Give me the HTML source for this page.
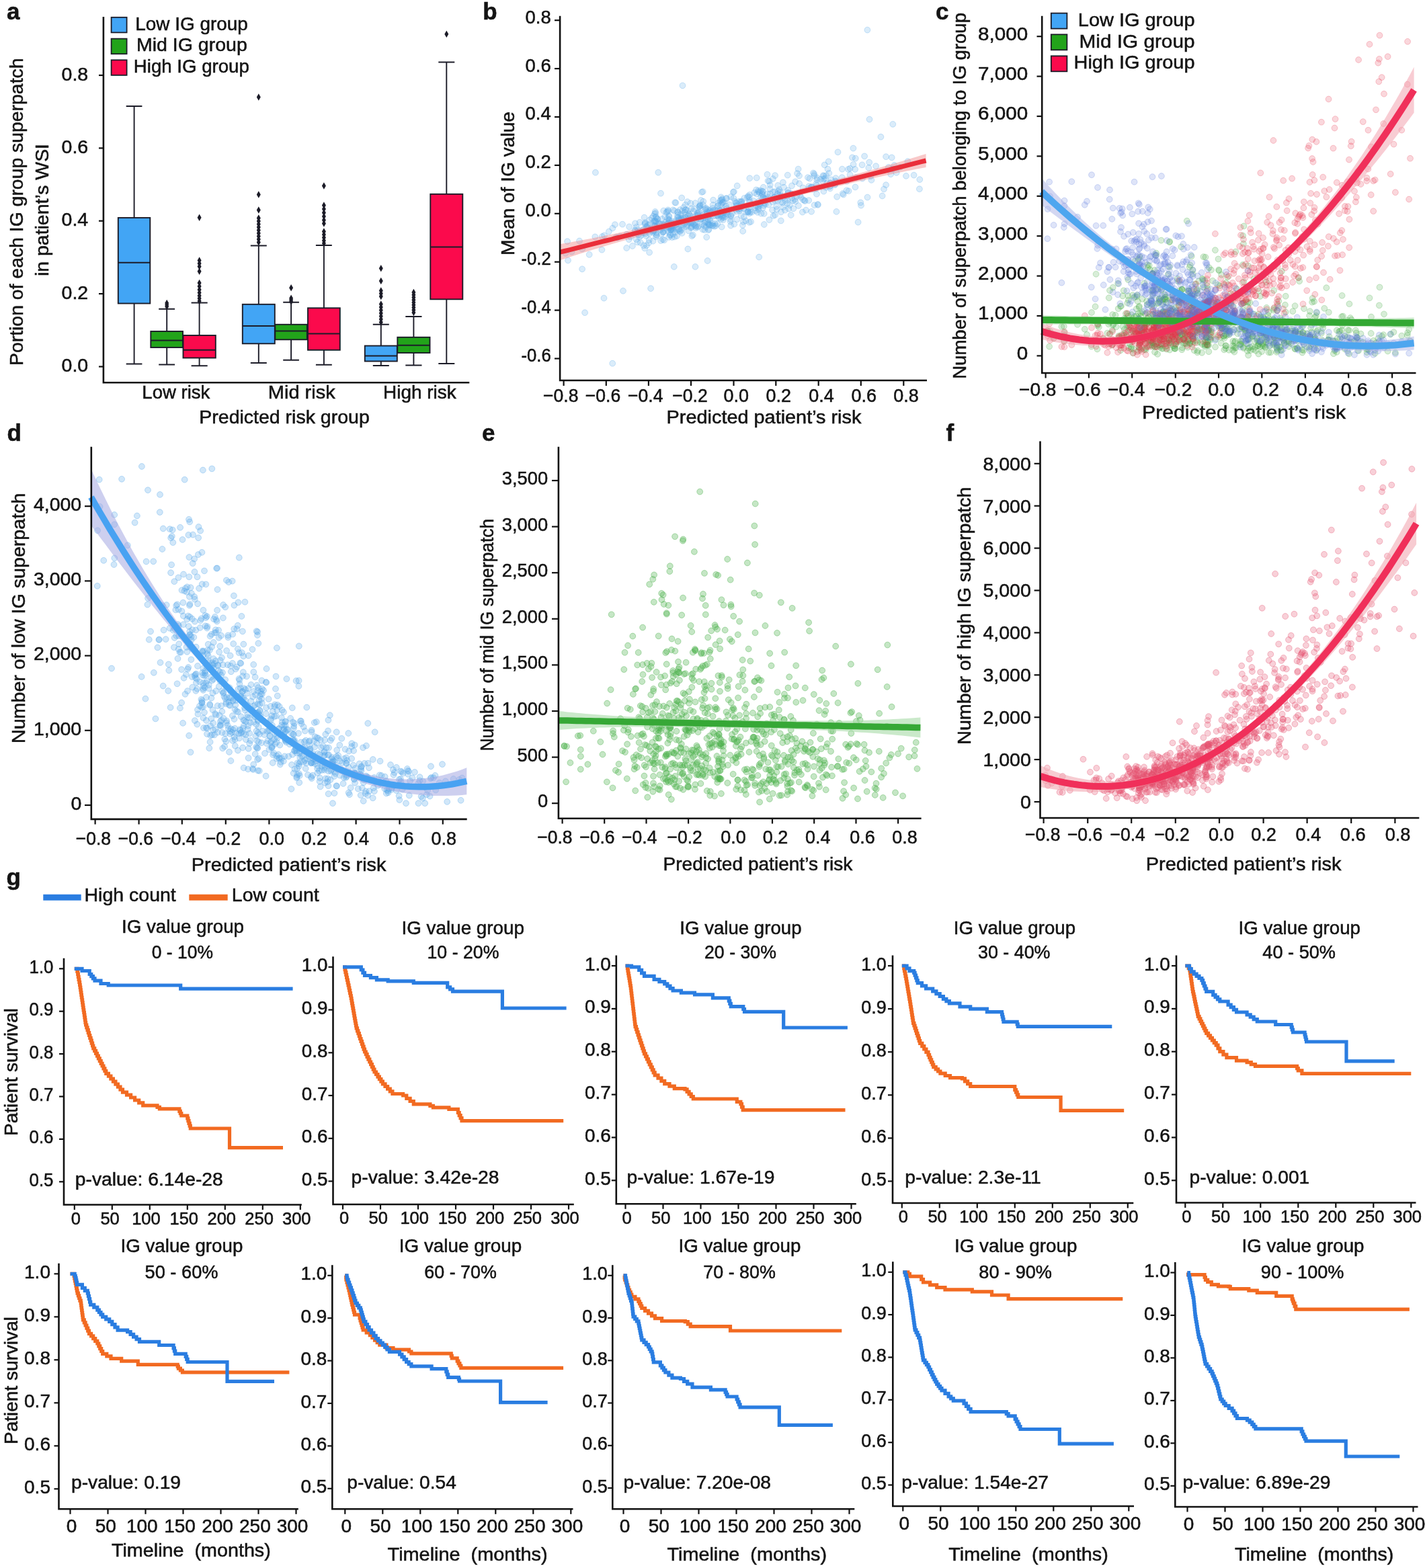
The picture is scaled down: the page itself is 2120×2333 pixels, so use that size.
<!DOCTYPE html>
<html><head><meta charset="utf-8"><title>Figure</title><style>html,body{margin:0;padding:0;background:#fff;width:2120px;height:2333px;overflow:hidden}svg{display:block}text{fill:#141414;stroke:#141414;stroke-width:0.55px;white-space:pre}</style></head><body>
<svg width="2120" height="2333" viewBox="0 0 2120 2333" font-family="Liberation Sans, Arial, sans-serif" font-size="28.5">
<rect width="2120" height="2333" fill="#fff"/>
<text x="10.0" y="28.5" font-size="35" font-weight="bold">a</text>
<path d="M153.9,25 V569.3 H698.3" stroke="#111" stroke-width="2.6" fill="none"/>
<line x1="147.0" y1="545.5" x2="153.9" y2="545.5" stroke="#111" stroke-width="2.2"/>
<text x="91.6" y="553.1">0.0</text>
<line x1="147.0" y1="437.1" x2="153.9" y2="437.1" stroke="#111" stroke-width="2.2"/>
<text x="91.6" y="444.7">0.2</text>
<line x1="147.0" y1="328.7" x2="153.9" y2="328.7" stroke="#111" stroke-width="2.2"/>
<text x="91.6" y="336.3">0.4</text>
<line x1="147.0" y1="220.4" x2="153.9" y2="220.4" stroke="#111" stroke-width="2.2"/>
<text x="91.6" y="228.0">0.6</text>
<line x1="147.0" y1="112.0" x2="153.9" y2="112.0" stroke="#111" stroke-width="2.2"/>
<text x="91.6" y="119.6">0.8</text>
<rect x="165.6" y="25.8" width="23" height="22.6" fill="#42a5f5" stroke="#1c1c28" stroke-width="1.8"/>
<rect x="165.6" y="57.6" width="23" height="22.6" fill="#22a31a" stroke="#1c1c28" stroke-width="1.8"/>
<rect x="165.6" y="89.3" width="23" height="22.6" fill="#fb0a4c" stroke="#1c1c28" stroke-width="1.8"/>
<text x="201.3" y="44.6" textLength="167.5" lengthAdjust="spacingAndGlyphs">Low IG group</text>
<text x="203.0" y="76.4">Mid IG group</text>
<text x="198.8" y="107.6" textLength="172.0" lengthAdjust="spacingAndGlyphs">High IG group</text>
<text x="211.3" y="592.6" textLength="101.1" lengthAdjust="spacingAndGlyphs">Low risk</text>
<text x="398.8" y="593.0" textLength="99.9" lengthAdjust="spacingAndGlyphs">Mid risk</text>
<text x="570.0" y="593.0" textLength="108.7" lengthAdjust="spacingAndGlyphs">High risk</text>
<text x="296.3" y="629.6">Predicted risk group</text>
<text transform="translate(33.6,544.0) rotate(-90)" x="-0.0" y="0" textLength="457.5" lengthAdjust="spacingAndGlyphs">Portion of each IG group superpatch</text>
<text transform="translate(72.0,411.0) rotate(-90)" x="-0.0" y="0" textLength="197.0" lengthAdjust="spacingAndGlyphs">in patient’s WSI</text>
<path d="M199.6,324.0 V158.0 M187.7,158.0 H211.4 M199.6,451.5 V541.5 M187.7,541.5 H211.4" stroke="#1c1c28" stroke-width="1.9" fill="none"/>
<rect x="175.8" y="324.0" width="47.5" height="127.5" fill="#42a5f5" stroke="#1c1c28" stroke-width="1.9"/>
<line x1="175.8" y1="390.8" x2="223.3" y2="390.8" stroke="#1c1c28" stroke-width="1.9"/>
<path d="M248.2,493.0 V459.8 M236.2,459.8 H260.1 M248.2,517.0 V542.5 M236.2,542.5 H260.1" stroke="#1c1c28" stroke-width="1.9" fill="none"/>
<rect x="224.3" y="493.0" width="47.7" height="24.0" fill="#22a31a" stroke="#1c1c28" stroke-width="1.9"/>
<line x1="224.3" y1="506.5" x2="272.0" y2="506.5" stroke="#1c1c28" stroke-width="1.9"/>
<path d="M248.2,445.8l3,5.2 -3,5.2 -3,-5.2zM248.2,448.3l3,5.2 -3,5.2 -3,-5.2zM248.2,450.8l3,5.2 -3,5.2 -3,-5.2z" fill="#1c1c28"/>
<path d="M296.6,499.0 V450.5 M284.6,450.5 H308.7 M296.6,532.5 V544.3 M284.6,544.3 H308.7" stroke="#1c1c28" stroke-width="1.9" fill="none"/>
<rect x="272.5" y="499.0" width="48.3" height="33.5" fill="#fb0a4c" stroke="#1c1c28" stroke-width="1.9"/>
<line x1="272.5" y1="520.8" x2="320.8" y2="520.8" stroke="#1c1c28" stroke-width="1.9"/>
<path d="M296.6,318.6l3,5.2 -3,5.2 -3,-5.2zM296.6,382.3l3,5.2 -3,5.2 -3,-5.2zM296.6,386.8l3,5.2 -3,5.2 -3,-5.2zM296.6,391.3l3,5.2 -3,5.2 -3,-5.2zM296.6,398.6l3,5.2 -3,5.2 -3,-5.2zM296.6,415.8l3,5.2 -3,5.2 -3,-5.2zM296.6,420.8l3,5.2 -3,5.2 -3,-5.2zM296.6,425.8l3,5.2 -3,5.2 -3,-5.2zM296.6,430.3l3,5.2 -3,5.2 -3,-5.2zM296.6,434.8l3,5.2 -3,5.2 -3,-5.2zM296.6,438.8l3,5.2 -3,5.2 -3,-5.2zM296.6,442.8l3,5.2 -3,5.2 -3,-5.2z" fill="#1c1c28"/>
<path d="M384.8,452.8 V365.5 M372.8,365.5 H396.8 M384.8,511.3 V540.0 M372.8,540.0 H396.8" stroke="#1c1c28" stroke-width="1.9" fill="none"/>
<rect x="360.8" y="452.8" width="48.0" height="58.5" fill="#42a5f5" stroke="#1c1c28" stroke-width="1.9"/>
<line x1="360.8" y1="485.0" x2="408.8" y2="485.0" stroke="#1c1c28" stroke-width="1.9"/>
<path d="M384.8,139.3l3,5.2 -3,5.2 -3,-5.2zM384.8,284.3l3,5.2 -3,5.2 -3,-5.2zM384.8,307.3l3,5.2 -3,5.2 -3,-5.2zM384.8,319.3l3,5.2 -3,5.2 -3,-5.2zM384.8,323.8l3,5.2 -3,5.2 -3,-5.2zM384.8,328.3l3,5.2 -3,5.2 -3,-5.2zM384.8,332.8l3,5.2 -3,5.2 -3,-5.2zM384.8,337.3l3,5.2 -3,5.2 -3,-5.2zM384.8,341.8l3,5.2 -3,5.2 -3,-5.2zM384.8,346.3l3,5.2 -3,5.2 -3,-5.2zM384.8,350.8l3,5.2 -3,5.2 -3,-5.2zM384.8,355.3l3,5.2 -3,5.2 -3,-5.2z" fill="#1c1c28"/>
<path d="M433.1,482.8 V449.8 M421.2,449.8 H444.9 M433.1,505.3 V535.8 M421.2,535.8 H444.9" stroke="#1c1c28" stroke-width="1.9" fill="none"/>
<rect x="409.3" y="482.8" width="47.5" height="22.5" fill="#22a31a" stroke="#1c1c28" stroke-width="1.9"/>
<line x1="409.3" y1="492.5" x2="456.8" y2="492.5" stroke="#1c1c28" stroke-width="1.9"/>
<path d="M433.1,423.1l3,5.2 -3,5.2 -3,-5.2zM433.1,438.6l3,5.2 -3,5.2 -3,-5.2zM433.1,441.1l3,5.2 -3,5.2 -3,-5.2zM433.1,443.6l3,5.2 -3,5.2 -3,-5.2z" fill="#1c1c28"/>
<path d="M481.9,458.3 V365.0 M469.9,365.0 H493.8 M481.9,520.8 V542.8 M469.9,542.8 H493.8" stroke="#1c1c28" stroke-width="1.9" fill="none"/>
<rect x="458.0" y="458.3" width="47.8" height="62.5" fill="#fb0a4c" stroke="#1c1c28" stroke-width="1.9"/>
<line x1="458.0" y1="496.5" x2="505.8" y2="496.5" stroke="#1c1c28" stroke-width="1.9"/>
<path d="M481.9,271.3l3,5.2 -3,5.2 -3,-5.2zM481.9,300.3l3,5.2 -3,5.2 -3,-5.2zM481.9,305.8l3,5.2 -3,5.2 -3,-5.2zM481.9,311.3l3,5.2 -3,5.2 -3,-5.2zM481.9,316.8l3,5.2 -3,5.2 -3,-5.2zM481.9,322.3l3,5.2 -3,5.2 -3,-5.2zM481.9,327.3l3,5.2 -3,5.2 -3,-5.2zM481.9,339.3l3,5.2 -3,5.2 -3,-5.2zM481.9,343.8l3,5.2 -3,5.2 -3,-5.2zM481.9,348.3l3,5.2 -3,5.2 -3,-5.2zM481.9,352.8l3,5.2 -3,5.2 -3,-5.2zM481.9,356.8l3,5.2 -3,5.2 -3,-5.2z" fill="#1c1c28"/>
<path d="M566.8,514.5 V482.8 M554.8,482.8 H578.8 M566.8,537.5 V544.0 M554.8,544.0 H578.8" stroke="#1c1c28" stroke-width="1.9" fill="none"/>
<rect x="542.8" y="514.5" width="48.0" height="23.0" fill="#42a5f5" stroke="#1c1c28" stroke-width="1.9"/>
<line x1="542.8" y1="529.5" x2="590.8" y2="529.5" stroke="#1c1c28" stroke-width="1.9"/>
<path d="M566.8,394.1l3,5.2 -3,5.2 -3,-5.2zM566.8,412.8l3,5.2 -3,5.2 -3,-5.2zM566.8,427.3l3,5.2 -3,5.2 -3,-5.2zM566.8,431.6l3,5.2 -3,5.2 -3,-5.2zM566.8,435.8l3,5.2 -3,5.2 -3,-5.2zM566.8,447.3l3,5.2 -3,5.2 -3,-5.2zM566.8,451.8l3,5.2 -3,5.2 -3,-5.2zM566.8,456.3l3,5.2 -3,5.2 -3,-5.2zM566.8,460.8l3,5.2 -3,5.2 -3,-5.2zM566.8,465.3l3,5.2 -3,5.2 -3,-5.2zM566.8,469.8l3,5.2 -3,5.2 -3,-5.2zM566.8,474.3l3,5.2 -3,5.2 -3,-5.2z" fill="#1c1c28"/>
<path d="M615.4,501.8 V471.0 M603.3,471.0 H627.5 M615.4,525.0 V543.5 M603.3,543.5 H627.5" stroke="#1c1c28" stroke-width="1.9" fill="none"/>
<rect x="591.3" y="501.8" width="48.2" height="23.2" fill="#22a31a" stroke="#1c1c28" stroke-width="1.9"/>
<line x1="591.3" y1="513.8" x2="639.5" y2="513.8" stroke="#1c1c28" stroke-width="1.9"/>
<path d="M615.4,429.8l3,5.2 -3,5.2 -3,-5.2zM615.4,433.6l3,5.2 -3,5.2 -3,-5.2zM615.4,437.3l3,5.2 -3,5.2 -3,-5.2zM615.4,441.1l3,5.2 -3,5.2 -3,-5.2zM615.4,444.8l3,5.2 -3,5.2 -3,-5.2zM615.4,448.6l3,5.2 -3,5.2 -3,-5.2zM615.4,452.3l3,5.2 -3,5.2 -3,-5.2zM615.4,456.1l3,5.2 -3,5.2 -3,-5.2zM615.4,459.8l3,5.2 -3,5.2 -3,-5.2z" fill="#1c1c28"/>
<path d="M664.3,288.8 V92.5 M652.3,92.5 H676.3 M664.3,445.3 V541.0 M652.3,541.0 H676.3" stroke="#1c1c28" stroke-width="1.9" fill="none"/>
<rect x="640.3" y="288.8" width="48.0" height="156.5" fill="#fb0a4c" stroke="#1c1c28" stroke-width="1.9"/>
<line x1="640.3" y1="367.5" x2="688.3" y2="367.5" stroke="#1c1c28" stroke-width="1.9"/>
<path d="M664.3,45.6l3,5.2 -3,5.2 -3,-5.2z" fill="#1c1c28"/>
<text x="718.2" y="28.6" font-size="35" font-weight="bold">b</text>
<clipPath id="c1"><rect x="833.1" y="0" width="551.9" height="566.0"/></clipPath>
<g clip-path="url(#c1)" fill="#58a8e8" fill-opacity="0.22" stroke="#58a8e8" stroke-opacity="0.30" stroke-width="1"><circle cx="1076.9" cy="323.8" r="4.4"/><circle cx="1310.4" cy="203.7" r="4.4"/><circle cx="995.4" cy="322.4" r="4.4"/><circle cx="1153.1" cy="261.1" r="4.4"/><circle cx="1005.4" cy="301.6" r="4.4"/><circle cx="1216.8" cy="304.9" r="4.4"/><circle cx="1242.2" cy="275.1" r="4.4"/><circle cx="1081.0" cy="318.7" r="4.4"/><circle cx="1057.2" cy="334.9" r="4.4"/><circle cx="966.4" cy="347.3" r="4.4"/><circle cx="1059.8" cy="332.6" r="4.4"/><circle cx="1103.5" cy="303.6" r="4.4"/><circle cx="1327.4" cy="251.4" r="4.4"/><circle cx="1105.9" cy="330.0" r="4.4"/><circle cx="1215.0" cy="288.7" r="4.4"/><circle cx="1225.4" cy="266.1" r="4.4"/><circle cx="1013.4" cy="324.4" r="4.4"/><circle cx="997.9" cy="340.7" r="4.4"/><circle cx="1033.2" cy="335.0" r="4.4"/><circle cx="1095.8" cy="314.3" r="4.4"/><circle cx="1024.3" cy="343.3" r="4.4"/><circle cx="1123.6" cy="309.1" r="4.4"/><circle cx="1125.7" cy="264.6" r="4.4"/><circle cx="1060.2" cy="310.0" r="4.4"/><circle cx="972.8" cy="343.2" r="4.4"/><circle cx="1007.2" cy="332.8" r="4.4"/><circle cx="1208.3" cy="278.8" r="4.4"/><circle cx="1027.3" cy="332.2" r="4.4"/><circle cx="968.4" cy="342.1" r="4.4"/><circle cx="1189.1" cy="273.1" r="4.4"/><circle cx="1008.2" cy="315.1" r="4.4"/><circle cx="1321.9" cy="248.9" r="4.4"/><circle cx="1073.7" cy="337.6" r="4.4"/><circle cx="1068.6" cy="311.8" r="4.4"/><circle cx="1262.5" cy="284.2" r="4.4"/><circle cx="1053.5" cy="326.6" r="4.4"/><circle cx="1041.8" cy="306.2" r="4.4"/><circle cx="993.9" cy="331.4" r="4.4"/><circle cx="1019.9" cy="312.2" r="4.4"/><circle cx="1038.0" cy="316.3" r="4.4"/><circle cx="1089.2" cy="317.5" r="4.4"/><circle cx="1173.3" cy="310.5" r="4.4"/><circle cx="985.1" cy="338.9" r="4.4"/><circle cx="1075.0" cy="301.4" r="4.4"/><circle cx="952.9" cy="361.1" r="4.4"/><circle cx="1339.2" cy="248.7" r="4.4"/><circle cx="966.4" cy="327.4" r="4.4"/><circle cx="1127.0" cy="315.9" r="4.4"/><circle cx="1014.0" cy="326.1" r="4.4"/><circle cx="945.0" cy="332.3" r="4.4"/><circle cx="1162.8" cy="291.6" r="4.4"/><circle cx="1062.8" cy="336.8" r="4.4"/><circle cx="1303.1" cy="247.2" r="4.4"/><circle cx="1064.9" cy="335.9" r="4.4"/><circle cx="988.1" cy="334.0" r="4.4"/><circle cx="1035.4" cy="337.1" r="4.4"/><circle cx="1106.9" cy="322.8" r="4.4"/><circle cx="1087.5" cy="321.9" r="4.4"/><circle cx="1080.4" cy="295.0" r="4.4"/><circle cx="1197.6" cy="299.2" r="4.4"/><circle cx="998.4" cy="334.4" r="4.4"/><circle cx="1071.4" cy="313.0" r="4.4"/><circle cx="1028.8" cy="338.7" r="4.4"/><circle cx="1060.6" cy="305.0" r="4.4"/><circle cx="1199.1" cy="312.7" r="4.4"/><circle cx="1105.2" cy="343.9" r="4.4"/><circle cx="1003.5" cy="335.5" r="4.4"/><circle cx="1106.6" cy="310.3" r="4.4"/><circle cx="1099.2" cy="299.8" r="4.4"/><circle cx="926.0" cy="333.7" r="4.4"/><circle cx="1149.3" cy="300.5" r="4.4"/><circle cx="1235.0" cy="280.3" r="4.4"/><circle cx="1056.1" cy="314.2" r="4.4"/><circle cx="1272.8" cy="235.6" r="4.4"/><circle cx="994.7" cy="345.6" r="4.4"/><circle cx="1040.2" cy="316.0" r="4.4"/><circle cx="1178.0" cy="294.9" r="4.4"/><circle cx="1067.3" cy="306.8" r="4.4"/><circle cx="1155.3" cy="307.1" r="4.4"/><circle cx="1245.2" cy="292.8" r="4.4"/><circle cx="850.5" cy="374.7" r="4.4"/><circle cx="1172.2" cy="283.1" r="4.4"/><circle cx="1171.6" cy="296.9" r="4.4"/><circle cx="975.4" cy="330.4" r="4.4"/><circle cx="944.3" cy="342.6" r="4.4"/><circle cx="1286.1" cy="232.4" r="4.4"/><circle cx="1229.2" cy="261.2" r="4.4"/><circle cx="1135.8" cy="293.8" r="4.4"/><circle cx="1014.2" cy="294.4" r="4.4"/><circle cx="1045.8" cy="325.2" r="4.4"/><circle cx="984.0" cy="348.3" r="4.4"/><circle cx="1225.4" cy="284.7" r="4.4"/><circle cx="975.9" cy="352.4" r="4.4"/><circle cx="1067.3" cy="333.0" r="4.4"/><circle cx="1040.5" cy="307.5" r="4.4"/><circle cx="1312.6" cy="291.5" r="4.4"/><circle cx="1153.0" cy="285.2" r="4.4"/><circle cx="1134.5" cy="294.2" r="4.4"/><circle cx="1051.7" cy="318.3" r="4.4"/><circle cx="987.2" cy="339.5" r="4.4"/><circle cx="1039.3" cy="336.5" r="4.4"/><circle cx="1021.5" cy="337.0" r="4.4"/><circle cx="1174.7" cy="305.2" r="4.4"/><circle cx="1115.0" cy="300.7" r="4.4"/><circle cx="1136.2" cy="305.7" r="4.4"/><circle cx="1149.8" cy="266.0" r="4.4"/><circle cx="1117.1" cy="329.9" r="4.4"/><circle cx="950.7" cy="345.3" r="4.4"/><circle cx="935.7" cy="356.3" r="4.4"/><circle cx="968.1" cy="344.6" r="4.4"/><circle cx="1086.6" cy="329.6" r="4.4"/><circle cx="1094.0" cy="311.7" r="4.4"/><circle cx="1150.5" cy="321.0" r="4.4"/><circle cx="1049.5" cy="310.9" r="4.4"/><circle cx="1145.5" cy="281.0" r="4.4"/><circle cx="1003.5" cy="352.5" r="4.4"/><circle cx="1081.1" cy="310.1" r="4.4"/><circle cx="1045.6" cy="319.8" r="4.4"/><circle cx="1150.4" cy="294.6" r="4.4"/><circle cx="1024.5" cy="318.3" r="4.4"/><circle cx="972.5" cy="329.8" r="4.4"/><circle cx="1046.3" cy="299.7" r="4.4"/><circle cx="1177.7" cy="289.0" r="4.4"/><circle cx="1153.1" cy="320.0" r="4.4"/><circle cx="1101.1" cy="310.2" r="4.4"/><circle cx="1269.4" cy="220.6" r="4.4"/><circle cx="1292.3" cy="249.7" r="4.4"/><circle cx="1006.0" cy="333.7" r="4.4"/><circle cx="1024.3" cy="325.2" r="4.4"/><circle cx="1134.3" cy="284.6" r="4.4"/><circle cx="1072.9" cy="303.5" r="4.4"/><circle cx="966.1" cy="375.6" r="4.4"/><circle cx="1164.9" cy="271.4" r="4.4"/><circle cx="999.4" cy="340.2" r="4.4"/><circle cx="1128.0" cy="309.6" r="4.4"/><circle cx="1125.2" cy="306.2" r="4.4"/><circle cx="1060.6" cy="335.9" r="4.4"/><circle cx="1059.6" cy="335.5" r="4.4"/><circle cx="1008.1" cy="320.3" r="4.4"/><circle cx="1145.7" cy="275.2" r="4.4"/><circle cx="1191.8" cy="293.6" r="4.4"/><circle cx="1054.2" cy="333.1" r="4.4"/><circle cx="1143.4" cy="304.6" r="4.4"/><circle cx="1041.4" cy="305.0" r="4.4"/><circle cx="1207.3" cy="277.9" r="4.4"/><circle cx="1330.5" cy="246.0" r="4.4"/><circle cx="995.9" cy="337.7" r="4.4"/><circle cx="1059.8" cy="315.0" r="4.4"/><circle cx="1073.5" cy="321.2" r="4.4"/><circle cx="973.4" cy="342.1" r="4.4"/><circle cx="1142.8" cy="293.6" r="4.4"/><circle cx="866.2" cy="370.5" r="4.4"/><circle cx="1071.7" cy="318.3" r="4.4"/><circle cx="1031.5" cy="333.3" r="4.4"/><circle cx="1065.0" cy="321.2" r="4.4"/><circle cx="1116.7" cy="307.3" r="4.4"/><circle cx="1156.9" cy="298.4" r="4.4"/><circle cx="1062.7" cy="313.1" r="4.4"/><circle cx="1224.0" cy="269.9" r="4.4"/><circle cx="988.2" cy="357.3" r="4.4"/><circle cx="1149.1" cy="312.4" r="4.4"/><circle cx="866.1" cy="400.3" r="4.4"/><circle cx="885.3" cy="352.4" r="4.4"/><circle cx="1115.3" cy="289.9" r="4.4"/><circle cx="1128.1" cy="283.5" r="4.4"/><circle cx="1091.9" cy="285.2" r="4.4"/><circle cx="1032.9" cy="311.1" r="4.4"/><circle cx="1283.0" cy="265.6" r="4.4"/><circle cx="1008.8" cy="341.4" r="4.4"/><circle cx="993.0" cy="343.0" r="4.4"/><circle cx="1293.2" cy="241.6" r="4.4"/><circle cx="992.5" cy="314.8" r="4.4"/><circle cx="999.7" cy="329.1" r="4.4"/><circle cx="976.2" cy="349.2" r="4.4"/><circle cx="1161.9" cy="315.4" r="4.4"/><circle cx="1068.0" cy="320.7" r="4.4"/><circle cx="1036.0" cy="326.6" r="4.4"/><circle cx="1042.5" cy="325.4" r="4.4"/><circle cx="1180.4" cy="310.3" r="4.4"/><circle cx="1054.6" cy="341.1" r="4.4"/><circle cx="967.2" cy="341.2" r="4.4"/><circle cx="1214.2" cy="273.5" r="4.4"/><circle cx="983.1" cy="358.1" r="4.4"/><circle cx="995.4" cy="326.9" r="4.4"/><circle cx="986.5" cy="345.6" r="4.4"/><circle cx="862.0" cy="358.5" r="4.4"/><circle cx="1072.8" cy="293.3" r="4.4"/><circle cx="1208.9" cy="281.7" r="4.4"/><circle cx="1125.9" cy="288.6" r="4.4"/><circle cx="1234.8" cy="272.1" r="4.4"/><circle cx="1172.4" cy="287.6" r="4.4"/><circle cx="955.2" cy="342.6" r="4.4"/><circle cx="1075.2" cy="316.8" r="4.4"/><circle cx="1228.6" cy="278.9" r="4.4"/><circle cx="1068.7" cy="302.5" r="4.4"/><circle cx="1134.9" cy="309.2" r="4.4"/><circle cx="1140.1" cy="295.6" r="4.4"/><circle cx="1047.9" cy="332.2" r="4.4"/><circle cx="1254.8" cy="289.6" r="4.4"/><circle cx="1318.1" cy="275.2" r="4.4"/><circle cx="973.7" cy="328.6" r="4.4"/><circle cx="1104.9" cy="335.1" r="4.4"/><circle cx="974.7" cy="337.0" r="4.4"/><circle cx="1215.8" cy="264.6" r="4.4"/><circle cx="1315.0" cy="281.4" r="4.4"/><circle cx="1165.0" cy="308.0" r="4.4"/><circle cx="995.4" cy="339.4" r="4.4"/><circle cx="1162.2" cy="300.4" r="4.4"/><circle cx="940.9" cy="366.0" r="4.4"/><circle cx="1096.7" cy="276.5" r="4.4"/><circle cx="1112.5" cy="315.7" r="4.4"/><circle cx="1001.0" cy="334.5" r="4.4"/><circle cx="1020.1" cy="312.1" r="4.4"/><circle cx="1042.5" cy="326.5" r="4.4"/><circle cx="1194.6" cy="279.4" r="4.4"/><circle cx="932.4" cy="348.7" r="4.4"/><circle cx="1153.0" cy="298.7" r="4.4"/><circle cx="1295.2" cy="262.3" r="4.4"/><circle cx="914.9" cy="334.2" r="4.4"/><circle cx="1075.5" cy="321.7" r="4.4"/><circle cx="1000.9" cy="337.9" r="4.4"/><circle cx="980.3" cy="331.6" r="4.4"/><circle cx="1264.6" cy="260.0" r="4.4"/><circle cx="1224.6" cy="261.1" r="4.4"/><circle cx="1014.7" cy="346.9" r="4.4"/><circle cx="1098.5" cy="311.4" r="4.4"/><circle cx="1333.7" cy="256.9" r="4.4"/><circle cx="992.7" cy="333.6" r="4.4"/><circle cx="1029.4" cy="351.1" r="4.4"/><circle cx="1350.4" cy="240.2" r="4.4"/><circle cx="995.1" cy="352.9" r="4.4"/><circle cx="1077.8" cy="315.5" r="4.4"/><circle cx="1074.3" cy="295.9" r="4.4"/><circle cx="1296.4" cy="267.9" r="4.4"/><circle cx="1010.4" cy="341.4" r="4.4"/><circle cx="953.8" cy="350.3" r="4.4"/><circle cx="1028.5" cy="310.5" r="4.4"/><circle cx="993.5" cy="325.3" r="4.4"/><circle cx="1001.1" cy="342.3" r="4.4"/><circle cx="936.1" cy="337.4" r="4.4"/><circle cx="1234.3" cy="277.7" r="4.4"/><circle cx="1017.6" cy="338.0" r="4.4"/><circle cx="1060.7" cy="313.3" r="4.4"/><circle cx="1115.0" cy="317.3" r="4.4"/><circle cx="1076.6" cy="315.0" r="4.4"/><circle cx="1091.3" cy="294.8" r="4.4"/><circle cx="1037.7" cy="317.6" r="4.4"/><circle cx="1006.9" cy="351.1" r="4.4"/><circle cx="1047.3" cy="322.3" r="4.4"/><circle cx="1101.6" cy="310.9" r="4.4"/><circle cx="977.8" cy="340.7" r="4.4"/><circle cx="1259.8" cy="269.7" r="4.4"/><circle cx="961.9" cy="365.2" r="4.4"/><circle cx="1233.3" cy="257.7" r="4.4"/><circle cx="946.6" cy="356.1" r="4.4"/><circle cx="1156.7" cy="288.9" r="4.4"/><circle cx="1085.0" cy="304.6" r="4.4"/><circle cx="1246.5" cy="226.3" r="4.4"/><circle cx="1032.1" cy="314.5" r="4.4"/><circle cx="1243.3" cy="265.1" r="4.4"/><circle cx="1076.1" cy="327.1" r="4.4"/><circle cx="1074.8" cy="301.7" r="4.4"/><circle cx="1083.2" cy="319.7" r="4.4"/><circle cx="1069.6" cy="324.0" r="4.4"/><circle cx="844.1" cy="359.2" r="4.4"/><circle cx="1172.3" cy="286.5" r="4.4"/><circle cx="1001.5" cy="339.9" r="4.4"/><circle cx="1087.1" cy="335.6" r="4.4"/><circle cx="1050.2" cy="309.6" r="4.4"/><circle cx="1242.6" cy="269.3" r="4.4"/><circle cx="1034.8" cy="335.8" r="4.4"/><circle cx="1210.0" cy="257.4" r="4.4"/><circle cx="1235.4" cy="276.7" r="4.4"/><circle cx="1115.2" cy="298.3" r="4.4"/><circle cx="1160.2" cy="293.5" r="4.4"/><circle cx="1203.4" cy="277.3" r="4.4"/><circle cx="1114.7" cy="293.3" r="4.4"/><circle cx="997.2" cy="349.1" r="4.4"/><circle cx="1273.7" cy="264.0" r="4.4"/><circle cx="1029.9" cy="330.6" r="4.4"/><circle cx="1242.4" cy="273.8" r="4.4"/><circle cx="1056.1" cy="327.5" r="4.4"/><circle cx="1138.8" cy="303.9" r="4.4"/><circle cx="974.9" cy="328.2" r="4.4"/><circle cx="1055.2" cy="335.2" r="4.4"/><circle cx="1189.9" cy="290.5" r="4.4"/><circle cx="1152.5" cy="293.5" r="4.4"/><circle cx="1196.8" cy="298.1" r="4.4"/><circle cx="1269.6" cy="244.7" r="4.4"/><circle cx="1178.0" cy="276.4" r="4.4"/><circle cx="1061.0" cy="321.7" r="4.4"/><circle cx="1290.5" cy="293.6" r="4.4"/><circle cx="990.2" cy="330.3" r="4.4"/><circle cx="1134.7" cy="285.0" r="4.4"/><circle cx="1042.8" cy="298.0" r="4.4"/><circle cx="1081.0" cy="295.4" r="4.4"/><circle cx="1012.8" cy="318.5" r="4.4"/><circle cx="1071.6" cy="298.8" r="4.4"/><circle cx="962.7" cy="337.2" r="4.4"/><circle cx="1135.7" cy="278.7" r="4.4"/><circle cx="1094.8" cy="301.7" r="4.4"/><circle cx="1077.0" cy="300.8" r="4.4"/><circle cx="1113.2" cy="315.4" r="4.4"/><circle cx="1013.8" cy="328.4" r="4.4"/><circle cx="1009.1" cy="323.6" r="4.4"/><circle cx="1201.9" cy="264.1" r="4.4"/><circle cx="937.9" cy="352.4" r="4.4"/><circle cx="1368.3" cy="267.1" r="4.4"/><circle cx="975.6" cy="329.4" r="4.4"/><circle cx="1027.5" cy="302.5" r="4.4"/><circle cx="1096.5" cy="326.3" r="4.4"/><circle cx="1159.2" cy="282.1" r="4.4"/><circle cx="1107.3" cy="294.8" r="4.4"/><circle cx="1071.1" cy="320.1" r="4.4"/><circle cx="1102.6" cy="320.9" r="4.4"/><circle cx="1128.6" cy="311.8" r="4.4"/><circle cx="1220.8" cy="266.7" r="4.4"/><circle cx="1068.6" cy="305.6" r="4.4"/><circle cx="1047.7" cy="335.7" r="4.4"/><circle cx="951.7" cy="330.8" r="4.4"/><circle cx="1079.0" cy="322.2" r="4.4"/><circle cx="1226.7" cy="245.4" r="4.4"/><circle cx="1070.9" cy="313.9" r="4.4"/><circle cx="1136.8" cy="334.0" r="4.4"/><circle cx="1052.6" cy="311.3" r="4.4"/><circle cx="1044.3" cy="333.7" r="4.4"/><circle cx="971.9" cy="321.7" r="4.4"/><circle cx="1166.1" cy="278.7" r="4.4"/><circle cx="1186.1" cy="258.0" r="4.4"/><circle cx="1207.1" cy="314.8" r="4.4"/><circle cx="982.5" cy="342.2" r="4.4"/><circle cx="957.5" cy="365.2" r="4.4"/><circle cx="1021.5" cy="329.8" r="4.4"/><circle cx="1016.1" cy="335.7" r="4.4"/><circle cx="958.6" cy="323.6" r="4.4"/><circle cx="995.4" cy="328.0" r="4.4"/><circle cx="1227.8" cy="265.4" r="4.4"/><circle cx="959.7" cy="331.2" r="4.4"/><circle cx="1038.0" cy="337.9" r="4.4"/><circle cx="1113.8" cy="309.3" r="4.4"/><circle cx="1282.6" cy="245.3" r="4.4"/><circle cx="986.4" cy="345.4" r="4.4"/><circle cx="1099.9" cy="313.6" r="4.4"/><circle cx="1008.3" cy="316.2" r="4.4"/><circle cx="963.8" cy="334.9" r="4.4"/><circle cx="1179.7" cy="298.5" r="4.4"/><circle cx="1235.3" cy="272.5" r="4.4"/><circle cx="1044.0" cy="285.9" r="4.4"/><circle cx="1046.0" cy="304.8" r="4.4"/><circle cx="1261.9" cy="251.8" r="4.4"/><circle cx="1045.7" cy="285.2" r="4.4"/><circle cx="1211.4" cy="261.3" r="4.4"/><circle cx="1272.4" cy="278.4" r="4.4"/><circle cx="1038.3" cy="319.4" r="4.4"/><circle cx="1244.1" cy="270.3" r="4.4"/><circle cx="1005.2" cy="328.5" r="4.4"/><circle cx="1054.3" cy="316.3" r="4.4"/><circle cx="1138.2" cy="299.1" r="4.4"/><circle cx="965.2" cy="361.3" r="4.4"/><circle cx="1264.6" cy="250.7" r="4.4"/><circle cx="1065.2" cy="313.2" r="4.4"/><circle cx="1244.4" cy="314.9" r="4.4"/><circle cx="1115.3" cy="265.2" r="4.4"/><circle cx="1048.3" cy="342.1" r="4.4"/><circle cx="899.0" cy="350.3" r="4.4"/><circle cx="1134.5" cy="289.7" r="4.4"/><circle cx="1092.3" cy="333.5" r="4.4"/><circle cx="1017.6" cy="325.8" r="4.4"/><circle cx="961.6" cy="337.1" r="4.4"/><circle cx="1164.2" cy="301.9" r="4.4"/><circle cx="1142.6" cy="269.1" r="4.4"/><circle cx="1124.0" cy="313.4" r="4.4"/><circle cx="1211.3" cy="258.9" r="4.4"/><circle cx="1203.5" cy="280.6" r="4.4"/><circle cx="1080.1" cy="306.5" r="4.4"/><circle cx="981.7" cy="333.7" r="4.4"/><circle cx="1213.9" cy="280.5" r="4.4"/><circle cx="959.8" cy="347.9" r="4.4"/><circle cx="956.0" cy="345.0" r="4.4"/><circle cx="1185.6" cy="292.2" r="4.4"/><circle cx="983.0" cy="287.7" r="4.4"/><circle cx="1029.3" cy="336.7" r="4.4"/><circle cx="976.1" cy="322.5" r="4.4"/><circle cx="960.0" cy="332.5" r="4.4"/><circle cx="1087.6" cy="320.4" r="4.4"/><circle cx="1130.6" cy="305.7" r="4.4"/><circle cx="1041.5" cy="310.1" r="4.4"/><circle cx="1167.8" cy="312.7" r="4.4"/><circle cx="1052.0" cy="315.3" r="4.4"/><circle cx="1056.6" cy="324.9" r="4.4"/><circle cx="1032.4" cy="323.7" r="4.4"/><circle cx="1010.7" cy="343.5" r="4.4"/><circle cx="1047.4" cy="318.3" r="4.4"/><circle cx="876.7" cy="378.8" r="4.4"/><circle cx="845.0" cy="387.4" r="4.4"/><circle cx="1125.0" cy="282.5" r="4.4"/><circle cx="997.7" cy="342.1" r="4.4"/><circle cx="1144.4" cy="327.1" r="4.4"/><circle cx="1112.8" cy="291.8" r="4.4"/><circle cx="1110.2" cy="315.4" r="4.4"/><circle cx="1023.4" cy="370.5" r="4.4"/><circle cx="1318.1" cy="233.2" r="4.4"/><circle cx="980.1" cy="333.5" r="4.4"/><circle cx="973.9" cy="318.2" r="4.4"/><circle cx="1054.0" cy="320.9" r="4.4"/><circle cx="1141.6" cy="288.8" r="4.4"/><circle cx="1253.7" cy="288.0" r="4.4"/><circle cx="1103.4" cy="300.5" r="4.4"/><circle cx="1095.3" cy="307.0" r="4.4"/><circle cx="1280.3" cy="301.4" r="4.4"/><circle cx="1325.2" cy="259.2" r="4.4"/><circle cx="1132.4" cy="317.7" r="4.4"/><circle cx="1093.4" cy="299.8" r="4.4"/><circle cx="1026.6" cy="321.7" r="4.4"/><circle cx="948.3" cy="360.3" r="4.4"/><circle cx="1141.5" cy="259.6" r="4.4"/><circle cx="1130.0" cy="286.5" r="4.4"/><circle cx="984.7" cy="325.9" r="4.4"/><circle cx="1030.9" cy="349.5" r="4.4"/><circle cx="959.2" cy="369.4" r="4.4"/><circle cx="1232.7" cy="240.3" r="4.4"/><circle cx="971.6" cy="345.7" r="4.4"/><circle cx="1015.7" cy="320.6" r="4.4"/><circle cx="994.2" cy="314.2" r="4.4"/><circle cx="995.5" cy="337.0" r="4.4"/><circle cx="1109.4" cy="328.5" r="4.4"/><circle cx="991.3" cy="316.0" r="4.4"/><circle cx="975.6" cy="323.4" r="4.4"/><circle cx="1101.6" cy="300.4" r="4.4"/><circle cx="1013.9" cy="342.0" r="4.4"/><circle cx="1204.6" cy="265.6" r="4.4"/><circle cx="1144.5" cy="269.6" r="4.4"/><circle cx="1017.0" cy="308.7" r="4.4"/><circle cx="1049.2" cy="330.2" r="4.4"/><circle cx="978.0" cy="325.7" r="4.4"/><circle cx="1252.9" cy="251.6" r="4.4"/><circle cx="1211.6" cy="305.2" r="4.4"/><circle cx="999.9" cy="353.1" r="4.4"/><circle cx="998.4" cy="342.2" r="4.4"/><circle cx="1136.7" cy="317.9" r="4.4"/><circle cx="1160.6" cy="285.6" r="4.4"/><circle cx="1009.3" cy="333.3" r="4.4"/><circle cx="1193.9" cy="315.6" r="4.4"/><circle cx="1096.6" cy="310.1" r="4.4"/><circle cx="1230.0" cy="273.4" r="4.4"/><circle cx="1103.4" cy="299.3" r="4.4"/><circle cx="1132.3" cy="292.6" r="4.4"/><circle cx="1121.1" cy="298.9" r="4.4"/><circle cx="1052.6" cy="388.0" r="4.4"/><circle cx="1133.9" cy="287.9" r="4.4"/><circle cx="1074.4" cy="297.5" r="4.4"/><circle cx="1252.7" cy="264.1" r="4.4"/><circle cx="1074.3" cy="323.7" r="4.4"/><circle cx="1079.3" cy="317.3" r="4.4"/><circle cx="976.5" cy="346.4" r="4.4"/><circle cx="1011.8" cy="344.3" r="4.4"/><circle cx="988.7" cy="335.1" r="4.4"/><circle cx="1011.7" cy="327.9" r="4.4"/><circle cx="1025.7" cy="319.5" r="4.4"/><circle cx="1040.6" cy="307.1" r="4.4"/><circle cx="949.8" cy="349.2" r="4.4"/><circle cx="1114.7" cy="330.8" r="4.4"/><circle cx="1053.9" cy="342.4" r="4.4"/><circle cx="1001.2" cy="348.5" r="4.4"/><circle cx="1157.9" cy="284.5" r="4.4"/><circle cx="1067.0" cy="320.4" r="4.4"/><circle cx="961.1" cy="351.0" r="4.4"/><circle cx="1183.1" cy="270.3" r="4.4"/><circle cx="1203.2" cy="298.2" r="4.4"/><circle cx="1326.7" cy="234.4" r="4.4"/><circle cx="998.3" cy="338.7" r="4.4"/><circle cx="1259.5" cy="283.3" r="4.4"/><circle cx="997.0" cy="335.4" r="4.4"/><circle cx="1095.5" cy="302.8" r="4.4"/><circle cx="1061.1" cy="297.7" r="4.4"/><circle cx="1112.0" cy="293.7" r="4.4"/><circle cx="1051.2" cy="352.9" r="4.4"/><circle cx="1013.5" cy="334.4" r="4.4"/><circle cx="1176.7" cy="320.0" r="4.4"/><circle cx="1018.3" cy="333.0" r="4.4"/><circle cx="966.6" cy="333.3" r="4.4"/><circle cx="997.0" cy="350.3" r="4.4"/><circle cx="964.2" cy="339.9" r="4.4"/><circle cx="1267.9" cy="234.4" r="4.4"/><circle cx="1236.6" cy="267.3" r="4.4"/><circle cx="1145.6" cy="288.4" r="4.4"/><circle cx="1034.4" cy="302.2" r="4.4"/><circle cx="1168.1" cy="298.3" r="4.4"/><circle cx="1177.4" cy="288.2" r="4.4"/><circle cx="1095.2" cy="305.6" r="4.4"/><circle cx="995.0" cy="321.0" r="4.4"/><circle cx="1000.8" cy="333.0" r="4.4"/><circle cx="1112.8" cy="314.7" r="4.4"/><circle cx="1206.7" cy="278.7" r="4.4"/><circle cx="1161.8" cy="328.4" r="4.4"/><circle cx="1281.0" cy="305.6" r="4.4"/><circle cx="1011.9" cy="312.1" r="4.4"/><circle cx="986.0" cy="356.4" r="4.4"/><circle cx="1019.8" cy="323.6" r="4.4"/><circle cx="1187.9" cy="306.1" r="4.4"/><circle cx="1225.4" cy="262.0" r="4.4"/><circle cx="995.3" cy="331.8" r="4.4"/><circle cx="1128.2" cy="299.8" r="4.4"/><circle cx="1050.3" cy="313.0" r="4.4"/><circle cx="1019.6" cy="304.9" r="4.4"/><circle cx="1122.3" cy="286.8" r="4.4"/><circle cx="1359.6" cy="260.6" r="4.4"/><circle cx="1054.3" cy="322.1" r="4.4"/><circle cx="1038.5" cy="325.9" r="4.4"/><circle cx="976.9" cy="337.5" r="4.4"/><circle cx="1022.2" cy="334.7" r="4.4"/><circle cx="946.7" cy="337.8" r="4.4"/><circle cx="922.8" cy="351.5" r="4.4"/><circle cx="1010.2" cy="325.5" r="4.4"/><circle cx="1004.8" cy="331.3" r="4.4"/><circle cx="1150.1" cy="285.7" r="4.4"/><circle cx="1155.8" cy="311.6" r="4.4"/><circle cx="1001.3" cy="312.4" r="4.4"/><circle cx="1016.7" cy="324.1" r="4.4"/><circle cx="1023.6" cy="321.0" r="4.4"/><circle cx="1272.1" cy="251.9" r="4.4"/><circle cx="959.4" cy="333.5" r="4.4"/><circle cx="1082.2" cy="314.3" r="4.4"/><circle cx="1231.5" cy="251.6" r="4.4"/><circle cx="971.8" cy="343.5" r="4.4"/><circle cx="999.9" cy="336.5" r="4.4"/><circle cx="1004.2" cy="301.3" r="4.4"/><circle cx="1152.5" cy="293.4" r="4.4"/><circle cx="911.3" cy="339.5" r="4.4"/><circle cx="978.3" cy="325.9" r="4.4"/><circle cx="969.6" cy="324.5" r="4.4"/><circle cx="965.8" cy="357.0" r="4.4"/><circle cx="977.0" cy="350.4" r="4.4"/><circle cx="975.4" cy="317.1" r="4.4"/><circle cx="1035.5" cy="320.7" r="4.4"/><circle cx="1038.1" cy="320.5" r="4.4"/><circle cx="1025.0" cy="329.6" r="4.4"/><circle cx="1074.7" cy="312.3" r="4.4"/><circle cx="987.7" cy="336.0" r="4.4"/><circle cx="1128.1" cy="307.1" r="4.4"/><circle cx="974.2" cy="335.7" r="4.4"/><circle cx="1050.0" cy="337.7" r="4.4"/><circle cx="1216.7" cy="304.0" r="4.4"/><circle cx="1009.7" cy="327.1" r="4.4"/><circle cx="1072.5" cy="326.4" r="4.4"/><circle cx="1027.7" cy="338.7" r="4.4"/><circle cx="1187.6" cy="251.6" r="4.4"/><circle cx="932.2" cy="369.0" r="4.4"/><circle cx="993.8" cy="312.4" r="4.4"/><circle cx="1194.4" cy="297.1" r="4.4"/><circle cx="993.5" cy="337.3" r="4.4"/><circle cx="841.3" cy="376.9" r="4.4"/><circle cx="1018.9" cy="315.9" r="4.4"/><circle cx="1137.5" cy="302.0" r="4.4"/><circle cx="1116.2" cy="315.5" r="4.4"/><circle cx="1087.2" cy="292.9" r="4.4"/><circle cx="1137.7" cy="295.7" r="4.4"/><circle cx="1047.3" cy="324.2" r="4.4"/><circle cx="972.5" cy="335.5" r="4.4"/><circle cx="1160.0" cy="290.8" r="4.4"/><circle cx="1015.4" cy="313.5" r="4.4"/><circle cx="1118.5" cy="315.8" r="4.4"/><circle cx="916.6" cy="353.0" r="4.4"/><circle cx="1072.3" cy="297.8" r="4.4"/><circle cx="1171.8" cy="260.6" r="4.4"/><circle cx="918.7" cy="353.8" r="4.4"/><circle cx="1007.8" cy="323.6" r="4.4"/><circle cx="1189.0" cy="261.5" r="4.4"/><circle cx="958.4" cy="346.5" r="4.4"/><circle cx="1052.9" cy="330.8" r="4.4"/><circle cx="1128.4" cy="285.4" r="4.4"/><circle cx="895.8" cy="352.0" r="4.4"/><circle cx="1000.8" cy="334.7" r="4.4"/><circle cx="945.5" cy="343.0" r="4.4"/><circle cx="1367.9" cy="281.2" r="4.4"/><circle cx="1023.0" cy="327.3" r="4.4"/><circle cx="1090.8" cy="285.9" r="4.4"/><circle cx="1131.1" cy="302.3" r="4.4"/><circle cx="1055.7" cy="312.9" r="4.4"/><circle cx="949.1" cy="342.0" r="4.4"/><circle cx="957.5" cy="341.4" r="4.4"/><circle cx="999.2" cy="336.6" r="4.4"/><circle cx="1003.2" cy="313.8" r="4.4"/><circle cx="1276.6" cy="330.6" r="4.4"/><circle cx="1183.4" cy="299.8" r="4.4"/><circle cx="951.3" cy="352.7" r="4.4"/><circle cx="987.3" cy="344.2" r="4.4"/><circle cx="999.1" cy="331.9" r="4.4"/><circle cx="1063.7" cy="332.7" r="4.4"/><circle cx="1131.4" cy="283.6" r="4.4"/><circle cx="1045.4" cy="341.4" r="4.4"/><circle cx="971.5" cy="358.7" r="4.4"/><circle cx="1215.1" cy="275.7" r="4.4"/><circle cx="1077.3" cy="310.5" r="4.4"/><circle cx="1034.7" cy="330.6" r="4.4"/><circle cx="1053.4" cy="332.9" r="4.4"/><circle cx="1025.0" cy="331.9" r="4.4"/><circle cx="1157.2" cy="276.0" r="4.4"/><circle cx="1086.8" cy="326.5" r="4.4"/><circle cx="1022.7" cy="300.2" r="4.4"/><circle cx="1004.9" cy="345.6" r="4.4"/><circle cx="1171.4" cy="302.5" r="4.4"/><circle cx="1054.3" cy="334.8" r="4.4"/><circle cx="1035.1" cy="339.2" r="4.4"/><circle cx="1130.1" cy="303.2" r="4.4"/><circle cx="1165.2" cy="293.4" r="4.4"/><circle cx="1215.2" cy="267.3" r="4.4"/><circle cx="1022.9" cy="313.2" r="4.4"/><circle cx="905.9" cy="344.6" r="4.4"/><circle cx="1182.6" cy="296.8" r="4.4"/><circle cx="987.2" cy="313.6" r="4.4"/><circle cx="1007.4" cy="341.7" r="4.4"/><circle cx="1028.7" cy="330.8" r="4.4"/><circle cx="974.7" cy="315.0" r="4.4"/><circle cx="989.3" cy="322.3" r="4.4"/><circle cx="1170.9" cy="291.6" r="4.4"/><circle cx="979.3" cy="256.6" r="4.4"/><circle cx="985.2" cy="333.5" r="4.4"/><circle cx="1348.0" cy="261.8" r="4.4"/><circle cx="1290.4" cy="44.6" r="4.4"/><circle cx="1015.5" cy="127.3" r="4.4"/><circle cx="870.1" cy="465.2" r="4.4"/><circle cx="911.2" cy="540.7" r="4.4"/><circle cx="898.5" cy="443.6" r="4.4"/><circle cx="927.0" cy="432.8" r="4.4"/><circle cx="968.1" cy="429.2" r="4.4"/><circle cx="885.9" cy="256.7" r="4.4"/><circle cx="1129.2" cy="382.5" r="4.4"/><circle cx="1002.8" cy="396.9" r="4.4"/><circle cx="1034.4" cy="396.9" r="4.4"/><circle cx="895.4" cy="371.7" r="4.4"/><circle cx="1293.5" cy="177.6" r="4.4"/><circle cx="1328.3" cy="184.8" r="4.4"/></g>
<polygon points="833.1,363.2 840.0,362.1 846.9,360.9 853.8,359.6 860.7,358.4 867.6,357.1 874.5,355.8 881.4,354.5 888.3,353.1 895.2,351.7 902.0,350.3 908.9,348.9 915.8,347.5 922.7,346.0 929.6,344.5 936.5,343.0 943.4,341.5 950.3,340.0 957.2,338.4 964.1,336.9 971.0,335.3 977.9,333.7 984.8,332.1 991.6,330.5 998.5,328.9 1005.4,327.2 1012.3,325.6 1019.2,323.9 1026.1,322.2 1033.0,320.6 1039.9,318.9 1046.8,317.2 1053.7,315.5 1060.6,313.8 1067.5,312.1 1074.3,310.3 1081.2,308.6 1088.1,306.9 1095.0,305.2 1101.9,303.5 1108.8,301.7 1115.7,300.0 1122.6,298.3 1129.5,296.6 1136.4,294.8 1143.3,293.1 1150.2,291.4 1157.1,289.6 1163.9,287.9 1170.8,286.1 1177.7,284.4 1184.6,282.6 1191.5,280.9 1198.4,279.1 1205.3,277.3 1212.2,275.5 1219.1,273.7 1226.0,271.9 1232.9,270.1 1239.8,268.3 1246.6,266.5 1253.5,264.6 1260.4,262.8 1267.3,260.9 1274.2,259.0 1281.1,257.1 1288.0,255.2 1294.9,253.3 1301.8,251.4 1308.7,249.4 1315.6,247.5 1322.5,245.5 1329.4,243.5 1336.2,241.5 1343.1,239.4 1350.0,237.4 1356.9,235.3 1363.8,233.2 1370.7,231.1 1377.6,229.0 1377.6,249.0 1370.7,250.3 1363.8,251.6 1356.9,253.0 1350.0,254.3 1343.1,255.7 1336.2,257.1 1329.4,258.6 1322.5,260.0 1315.6,261.5 1308.7,263.0 1301.8,264.5 1294.9,266.0 1288.0,267.5 1281.1,269.1 1274.2,270.6 1267.3,272.2 1260.4,273.8 1253.5,275.4 1246.6,277.0 1239.8,278.6 1232.9,280.2 1226.0,281.9 1219.1,283.5 1212.2,285.2 1205.3,286.8 1198.4,288.5 1191.5,290.2 1184.6,291.9 1177.7,293.6 1170.8,295.3 1163.9,297.0 1157.1,298.7 1150.2,300.4 1143.3,302.1 1136.4,303.8 1129.5,305.6 1122.6,307.3 1115.7,309.0 1108.8,310.7 1101.9,312.5 1095.0,314.2 1088.1,315.9 1081.2,317.6 1074.3,319.4 1067.5,321.1 1060.6,322.8 1053.7,324.6 1046.8,326.3 1039.9,328.1 1033.0,329.9 1026.1,331.6 1019.2,333.4 1012.3,335.2 1005.4,337.0 998.5,338.8 991.6,340.6 984.8,342.4 977.9,344.3 971.0,346.1 964.1,348.0 957.2,349.9 950.3,351.8 943.4,353.7 936.5,355.7 929.6,357.6 922.7,359.6 915.8,361.6 908.9,363.6 902.0,365.6 895.2,367.7 888.3,369.7 881.4,371.8 874.5,374.0 867.6,376.1 860.7,378.3 853.8,380.5 846.9,382.7 840.0,384.9 833.1,387.2" fill="#f08888" fill-opacity="0.45"/>
<polyline points="833.1,375.2 840.0,373.5 846.9,371.8 853.8,370.1 860.7,368.3 867.6,366.6 874.5,364.9 881.4,363.2 888.3,361.4 895.2,359.7 902.0,358.0 908.9,356.3 915.8,354.5 922.7,352.8 929.6,351.1 936.5,349.4 943.4,347.6 950.3,345.9 957.2,344.2 964.1,342.5 971.0,340.7 977.9,339.0 984.8,337.3 991.6,335.6 998.5,333.8 1005.4,332.1 1012.3,330.4 1019.2,328.7 1026.1,326.9 1033.0,325.2 1039.9,323.5 1046.8,321.8 1053.7,320.0 1060.6,318.3 1067.5,316.6 1074.3,314.9 1081.2,313.1 1088.1,311.4 1095.0,309.7 1101.9,308.0 1108.8,306.2 1115.7,304.5 1122.6,302.8 1129.5,301.1 1136.4,299.3 1143.3,297.6 1150.2,295.9 1157.1,294.2 1163.9,292.4 1170.8,290.7 1177.7,289.0 1184.6,287.3 1191.5,285.5 1198.4,283.8 1205.3,282.1 1212.2,280.4 1219.1,278.6 1226.0,276.9 1232.9,275.2 1239.8,273.5 1246.6,271.7 1253.5,270.0 1260.4,268.3 1267.3,266.6 1274.2,264.8 1281.1,263.1 1288.0,261.4 1294.9,259.7 1301.8,257.9 1308.7,256.2 1315.6,254.5 1322.5,252.8 1329.4,251.0 1336.2,249.3 1343.1,247.6 1350.0,245.9 1356.9,244.1 1363.8,242.4 1370.7,240.7 1377.6,239.0" fill="none" stroke="#ea2f3a" stroke-width="7" stroke-linecap="butt"/>
<path d="M833.1,23.8 V566.0 H1379" stroke="#111" stroke-width="2.6" fill="none"/>
<line x1="825.0" y1="30.2" x2="833.1" y2="30.2" stroke="#111" stroke-width="2.2"/>
<text x="781.6" y="34.6" textLength="38.2" lengthAdjust="spacingAndGlyphs">0.8</text>
<line x1="825.0" y1="102.1" x2="833.1" y2="102.1" stroke="#111" stroke-width="2.2"/>
<text x="781.6" y="106.5" textLength="38.2" lengthAdjust="spacingAndGlyphs">0.6</text>
<line x1="825.0" y1="174.0" x2="833.1" y2="174.0" stroke="#111" stroke-width="2.2"/>
<text x="781.6" y="178.4" textLength="38.2" lengthAdjust="spacingAndGlyphs">0.4</text>
<line x1="825.0" y1="245.9" x2="833.1" y2="245.9" stroke="#111" stroke-width="2.2"/>
<text x="781.6" y="250.3" textLength="38.2" lengthAdjust="spacingAndGlyphs">0.2</text>
<line x1="825.0" y1="317.8" x2="833.1" y2="317.8" stroke="#111" stroke-width="2.2"/>
<text x="781.6" y="322.2" textLength="38.2" lengthAdjust="spacingAndGlyphs">0.0</text>
<line x1="825.0" y1="389.7" x2="833.1" y2="389.7" stroke="#111" stroke-width="2.2"/>
<text x="775.5" y="394.1" textLength="44.3" lengthAdjust="spacingAndGlyphs">-0.2</text>
<line x1="825.0" y1="461.6" x2="833.1" y2="461.6" stroke="#111" stroke-width="2.2"/>
<text x="775.5" y="466.0" textLength="44.3" lengthAdjust="spacingAndGlyphs">-0.4</text>
<line x1="825.0" y1="533.5" x2="833.1" y2="533.5" stroke="#111" stroke-width="2.2"/>
<text x="775.5" y="537.9" textLength="44.3" lengthAdjust="spacingAndGlyphs">-0.6</text>
<line x1="838.6" y1="566.0" x2="838.6" y2="574.0" stroke="#111" stroke-width="2.2"/>
<text x="808.0" y="597.6" textLength="52.5" lengthAdjust="spacingAndGlyphs">−0.8</text>
<line x1="901.8" y1="566.0" x2="901.8" y2="574.0" stroke="#111" stroke-width="2.2"/>
<text x="870.8" y="597.6" textLength="52.5" lengthAdjust="spacingAndGlyphs">−0.6</text>
<line x1="964.9" y1="566.0" x2="964.9" y2="574.0" stroke="#111" stroke-width="2.2"/>
<text x="934.0" y="597.6" textLength="52.5" lengthAdjust="spacingAndGlyphs">−0.4</text>
<line x1="1028.0" y1="566.0" x2="1028.0" y2="574.0" stroke="#111" stroke-width="2.2"/>
<text x="1000.2" y="597.6" textLength="52.5" lengthAdjust="spacingAndGlyphs">−0.2</text>
<line x1="1091.5" y1="566.0" x2="1091.5" y2="574.0" stroke="#111" stroke-width="2.2"/>
<text x="1076.5" y="597.6" textLength="37.5" lengthAdjust="spacingAndGlyphs">0.0</text>
<line x1="1154.3" y1="566.0" x2="1154.3" y2="574.0" stroke="#111" stroke-width="2.2"/>
<text x="1139.5" y="597.6" textLength="37.5" lengthAdjust="spacingAndGlyphs">0.2</text>
<line x1="1217.7" y1="566.0" x2="1217.7" y2="574.0" stroke="#111" stroke-width="2.2"/>
<text x="1203.2" y="597.6" textLength="37.5" lengthAdjust="spacingAndGlyphs">0.4</text>
<line x1="1280.8" y1="566.0" x2="1280.8" y2="574.0" stroke="#111" stroke-width="2.2"/>
<text x="1266.5" y="597.6" textLength="37.5" lengthAdjust="spacingAndGlyphs">0.6</text>
<line x1="1344.3" y1="566.0" x2="1344.3" y2="574.0" stroke="#111" stroke-width="2.2"/>
<text x="1329.2" y="597.6" textLength="37.5" lengthAdjust="spacingAndGlyphs">0.8</text>
<text x="991.6" y="629.6" textLength="289.8" lengthAdjust="spacingAndGlyphs">Predicted patient’s risk</text>
<text transform="translate(764.5,380.0) rotate(-90)" x="-0.0" y="0" textLength="214.0" lengthAdjust="spacingAndGlyphs">Mean of IG value</text>
<text x="1392.0" y="28.6" font-size="35" font-weight="bold">c</text>
<clipPath id="c2"><rect x="1550.2" y="0" width="564.8" height="555.0"/></clipPath>
<g clip-path="url(#c2)" fill="#3aa53a" fill-opacity="0.2" stroke="#3aa53a" stroke-opacity="0.26" stroke-width="1"><circle cx="1797.9" cy="492.4" r="4.4"/><circle cx="2035.3" cy="516.6" r="4.4"/><circle cx="2009.8" cy="508.9" r="4.4"/><circle cx="1796.9" cy="508.3" r="4.4"/><circle cx="1715.0" cy="497.8" r="4.4"/><circle cx="1875.3" cy="509.1" r="4.4"/><circle cx="1725.1" cy="447.7" r="4.4"/><circle cx="1940.1" cy="505.7" r="4.4"/><circle cx="1965.9" cy="495.9" r="4.4"/><circle cx="1802.1" cy="498.8" r="4.4"/><circle cx="1753.9" cy="448.9" r="4.4"/><circle cx="1777.8" cy="471.7" r="4.4"/><circle cx="1685.5" cy="500.7" r="4.4"/><circle cx="1780.4" cy="432.1" r="4.4"/><circle cx="1824.9" cy="488.7" r="4.4"/><circle cx="2052.5" cy="427.4" r="4.4"/><circle cx="1913.9" cy="490.7" r="4.4"/><circle cx="1827.4" cy="477.8" r="4.4"/><circle cx="1938.3" cy="494.8" r="4.4"/><circle cx="1948.8" cy="463.1" r="4.4"/><circle cx="1733.2" cy="474.2" r="4.4"/><circle cx="1760.8" cy="492.2" r="4.4"/><circle cx="1905.4" cy="516.0" r="4.4"/><circle cx="1717.5" cy="401.9" r="4.4"/><circle cx="1753.4" cy="418.9" r="4.4"/><circle cx="1817.1" cy="408.9" r="4.4"/><circle cx="1744.4" cy="482.0" r="4.4"/><circle cx="1845.4" cy="511.3" r="4.4"/><circle cx="1791.7" cy="468.6" r="4.4"/><circle cx="1847.5" cy="507.9" r="4.4"/><circle cx="1780.9" cy="493.8" r="4.4"/><circle cx="1692.0" cy="439.1" r="4.4"/><circle cx="1727.0" cy="497.2" r="4.4"/><circle cx="1770.6" cy="510.6" r="4.4"/><circle cx="1931.5" cy="496.1" r="4.4"/><circle cx="1747.4" cy="518.3" r="4.4"/><circle cx="1687.5" cy="471.0" r="4.4"/><circle cx="1793.3" cy="505.6" r="4.4"/><circle cx="1911.9" cy="453.7" r="4.4"/><circle cx="1836.1" cy="515.3" r="4.4"/><circle cx="1728.0" cy="511.9" r="4.4"/><circle cx="2047.0" cy="510.2" r="4.4"/><circle cx="1948.5" cy="518.8" r="4.4"/><circle cx="1794.6" cy="484.8" r="4.4"/><circle cx="1710.2" cy="466.8" r="4.4"/><circle cx="1955.8" cy="504.9" r="4.4"/><circle cx="1789.5" cy="461.9" r="4.4"/><circle cx="1853.2" cy="482.2" r="4.4"/><circle cx="1769.0" cy="480.6" r="4.4"/><circle cx="1986.5" cy="516.0" r="4.4"/><circle cx="1706.2" cy="493.9" r="4.4"/><circle cx="1848.9" cy="451.0" r="4.4"/><circle cx="1774.1" cy="440.5" r="4.4"/><circle cx="1740.3" cy="458.4" r="4.4"/><circle cx="1762.1" cy="502.9" r="4.4"/><circle cx="1713.5" cy="432.4" r="4.4"/><circle cx="1794.5" cy="500.9" r="4.4"/><circle cx="1782.0" cy="478.4" r="4.4"/><circle cx="1739.9" cy="397.1" r="4.4"/><circle cx="1758.3" cy="520.3" r="4.4"/><circle cx="2019.0" cy="502.0" r="4.4"/><circle cx="1810.4" cy="449.8" r="4.4"/><circle cx="1895.8" cy="501.8" r="4.4"/><circle cx="1704.5" cy="520.7" r="4.4"/><circle cx="1729.5" cy="446.5" r="4.4"/><circle cx="1795.9" cy="424.8" r="4.4"/><circle cx="1671.7" cy="432.3" r="4.4"/><circle cx="1796.0" cy="508.5" r="4.4"/><circle cx="2064.6" cy="522.5" r="4.4"/><circle cx="1685.6" cy="480.2" r="4.4"/><circle cx="1848.8" cy="394.0" r="4.4"/><circle cx="1733.9" cy="488.9" r="4.4"/><circle cx="1663.7" cy="459.2" r="4.4"/><circle cx="1885.2" cy="505.9" r="4.4"/><circle cx="1783.5" cy="456.0" r="4.4"/><circle cx="1904.6" cy="473.4" r="4.4"/><circle cx="2027.8" cy="509.2" r="4.4"/><circle cx="1865.6" cy="415.0" r="4.4"/><circle cx="1785.6" cy="483.7" r="4.4"/><circle cx="1707.5" cy="398.2" r="4.4"/><circle cx="1755.7" cy="499.3" r="4.4"/><circle cx="1899.2" cy="516.7" r="4.4"/><circle cx="1828.3" cy="520.8" r="4.4"/><circle cx="1714.9" cy="439.8" r="4.4"/><circle cx="1808.6" cy="472.6" r="4.4"/><circle cx="1801.4" cy="492.7" r="4.4"/><circle cx="1920.6" cy="510.8" r="4.4"/><circle cx="1718.1" cy="497.7" r="4.4"/><circle cx="1792.3" cy="417.3" r="4.4"/><circle cx="1748.9" cy="457.5" r="4.4"/><circle cx="1781.3" cy="524.3" r="4.4"/><circle cx="1927.2" cy="519.4" r="4.4"/><circle cx="1767.0" cy="516.7" r="4.4"/><circle cx="1922.1" cy="489.5" r="4.4"/><circle cx="1698.8" cy="483.0" r="4.4"/><circle cx="1826.6" cy="446.7" r="4.4"/><circle cx="1723.3" cy="496.4" r="4.4"/><circle cx="1828.0" cy="494.5" r="4.4"/><circle cx="1820.6" cy="500.4" r="4.4"/><circle cx="1644.4" cy="474.8" r="4.4"/><circle cx="1871.4" cy="514.5" r="4.4"/><circle cx="1958.7" cy="510.9" r="4.4"/><circle cx="1776.7" cy="521.4" r="4.4"/><circle cx="1997.1" cy="484.3" r="4.4"/><circle cx="1714.3" cy="515.6" r="4.4"/><circle cx="1760.5" cy="496.0" r="4.4"/><circle cx="1955.5" cy="501.7" r="4.4"/><circle cx="1900.6" cy="504.2" r="4.4"/><circle cx="1788.1" cy="524.8" r="4.4"/><circle cx="1877.6" cy="476.0" r="4.4"/><circle cx="1969.0" cy="482.9" r="4.4"/><circle cx="2000.7" cy="500.0" r="4.4"/><circle cx="1784.8" cy="493.3" r="4.4"/><circle cx="1567.6" cy="503.3" r="4.4"/><circle cx="1695.8" cy="382.3" r="4.4"/><circle cx="1894.7" cy="510.8" r="4.4"/><circle cx="1894.2" cy="513.1" r="4.4"/><circle cx="1694.6" cy="457.1" r="4.4"/><circle cx="1663.1" cy="421.7" r="4.4"/><circle cx="2010.6" cy="475.7" r="4.4"/><circle cx="1762.5" cy="479.0" r="4.4"/><circle cx="1952.7" cy="443.8" r="4.4"/><circle cx="1869.8" cy="503.1" r="4.4"/><circle cx="1857.7" cy="468.2" r="4.4"/><circle cx="2033.5" cy="524.1" r="4.4"/><circle cx="1734.1" cy="445.3" r="4.4"/><circle cx="1766.2" cy="480.3" r="4.4"/><circle cx="1789.6" cy="415.8" r="4.4"/><circle cx="1722.1" cy="526.9" r="4.4"/><circle cx="1726.9" cy="467.9" r="4.4"/><circle cx="1703.3" cy="487.6" r="4.4"/><circle cx="1948.8" cy="503.9" r="4.4"/><circle cx="1695.2" cy="479.1" r="4.4"/><circle cx="1788.1" cy="489.5" r="4.4"/><circle cx="1799.0" cy="447.1" r="4.4"/><circle cx="1760.9" cy="511.1" r="4.4"/><circle cx="1905.0" cy="482.1" r="4.4"/><circle cx="1923.3" cy="463.1" r="4.4"/><circle cx="1900.1" cy="513.8" r="4.4"/><circle cx="2037.5" cy="443.3" r="4.4"/><circle cx="1875.3" cy="492.2" r="4.4"/><circle cx="1856.4" cy="504.6" r="4.4"/><circle cx="1824.2" cy="461.5" r="4.4"/><circle cx="1772.2" cy="457.9" r="4.4"/><circle cx="1706.7" cy="473.9" r="4.4"/><circle cx="1900.3" cy="521.8" r="4.4"/><circle cx="1759.6" cy="443.0" r="4.4"/><circle cx="1741.5" cy="446.2" r="4.4"/><circle cx="1897.3" cy="510.4" r="4.4"/><circle cx="1678.3" cy="416.1" r="4.4"/><circle cx="1651.4" cy="496.5" r="4.4"/><circle cx="1836.6" cy="471.6" r="4.4"/><circle cx="1939.4" cy="521.1" r="4.4"/><circle cx="1858.2" cy="471.5" r="4.4"/><circle cx="1871.9" cy="514.0" r="4.4"/><circle cx="1838.7" cy="517.5" r="4.4"/><circle cx="1728.0" cy="477.2" r="4.4"/><circle cx="1751.7" cy="414.9" r="4.4"/><circle cx="1669.6" cy="506.3" r="4.4"/><circle cx="1654.3" cy="513.6" r="4.4"/><circle cx="1687.2" cy="442.9" r="4.4"/><circle cx="1894.9" cy="461.6" r="4.4"/><circle cx="1807.8" cy="481.1" r="4.4"/><circle cx="1815.3" cy="469.1" r="4.4"/><circle cx="1872.7" cy="511.5" r="4.4"/><circle cx="1770.0" cy="511.4" r="4.4"/><circle cx="1867.6" cy="516.6" r="4.4"/><circle cx="1829.7" cy="492.9" r="4.4"/><circle cx="1723.2" cy="450.9" r="4.4"/><circle cx="1802.2" cy="490.0" r="4.4"/><circle cx="1766.0" cy="477.7" r="4.4"/><circle cx="1872.6" cy="467.3" r="4.4"/><circle cx="2045.7" cy="525.8" r="4.4"/><circle cx="1744.6" cy="438.6" r="4.4"/><circle cx="1691.7" cy="476.5" r="4.4"/><circle cx="1766.7" cy="507.1" r="4.4"/><circle cx="1900.4" cy="499.7" r="4.4"/><circle cx="1985.5" cy="521.6" r="4.4"/><circle cx="1875.3" cy="472.5" r="4.4"/><circle cx="1822.5" cy="481.6" r="4.4"/><circle cx="1729.6" cy="488.5" r="4.4"/><circle cx="1930.3" cy="518.2" r="4.4"/><circle cx="1993.5" cy="492.7" r="4.4"/><circle cx="2016.9" cy="491.5" r="4.4"/><circle cx="1582.8" cy="485.7" r="4.4"/><circle cx="1725.8" cy="516.9" r="4.4"/><circle cx="1672.1" cy="499.1" r="4.4"/><circle cx="1744.3" cy="494.4" r="4.4"/><circle cx="1856.2" cy="456.2" r="4.4"/><circle cx="1793.8" cy="447.2" r="4.4"/><circle cx="1685.2" cy="473.9" r="4.4"/><circle cx="1887.3" cy="464.4" r="4.4"/><circle cx="1719.1" cy="481.1" r="4.4"/><circle cx="1849.9" cy="362.7" r="4.4"/><circle cx="1699.0" cy="493.2" r="4.4"/><circle cx="1847.0" cy="487.0" r="4.4"/><circle cx="1781.2" cy="509.7" r="4.4"/><circle cx="1780.3" cy="467.5" r="4.4"/><circle cx="1583.5" cy="494.9" r="4.4"/><circle cx="1727.9" cy="431.3" r="4.4"/><circle cx="1867.8" cy="478.0" r="4.4"/><circle cx="1844.5" cy="513.0" r="4.4"/><circle cx="1914.7" cy="495.4" r="4.4"/><circle cx="1774.7" cy="476.1" r="4.4"/><circle cx="1865.5" cy="467.5" r="4.4"/><circle cx="1761.8" cy="475.3" r="4.4"/><circle cx="1930.5" cy="507.3" r="4.4"/><circle cx="2055.7" cy="500.0" r="4.4"/><circle cx="1715.5" cy="478.2" r="4.4"/><circle cx="1780.5" cy="506.6" r="4.4"/><circle cx="1794.4" cy="502.1" r="4.4"/><circle cx="1702.6" cy="482.3" r="4.4"/><circle cx="1692.7" cy="448.4" r="4.4"/><circle cx="1899.0" cy="489.6" r="4.4"/><circle cx="1864.9" cy="489.6" r="4.4"/><circle cx="1809.5" cy="462.7" r="4.4"/><circle cx="1583.6" cy="499.1" r="4.4"/><circle cx="1792.5" cy="515.9" r="4.4"/><circle cx="1725.6" cy="497.0" r="4.4"/><circle cx="1996.1" cy="471.2" r="4.4"/><circle cx="1927.3" cy="494.7" r="4.4"/><circle cx="1751.7" cy="508.3" r="4.4"/><circle cx="1785.7" cy="473.3" r="4.4"/><circle cx="1827.6" cy="486.7" r="4.4"/><circle cx="1838.3" cy="374.5" r="4.4"/><circle cx="1738.6" cy="504.9" r="4.4"/><circle cx="1879.2" cy="472.0" r="4.4"/><circle cx="1778.0" cy="422.5" r="4.4"/><circle cx="1783.4" cy="452.1" r="4.4"/><circle cx="1947.4" cy="516.5" r="4.4"/><circle cx="1707.7" cy="479.6" r="4.4"/><circle cx="1871.2" cy="507.8" r="4.4"/><circle cx="1583.5" cy="507.5" r="4.4"/><circle cx="1603.0" cy="482.9" r="4.4"/><circle cx="1836.9" cy="517.8" r="4.4"/><circle cx="1849.9" cy="450.8" r="4.4"/><circle cx="1813.1" cy="401.4" r="4.4"/><circle cx="1753.1" cy="446.4" r="4.4"/><circle cx="1926.9" cy="503.8" r="4.4"/><circle cx="2007.4" cy="452.2" r="4.4"/><circle cx="1749.3" cy="464.9" r="4.4"/><circle cx="1728.6" cy="518.7" r="4.4"/><circle cx="1712.5" cy="507.0" r="4.4"/><circle cx="2017.8" cy="495.3" r="4.4"/><circle cx="1712.1" cy="479.0" r="4.4"/><circle cx="1774.5" cy="456.2" r="4.4"/><circle cx="1719.4" cy="465.2" r="4.4"/><circle cx="1777.9" cy="500.8" r="4.4"/><circle cx="1896.0" cy="502.7" r="4.4"/><circle cx="1736.2" cy="467.9" r="4.4"/><circle cx="1695.5" cy="399.8" r="4.4"/><circle cx="1884.3" cy="457.8" r="4.4"/><circle cx="1788.8" cy="414.6" r="4.4"/><circle cx="1756.2" cy="450.2" r="4.4"/><circle cx="1762.9" cy="483.5" r="4.4"/><circle cx="1755.8" cy="495.3" r="4.4"/><circle cx="1741.5" cy="512.1" r="4.4"/><circle cx="1848.6" cy="486.9" r="4.4"/><circle cx="1903.1" cy="485.8" r="4.4"/><circle cx="1775.2" cy="497.3" r="4.4"/><circle cx="1686.3" cy="519.7" r="4.4"/><circle cx="1937.5" cy="524.6" r="4.4"/><circle cx="1740.2" cy="520.6" r="4.4"/><circle cx="1702.5" cy="421.7" r="4.4"/><circle cx="1715.0" cy="407.5" r="4.4"/><circle cx="1706.0" cy="448.1" r="4.4"/><circle cx="1579.4" cy="486.0" r="4.4"/><circle cx="1704.0" cy="466.9" r="4.4"/><circle cx="1793.6" cy="512.9" r="4.4"/><circle cx="1932.1" cy="413.0" r="4.4"/><circle cx="1847.7" cy="486.7" r="4.4"/><circle cx="1703.4" cy="480.9" r="4.4"/><circle cx="1641.8" cy="504.1" r="4.4"/><circle cx="1958.4" cy="520.7" r="4.4"/><circle cx="1789.6" cy="467.5" r="4.4"/><circle cx="1894.9" cy="459.1" r="4.4"/><circle cx="1674.1" cy="474.8" r="4.4"/><circle cx="1796.1" cy="513.1" r="4.4"/><circle cx="1952.1" cy="449.6" r="4.4"/><circle cx="2008.9" cy="473.0" r="4.4"/><circle cx="1899.6" cy="518.5" r="4.4"/><circle cx="1789.5" cy="491.5" r="4.4"/><circle cx="1856.8" cy="395.4" r="4.4"/><circle cx="1862.2" cy="497.6" r="4.4"/><circle cx="1876.8" cy="499.2" r="4.4"/><circle cx="1755.7" cy="475.1" r="4.4"/><circle cx="1768.3" cy="462.6" r="4.4"/><circle cx="1949.3" cy="501.4" r="4.4"/><circle cx="1978.7" cy="477.7" r="4.4"/><circle cx="2043.2" cy="506.9" r="4.4"/><circle cx="1693.0" cy="501.9" r="4.4"/><circle cx="1735.6" cy="519.6" r="4.4"/><circle cx="1826.3" cy="472.7" r="4.4"/><circle cx="1693.9" cy="385.1" r="4.4"/><circle cx="1939.1" cy="484.2" r="4.4"/><circle cx="2040.0" cy="471.5" r="4.4"/><circle cx="1655.8" cy="483.6" r="4.4"/><circle cx="2039.7" cy="496.0" r="4.4"/><circle cx="1887.5" cy="524.4" r="4.4"/><circle cx="1715.0" cy="498.8" r="4.4"/><circle cx="1884.6" cy="498.8" r="4.4"/><circle cx="1659.5" cy="468.9" r="4.4"/><circle cx="1818.0" cy="488.0" r="4.4"/><circle cx="1906.6" cy="521.6" r="4.4"/><circle cx="1834.0" cy="521.0" r="4.4"/><circle cx="1689.7" cy="495.7" r="4.4"/><circle cx="1720.6" cy="480.0" r="4.4"/><circle cx="1740.1" cy="359.3" r="4.4"/><circle cx="1762.9" cy="510.8" r="4.4"/><circle cx="1917.5" cy="509.2" r="4.4"/><circle cx="1914.1" cy="508.0" r="4.4"/><circle cx="1651.0" cy="432.2" r="4.4"/><circle cx="1875.3" cy="498.5" r="4.4"/><circle cx="2019.8" cy="505.6" r="4.4"/><circle cx="1633.1" cy="482.7" r="4.4"/><circle cx="1857.1" cy="528.6" r="4.4"/><circle cx="1796.5" cy="429.9" r="4.4"/><circle cx="1720.6" cy="480.8" r="4.4"/><circle cx="1699.7" cy="464.0" r="4.4"/><circle cx="1988.7" cy="523.9" r="4.4"/><circle cx="1948.1" cy="469.7" r="4.4"/><circle cx="1734.6" cy="450.2" r="4.4"/><circle cx="1849.1" cy="350.7" r="4.4"/><circle cx="1819.8" cy="483.3" r="4.4"/><circle cx="2059.0" cy="467.3" r="4.4"/><circle cx="1712.2" cy="447.3" r="4.4"/><circle cx="1749.5" cy="480.8" r="4.4"/><circle cx="2075.9" cy="524.7" r="4.4"/><circle cx="1781.8" cy="436.3" r="4.4"/><circle cx="1714.7" cy="482.9" r="4.4"/><circle cx="1798.8" cy="398.2" r="4.4"/><circle cx="1795.2" cy="476.5" r="4.4"/><circle cx="2021.1" cy="521.8" r="4.4"/><circle cx="1805.6" cy="476.3" r="4.4"/><circle cx="1761.8" cy="474.7" r="4.4"/><circle cx="1730.2" cy="463.5" r="4.4"/><circle cx="1848.7" cy="460.9" r="4.4"/><circle cx="1672.7" cy="490.2" r="4.4"/><circle cx="1748.7" cy="518.7" r="4.4"/><circle cx="1713.0" cy="513.5" r="4.4"/><circle cx="1720.8" cy="480.9" r="4.4"/><circle cx="1654.7" cy="491.3" r="4.4"/><circle cx="1957.9" cy="469.9" r="4.4"/><circle cx="1737.6" cy="474.8" r="4.4"/><circle cx="1781.4" cy="430.9" r="4.4"/><circle cx="1836.6" cy="474.7" r="4.4"/><circle cx="1797.6" cy="491.2" r="4.4"/><circle cx="1812.5" cy="385.4" r="4.4"/><circle cx="1698.6" cy="487.6" r="4.4"/><circle cx="1758.0" cy="481.3" r="4.4"/><circle cx="1726.7" cy="474.7" r="4.4"/><circle cx="1767.8" cy="433.0" r="4.4"/><circle cx="1823.0" cy="489.6" r="4.4"/><circle cx="2024.5" cy="496.7" r="4.4"/><circle cx="1666.4" cy="505.3" r="4.4"/><circle cx="1697.1" cy="470.4" r="4.4"/><circle cx="1983.9" cy="526.2" r="4.4"/><circle cx="1680.9" cy="504.8" r="4.4"/><circle cx="1801.5" cy="495.5" r="4.4"/><circle cx="1956.9" cy="503.4" r="4.4"/><circle cx="1665.3" cy="501.6" r="4.4"/><circle cx="1853.9" cy="448.5" r="4.4"/><circle cx="1799.3" cy="448.1" r="4.4"/><circle cx="1879.0" cy="511.6" r="4.4"/><circle cx="1806.1" cy="470.6" r="4.4"/><circle cx="1970.3" cy="458.8" r="4.4"/><circle cx="1752.3" cy="497.0" r="4.4"/><circle cx="1967.1" cy="506.1" r="4.4"/><circle cx="2096.2" cy="490.2" r="4.4"/><circle cx="1797.0" cy="513.8" r="4.4"/><circle cx="1795.7" cy="481.5" r="4.4"/><circle cx="1804.2" cy="417.8" r="4.4"/><circle cx="1790.4" cy="382.1" r="4.4"/><circle cx="1561.1" cy="515.6" r="4.4"/><circle cx="1732.3" cy="425.1" r="4.4"/><circle cx="1880.3" cy="514.6" r="4.4"/><circle cx="1720.1" cy="376.6" r="4.4"/><circle cx="1894.8" cy="475.5" r="4.4"/><circle cx="1721.2" cy="484.6" r="4.4"/><circle cx="2098.0" cy="507.1" r="4.4"/><circle cx="1808.2" cy="453.7" r="4.4"/><circle cx="1770.7" cy="394.6" r="4.4"/><circle cx="1966.3" cy="482.9" r="4.4"/><circle cx="1783.3" cy="418.3" r="4.4"/><circle cx="1789.8" cy="427.2" r="4.4"/><circle cx="1755.0" cy="432.2" r="4.4"/><circle cx="1933.1" cy="418.4" r="4.4"/><circle cx="1959.0" cy="465.2" r="4.4"/><circle cx="2068.7" cy="497.5" r="4.4"/><circle cx="1836.8" cy="465.5" r="4.4"/><circle cx="1882.5" cy="517.0" r="4.4"/><circle cx="1857.4" cy="518.1" r="4.4"/><circle cx="1903.8" cy="499.6" r="4.4"/><circle cx="1926.5" cy="494.1" r="4.4"/><circle cx="1836.3" cy="490.6" r="4.4"/><circle cx="1716.8" cy="485.2" r="4.4"/><circle cx="1998.0" cy="470.5" r="4.4"/><circle cx="1750.1" cy="462.4" r="4.4"/><circle cx="1823.5" cy="518.3" r="4.4"/><circle cx="1966.1" cy="477.4" r="4.4"/><circle cx="1776.7" cy="439.9" r="4.4"/><circle cx="1860.8" cy="483.1" r="4.4"/><circle cx="1694.1" cy="474.4" r="4.4"/><circle cx="1841.1" cy="496.4" r="4.4"/><circle cx="1775.7" cy="453.7" r="4.4"/><circle cx="1952.3" cy="506.8" r="4.4"/><circle cx="1777.1" cy="477.5" r="4.4"/><circle cx="1912.7" cy="464.3" r="4.4"/><circle cx="1874.7" cy="483.5" r="4.4"/><circle cx="1919.8" cy="492.4" r="4.4"/><circle cx="1912.7" cy="440.7" r="4.4"/><circle cx="1993.8" cy="503.6" r="4.4"/><circle cx="1900.7" cy="455.0" r="4.4"/><circle cx="1773.4" cy="462.0" r="4.4"/><circle cx="1781.7" cy="491.1" r="4.4"/><circle cx="2015.0" cy="507.3" r="4.4"/><circle cx="1730.3" cy="452.4" r="4.4"/><circle cx="1709.7" cy="395.1" r="4.4"/><circle cx="1856.6" cy="505.8" r="4.4"/><circle cx="1763.2" cy="507.4" r="4.4"/><circle cx="1802.0" cy="401.7" r="4.4"/><circle cx="1732.7" cy="438.3" r="4.4"/><circle cx="1758.8" cy="464.1" r="4.4"/><circle cx="1823.8" cy="514.4" r="4.4"/><circle cx="1811.7" cy="423.7" r="4.4"/><circle cx="1792.5" cy="513.9" r="4.4"/><circle cx="1667.0" cy="455.8" r="4.4"/><circle cx="1681.8" cy="491.7" r="4.4"/><circle cx="1857.6" cy="481.7" r="4.4"/><circle cx="1822.1" cy="490.0" r="4.4"/><circle cx="1816.1" cy="501.7" r="4.4"/><circle cx="1798.0" cy="488.4" r="4.4"/><circle cx="1834.8" cy="456.5" r="4.4"/><circle cx="1877.2" cy="523.1" r="4.4"/><circle cx="2035.5" cy="520.2" r="4.4"/><circle cx="1733.7" cy="445.3" r="4.4"/><circle cx="1729.0" cy="465.7" r="4.4"/><circle cx="1807.9" cy="372.2" r="4.4"/><circle cx="1889.1" cy="514.7" r="4.4"/><circle cx="1713.0" cy="506.0" r="4.4"/><circle cx="1925.0" cy="495.9" r="4.4"/><circle cx="1816.2" cy="473.0" r="4.4"/><circle cx="1656.6" cy="482.1" r="4.4"/><circle cx="2094.1" cy="495.1" r="4.4"/><circle cx="1694.9" cy="455.7" r="4.4"/><circle cx="1747.6" cy="518.9" r="4.4"/><circle cx="1817.8" cy="468.9" r="4.4"/><circle cx="1881.6" cy="501.7" r="4.4"/><circle cx="1828.8" cy="497.8" r="4.4"/><circle cx="1883.8" cy="419.7" r="4.4"/><circle cx="1792.0" cy="486.0" r="4.4"/><circle cx="1823.9" cy="420.8" r="4.4"/><circle cx="1850.5" cy="336.4" r="4.4"/><circle cx="1814.6" cy="488.0" r="4.4"/><circle cx="1944.2" cy="496.2" r="4.4"/><circle cx="1702.2" cy="484.2" r="4.4"/><circle cx="1789.4" cy="468.9" r="4.4"/><circle cx="1813.5" cy="402.6" r="4.4"/><circle cx="1768.1" cy="432.4" r="4.4"/><circle cx="1751.0" cy="469.5" r="4.4"/><circle cx="1670.5" cy="485.8" r="4.4"/><circle cx="1800.0" cy="501.5" r="4.4"/><circle cx="1950.1" cy="487.9" r="4.4"/><circle cx="1740.0" cy="510.0" r="4.4"/><circle cx="1791.8" cy="499.0" r="4.4"/><circle cx="1660.6" cy="486.4" r="4.4"/><circle cx="1858.8" cy="503.5" r="4.4"/><circle cx="1823.5" cy="514.3" r="4.4"/><circle cx="1773.2" cy="479.3" r="4.4"/><circle cx="1729.8" cy="506.4" r="4.4"/><circle cx="1764.7" cy="451.0" r="4.4"/><circle cx="1691.1" cy="477.6" r="4.4"/><circle cx="2033.3" cy="519.6" r="4.4"/><circle cx="1888.3" cy="478.3" r="4.4"/><circle cx="1944.4" cy="478.5" r="4.4"/><circle cx="1888.5" cy="484.4" r="4.4"/><circle cx="1908.9" cy="497.9" r="4.4"/><circle cx="1930.2" cy="504.8" r="4.4"/><circle cx="1757.2" cy="367.3" r="4.4"/><circle cx="1701.9" cy="476.8" r="4.4"/><circle cx="1676.5" cy="485.2" r="4.4"/><circle cx="1741.6" cy="486.4" r="4.4"/><circle cx="1704.4" cy="511.0" r="4.4"/><circle cx="1736.0" cy="493.5" r="4.4"/><circle cx="1677.6" cy="467.0" r="4.4"/><circle cx="1715.0" cy="467.7" r="4.4"/><circle cx="1649.3" cy="482.3" r="4.4"/><circle cx="1951.3" cy="494.3" r="4.4"/><circle cx="2017.9" cy="514.6" r="4.4"/><circle cx="1678.7" cy="484.6" r="4.4"/><circle cx="1758.3" cy="430.1" r="4.4"/><circle cx="1835.3" cy="481.5" r="4.4"/><circle cx="2007.0" cy="526.5" r="4.4"/><circle cx="1705.8" cy="503.2" r="4.4"/><circle cx="1821.2" cy="520.4" r="4.4"/><circle cx="1728.2" cy="504.5" r="4.4"/><circle cx="1630.6" cy="407.8" r="4.4"/><circle cx="1821.0" cy="492.4" r="4.4"/><circle cx="1722.3" cy="504.0" r="4.4"/><circle cx="1682.9" cy="519.2" r="4.4"/><circle cx="1675.1" cy="494.5" r="4.4"/><circle cx="1902.4" cy="448.0" r="4.4"/><circle cx="1821.4" cy="503.2" r="4.4"/><circle cx="1672.5" cy="473.9" r="4.4"/><circle cx="1958.9" cy="493.1" r="4.4"/><circle cx="1764.4" cy="494.9" r="4.4"/><circle cx="1766.4" cy="443.1" r="4.4"/><circle cx="1986.0" cy="507.4" r="4.4"/><circle cx="1768.6" cy="499.5" r="4.4"/><circle cx="1766.2" cy="497.3" r="4.4"/><circle cx="1934.6" cy="490.2" r="4.4"/><circle cx="1996.6" cy="439.8" r="4.4"/><circle cx="1758.6" cy="430.8" r="4.4"/><circle cx="1967.8" cy="511.7" r="4.4"/><circle cx="1847.8" cy="481.7" r="4.4"/><circle cx="1725.0" cy="503.5" r="4.4"/><circle cx="1774.8" cy="503.5" r="4.4"/><circle cx="1860.2" cy="521.4" r="4.4"/><circle cx="1633.0" cy="484.5" r="4.4"/><circle cx="1753.6" cy="495.0" r="4.4"/><circle cx="1684.3" cy="492.2" r="4.4"/><circle cx="1988.8" cy="491.5" r="4.4"/><circle cx="1798.1" cy="513.7" r="4.4"/><circle cx="1786.0" cy="509.4" r="4.4"/><circle cx="1968.2" cy="488.1" r="4.4"/><circle cx="1836.9" cy="509.1" r="4.4"/><circle cx="1768.8" cy="505.2" r="4.4"/><circle cx="2004.8" cy="476.6" r="4.4"/><circle cx="1617.0" cy="497.9" r="4.4"/><circle cx="1874.9" cy="440.8" r="4.4"/><circle cx="1772.7" cy="381.2" r="4.4"/><circle cx="1826.2" cy="412.2" r="4.4"/><circle cx="1694.7" cy="516.5" r="4.4"/><circle cx="1906.6" cy="488.1" r="4.4"/><circle cx="1856.5" cy="449.9" r="4.4"/><circle cx="1813.5" cy="464.6" r="4.4"/><circle cx="1737.6" cy="491.2" r="4.4"/><circle cx="1680.6" cy="511.8" r="4.4"/><circle cx="1886.6" cy="469.3" r="4.4"/><circle cx="1632.4" cy="519.5" r="4.4"/><circle cx="1864.7" cy="519.8" r="4.4"/><circle cx="1845.8" cy="507.4" r="4.4"/><circle cx="1934.5" cy="496.9" r="4.4"/><circle cx="1926.6" cy="455.1" r="4.4"/><circle cx="1975.9" cy="505.7" r="4.4"/><circle cx="1831.7" cy="443.3" r="4.4"/><circle cx="1801.1" cy="505.8" r="4.4"/><circle cx="1736.4" cy="494.1" r="4.4"/><circle cx="1796.9" cy="490.9" r="4.4"/><circle cx="1701.0" cy="503.3" r="4.4"/><circle cx="1722.4" cy="430.6" r="4.4"/><circle cx="1937.1" cy="520.5" r="4.4"/><circle cx="1678.8" cy="446.5" r="4.4"/><circle cx="1725.2" cy="470.8" r="4.4"/><circle cx="1674.9" cy="466.6" r="4.4"/><circle cx="1744.3" cy="502.0" r="4.4"/><circle cx="1908.3" cy="476.1" r="4.4"/><circle cx="1702.4" cy="520.3" r="4.4"/><circle cx="1749.5" cy="483.3" r="4.4"/><circle cx="1695.4" cy="475.2" r="4.4"/><circle cx="1683.2" cy="506.0" r="4.4"/><circle cx="1679.0" cy="517.4" r="4.4"/><circle cx="1808.7" cy="504.8" r="4.4"/><circle cx="1852.5" cy="495.9" r="4.4"/><circle cx="1761.9" cy="493.3" r="4.4"/><circle cx="1890.3" cy="524.3" r="4.4"/><circle cx="1772.6" cy="451.1" r="4.4"/><circle cx="1833.8" cy="514.4" r="4.4"/><circle cx="1777.2" cy="468.0" r="4.4"/><circle cx="1752.6" cy="501.2" r="4.4"/><circle cx="1730.5" cy="518.7" r="4.4"/><circle cx="1767.9" cy="442.1" r="4.4"/><circle cx="1594.3" cy="504.3" r="4.4"/><circle cx="1562.1" cy="492.8" r="4.4"/><circle cx="1846.7" cy="471.2" r="4.4"/><circle cx="1717.3" cy="472.9" r="4.4"/><circle cx="1866.5" cy="507.4" r="4.4"/><circle cx="1834.4" cy="467.7" r="4.4"/><circle cx="1831.7" cy="447.1" r="4.4"/><circle cx="1743.5" cy="500.8" r="4.4"/><circle cx="1694.6" cy="511.9" r="4.4"/><circle cx="2043.1" cy="512.6" r="4.4"/><circle cx="1699.4" cy="444.9" r="4.4"/><circle cx="1693.1" cy="490.2" r="4.4"/><circle cx="1774.6" cy="407.8" r="4.4"/><circle cx="1863.6" cy="499.8" r="4.4"/><circle cx="1977.6" cy="500.8" r="4.4"/><circle cx="1872.7" cy="432.8" r="4.4"/><circle cx="1895.2" cy="432.1" r="4.4"/><circle cx="1824.8" cy="454.1" r="4.4"/><circle cx="1816.6" cy="510.6" r="4.4"/><circle cx="2004.7" cy="501.4" r="4.4"/><circle cx="2050.3" cy="503.5" r="4.4"/><circle cx="1854.3" cy="511.5" r="4.4"/><circle cx="1814.7" cy="425.1" r="4.4"/><circle cx="1960.6" cy="491.0" r="4.4"/><circle cx="1746.7" cy="504.8" r="4.4"/><circle cx="1846.0" cy="512.8" r="4.4"/><circle cx="2058.2" cy="498.1" r="4.4"/><circle cx="1667.1" cy="521.3" r="4.4"/><circle cx="2051.3" cy="479.8" r="4.4"/><circle cx="1863.6" cy="500.7" r="4.4"/><circle cx="1749.3" cy="512.4" r="4.4"/><circle cx="1796.4" cy="457.3" r="4.4"/><circle cx="1742.4" cy="504.8" r="4.4"/><circle cx="1851.8" cy="490.8" r="4.4"/><circle cx="1704.1" cy="480.0" r="4.4"/><circle cx="1751.1" cy="506.5" r="4.4"/><circle cx="1558.6" cy="492.6" r="4.4"/><circle cx="1678.2" cy="440.1" r="4.4"/><circle cx="1956.3" cy="472.2" r="4.4"/><circle cx="1946.1" cy="500.7" r="4.4"/><circle cx="1690.8" cy="459.5" r="4.4"/><circle cx="1735.6" cy="509.6" r="4.4"/><circle cx="1688.3" cy="493.0" r="4.4"/><circle cx="1831.0" cy="437.1" r="4.4"/><circle cx="1713.8" cy="510.0" r="4.4"/><circle cx="1715.1" cy="477.2" r="4.4"/><circle cx="1830.9" cy="450.9" r="4.4"/><circle cx="1863.1" cy="484.8" r="4.4"/><circle cx="1710.8" cy="401.1" r="4.4"/><circle cx="1694.9" cy="497.6" r="4.4"/><circle cx="1823.0" cy="497.9" r="4.4"/><circle cx="1733.8" cy="515.2" r="4.4"/><circle cx="1927.7" cy="492.0" r="4.4"/><circle cx="1866.6" cy="485.3" r="4.4"/><circle cx="1794.6" cy="503.1" r="4.4"/><circle cx="1736.9" cy="465.8" r="4.4"/><circle cx="1769.7" cy="397.5" r="4.4"/><circle cx="1697.3" cy="500.4" r="4.4"/><circle cx="1976.8" cy="464.7" r="4.4"/><circle cx="1934.8" cy="479.2" r="4.4"/><circle cx="1719.5" cy="488.4" r="4.4"/><circle cx="1718.0" cy="523.9" r="4.4"/><circle cx="1858.7" cy="491.6" r="4.4"/><circle cx="1883.0" cy="509.3" r="4.4"/><circle cx="1729.1" cy="470.0" r="4.4"/><circle cx="1916.9" cy="507.5" r="4.4"/><circle cx="1817.9" cy="488.5" r="4.4"/><circle cx="1953.5" cy="512.7" r="4.4"/><circle cx="1824.8" cy="499.1" r="4.4"/><circle cx="1854.2" cy="473.6" r="4.4"/><circle cx="1868.1" cy="521.8" r="4.4"/><circle cx="1842.8" cy="437.8" r="4.4"/><circle cx="1773.2" cy="454.1" r="4.4"/><circle cx="1855.8" cy="522.2" r="4.4"/><circle cx="1899.5" cy="486.5" r="4.4"/><circle cx="1795.3" cy="492.2" r="4.4"/><circle cx="1820.4" cy="499.8" r="4.4"/><circle cx="1976.6" cy="505.4" r="4.4"/><circle cx="1795.2" cy="485.2" r="4.4"/><circle cx="1800.3" cy="504.3" r="4.4"/><circle cx="1909.2" cy="506.4" r="4.4"/><circle cx="1758.7" cy="431.0" r="4.4"/><circle cx="1695.8" cy="518.7" r="4.4"/><circle cx="1731.7" cy="444.8" r="4.4"/><circle cx="1708.2" cy="506.1" r="4.4"/><circle cx="1731.6" cy="463.4" r="4.4"/><circle cx="1745.8" cy="514.3" r="4.4"/><circle cx="1760.9" cy="503.5" r="4.4"/><circle cx="1668.7" cy="498.2" r="4.4"/><circle cx="1836.3" cy="523.7" r="4.4"/><circle cx="1795.6" cy="513.7" r="4.4"/><circle cx="1774.4" cy="402.0" r="4.4"/><circle cx="1720.9" cy="451.9" r="4.4"/><circle cx="1734.2" cy="441.7" r="4.4"/><circle cx="1880.2" cy="473.3" r="4.4"/><circle cx="1883.0" cy="505.8" r="4.4"/><circle cx="1655.7" cy="427.8" r="4.4"/><circle cx="1889.7" cy="400.0" r="4.4"/><circle cx="1903.4" cy="516.4" r="4.4"/><circle cx="1647.4" cy="495.6" r="4.4"/><circle cx="1787.7" cy="484.5" r="4.4"/><circle cx="1989.8" cy="503.2" r="4.4"/><circle cx="1733.1" cy="442.9" r="4.4"/><circle cx="1853.4" cy="487.5" r="4.4"/><circle cx="1680.1" cy="486.2" r="4.4"/><circle cx="1905.9" cy="495.5" r="4.4"/><circle cx="1926.3" cy="519.0" r="4.4"/><circle cx="2051.9" cy="454.4" r="4.4"/><circle cx="1717.9" cy="515.9" r="4.4"/><circle cx="1983.5" cy="507.6" r="4.4"/><circle cx="1716.6" cy="490.7" r="4.4"/><circle cx="1816.8" cy="468.0" r="4.4"/><circle cx="1693.7" cy="466.4" r="4.4"/><circle cx="1781.8" cy="521.8" r="4.4"/><circle cx="1833.6" cy="478.3" r="4.4"/><circle cx="1771.7" cy="507.6" r="4.4"/><circle cx="1733.4" cy="464.1" r="4.4"/><circle cx="1899.3" cy="523.9" r="4.4"/><circle cx="1738.3" cy="472.1" r="4.4"/><circle cx="1685.7" cy="525.5" r="4.4"/><circle cx="1716.6" cy="514.7" r="4.4"/><circle cx="1814.8" cy="485.1" r="4.4"/><circle cx="1683.2" cy="468.2" r="4.4"/><circle cx="1955.3" cy="479.6" r="4.4"/><circle cx="1992.1" cy="493.4" r="4.4"/><circle cx="1960.2" cy="511.5" r="4.4"/><circle cx="1867.7" cy="481.7" r="4.4"/><circle cx="1754.6" cy="482.5" r="4.4"/><circle cx="1890.6" cy="505.7" r="4.4"/><circle cx="1900.1" cy="461.6" r="4.4"/><circle cx="1892.2" cy="490.3" r="4.4"/><circle cx="1816.4" cy="478.3" r="4.4"/><circle cx="1714.5" cy="453.0" r="4.4"/><circle cx="1741.0" cy="496.8" r="4.4"/><circle cx="1720.5" cy="486.3" r="4.4"/><circle cx="1709.9" cy="513.6" r="4.4"/><circle cx="1834.3" cy="507.7" r="4.4"/><circle cx="1747.6" cy="515.1" r="4.4"/><circle cx="1929.8" cy="517.6" r="4.4"/><circle cx="1715.0" cy="510.0" r="4.4"/><circle cx="1884.2" cy="496.3" r="4.4"/><circle cx="2005.4" cy="491.1" r="4.4"/><circle cx="1731.8" cy="499.1" r="4.4"/><circle cx="1705.5" cy="482.9" r="4.4"/><circle cx="1739.8" cy="360.3" r="4.4"/><circle cx="1910.8" cy="509.7" r="4.4"/><circle cx="1909.0" cy="502.8" r="4.4"/><circle cx="1948.8" cy="508.1" r="4.4"/><circle cx="1714.9" cy="406.9" r="4.4"/><circle cx="1831.1" cy="476.8" r="4.4"/><circle cx="1850.0" cy="518.0" r="4.4"/><circle cx="1770.8" cy="466.3" r="4.4"/><circle cx="1739.6" cy="506.2" r="4.4"/><circle cx="1844.1" cy="489.6" r="4.4"/><circle cx="1796.1" cy="451.6" r="4.4"/><circle cx="2085.3" cy="499.6" r="4.4"/><circle cx="1774.9" cy="508.2" r="4.4"/><circle cx="1758.8" cy="517.4" r="4.4"/><circle cx="1696.2" cy="504.0" r="4.4"/><circle cx="1742.2" cy="470.8" r="4.4"/><circle cx="1665.5" cy="507.3" r="4.4"/><circle cx="1641.2" cy="509.4" r="4.4"/><circle cx="1730.1" cy="482.9" r="4.4"/><circle cx="1724.6" cy="444.0" r="4.4"/><circle cx="1872.3" cy="526.6" r="4.4"/><circle cx="1878.1" cy="514.0" r="4.4"/><circle cx="1721.0" cy="515.3" r="4.4"/><circle cx="1736.6" cy="496.6" r="4.4"/><circle cx="1743.7" cy="445.8" r="4.4"/><circle cx="1996.3" cy="491.2" r="4.4"/><circle cx="1912.2" cy="493.9" r="4.4"/><circle cx="1678.4" cy="470.5" r="4.4"/><circle cx="1880.0" cy="495.5" r="4.4"/><circle cx="1803.3" cy="477.9" r="4.4"/><circle cx="1955.1" cy="448.6" r="4.4"/><circle cx="1713.3" cy="456.3" r="4.4"/><circle cx="1691.0" cy="441.4" r="4.4"/><circle cx="1719.6" cy="380.0" r="4.4"/><circle cx="1723.9" cy="513.1" r="4.4"/><circle cx="1973.3" cy="428.2" r="4.4"/><circle cx="1874.7" cy="515.9" r="4.4"/><circle cx="1629.5" cy="456.2" r="4.4"/><circle cx="1697.6" cy="492.6" r="4.4"/><circle cx="1688.7" cy="388.3" r="4.4"/><circle cx="1684.9" cy="439.2" r="4.4"/><circle cx="1696.3" cy="507.3" r="4.4"/><circle cx="1697.1" cy="466.0" r="4.4"/><circle cx="1753.5" cy="454.7" r="4.4"/><circle cx="1694.6" cy="503.6" r="4.4"/><circle cx="1755.8" cy="470.4" r="4.4"/><circle cx="1758.4" cy="498.1" r="4.4"/><circle cx="1702.5" cy="494.4" r="4.4"/><circle cx="1745.1" cy="482.7" r="4.4"/><circle cx="1795.6" cy="478.0" r="4.4"/><circle cx="1754.5" cy="508.5" r="4.4"/><circle cx="1707.1" cy="394.2" r="4.4"/><circle cx="1849.9" cy="516.5" r="4.4"/><circle cx="1693.4" cy="481.4" r="4.4"/><circle cx="1770.5" cy="498.2" r="4.4"/><circle cx="1940.0" cy="459.2" r="4.4"/><circle cx="1698.2" cy="498.7" r="4.4"/><circle cx="1729.5" cy="495.4" r="4.4"/><circle cx="1793.4" cy="382.6" r="4.4"/><circle cx="1714.1" cy="498.1" r="4.4"/><circle cx="1747.9" cy="481.1" r="4.4"/><circle cx="1910.4" cy="511.2" r="4.4"/><circle cx="1650.7" cy="479.4" r="4.4"/><circle cx="1713.4" cy="476.7" r="4.4"/><circle cx="1917.3" cy="515.7" r="4.4"/><circle cx="1718.9" cy="473.3" r="4.4"/><circle cx="1713.1" cy="499.2" r="4.4"/><circle cx="1558.3" cy="492.3" r="4.4"/><circle cx="1738.8" cy="510.4" r="4.4"/><circle cx="1770.2" cy="440.9" r="4.4"/><circle cx="1859.5" cy="450.4" r="4.4"/><circle cx="1837.8" cy="507.4" r="4.4"/><circle cx="1748.9" cy="482.4" r="4.4"/><circle cx="1808.4" cy="455.5" r="4.4"/><circle cx="1859.7" cy="516.7" r="4.4"/><circle cx="1767.8" cy="476.0" r="4.4"/><circle cx="1691.7" cy="478.0" r="4.4"/><circle cx="1882.3" cy="516.1" r="4.4"/><circle cx="1735.3" cy="504.7" r="4.4"/><circle cx="1840.2" cy="429.9" r="4.4"/><circle cx="1634.8" cy="486.7" r="4.4"/><circle cx="1923.1" cy="504.1" r="4.4"/><circle cx="1793.2" cy="508.8" r="4.4"/><circle cx="1894.4" cy="475.5" r="4.4"/><circle cx="1637.0" cy="508.2" r="4.4"/><circle cx="1727.6" cy="357.6" r="4.4"/><circle cx="1911.9" cy="487.7" r="4.4"/><circle cx="1677.3" cy="450.9" r="4.4"/><circle cx="1773.5" cy="471.0" r="4.4"/><circle cx="1850.3" cy="419.5" r="4.4"/><circle cx="1613.8" cy="489.8" r="4.4"/><circle cx="1720.4" cy="507.5" r="4.4"/><circle cx="1710.9" cy="476.3" r="4.4"/><circle cx="1664.2" cy="499.9" r="4.4"/><circle cx="2093.8" cy="498.8" r="4.4"/><circle cx="1795.5" cy="487.2" r="4.4"/><circle cx="1743.0" cy="481.9" r="4.4"/><circle cx="1812.0" cy="498.4" r="4.4"/><circle cx="1779.3" cy="491.6" r="4.4"/><circle cx="1852.9" cy="480.0" r="4.4"/><circle cx="1776.3" cy="487.6" r="4.4"/><circle cx="1668.0" cy="455.5" r="4.4"/><circle cx="1655.1" cy="468.1" r="4.4"/><circle cx="1676.4" cy="500.0" r="4.4"/><circle cx="1718.9" cy="512.3" r="4.4"/><circle cx="1722.9" cy="423.4" r="4.4"/><circle cx="1856.8" cy="498.6" r="4.4"/><circle cx="2000.9" cy="519.5" r="4.4"/><circle cx="1873.4" cy="507.9" r="4.4"/><circle cx="1906.1" cy="501.7" r="4.4"/><circle cx="1670.2" cy="440.3" r="4.4"/><circle cx="1706.8" cy="453.2" r="4.4"/><circle cx="1718.7" cy="479.5" r="4.4"/><circle cx="1682.9" cy="516.3" r="4.4"/><circle cx="1784.4" cy="490.6" r="4.4"/><circle cx="1690.1" cy="503.3" r="4.4"/><circle cx="1738.0" cy="408.2" r="4.4"/><circle cx="1853.3" cy="491.9" r="4.4"/><circle cx="1765.8" cy="328.7" r="4.4"/><circle cx="1690.7" cy="470.4" r="4.4"/><circle cx="1939.9" cy="512.1" r="4.4"/><circle cx="1938.4" cy="494.7" r="4.4"/><circle cx="1760.3" cy="504.4" r="4.4"/><circle cx="2007.2" cy="491.6" r="4.4"/><circle cx="1798.3" cy="523.2" r="4.4"/><circle cx="1715.2" cy="431.6" r="4.4"/><circle cx="1819.4" cy="474.6" r="4.4"/><circle cx="1755.0" cy="445.8" r="4.4"/><circle cx="1788.4" cy="512.1" r="4.4"/><circle cx="1906.9" cy="403.7" r="4.4"/><circle cx="1773.9" cy="512.2" r="4.4"/><circle cx="1745.1" cy="473.0" r="4.4"/><circle cx="1862.7" cy="515.6" r="4.4"/><circle cx="1798.6" cy="490.9" r="4.4"/><circle cx="1879.5" cy="482.0" r="4.4"/><circle cx="1808.0" cy="516.3" r="4.4"/><circle cx="1746.5" cy="485.4" r="4.4"/><circle cx="1742.8" cy="463.4" r="4.4"/><circle cx="1623.7" cy="515.6" r="4.4"/><circle cx="1724.7" cy="445.3" r="4.4"/><circle cx="1893.9" cy="498.5" r="4.4"/><circle cx="1764.8" cy="511.3" r="4.4"/><circle cx="1774.9" cy="499.9" r="4.4"/><circle cx="1755.4" cy="504.8" r="4.4"/><circle cx="1852.0" cy="489.3" r="4.4"/><circle cx="1887.6" cy="473.9" r="4.4"/><circle cx="1938.5" cy="499.4" r="4.4"/><circle cx="1769.8" cy="468.1" r="4.4"/><circle cx="1701.8" cy="487.3" r="4.4"/><circle cx="1743.0" cy="459.2" r="4.4"/><circle cx="1624.0" cy="465.0" r="4.4"/><circle cx="1905.3" cy="521.1" r="4.4"/><circle cx="1706.7" cy="481.1" r="4.4"/><circle cx="1780.6" cy="486.0" r="4.4"/><circle cx="1649.8" cy="443.2" r="4.4"/><circle cx="1772.0" cy="432.7" r="4.4"/><circle cx="1727.2" cy="514.3" r="4.4"/><circle cx="1748.9" cy="497.5" r="4.4"/><circle cx="1694.0" cy="521.9" r="4.4"/><circle cx="1708.8" cy="471.6" r="4.4"/><circle cx="1893.4" cy="487.0" r="4.4"/><circle cx="1698.6" cy="496.1" r="4.4"/><circle cx="1704.6" cy="518.2" r="4.4"/><circle cx="2073.5" cy="494.1" r="4.4"/></g>
<g clip-path="url(#c2)" fill="#e8364e" fill-opacity="0.2" stroke="#e8364e" stroke-opacity="0.26" stroke-width="1"><circle cx="1797.9" cy="479.0" r="4.4"/><circle cx="2035.3" cy="251.5" r="4.4"/><circle cx="2009.8" cy="217.2" r="4.4"/><circle cx="1796.9" cy="409.5" r="4.4"/><circle cx="1715.0" cy="491.5" r="4.4"/><circle cx="1875.3" cy="387.4" r="4.4"/><circle cx="1725.1" cy="467.0" r="4.4"/><circle cx="1940.1" cy="355.9" r="4.4"/><circle cx="1965.9" cy="181.7" r="4.4"/><circle cx="1802.1" cy="501.8" r="4.4"/><circle cx="1753.9" cy="454.4" r="4.4"/><circle cx="1777.8" cy="466.5" r="4.4"/><circle cx="1685.5" cy="507.8" r="4.4"/><circle cx="1780.4" cy="465.3" r="4.4"/><circle cx="1824.9" cy="408.8" r="4.4"/><circle cx="2052.5" cy="52.6" r="4.4"/><circle cx="1913.9" cy="301.7" r="4.4"/><circle cx="1827.4" cy="441.0" r="4.4"/><circle cx="1938.3" cy="398.0" r="4.4"/><circle cx="1948.8" cy="371.1" r="4.4"/><circle cx="1733.2" cy="497.8" r="4.4"/><circle cx="1760.8" cy="470.7" r="4.4"/><circle cx="1905.4" cy="413.3" r="4.4"/><circle cx="1717.5" cy="494.4" r="4.4"/><circle cx="1753.4" cy="480.0" r="4.4"/><circle cx="1817.1" cy="446.8" r="4.4"/><circle cx="1744.4" cy="446.6" r="4.4"/><circle cx="1845.4" cy="338.3" r="4.4"/><circle cx="1791.7" cy="487.0" r="4.4"/><circle cx="1847.5" cy="452.2" r="4.4"/><circle cx="1780.9" cy="495.5" r="4.4"/><circle cx="1692.0" cy="527.8" r="4.4"/><circle cx="1727.0" cy="479.9" r="4.4"/><circle cx="1770.6" cy="498.0" r="4.4"/><circle cx="1931.5" cy="413.3" r="4.4"/><circle cx="1747.4" cy="498.4" r="4.4"/><circle cx="1687.5" cy="488.8" r="4.4"/><circle cx="1793.3" cy="481.8" r="4.4"/><circle cx="1911.9" cy="393.9" r="4.4"/><circle cx="1836.1" cy="402.0" r="4.4"/><circle cx="1728.0" cy="476.4" r="4.4"/><circle cx="2047.0" cy="163.3" r="4.4"/><circle cx="1948.5" cy="271.0" r="4.4"/><circle cx="1794.6" cy="494.3" r="4.4"/><circle cx="1710.2" cy="487.6" r="4.4"/><circle cx="1955.8" cy="364.2" r="4.4"/><circle cx="1789.5" cy="439.2" r="4.4"/><circle cx="1853.2" cy="393.0" r="4.4"/><circle cx="1769.0" cy="493.8" r="4.4"/><circle cx="1986.5" cy="177.1" r="4.4"/><circle cx="1706.2" cy="501.6" r="4.4"/><circle cx="1848.9" cy="377.5" r="4.4"/><circle cx="1774.1" cy="481.7" r="4.4"/><circle cx="1740.3" cy="493.6" r="4.4"/><circle cx="1762.1" cy="495.3" r="4.4"/><circle cx="1713.5" cy="495.0" r="4.4"/><circle cx="1794.5" cy="465.7" r="4.4"/><circle cx="1782.0" cy="476.9" r="4.4"/><circle cx="1739.9" cy="475.2" r="4.4"/><circle cx="1758.3" cy="494.2" r="4.4"/><circle cx="2019.0" cy="272.1" r="4.4"/><circle cx="1810.4" cy="452.0" r="4.4"/><circle cx="1895.8" cy="457.5" r="4.4"/><circle cx="1704.5" cy="506.5" r="4.4"/><circle cx="1729.5" cy="501.0" r="4.4"/><circle cx="1795.9" cy="512.6" r="4.4"/><circle cx="1671.7" cy="503.6" r="4.4"/><circle cx="1796.0" cy="458.0" r="4.4"/><circle cx="2064.6" cy="84.2" r="4.4"/><circle cx="1685.6" cy="501.1" r="4.4"/><circle cx="1848.8" cy="368.7" r="4.4"/><circle cx="1733.9" cy="465.6" r="4.4"/><circle cx="1663.7" cy="507.4" r="4.4"/><circle cx="1885.2" cy="330.8" r="4.4"/><circle cx="1783.5" cy="464.8" r="4.4"/><circle cx="1904.6" cy="406.2" r="4.4"/><circle cx="2027.8" cy="181.1" r="4.4"/><circle cx="1865.6" cy="370.8" r="4.4"/><circle cx="1785.6" cy="464.9" r="4.4"/><circle cx="1707.5" cy="497.3" r="4.4"/><circle cx="1755.7" cy="492.7" r="4.4"/><circle cx="1899.2" cy="356.5" r="4.4"/><circle cx="1828.3" cy="429.4" r="4.4"/><circle cx="1714.9" cy="507.5" r="4.4"/><circle cx="1808.6" cy="453.0" r="4.4"/><circle cx="1801.4" cy="449.5" r="4.4"/><circle cx="1920.6" cy="372.4" r="4.4"/><circle cx="1718.1" cy="478.7" r="4.4"/><circle cx="1792.3" cy="451.4" r="4.4"/><circle cx="1748.9" cy="497.8" r="4.4"/><circle cx="1781.3" cy="475.9" r="4.4"/><circle cx="1927.2" cy="345.9" r="4.4"/><circle cx="1767.0" cy="460.2" r="4.4"/><circle cx="1922.1" cy="265.6" r="4.4"/><circle cx="1698.8" cy="518.6" r="4.4"/><circle cx="1826.6" cy="463.7" r="4.4"/><circle cx="1723.3" cy="485.6" r="4.4"/><circle cx="1828.0" cy="410.8" r="4.4"/><circle cx="1820.6" cy="379.0" r="4.4"/><circle cx="1644.4" cy="513.8" r="4.4"/><circle cx="1871.4" cy="429.4" r="4.4"/><circle cx="1958.7" cy="396.5" r="4.4"/><circle cx="1776.7" cy="457.3" r="4.4"/><circle cx="1997.1" cy="379.1" r="4.4"/><circle cx="1714.3" cy="490.4" r="4.4"/><circle cx="1760.5" cy="466.6" r="4.4"/><circle cx="1955.5" cy="308.8" r="4.4"/><circle cx="1900.6" cy="452.6" r="4.4"/><circle cx="1788.1" cy="491.2" r="4.4"/><circle cx="1877.6" cy="377.9" r="4.4"/><circle cx="1969.0" cy="405.5" r="4.4"/><circle cx="2000.7" cy="313.5" r="4.4"/><circle cx="1784.8" cy="461.4" r="4.4"/><circle cx="1567.6" cy="503.4" r="4.4"/><circle cx="1695.8" cy="488.9" r="4.4"/><circle cx="1894.7" cy="394.5" r="4.4"/><circle cx="1894.2" cy="414.5" r="4.4"/><circle cx="1694.6" cy="485.6" r="4.4"/><circle cx="1663.1" cy="524.0" r="4.4"/><circle cx="2010.6" cy="210.7" r="4.4"/><circle cx="1762.5" cy="475.1" r="4.4"/><circle cx="1952.7" cy="259.9" r="4.4"/><circle cx="1869.8" cy="470.1" r="4.4"/><circle cx="1857.7" cy="376.0" r="4.4"/><circle cx="2033.5" cy="264.7" r="4.4"/><circle cx="1734.1" cy="475.1" r="4.4"/><circle cx="1766.2" cy="468.0" r="4.4"/><circle cx="1789.6" cy="452.8" r="4.4"/><circle cx="1722.1" cy="474.0" r="4.4"/><circle cx="1726.9" cy="491.7" r="4.4"/><circle cx="1703.3" cy="485.2" r="4.4"/><circle cx="1948.8" cy="358.8" r="4.4"/><circle cx="1695.2" cy="498.5" r="4.4"/><circle cx="1788.1" cy="499.3" r="4.4"/><circle cx="1799.0" cy="473.2" r="4.4"/><circle cx="1760.9" cy="489.7" r="4.4"/><circle cx="1905.0" cy="425.1" r="4.4"/><circle cx="1923.3" cy="393.3" r="4.4"/><circle cx="1900.1" cy="462.4" r="4.4"/><circle cx="2037.5" cy="65.9" r="4.4"/><circle cx="1875.3" cy="393.2" r="4.4"/><circle cx="1856.4" cy="328.9" r="4.4"/><circle cx="1824.2" cy="474.0" r="4.4"/><circle cx="1772.2" cy="495.9" r="4.4"/><circle cx="1706.7" cy="492.5" r="4.4"/><circle cx="1900.3" cy="445.1" r="4.4"/><circle cx="1759.6" cy="480.8" r="4.4"/><circle cx="1741.5" cy="498.9" r="4.4"/><circle cx="1897.3" cy="394.6" r="4.4"/><circle cx="1678.3" cy="505.7" r="4.4"/><circle cx="1651.4" cy="510.9" r="4.4"/><circle cx="1836.6" cy="378.2" r="4.4"/><circle cx="1939.4" cy="309.4" r="4.4"/><circle cx="1858.2" cy="464.6" r="4.4"/><circle cx="1871.9" cy="357.2" r="4.4"/><circle cx="1838.7" cy="475.1" r="4.4"/><circle cx="1728.0" cy="487.6" r="4.4"/><circle cx="1751.7" cy="494.1" r="4.4"/><circle cx="1669.6" cy="499.4" r="4.4"/><circle cx="1654.3" cy="505.2" r="4.4"/><circle cx="1687.2" cy="496.5" r="4.4"/><circle cx="1894.9" cy="422.3" r="4.4"/><circle cx="1807.8" cy="472.6" r="4.4"/><circle cx="1815.3" cy="465.2" r="4.4"/><circle cx="1872.7" cy="347.3" r="4.4"/><circle cx="1770.0" cy="498.1" r="4.4"/><circle cx="1867.6" cy="474.3" r="4.4"/><circle cx="1829.7" cy="424.9" r="4.4"/><circle cx="1723.2" cy="509.4" r="4.4"/><circle cx="1802.2" cy="477.9" r="4.4"/><circle cx="1766.0" cy="459.1" r="4.4"/><circle cx="1872.6" cy="398.0" r="4.4"/><circle cx="2045.7" cy="267.7" r="4.4"/><circle cx="1744.6" cy="500.7" r="4.4"/><circle cx="1691.7" cy="497.3" r="4.4"/><circle cx="1766.7" cy="495.4" r="4.4"/><circle cx="1900.4" cy="386.8" r="4.4"/><circle cx="1985.5" cy="190.5" r="4.4"/><circle cx="1875.3" cy="370.8" r="4.4"/><circle cx="1822.5" cy="459.2" r="4.4"/><circle cx="1729.6" cy="497.6" r="4.4"/><circle cx="1930.3" cy="325.9" r="4.4"/><circle cx="1993.5" cy="402.3" r="4.4"/><circle cx="2016.9" cy="300.3" r="4.4"/><circle cx="1582.8" cy="507.7" r="4.4"/><circle cx="1725.8" cy="506.3" r="4.4"/><circle cx="1672.1" cy="518.1" r="4.4"/><circle cx="1744.3" cy="490.2" r="4.4"/><circle cx="1856.2" cy="471.0" r="4.4"/><circle cx="1793.8" cy="491.9" r="4.4"/><circle cx="1685.2" cy="506.2" r="4.4"/><circle cx="1887.3" cy="401.8" r="4.4"/><circle cx="1719.1" cy="516.1" r="4.4"/><circle cx="1849.9" cy="395.6" r="4.4"/><circle cx="1699.0" cy="508.4" r="4.4"/><circle cx="1847.0" cy="444.3" r="4.4"/><circle cx="1781.2" cy="479.7" r="4.4"/><circle cx="1780.3" cy="487.4" r="4.4"/><circle cx="1583.5" cy="516.2" r="4.4"/><circle cx="1727.9" cy="468.3" r="4.4"/><circle cx="1867.8" cy="405.5" r="4.4"/><circle cx="1844.5" cy="439.7" r="4.4"/><circle cx="1914.7" cy="313.5" r="4.4"/><circle cx="1774.7" cy="486.0" r="4.4"/><circle cx="1865.5" cy="398.7" r="4.4"/><circle cx="1761.8" cy="482.1" r="4.4"/><circle cx="1930.5" cy="387.2" r="4.4"/><circle cx="2055.7" cy="115.1" r="4.4"/><circle cx="1715.5" cy="502.8" r="4.4"/><circle cx="1780.5" cy="464.6" r="4.4"/><circle cx="1794.4" cy="479.2" r="4.4"/><circle cx="1702.6" cy="480.6" r="4.4"/><circle cx="1692.7" cy="485.2" r="4.4"/><circle cx="1899.0" cy="358.3" r="4.4"/><circle cx="1864.9" cy="432.7" r="4.4"/><circle cx="1809.5" cy="455.6" r="4.4"/><circle cx="1583.6" cy="493.6" r="4.4"/><circle cx="1792.5" cy="486.8" r="4.4"/><circle cx="1725.6" cy="502.5" r="4.4"/><circle cx="1996.1" cy="294.5" r="4.4"/><circle cx="1927.3" cy="317.2" r="4.4"/><circle cx="1751.7" cy="503.7" r="4.4"/><circle cx="1785.7" cy="473.1" r="4.4"/><circle cx="1827.6" cy="423.7" r="4.4"/><circle cx="1838.3" cy="442.4" r="4.4"/><circle cx="1738.6" cy="502.6" r="4.4"/><circle cx="1879.2" cy="369.1" r="4.4"/><circle cx="1778.0" cy="493.8" r="4.4"/><circle cx="1783.4" cy="463.3" r="4.4"/><circle cx="1947.4" cy="216.8" r="4.4"/><circle cx="1707.7" cy="515.7" r="4.4"/><circle cx="1871.2" cy="412.8" r="4.4"/><circle cx="1583.5" cy="501.6" r="4.4"/><circle cx="1603.0" cy="504.6" r="4.4"/><circle cx="1836.9" cy="466.5" r="4.4"/><circle cx="1849.9" cy="436.7" r="4.4"/><circle cx="1813.1" cy="479.6" r="4.4"/><circle cx="1753.1" cy="483.9" r="4.4"/><circle cx="1926.9" cy="347.3" r="4.4"/><circle cx="2007.4" cy="326.3" r="4.4"/><circle cx="1749.3" cy="508.8" r="4.4"/><circle cx="1728.6" cy="498.8" r="4.4"/><circle cx="1712.5" cy="499.3" r="4.4"/><circle cx="2017.8" cy="266.7" r="4.4"/><circle cx="1712.1" cy="506.9" r="4.4"/><circle cx="1774.5" cy="482.2" r="4.4"/><circle cx="1719.4" cy="493.6" r="4.4"/><circle cx="1777.9" cy="510.0" r="4.4"/><circle cx="1896.0" cy="369.9" r="4.4"/><circle cx="1736.2" cy="463.8" r="4.4"/><circle cx="1695.5" cy="509.9" r="4.4"/><circle cx="1884.3" cy="424.4" r="4.4"/><circle cx="1788.8" cy="474.5" r="4.4"/><circle cx="1756.2" cy="477.8" r="4.4"/><circle cx="1762.9" cy="447.2" r="4.4"/><circle cx="1755.8" cy="463.4" r="4.4"/><circle cx="1741.5" cy="494.1" r="4.4"/><circle cx="1848.6" cy="420.5" r="4.4"/><circle cx="1903.1" cy="364.7" r="4.4"/><circle cx="1775.2" cy="493.7" r="4.4"/><circle cx="1686.3" cy="490.6" r="4.4"/><circle cx="1937.5" cy="320.8" r="4.4"/><circle cx="1740.2" cy="472.2" r="4.4"/><circle cx="1702.5" cy="503.9" r="4.4"/><circle cx="1715.0" cy="490.6" r="4.4"/><circle cx="1706.0" cy="515.9" r="4.4"/><circle cx="1579.4" cy="515.9" r="4.4"/><circle cx="1704.0" cy="510.4" r="4.4"/><circle cx="1793.6" cy="497.1" r="4.4"/><circle cx="1932.1" cy="322.6" r="4.4"/><circle cx="1847.7" cy="436.8" r="4.4"/><circle cx="1703.4" cy="503.2" r="4.4"/><circle cx="1641.8" cy="512.4" r="4.4"/><circle cx="1958.4" cy="210.9" r="4.4"/><circle cx="1789.6" cy="453.1" r="4.4"/><circle cx="1894.9" cy="400.4" r="4.4"/><circle cx="1674.1" cy="506.8" r="4.4"/><circle cx="1796.1" cy="450.6" r="4.4"/><circle cx="1952.1" cy="236.0" r="4.4"/><circle cx="2008.9" cy="271.3" r="4.4"/><circle cx="1899.6" cy="449.7" r="4.4"/><circle cx="1789.5" cy="471.9" r="4.4"/><circle cx="1856.8" cy="385.1" r="4.4"/><circle cx="1862.2" cy="398.4" r="4.4"/><circle cx="1876.8" cy="423.8" r="4.4"/><circle cx="1755.7" cy="460.7" r="4.4"/><circle cx="1768.3" cy="483.9" r="4.4"/><circle cx="1949.3" cy="302.2" r="4.4"/><circle cx="1978.7" cy="415.7" r="4.4"/><circle cx="2043.2" cy="314.2" r="4.4"/><circle cx="1693.0" cy="496.7" r="4.4"/><circle cx="1735.6" cy="492.8" r="4.4"/><circle cx="1826.3" cy="441.1" r="4.4"/><circle cx="1693.9" cy="480.7" r="4.4"/><circle cx="1939.1" cy="379.7" r="4.4"/><circle cx="2040.0" cy="218.5" r="4.4"/><circle cx="1655.8" cy="509.2" r="4.4"/><circle cx="2039.7" cy="289.9" r="4.4"/><circle cx="1887.5" cy="404.1" r="4.4"/><circle cx="1715.0" cy="503.2" r="4.4"/><circle cx="1884.6" cy="460.3" r="4.4"/><circle cx="1659.5" cy="508.7" r="4.4"/><circle cx="1818.0" cy="461.9" r="4.4"/><circle cx="1906.6" cy="327.2" r="4.4"/><circle cx="1834.0" cy="446.8" r="4.4"/><circle cx="1689.7" cy="495.3" r="4.4"/><circle cx="1720.6" cy="484.2" r="4.4"/><circle cx="1740.1" cy="482.5" r="4.4"/><circle cx="1762.9" cy="497.5" r="4.4"/><circle cx="1917.5" cy="295.8" r="4.4"/><circle cx="1914.1" cy="425.5" r="4.4"/><circle cx="1651.0" cy="508.9" r="4.4"/><circle cx="1875.3" cy="257.3" r="4.4"/><circle cx="2019.8" cy="255.3" r="4.4"/><circle cx="1633.1" cy="482.0" r="4.4"/><circle cx="1857.1" cy="437.7" r="4.4"/><circle cx="1796.5" cy="448.1" r="4.4"/><circle cx="1720.6" cy="501.1" r="4.4"/><circle cx="1699.7" cy="505.5" r="4.4"/><circle cx="1988.7" cy="359.9" r="4.4"/><circle cx="1948.1" cy="416.1" r="4.4"/><circle cx="1734.6" cy="486.3" r="4.4"/><circle cx="1849.1" cy="466.1" r="4.4"/><circle cx="1819.8" cy="472.1" r="4.4"/><circle cx="2059.0" cy="139.7" r="4.4"/><circle cx="1712.2" cy="497.2" r="4.4"/><circle cx="1749.5" cy="499.2" r="4.4"/><circle cx="2075.9" cy="286.2" r="4.4"/><circle cx="1781.8" cy="455.9" r="4.4"/><circle cx="1714.7" cy="497.2" r="4.4"/><circle cx="1798.8" cy="456.2" r="4.4"/><circle cx="1795.2" cy="468.3" r="4.4"/><circle cx="2021.1" cy="89.0" r="4.4"/><circle cx="1805.6" cy="469.6" r="4.4"/><circle cx="1761.8" cy="504.9" r="4.4"/><circle cx="1730.2" cy="485.5" r="4.4"/><circle cx="1848.7" cy="447.4" r="4.4"/><circle cx="1672.7" cy="507.3" r="4.4"/><circle cx="1748.7" cy="500.6" r="4.4"/><circle cx="1713.0" cy="492.3" r="4.4"/><circle cx="1720.8" cy="498.7" r="4.4"/><circle cx="1654.7" cy="513.3" r="4.4"/><circle cx="1957.9" cy="413.3" r="4.4"/><circle cx="1737.6" cy="480.0" r="4.4"/><circle cx="1781.4" cy="465.5" r="4.4"/><circle cx="1836.6" cy="391.8" r="4.4"/><circle cx="1797.6" cy="480.3" r="4.4"/><circle cx="1812.5" cy="480.5" r="4.4"/><circle cx="1698.6" cy="497.3" r="4.4"/><circle cx="1758.0" cy="486.3" r="4.4"/><circle cx="1726.7" cy="506.9" r="4.4"/><circle cx="1767.8" cy="492.9" r="4.4"/><circle cx="1823.0" cy="469.1" r="4.4"/><circle cx="2024.5" cy="274.0" r="4.4"/><circle cx="1666.4" cy="504.1" r="4.4"/><circle cx="1697.1" cy="503.4" r="4.4"/><circle cx="1983.9" cy="354.8" r="4.4"/><circle cx="1680.9" cy="503.2" r="4.4"/><circle cx="1801.5" cy="480.9" r="4.4"/><circle cx="1956.9" cy="327.3" r="4.4"/><circle cx="1665.3" cy="500.3" r="4.4"/><circle cx="1853.9" cy="483.7" r="4.4"/><circle cx="1799.3" cy="467.1" r="4.4"/><circle cx="1879.0" cy="353.8" r="4.4"/><circle cx="1806.1" cy="446.7" r="4.4"/><circle cx="1970.3" cy="284.1" r="4.4"/><circle cx="1752.3" cy="486.1" r="4.4"/><circle cx="1967.1" cy="360.8" r="4.4"/><circle cx="2096.2" cy="296.5" r="4.4"/><circle cx="1797.0" cy="450.1" r="4.4"/><circle cx="1795.7" cy="433.0" r="4.4"/><circle cx="1804.2" cy="444.0" r="4.4"/><circle cx="1790.4" cy="451.3" r="4.4"/><circle cx="1561.1" cy="481.8" r="4.4"/><circle cx="1732.3" cy="501.2" r="4.4"/><circle cx="1880.3" cy="397.0" r="4.4"/><circle cx="1720.1" cy="486.6" r="4.4"/><circle cx="1894.8" cy="367.9" r="4.4"/><circle cx="1721.2" cy="516.4" r="4.4"/><circle cx="2098.0" cy="235.7" r="4.4"/><circle cx="1808.2" cy="443.7" r="4.4"/><circle cx="1770.7" cy="487.6" r="4.4"/><circle cx="1966.3" cy="446.3" r="4.4"/><circle cx="1783.3" cy="469.1" r="4.4"/><circle cx="1789.8" cy="507.5" r="4.4"/><circle cx="1755.0" cy="465.7" r="4.4"/><circle cx="1933.1" cy="320.3" r="4.4"/><circle cx="1959.0" cy="289.1" r="4.4"/><circle cx="2068.7" cy="258.9" r="4.4"/><circle cx="1836.8" cy="463.1" r="4.4"/><circle cx="1882.5" cy="416.4" r="4.4"/><circle cx="1857.4" cy="430.3" r="4.4"/><circle cx="1903.8" cy="427.2" r="4.4"/><circle cx="1926.5" cy="374.2" r="4.4"/><circle cx="1836.3" cy="425.5" r="4.4"/><circle cx="1716.8" cy="484.6" r="4.4"/><circle cx="1998.0" cy="356.1" r="4.4"/><circle cx="1750.1" cy="493.9" r="4.4"/><circle cx="1823.5" cy="453.1" r="4.4"/><circle cx="1966.1" cy="381.3" r="4.4"/><circle cx="1776.7" cy="462.9" r="4.4"/><circle cx="1860.8" cy="346.2" r="4.4"/><circle cx="1694.1" cy="493.9" r="4.4"/><circle cx="1841.1" cy="443.8" r="4.4"/><circle cx="1775.7" cy="454.0" r="4.4"/><circle cx="1952.3" cy="207.6" r="4.4"/><circle cx="1777.1" cy="484.4" r="4.4"/><circle cx="1912.7" cy="372.2" r="4.4"/><circle cx="1874.7" cy="385.2" r="4.4"/><circle cx="1919.8" cy="387.1" r="4.4"/><circle cx="1912.7" cy="414.8" r="4.4"/><circle cx="1993.8" cy="346.5" r="4.4"/><circle cx="1900.7" cy="396.5" r="4.4"/><circle cx="1773.4" cy="492.8" r="4.4"/><circle cx="1781.7" cy="477.8" r="4.4"/><circle cx="2015.0" cy="284.5" r="4.4"/><circle cx="1730.3" cy="480.7" r="4.4"/><circle cx="1709.7" cy="487.3" r="4.4"/><circle cx="1856.6" cy="470.9" r="4.4"/><circle cx="1763.2" cy="460.7" r="4.4"/><circle cx="1802.0" cy="483.4" r="4.4"/><circle cx="1732.7" cy="473.5" r="4.4"/><circle cx="1758.8" cy="478.1" r="4.4"/><circle cx="1823.8" cy="446.0" r="4.4"/><circle cx="1811.7" cy="449.7" r="4.4"/><circle cx="1792.5" cy="484.0" r="4.4"/><circle cx="1667.0" cy="506.3" r="4.4"/><circle cx="1681.8" cy="486.8" r="4.4"/><circle cx="1857.6" cy="444.0" r="4.4"/><circle cx="1822.1" cy="440.1" r="4.4"/><circle cx="1816.1" cy="481.2" r="4.4"/><circle cx="1798.0" cy="451.6" r="4.4"/><circle cx="1834.8" cy="467.1" r="4.4"/><circle cx="1877.2" cy="386.3" r="4.4"/><circle cx="2035.5" cy="193.7" r="4.4"/><circle cx="1733.7" cy="482.4" r="4.4"/><circle cx="1729.0" cy="505.1" r="4.4"/><circle cx="1807.9" cy="347.8" r="4.4"/><circle cx="1889.1" cy="424.4" r="4.4"/><circle cx="1713.0" cy="500.5" r="4.4"/><circle cx="1925.0" cy="410.7" r="4.4"/><circle cx="1816.2" cy="414.5" r="4.4"/><circle cx="1656.6" cy="505.3" r="4.4"/><circle cx="2094.1" cy="61.8" r="4.4"/><circle cx="1694.9" cy="506.6" r="4.4"/><circle cx="1747.6" cy="476.4" r="4.4"/><circle cx="1817.8" cy="480.8" r="4.4"/><circle cx="1881.6" cy="363.9" r="4.4"/><circle cx="1828.8" cy="455.4" r="4.4"/><circle cx="1883.8" cy="437.8" r="4.4"/><circle cx="1792.0" cy="469.4" r="4.4"/><circle cx="1823.9" cy="472.0" r="4.4"/><circle cx="1850.5" cy="450.2" r="4.4"/><circle cx="1814.6" cy="428.6" r="4.4"/><circle cx="1944.2" cy="432.3" r="4.4"/><circle cx="1702.2" cy="489.4" r="4.4"/><circle cx="1789.4" cy="470.8" r="4.4"/><circle cx="1813.5" cy="462.2" r="4.4"/><circle cx="1768.1" cy="467.4" r="4.4"/><circle cx="1751.0" cy="476.9" r="4.4"/><circle cx="1670.5" cy="509.8" r="4.4"/><circle cx="1800.0" cy="467.1" r="4.4"/><circle cx="1950.1" cy="287.8" r="4.4"/><circle cx="1740.0" cy="484.5" r="4.4"/><circle cx="1791.8" cy="464.4" r="4.4"/><circle cx="1660.6" cy="517.3" r="4.4"/><circle cx="1858.8" cy="459.5" r="4.4"/><circle cx="1823.5" cy="462.0" r="4.4"/><circle cx="1773.2" cy="469.8" r="4.4"/><circle cx="1729.8" cy="489.2" r="4.4"/><circle cx="1764.7" cy="492.2" r="4.4"/><circle cx="1691.1" cy="483.4" r="4.4"/><circle cx="2033.3" cy="269.2" r="4.4"/><circle cx="1888.3" cy="418.3" r="4.4"/><circle cx="1944.4" cy="367.0" r="4.4"/><circle cx="1888.5" cy="293.3" r="4.4"/><circle cx="1908.9" cy="459.6" r="4.4"/><circle cx="1930.2" cy="332.9" r="4.4"/><circle cx="1757.2" cy="481.2" r="4.4"/><circle cx="1701.9" cy="493.9" r="4.4"/><circle cx="1676.5" cy="466.0" r="4.4"/><circle cx="1741.6" cy="477.5" r="4.4"/><circle cx="1704.4" cy="492.4" r="4.4"/><circle cx="1736.0" cy="507.7" r="4.4"/><circle cx="1677.6" cy="493.8" r="4.4"/><circle cx="1715.0" cy="504.5" r="4.4"/><circle cx="1649.3" cy="515.6" r="4.4"/><circle cx="1951.3" cy="319.2" r="4.4"/><circle cx="2017.9" cy="293.6" r="4.4"/><circle cx="1678.7" cy="506.6" r="4.4"/><circle cx="1758.3" cy="444.5" r="4.4"/><circle cx="1835.3" cy="407.0" r="4.4"/><circle cx="2007.0" cy="237.6" r="4.4"/><circle cx="1705.8" cy="501.3" r="4.4"/><circle cx="1821.2" cy="423.5" r="4.4"/><circle cx="1728.2" cy="482.5" r="4.4"/><circle cx="1630.6" cy="515.4" r="4.4"/><circle cx="1821.0" cy="461.8" r="4.4"/><circle cx="1722.3" cy="488.4" r="4.4"/><circle cx="1682.9" cy="505.0" r="4.4"/><circle cx="1675.1" cy="498.4" r="4.4"/><circle cx="1902.4" cy="441.1" r="4.4"/><circle cx="1821.4" cy="477.3" r="4.4"/><circle cx="1672.5" cy="495.6" r="4.4"/><circle cx="1958.9" cy="397.2" r="4.4"/><circle cx="1764.4" cy="482.7" r="4.4"/><circle cx="1766.4" cy="472.6" r="4.4"/><circle cx="1986.0" cy="380.7" r="4.4"/><circle cx="1768.6" cy="462.3" r="4.4"/><circle cx="1766.2" cy="501.1" r="4.4"/><circle cx="1934.6" cy="318.6" r="4.4"/><circle cx="1996.6" cy="275.7" r="4.4"/><circle cx="1758.6" cy="489.0" r="4.4"/><circle cx="1967.8" cy="372.6" r="4.4"/><circle cx="1847.8" cy="472.1" r="4.4"/><circle cx="1725.0" cy="492.5" r="4.4"/><circle cx="1774.8" cy="504.7" r="4.4"/><circle cx="1860.2" cy="340.6" r="4.4"/><circle cx="1633.0" cy="495.8" r="4.4"/><circle cx="1753.6" cy="506.7" r="4.4"/><circle cx="1684.3" cy="509.0" r="4.4"/><circle cx="1988.8" cy="271.6" r="4.4"/><circle cx="1798.1" cy="470.4" r="4.4"/><circle cx="1786.0" cy="457.7" r="4.4"/><circle cx="1968.2" cy="263.6" r="4.4"/><circle cx="1836.9" cy="461.6" r="4.4"/><circle cx="1768.8" cy="477.2" r="4.4"/><circle cx="2004.8" cy="270.4" r="4.4"/><circle cx="1617.0" cy="506.2" r="4.4"/><circle cx="1874.9" cy="417.8" r="4.4"/><circle cx="1772.7" cy="485.8" r="4.4"/><circle cx="1826.2" cy="474.7" r="4.4"/><circle cx="1694.7" cy="499.4" r="4.4"/><circle cx="1906.6" cy="383.1" r="4.4"/><circle cx="1856.5" cy="402.4" r="4.4"/><circle cx="1813.5" cy="443.0" r="4.4"/><circle cx="1737.6" cy="498.9" r="4.4"/><circle cx="1680.6" cy="482.3" r="4.4"/><circle cx="1886.6" cy="382.1" r="4.4"/><circle cx="1632.4" cy="498.5" r="4.4"/><circle cx="1864.7" cy="366.8" r="4.4"/><circle cx="1845.8" cy="471.9" r="4.4"/><circle cx="1934.5" cy="371.5" r="4.4"/><circle cx="1926.6" cy="396.4" r="4.4"/><circle cx="1975.9" cy="366.2" r="4.4"/><circle cx="1831.7" cy="378.9" r="4.4"/><circle cx="1801.1" cy="447.0" r="4.4"/><circle cx="1736.4" cy="514.3" r="4.4"/><circle cx="1796.9" cy="448.4" r="4.4"/><circle cx="1701.0" cy="502.9" r="4.4"/><circle cx="1722.4" cy="484.1" r="4.4"/><circle cx="1937.1" cy="352.1" r="4.4"/><circle cx="1678.8" cy="504.4" r="4.4"/><circle cx="1725.2" cy="499.1" r="4.4"/><circle cx="1674.9" cy="504.6" r="4.4"/><circle cx="1744.3" cy="501.6" r="4.4"/><circle cx="1908.3" cy="388.0" r="4.4"/><circle cx="1702.4" cy="495.4" r="4.4"/><circle cx="1749.5" cy="477.2" r="4.4"/><circle cx="1695.4" cy="507.2" r="4.4"/><circle cx="1683.2" cy="502.0" r="4.4"/><circle cx="1679.0" cy="491.1" r="4.4"/><circle cx="1808.7" cy="467.4" r="4.4"/><circle cx="1852.5" cy="413.4" r="4.4"/><circle cx="1761.9" cy="505.9" r="4.4"/><circle cx="1890.3" cy="408.4" r="4.4"/><circle cx="1772.6" cy="482.1" r="4.4"/><circle cx="1833.8" cy="420.9" r="4.4"/><circle cx="1777.2" cy="476.7" r="4.4"/><circle cx="1752.6" cy="484.1" r="4.4"/><circle cx="1730.5" cy="500.2" r="4.4"/><circle cx="1767.9" cy="504.8" r="4.4"/><circle cx="1594.3" cy="513.2" r="4.4"/><circle cx="1562.1" cy="506.4" r="4.4"/><circle cx="1846.7" cy="451.5" r="4.4"/><circle cx="1717.3" cy="498.1" r="4.4"/><circle cx="1866.5" cy="388.1" r="4.4"/><circle cx="1834.4" cy="434.1" r="4.4"/><circle cx="1831.7" cy="375.0" r="4.4"/><circle cx="1743.5" cy="481.6" r="4.4"/><circle cx="1694.6" cy="516.8" r="4.4"/><circle cx="2043.1" cy="269.2" r="4.4"/><circle cx="1699.4" cy="490.2" r="4.4"/><circle cx="1693.1" cy="487.7" r="4.4"/><circle cx="1774.6" cy="464.4" r="4.4"/><circle cx="1863.6" cy="438.1" r="4.4"/><circle cx="1977.6" cy="282.0" r="4.4"/><circle cx="1872.7" cy="403.1" r="4.4"/><circle cx="1895.2" cy="394.9" r="4.4"/><circle cx="1824.8" cy="462.1" r="4.4"/><circle cx="1816.6" cy="490.0" r="4.4"/><circle cx="2004.7" cy="314.5" r="4.4"/><circle cx="2050.3" cy="93.6" r="4.4"/><circle cx="1854.3" cy="427.3" r="4.4"/><circle cx="1814.7" cy="495.4" r="4.4"/><circle cx="1960.6" cy="333.4" r="4.4"/><circle cx="1746.7" cy="505.1" r="4.4"/><circle cx="1846.0" cy="349.8" r="4.4"/><circle cx="2058.2" cy="184.0" r="4.4"/><circle cx="1667.1" cy="513.9" r="4.4"/><circle cx="2051.3" cy="121.4" r="4.4"/><circle cx="1863.6" cy="433.6" r="4.4"/><circle cx="1749.3" cy="470.3" r="4.4"/><circle cx="1796.4" cy="469.6" r="4.4"/><circle cx="1742.4" cy="499.2" r="4.4"/><circle cx="1851.8" cy="409.5" r="4.4"/><circle cx="1704.1" cy="511.6" r="4.4"/><circle cx="1751.1" cy="465.9" r="4.4"/><circle cx="1558.6" cy="499.7" r="4.4"/><circle cx="1678.2" cy="522.3" r="4.4"/><circle cx="1956.3" cy="438.0" r="4.4"/><circle cx="1946.1" cy="220.4" r="4.4"/><circle cx="1690.8" cy="479.6" r="4.4"/><circle cx="1735.6" cy="511.3" r="4.4"/><circle cx="1688.3" cy="482.7" r="4.4"/><circle cx="1831.0" cy="443.2" r="4.4"/><circle cx="1713.8" cy="498.7" r="4.4"/><circle cx="1715.1" cy="505.2" r="4.4"/><circle cx="1830.9" cy="453.7" r="4.4"/><circle cx="1863.1" cy="360.7" r="4.4"/><circle cx="1710.8" cy="515.7" r="4.4"/><circle cx="1694.9" cy="513.1" r="4.4"/><circle cx="1823.0" cy="376.4" r="4.4"/><circle cx="1733.8" cy="499.6" r="4.4"/><circle cx="1927.7" cy="407.8" r="4.4"/><circle cx="1866.6" cy="431.2" r="4.4"/><circle cx="1794.6" cy="480.9" r="4.4"/><circle cx="1736.9" cy="488.7" r="4.4"/><circle cx="1769.7" cy="475.5" r="4.4"/><circle cx="1697.3" cy="508.3" r="4.4"/><circle cx="1976.8" cy="352.2" r="4.4"/><circle cx="1934.8" cy="399.1" r="4.4"/><circle cx="1719.5" cy="470.7" r="4.4"/><circle cx="1718.0" cy="484.9" r="4.4"/><circle cx="1858.7" cy="320.2" r="4.4"/><circle cx="1883.0" cy="436.8" r="4.4"/><circle cx="1729.1" cy="482.1" r="4.4"/><circle cx="1916.9" cy="368.5" r="4.4"/><circle cx="1817.9" cy="474.9" r="4.4"/><circle cx="1953.5" cy="240.9" r="4.4"/><circle cx="1824.8" cy="431.4" r="4.4"/><circle cx="1854.2" cy="445.8" r="4.4"/><circle cx="1868.1" cy="440.3" r="4.4"/><circle cx="1842.8" cy="414.8" r="4.4"/><circle cx="1773.2" cy="500.5" r="4.4"/><circle cx="1855.8" cy="369.7" r="4.4"/><circle cx="1899.5" cy="353.7" r="4.4"/><circle cx="1795.3" cy="474.4" r="4.4"/><circle cx="1820.4" cy="422.1" r="4.4"/><circle cx="1976.6" cy="147.5" r="4.4"/><circle cx="1795.2" cy="448.9" r="4.4"/><circle cx="1800.3" cy="460.1" r="4.4"/><circle cx="1909.2" cy="268.7" r="4.4"/><circle cx="1758.7" cy="451.7" r="4.4"/><circle cx="1695.8" cy="510.0" r="4.4"/><circle cx="1731.7" cy="504.4" r="4.4"/><circle cx="1708.2" cy="501.4" r="4.4"/><circle cx="1731.6" cy="507.8" r="4.4"/><circle cx="1745.8" cy="497.1" r="4.4"/><circle cx="1760.9" cy="463.9" r="4.4"/><circle cx="1668.7" cy="513.5" r="4.4"/><circle cx="1836.3" cy="437.1" r="4.4"/><circle cx="1795.6" cy="421.1" r="4.4"/><circle cx="1774.4" cy="501.8" r="4.4"/><circle cx="1720.9" cy="498.5" r="4.4"/><circle cx="1734.2" cy="477.2" r="4.4"/><circle cx="1880.2" cy="435.4" r="4.4"/><circle cx="1883.0" cy="411.4" r="4.4"/><circle cx="1655.7" cy="512.2" r="4.4"/><circle cx="1889.7" cy="401.0" r="4.4"/><circle cx="1903.4" cy="331.0" r="4.4"/><circle cx="1647.4" cy="524.7" r="4.4"/><circle cx="1787.7" cy="470.6" r="4.4"/><circle cx="1989.8" cy="380.1" r="4.4"/><circle cx="1733.1" cy="491.8" r="4.4"/><circle cx="1853.4" cy="446.2" r="4.4"/><circle cx="1680.1" cy="483.4" r="4.4"/><circle cx="1905.9" cy="341.7" r="4.4"/><circle cx="1926.3" cy="331.4" r="4.4"/><circle cx="2051.9" cy="87.9" r="4.4"/><circle cx="1717.9" cy="480.2" r="4.4"/><circle cx="1983.5" cy="220.6" r="4.4"/><circle cx="1716.6" cy="487.2" r="4.4"/><circle cx="1816.8" cy="475.8" r="4.4"/><circle cx="1693.7" cy="497.8" r="4.4"/><circle cx="1781.8" cy="472.0" r="4.4"/><circle cx="1833.6" cy="462.5" r="4.4"/><circle cx="1771.7" cy="468.0" r="4.4"/><circle cx="1733.4" cy="511.0" r="4.4"/><circle cx="1899.3" cy="307.7" r="4.4"/><circle cx="1738.3" cy="486.7" r="4.4"/><circle cx="1685.7" cy="525.1" r="4.4"/><circle cx="1716.6" cy="489.0" r="4.4"/><circle cx="1814.8" cy="498.6" r="4.4"/><circle cx="1683.2" cy="501.3" r="4.4"/><circle cx="1955.3" cy="268.1" r="4.4"/><circle cx="1992.1" cy="318.0" r="4.4"/><circle cx="1960.2" cy="387.0" r="4.4"/><circle cx="1867.7" cy="439.9" r="4.4"/><circle cx="1754.6" cy="506.1" r="4.4"/><circle cx="1890.6" cy="335.2" r="4.4"/><circle cx="1900.1" cy="391.4" r="4.4"/><circle cx="1892.2" cy="436.1" r="4.4"/><circle cx="1816.4" cy="468.4" r="4.4"/><circle cx="1714.5" cy="502.2" r="4.4"/><circle cx="1741.0" cy="461.1" r="4.4"/><circle cx="1720.5" cy="511.1" r="4.4"/><circle cx="1709.9" cy="507.1" r="4.4"/><circle cx="1834.3" cy="471.3" r="4.4"/><circle cx="1747.6" cy="477.4" r="4.4"/><circle cx="1929.8" cy="368.2" r="4.4"/><circle cx="1715.0" cy="461.5" r="4.4"/><circle cx="1884.2" cy="431.8" r="4.4"/><circle cx="2005.4" cy="307.2" r="4.4"/><circle cx="1731.8" cy="504.0" r="4.4"/><circle cx="1705.5" cy="502.3" r="4.4"/><circle cx="1739.8" cy="506.2" r="4.4"/><circle cx="1910.8" cy="342.8" r="4.4"/><circle cx="1909.0" cy="355.2" r="4.4"/><circle cx="1948.8" cy="374.0" r="4.4"/><circle cx="1714.9" cy="491.5" r="4.4"/><circle cx="1831.1" cy="400.3" r="4.4"/><circle cx="1850.0" cy="356.2" r="4.4"/><circle cx="1770.8" cy="491.7" r="4.4"/><circle cx="1739.6" cy="473.8" r="4.4"/><circle cx="1844.1" cy="366.7" r="4.4"/><circle cx="1796.1" cy="476.4" r="4.4"/><circle cx="2085.3" cy="193.6" r="4.4"/><circle cx="1774.9" cy="503.2" r="4.4"/><circle cx="1758.8" cy="488.8" r="4.4"/><circle cx="1696.2" cy="510.7" r="4.4"/><circle cx="1742.2" cy="506.9" r="4.4"/><circle cx="1665.5" cy="514.0" r="4.4"/><circle cx="1641.2" cy="502.9" r="4.4"/><circle cx="1730.1" cy="494.3" r="4.4"/><circle cx="1724.6" cy="505.5" r="4.4"/><circle cx="1872.3" cy="387.2" r="4.4"/><circle cx="1878.1" cy="424.2" r="4.4"/><circle cx="1721.0" cy="494.3" r="4.4"/><circle cx="1736.6" cy="480.8" r="4.4"/><circle cx="1743.7" cy="485.4" r="4.4"/><circle cx="1996.3" cy="342.9" r="4.4"/><circle cx="1912.2" cy="398.4" r="4.4"/><circle cx="1678.4" cy="479.9" r="4.4"/><circle cx="1880.0" cy="398.0" r="4.4"/><circle cx="1803.3" cy="493.8" r="4.4"/><circle cx="1955.1" cy="313.9" r="4.4"/><circle cx="1713.3" cy="499.8" r="4.4"/><circle cx="1691.0" cy="491.3" r="4.4"/><circle cx="1719.6" cy="495.7" r="4.4"/><circle cx="1723.9" cy="484.4" r="4.4"/><circle cx="1973.3" cy="293.1" r="4.4"/><circle cx="1874.7" cy="460.4" r="4.4"/><circle cx="1629.5" cy="499.1" r="4.4"/><circle cx="1697.6" cy="502.0" r="4.4"/><circle cx="1688.7" cy="510.7" r="4.4"/><circle cx="1684.9" cy="491.9" r="4.4"/><circle cx="1696.3" cy="513.7" r="4.4"/><circle cx="1697.1" cy="520.8" r="4.4"/><circle cx="1753.5" cy="493.1" r="4.4"/><circle cx="1694.6" cy="498.9" r="4.4"/><circle cx="1755.8" cy="471.2" r="4.4"/><circle cx="1758.4" cy="475.0" r="4.4"/><circle cx="1702.5" cy="487.1" r="4.4"/><circle cx="1745.1" cy="490.1" r="4.4"/><circle cx="1795.6" cy="415.0" r="4.4"/><circle cx="1754.5" cy="416.8" r="4.4"/><circle cx="1707.1" cy="493.8" r="4.4"/><circle cx="1849.9" cy="482.6" r="4.4"/><circle cx="1693.4" cy="495.6" r="4.4"/><circle cx="1770.5" cy="486.0" r="4.4"/><circle cx="1940.0" cy="341.3" r="4.4"/><circle cx="1698.2" cy="495.5" r="4.4"/><circle cx="1729.5" cy="512.6" r="4.4"/><circle cx="1793.4" cy="491.7" r="4.4"/><circle cx="1714.1" cy="502.1" r="4.4"/><circle cx="1747.9" cy="490.0" r="4.4"/><circle cx="1910.4" cy="466.1" r="4.4"/><circle cx="1650.7" cy="497.2" r="4.4"/><circle cx="1713.4" cy="498.3" r="4.4"/><circle cx="1917.3" cy="378.5" r="4.4"/><circle cx="1718.9" cy="506.6" r="4.4"/><circle cx="1713.1" cy="501.2" r="4.4"/><circle cx="1558.3" cy="491.8" r="4.4"/><circle cx="1738.8" cy="482.6" r="4.4"/><circle cx="1770.2" cy="453.6" r="4.4"/><circle cx="1859.5" cy="404.5" r="4.4"/><circle cx="1837.8" cy="447.7" r="4.4"/><circle cx="1748.9" cy="511.8" r="4.4"/><circle cx="1808.4" cy="430.2" r="4.4"/><circle cx="1859.7" cy="409.4" r="4.4"/><circle cx="1767.8" cy="474.0" r="4.4"/><circle cx="1691.7" cy="523.4" r="4.4"/><circle cx="1882.3" cy="439.8" r="4.4"/><circle cx="1735.3" cy="518.5" r="4.4"/><circle cx="1840.2" cy="396.4" r="4.4"/><circle cx="1634.8" cy="503.8" r="4.4"/><circle cx="1923.1" cy="420.0" r="4.4"/><circle cx="1793.2" cy="494.9" r="4.4"/><circle cx="1894.4" cy="209.0" r="4.4"/><circle cx="1637.0" cy="496.8" r="4.4"/><circle cx="1727.6" cy="512.0" r="4.4"/><circle cx="1911.9" cy="378.8" r="4.4"/><circle cx="1677.3" cy="506.2" r="4.4"/><circle cx="1773.5" cy="516.3" r="4.4"/><circle cx="1850.3" cy="427.1" r="4.4"/><circle cx="1613.8" cy="469.7" r="4.4"/><circle cx="1720.4" cy="480.0" r="4.4"/><circle cx="1710.9" cy="501.4" r="4.4"/><circle cx="1664.2" cy="502.3" r="4.4"/><circle cx="2093.8" cy="125.5" r="4.4"/><circle cx="1795.5" cy="449.6" r="4.4"/><circle cx="1743.0" cy="510.5" r="4.4"/><circle cx="1812.0" cy="500.9" r="4.4"/><circle cx="1779.3" cy="422.5" r="4.4"/><circle cx="1852.9" cy="433.2" r="4.4"/><circle cx="1776.3" cy="430.4" r="4.4"/><circle cx="1668.0" cy="517.5" r="4.4"/><circle cx="1655.1" cy="493.2" r="4.4"/><circle cx="1676.4" cy="521.5" r="4.4"/><circle cx="1718.9" cy="494.1" r="4.4"/><circle cx="1722.9" cy="465.8" r="4.4"/><circle cx="1856.8" cy="376.2" r="4.4"/><circle cx="2000.9" cy="307.0" r="4.4"/><circle cx="1873.4" cy="373.9" r="4.4"/><circle cx="1906.1" cy="413.3" r="4.4"/><circle cx="1670.2" cy="513.5" r="4.4"/><circle cx="1706.8" cy="490.1" r="4.4"/><circle cx="1718.7" cy="481.3" r="4.4"/><circle cx="1682.9" cy="488.3" r="4.4"/><circle cx="1784.4" cy="489.4" r="4.4"/><circle cx="1690.1" cy="486.2" r="4.4"/><circle cx="1738.0" cy="478.2" r="4.4"/><circle cx="1853.3" cy="438.5" r="4.4"/><circle cx="1765.8" cy="514.1" r="4.4"/><circle cx="1690.7" cy="496.3" r="4.4"/><circle cx="1939.9" cy="300.3" r="4.4"/><circle cx="1938.4" cy="323.8" r="4.4"/><circle cx="1760.3" cy="505.1" r="4.4"/><circle cx="2007.2" cy="368.3" r="4.4"/><circle cx="1798.3" cy="448.3" r="4.4"/><circle cx="1715.2" cy="463.7" r="4.4"/><circle cx="1819.4" cy="439.5" r="4.4"/><circle cx="1755.0" cy="479.2" r="4.4"/><circle cx="1788.4" cy="453.7" r="4.4"/><circle cx="1906.9" cy="428.3" r="4.4"/><circle cx="1773.9" cy="484.5" r="4.4"/><circle cx="1745.1" cy="488.0" r="4.4"/><circle cx="1862.7" cy="431.2" r="4.4"/><circle cx="1798.6" cy="467.3" r="4.4"/><circle cx="1879.5" cy="369.9" r="4.4"/><circle cx="1808.0" cy="443.7" r="4.4"/><circle cx="1746.5" cy="496.7" r="4.4"/><circle cx="1742.8" cy="470.2" r="4.4"/><circle cx="1623.7" cy="512.9" r="4.4"/><circle cx="1724.7" cy="495.2" r="4.4"/><circle cx="1893.9" cy="343.1" r="4.4"/><circle cx="1764.8" cy="449.7" r="4.4"/><circle cx="1774.9" cy="477.5" r="4.4"/><circle cx="1755.4" cy="464.6" r="4.4"/><circle cx="1852.0" cy="375.3" r="4.4"/><circle cx="1887.6" cy="322.0" r="4.4"/><circle cx="1938.5" cy="452.3" r="4.4"/><circle cx="1769.8" cy="487.4" r="4.4"/><circle cx="1701.8" cy="490.7" r="4.4"/><circle cx="1743.0" cy="494.0" r="4.4"/><circle cx="1624.0" cy="487.7" r="4.4"/><circle cx="1905.3" cy="417.4" r="4.4"/><circle cx="1706.7" cy="466.0" r="4.4"/><circle cx="1780.6" cy="475.1" r="4.4"/><circle cx="1649.8" cy="511.8" r="4.4"/><circle cx="1772.0" cy="488.7" r="4.4"/><circle cx="1727.2" cy="498.1" r="4.4"/><circle cx="1748.9" cy="495.0" r="4.4"/><circle cx="1694.0" cy="501.3" r="4.4"/><circle cx="1708.8" cy="503.6" r="4.4"/><circle cx="1893.4" cy="348.0" r="4.4"/><circle cx="1698.6" cy="523.0" r="4.4"/><circle cx="1704.6" cy="527.7" r="4.4"/><circle cx="2073.5" cy="214.6" r="4.4"/></g>
<g clip-path="url(#c2)" fill="#5a78dc" fill-opacity="0.2" stroke="#5a78dc" stroke-opacity="0.26" stroke-width="1"><circle cx="1797.9" cy="457.4" r="4.4"/><circle cx="2035.3" cy="509.9" r="4.4"/><circle cx="2009.8" cy="516.9" r="4.4"/><circle cx="1796.9" cy="479.1" r="4.4"/><circle cx="1715.0" cy="460.0" r="4.4"/><circle cx="1875.3" cy="508.1" r="4.4"/><circle cx="1725.1" cy="479.2" r="4.4"/><circle cx="1940.1" cy="500.1" r="4.4"/><circle cx="1965.9" cy="523.7" r="4.4"/><circle cx="1802.1" cy="441.0" r="4.4"/><circle cx="1753.9" cy="436.0" r="4.4"/><circle cx="1777.8" cy="473.4" r="4.4"/><circle cx="1685.5" cy="379.0" r="4.4"/><circle cx="1780.4" cy="459.6" r="4.4"/><circle cx="1824.9" cy="449.7" r="4.4"/><circle cx="2052.5" cy="507.4" r="4.4"/><circle cx="1913.9" cy="500.9" r="4.4"/><circle cx="1827.4" cy="468.5" r="4.4"/><circle cx="1938.3" cy="508.7" r="4.4"/><circle cx="1948.8" cy="502.1" r="4.4"/><circle cx="1733.2" cy="390.1" r="4.4"/><circle cx="1760.8" cy="370.6" r="4.4"/><circle cx="1905.4" cy="491.5" r="4.4"/><circle cx="1717.5" cy="424.4" r="4.4"/><circle cx="1753.4" cy="487.1" r="4.4"/><circle cx="1817.1" cy="465.9" r="4.4"/><circle cx="1744.4" cy="440.4" r="4.4"/><circle cx="1845.4" cy="516.5" r="4.4"/><circle cx="1791.7" cy="449.8" r="4.4"/><circle cx="1847.5" cy="477.2" r="4.4"/><circle cx="1780.9" cy="469.1" r="4.4"/><circle cx="1692.0" cy="421.2" r="4.4"/><circle cx="1727.0" cy="444.2" r="4.4"/><circle cx="1770.6" cy="416.7" r="4.4"/><circle cx="1931.5" cy="520.9" r="4.4"/><circle cx="1747.4" cy="444.5" r="4.4"/><circle cx="1687.5" cy="270.7" r="4.4"/><circle cx="1793.3" cy="456.2" r="4.4"/><circle cx="1911.9" cy="490.8" r="4.4"/><circle cx="1836.1" cy="477.1" r="4.4"/><circle cx="1728.0" cy="473.5" r="4.4"/><circle cx="2047.0" cy="517.7" r="4.4"/><circle cx="1948.5" cy="500.6" r="4.4"/><circle cx="1794.6" cy="478.3" r="4.4"/><circle cx="1710.2" cy="388.4" r="4.4"/><circle cx="1955.8" cy="506.2" r="4.4"/><circle cx="1789.5" cy="417.6" r="4.4"/><circle cx="1853.2" cy="507.7" r="4.4"/><circle cx="1769.0" cy="469.3" r="4.4"/><circle cx="1986.5" cy="517.4" r="4.4"/><circle cx="1706.2" cy="347.9" r="4.4"/><circle cx="1848.9" cy="473.2" r="4.4"/><circle cx="1774.1" cy="423.7" r="4.4"/><circle cx="1740.3" cy="465.5" r="4.4"/><circle cx="1762.1" cy="482.3" r="4.4"/><circle cx="1713.5" cy="406.9" r="4.4"/><circle cx="1794.5" cy="456.2" r="4.4"/><circle cx="1782.0" cy="484.4" r="4.4"/><circle cx="1739.9" cy="430.8" r="4.4"/><circle cx="1758.3" cy="416.6" r="4.4"/><circle cx="2019.0" cy="502.6" r="4.4"/><circle cx="1810.4" cy="478.2" r="4.4"/><circle cx="1895.8" cy="508.3" r="4.4"/><circle cx="1704.5" cy="431.9" r="4.4"/><circle cx="1729.5" cy="418.1" r="4.4"/><circle cx="1795.9" cy="462.0" r="4.4"/><circle cx="1671.7" cy="404.0" r="4.4"/><circle cx="1796.0" cy="471.8" r="4.4"/><circle cx="2064.6" cy="511.6" r="4.4"/><circle cx="1685.6" cy="385.8" r="4.4"/><circle cx="1848.8" cy="468.3" r="4.4"/><circle cx="1733.9" cy="457.6" r="4.4"/><circle cx="1663.7" cy="417.4" r="4.4"/><circle cx="1885.2" cy="476.1" r="4.4"/><circle cx="1783.5" cy="480.4" r="4.4"/><circle cx="1904.6" cy="501.3" r="4.4"/><circle cx="2027.8" cy="503.2" r="4.4"/><circle cx="1865.6" cy="470.4" r="4.4"/><circle cx="1785.6" cy="446.7" r="4.4"/><circle cx="1707.5" cy="330.2" r="4.4"/><circle cx="1755.7" cy="439.3" r="4.4"/><circle cx="1899.2" cy="498.1" r="4.4"/><circle cx="1828.3" cy="481.6" r="4.4"/><circle cx="1714.9" cy="432.3" r="4.4"/><circle cx="1808.6" cy="421.0" r="4.4"/><circle cx="1801.4" cy="445.0" r="4.4"/><circle cx="1920.6" cy="495.7" r="4.4"/><circle cx="1718.1" cy="386.9" r="4.4"/><circle cx="1792.3" cy="441.7" r="4.4"/><circle cx="1748.9" cy="447.6" r="4.4"/><circle cx="1781.3" cy="452.1" r="4.4"/><circle cx="1927.2" cy="496.1" r="4.4"/><circle cx="1767.0" cy="437.1" r="4.4"/><circle cx="1922.1" cy="512.3" r="4.4"/><circle cx="1698.8" cy="390.0" r="4.4"/><circle cx="1826.6" cy="492.0" r="4.4"/><circle cx="1723.3" cy="433.8" r="4.4"/><circle cx="1828.0" cy="492.0" r="4.4"/><circle cx="1820.6" cy="450.9" r="4.4"/><circle cx="1644.4" cy="460.7" r="4.4"/><circle cx="1871.4" cy="490.7" r="4.4"/><circle cx="1958.7" cy="464.3" r="4.4"/><circle cx="1776.7" cy="453.8" r="4.4"/><circle cx="1997.1" cy="513.8" r="4.4"/><circle cx="1714.3" cy="426.1" r="4.4"/><circle cx="1760.5" cy="389.3" r="4.4"/><circle cx="1955.5" cy="518.4" r="4.4"/><circle cx="1900.6" cy="483.8" r="4.4"/><circle cx="1788.1" cy="454.3" r="4.4"/><circle cx="1877.6" cy="495.4" r="4.4"/><circle cx="1969.0" cy="471.3" r="4.4"/><circle cx="2000.7" cy="517.7" r="4.4"/><circle cx="1784.8" cy="478.0" r="4.4"/><circle cx="1567.6" cy="334.9" r="4.4"/><circle cx="1695.8" cy="393.9" r="4.4"/><circle cx="1894.7" cy="498.7" r="4.4"/><circle cx="1894.2" cy="486.7" r="4.4"/><circle cx="1694.6" cy="400.3" r="4.4"/><circle cx="1663.1" cy="438.5" r="4.4"/><circle cx="2010.6" cy="504.2" r="4.4"/><circle cx="1762.5" cy="449.9" r="4.4"/><circle cx="1952.7" cy="509.1" r="4.4"/><circle cx="1869.8" cy="505.3" r="4.4"/><circle cx="1857.7" cy="486.6" r="4.4"/><circle cx="2033.5" cy="527.9" r="4.4"/><circle cx="1734.1" cy="425.3" r="4.4"/><circle cx="1766.2" cy="485.9" r="4.4"/><circle cx="1789.6" cy="463.5" r="4.4"/><circle cx="1722.1" cy="414.3" r="4.4"/><circle cx="1726.9" cy="460.7" r="4.4"/><circle cx="1703.3" cy="428.1" r="4.4"/><circle cx="1948.8" cy="505.8" r="4.4"/><circle cx="1695.2" cy="369.6" r="4.4"/><circle cx="1788.1" cy="500.4" r="4.4"/><circle cx="1799.0" cy="454.6" r="4.4"/><circle cx="1760.9" cy="475.1" r="4.4"/><circle cx="1905.0" cy="492.6" r="4.4"/><circle cx="1923.3" cy="492.4" r="4.4"/><circle cx="1900.1" cy="514.0" r="4.4"/><circle cx="2037.5" cy="522.5" r="4.4"/><circle cx="1875.3" cy="495.4" r="4.4"/><circle cx="1856.4" cy="430.4" r="4.4"/><circle cx="1824.2" cy="454.0" r="4.4"/><circle cx="1772.2" cy="408.2" r="4.4"/><circle cx="1706.7" cy="453.5" r="4.4"/><circle cx="1900.3" cy="520.3" r="4.4"/><circle cx="1759.6" cy="401.1" r="4.4"/><circle cx="1741.5" cy="426.0" r="4.4"/><circle cx="1897.3" cy="483.8" r="4.4"/><circle cx="1678.3" cy="373.9" r="4.4"/><circle cx="1651.4" cy="416.0" r="4.4"/><circle cx="1836.6" cy="463.1" r="4.4"/><circle cx="1939.4" cy="511.7" r="4.4"/><circle cx="1858.2" cy="491.8" r="4.4"/><circle cx="1871.9" cy="490.9" r="4.4"/><circle cx="1838.7" cy="469.3" r="4.4"/><circle cx="1728.0" cy="430.3" r="4.4"/><circle cx="1751.7" cy="396.0" r="4.4"/><circle cx="1669.6" cy="310.6" r="4.4"/><circle cx="1654.3" cy="325.9" r="4.4"/><circle cx="1687.2" cy="359.1" r="4.4"/><circle cx="1894.9" cy="489.6" r="4.4"/><circle cx="1807.8" cy="506.3" r="4.4"/><circle cx="1815.3" cy="461.7" r="4.4"/><circle cx="1872.7" cy="486.4" r="4.4"/><circle cx="1770.0" cy="436.4" r="4.4"/><circle cx="1867.6" cy="496.0" r="4.4"/><circle cx="1829.7" cy="495.2" r="4.4"/><circle cx="1723.2" cy="436.6" r="4.4"/><circle cx="1802.2" cy="436.9" r="4.4"/><circle cx="1766.0" cy="386.6" r="4.4"/><circle cx="1872.6" cy="485.0" r="4.4"/><circle cx="2045.7" cy="520.9" r="4.4"/><circle cx="1744.6" cy="370.2" r="4.4"/><circle cx="1691.7" cy="438.6" r="4.4"/><circle cx="1766.7" cy="368.2" r="4.4"/><circle cx="1900.4" cy="502.4" r="4.4"/><circle cx="1985.5" cy="510.2" r="4.4"/><circle cx="1875.3" cy="471.2" r="4.4"/><circle cx="1822.5" cy="427.1" r="4.4"/><circle cx="1729.6" cy="464.1" r="4.4"/><circle cx="1930.3" cy="499.4" r="4.4"/><circle cx="1993.5" cy="517.0" r="4.4"/><circle cx="2016.9" cy="500.5" r="4.4"/><circle cx="1582.8" cy="338.2" r="4.4"/><circle cx="1725.8" cy="474.0" r="4.4"/><circle cx="1672.1" cy="351.6" r="4.4"/><circle cx="1744.3" cy="380.6" r="4.4"/><circle cx="1856.2" cy="434.7" r="4.4"/><circle cx="1793.8" cy="391.1" r="4.4"/><circle cx="1685.2" cy="368.5" r="4.4"/><circle cx="1887.3" cy="510.5" r="4.4"/><circle cx="1719.1" cy="432.4" r="4.4"/><circle cx="1849.9" cy="486.0" r="4.4"/><circle cx="1699.0" cy="435.7" r="4.4"/><circle cx="1847.0" cy="489.2" r="4.4"/><circle cx="1781.2" cy="500.8" r="4.4"/><circle cx="1780.3" cy="440.5" r="4.4"/><circle cx="1583.5" cy="306.3" r="4.4"/><circle cx="1727.9" cy="262.0" r="4.4"/><circle cx="1867.8" cy="486.1" r="4.4"/><circle cx="1844.5" cy="478.3" r="4.4"/><circle cx="1914.7" cy="489.9" r="4.4"/><circle cx="1774.7" cy="472.8" r="4.4"/><circle cx="1865.5" cy="493.9" r="4.4"/><circle cx="1761.8" cy="468.4" r="4.4"/><circle cx="1930.5" cy="486.4" r="4.4"/><circle cx="2055.7" cy="507.6" r="4.4"/><circle cx="1715.5" cy="468.0" r="4.4"/><circle cx="1780.5" cy="457.4" r="4.4"/><circle cx="1794.4" cy="434.1" r="4.4"/><circle cx="1702.6" cy="383.4" r="4.4"/><circle cx="1692.7" cy="379.0" r="4.4"/><circle cx="1899.0" cy="510.9" r="4.4"/><circle cx="1864.9" cy="483.1" r="4.4"/><circle cx="1809.5" cy="470.5" r="4.4"/><circle cx="1583.6" cy="333.0" r="4.4"/><circle cx="1792.5" cy="474.4" r="4.4"/><circle cx="1725.6" cy="466.4" r="4.4"/><circle cx="1996.1" cy="501.3" r="4.4"/><circle cx="1927.3" cy="506.5" r="4.4"/><circle cx="1751.7" cy="394.4" r="4.4"/><circle cx="1785.7" cy="433.7" r="4.4"/><circle cx="1827.6" cy="451.0" r="4.4"/><circle cx="1838.3" cy="429.0" r="4.4"/><circle cx="1738.6" cy="407.7" r="4.4"/><circle cx="1879.2" cy="490.6" r="4.4"/><circle cx="1778.0" cy="477.2" r="4.4"/><circle cx="1783.4" cy="472.3" r="4.4"/><circle cx="1947.4" cy="504.9" r="4.4"/><circle cx="1707.7" cy="316.9" r="4.4"/><circle cx="1871.2" cy="478.9" r="4.4"/><circle cx="1583.5" cy="298.6" r="4.4"/><circle cx="1603.0" cy="322.9" r="4.4"/><circle cx="1836.9" cy="462.9" r="4.4"/><circle cx="1849.9" cy="464.3" r="4.4"/><circle cx="1813.1" cy="470.0" r="4.4"/><circle cx="1753.1" cy="447.2" r="4.4"/><circle cx="1926.9" cy="505.3" r="4.4"/><circle cx="2007.4" cy="510.7" r="4.4"/><circle cx="1749.3" cy="463.9" r="4.4"/><circle cx="1728.6" cy="416.2" r="4.4"/><circle cx="1712.5" cy="451.6" r="4.4"/><circle cx="2017.8" cy="504.8" r="4.4"/><circle cx="1712.1" cy="445.3" r="4.4"/><circle cx="1774.5" cy="411.0" r="4.4"/><circle cx="1719.4" cy="467.9" r="4.4"/><circle cx="1777.9" cy="463.2" r="4.4"/><circle cx="1896.0" cy="473.0" r="4.4"/><circle cx="1736.2" cy="450.4" r="4.4"/><circle cx="1695.5" cy="401.1" r="4.4"/><circle cx="1884.3" cy="498.2" r="4.4"/><circle cx="1788.8" cy="501.1" r="4.4"/><circle cx="1756.2" cy="423.3" r="4.4"/><circle cx="1762.9" cy="421.3" r="4.4"/><circle cx="1755.8" cy="468.6" r="4.4"/><circle cx="1741.5" cy="394.6" r="4.4"/><circle cx="1848.6" cy="504.0" r="4.4"/><circle cx="1903.1" cy="509.2" r="4.4"/><circle cx="1775.2" cy="436.5" r="4.4"/><circle cx="1686.3" cy="428.4" r="4.4"/><circle cx="1937.5" cy="486.1" r="4.4"/><circle cx="1740.2" cy="462.8" r="4.4"/><circle cx="1702.5" cy="365.8" r="4.4"/><circle cx="1715.0" cy="374.4" r="4.4"/><circle cx="1706.0" cy="465.1" r="4.4"/><circle cx="1579.4" cy="420.7" r="4.4"/><circle cx="1704.0" cy="390.2" r="4.4"/><circle cx="1793.6" cy="470.5" r="4.4"/><circle cx="1932.1" cy="504.3" r="4.4"/><circle cx="1847.7" cy="463.5" r="4.4"/><circle cx="1703.4" cy="425.5" r="4.4"/><circle cx="1641.8" cy="424.0" r="4.4"/><circle cx="1958.4" cy="521.6" r="4.4"/><circle cx="1789.6" cy="450.6" r="4.4"/><circle cx="1894.9" cy="500.0" r="4.4"/><circle cx="1674.1" cy="374.2" r="4.4"/><circle cx="1796.1" cy="462.5" r="4.4"/><circle cx="1952.1" cy="526.1" r="4.4"/><circle cx="2008.9" cy="503.0" r="4.4"/><circle cx="1899.6" cy="470.3" r="4.4"/><circle cx="1789.5" cy="423.6" r="4.4"/><circle cx="1856.8" cy="504.3" r="4.4"/><circle cx="1862.2" cy="484.9" r="4.4"/><circle cx="1876.8" cy="505.7" r="4.4"/><circle cx="1755.7" cy="444.1" r="4.4"/><circle cx="1768.3" cy="476.2" r="4.4"/><circle cx="1949.3" cy="498.5" r="4.4"/><circle cx="1978.7" cy="505.9" r="4.4"/><circle cx="2043.2" cy="515.0" r="4.4"/><circle cx="1693.0" cy="419.9" r="4.4"/><circle cx="1735.6" cy="374.5" r="4.4"/><circle cx="1826.3" cy="468.8" r="4.4"/><circle cx="1693.9" cy="474.1" r="4.4"/><circle cx="1939.1" cy="481.5" r="4.4"/><circle cx="2040.0" cy="510.4" r="4.4"/><circle cx="1655.8" cy="309.6" r="4.4"/><circle cx="2039.7" cy="523.9" r="4.4"/><circle cx="1887.5" cy="489.1" r="4.4"/><circle cx="1715.0" cy="451.1" r="4.4"/><circle cx="1884.6" cy="488.4" r="4.4"/><circle cx="1659.5" cy="397.5" r="4.4"/><circle cx="1818.0" cy="489.3" r="4.4"/><circle cx="1906.6" cy="495.0" r="4.4"/><circle cx="1834.0" cy="455.5" r="4.4"/><circle cx="1689.7" cy="425.5" r="4.4"/><circle cx="1720.6" cy="472.8" r="4.4"/><circle cx="1740.1" cy="414.3" r="4.4"/><circle cx="1762.9" cy="472.0" r="4.4"/><circle cx="1917.5" cy="494.3" r="4.4"/><circle cx="1914.1" cy="491.9" r="4.4"/><circle cx="1651.0" cy="282.5" r="4.4"/><circle cx="1875.3" cy="469.8" r="4.4"/><circle cx="2019.8" cy="521.7" r="4.4"/><circle cx="1633.1" cy="364.9" r="4.4"/><circle cx="1857.1" cy="511.5" r="4.4"/><circle cx="1796.5" cy="400.8" r="4.4"/><circle cx="1720.6" cy="388.6" r="4.4"/><circle cx="1699.7" cy="314.5" r="4.4"/><circle cx="1988.7" cy="518.0" r="4.4"/><circle cx="1948.1" cy="521.5" r="4.4"/><circle cx="1734.6" cy="341.2" r="4.4"/><circle cx="1849.1" cy="466.6" r="4.4"/><circle cx="1819.8" cy="477.3" r="4.4"/><circle cx="2059.0" cy="517.4" r="4.4"/><circle cx="1712.2" cy="381.1" r="4.4"/><circle cx="1749.5" cy="406.6" r="4.4"/><circle cx="2075.9" cy="526.7" r="4.4"/><circle cx="1781.8" cy="410.5" r="4.4"/><circle cx="1714.7" cy="436.8" r="4.4"/><circle cx="1798.8" cy="454.1" r="4.4"/><circle cx="1795.2" cy="394.3" r="4.4"/><circle cx="2021.1" cy="510.0" r="4.4"/><circle cx="1805.6" cy="473.4" r="4.4"/><circle cx="1761.8" cy="477.2" r="4.4"/><circle cx="1730.2" cy="413.0" r="4.4"/><circle cx="1848.7" cy="478.2" r="4.4"/><circle cx="1672.7" cy="389.4" r="4.4"/><circle cx="1748.7" cy="478.7" r="4.4"/><circle cx="1713.0" cy="447.9" r="4.4"/><circle cx="1720.8" cy="468.2" r="4.4"/><circle cx="1654.7" cy="370.8" r="4.4"/><circle cx="1957.9" cy="507.0" r="4.4"/><circle cx="1737.6" cy="390.4" r="4.4"/><circle cx="1781.4" cy="466.3" r="4.4"/><circle cx="1836.6" cy="465.9" r="4.4"/><circle cx="1797.6" cy="446.0" r="4.4"/><circle cx="1812.5" cy="485.1" r="4.4"/><circle cx="1698.6" cy="405.2" r="4.4"/><circle cx="1758.0" cy="351.3" r="4.4"/><circle cx="1726.7" cy="427.6" r="4.4"/><circle cx="1767.8" cy="408.3" r="4.4"/><circle cx="1823.0" cy="474.7" r="4.4"/><circle cx="2024.5" cy="507.8" r="4.4"/><circle cx="1666.4" cy="451.8" r="4.4"/><circle cx="1697.1" cy="413.6" r="4.4"/><circle cx="1983.9" cy="506.8" r="4.4"/><circle cx="1680.9" cy="308.7" r="4.4"/><circle cx="1801.5" cy="430.4" r="4.4"/><circle cx="1956.9" cy="508.2" r="4.4"/><circle cx="1665.3" cy="388.7" r="4.4"/><circle cx="1853.9" cy="500.2" r="4.4"/><circle cx="1799.3" cy="458.4" r="4.4"/><circle cx="1879.0" cy="478.2" r="4.4"/><circle cx="1806.1" cy="488.2" r="4.4"/><circle cx="1970.3" cy="511.1" r="4.4"/><circle cx="1752.3" cy="468.6" r="4.4"/><circle cx="1967.1" cy="515.6" r="4.4"/><circle cx="2096.2" cy="525.6" r="4.4"/><circle cx="1797.0" cy="492.4" r="4.4"/><circle cx="1795.7" cy="501.9" r="4.4"/><circle cx="1804.2" cy="438.1" r="4.4"/><circle cx="1790.4" cy="458.5" r="4.4"/><circle cx="1561.1" cy="270.7" r="4.4"/><circle cx="1732.3" cy="379.7" r="4.4"/><circle cx="1880.3" cy="475.0" r="4.4"/><circle cx="1720.1" cy="430.9" r="4.4"/><circle cx="1894.8" cy="477.5" r="4.4"/><circle cx="1721.2" cy="406.2" r="4.4"/><circle cx="2098.0" cy="507.8" r="4.4"/><circle cx="1808.2" cy="451.9" r="4.4"/><circle cx="1770.7" cy="472.0" r="4.4"/><circle cx="1966.3" cy="509.4" r="4.4"/><circle cx="1783.3" cy="460.0" r="4.4"/><circle cx="1789.8" cy="438.9" r="4.4"/><circle cx="1755.0" cy="450.2" r="4.4"/><circle cx="1933.1" cy="515.6" r="4.4"/><circle cx="1959.0" cy="507.7" r="4.4"/><circle cx="2068.7" cy="496.9" r="4.4"/><circle cx="1836.8" cy="470.8" r="4.4"/><circle cx="1882.5" cy="463.2" r="4.4"/><circle cx="1857.4" cy="488.1" r="4.4"/><circle cx="1903.8" cy="502.3" r="4.4"/><circle cx="1926.5" cy="496.3" r="4.4"/><circle cx="1836.3" cy="478.3" r="4.4"/><circle cx="1716.8" cy="426.4" r="4.4"/><circle cx="1998.0" cy="503.5" r="4.4"/><circle cx="1750.1" cy="443.8" r="4.4"/><circle cx="1823.5" cy="490.1" r="4.4"/><circle cx="1966.1" cy="493.1" r="4.4"/><circle cx="1776.7" cy="367.9" r="4.4"/><circle cx="1860.8" cy="490.4" r="4.4"/><circle cx="1694.1" cy="332.4" r="4.4"/><circle cx="1841.1" cy="490.6" r="4.4"/><circle cx="1775.7" cy="462.1" r="4.4"/><circle cx="1952.3" cy="511.4" r="4.4"/><circle cx="1777.1" cy="437.5" r="4.4"/><circle cx="1912.7" cy="485.7" r="4.4"/><circle cx="1874.7" cy="495.9" r="4.4"/><circle cx="1919.8" cy="476.4" r="4.4"/><circle cx="1912.7" cy="514.2" r="4.4"/><circle cx="1993.8" cy="515.7" r="4.4"/><circle cx="1900.7" cy="489.3" r="4.4"/><circle cx="1773.4" cy="426.8" r="4.4"/><circle cx="1781.7" cy="436.6" r="4.4"/><circle cx="2015.0" cy="527.9" r="4.4"/><circle cx="1730.3" cy="400.1" r="4.4"/><circle cx="1709.7" cy="450.6" r="4.4"/><circle cx="1856.6" cy="403.0" r="4.4"/><circle cx="1763.2" cy="446.1" r="4.4"/><circle cx="1802.0" cy="448.2" r="4.4"/><circle cx="1732.7" cy="456.7" r="4.4"/><circle cx="1758.8" cy="446.7" r="4.4"/><circle cx="1823.8" cy="492.5" r="4.4"/><circle cx="1811.7" cy="445.0" r="4.4"/><circle cx="1792.5" cy="459.0" r="4.4"/><circle cx="1667.0" cy="344.7" r="4.4"/><circle cx="1681.8" cy="407.9" r="4.4"/><circle cx="1857.6" cy="505.9" r="4.4"/><circle cx="1822.1" cy="436.9" r="4.4"/><circle cx="1816.1" cy="478.6" r="4.4"/><circle cx="1798.0" cy="502.1" r="4.4"/><circle cx="1834.8" cy="468.7" r="4.4"/><circle cx="1877.2" cy="488.5" r="4.4"/><circle cx="2035.5" cy="507.1" r="4.4"/><circle cx="1733.7" cy="392.2" r="4.4"/><circle cx="1729.0" cy="440.3" r="4.4"/><circle cx="1807.9" cy="431.6" r="4.4"/><circle cx="1889.1" cy="496.2" r="4.4"/><circle cx="1713.0" cy="328.5" r="4.4"/><circle cx="1925.0" cy="484.9" r="4.4"/><circle cx="1816.2" cy="483.8" r="4.4"/><circle cx="1656.6" cy="390.2" r="4.4"/><circle cx="2094.1" cy="511.2" r="4.4"/><circle cx="1694.9" cy="391.4" r="4.4"/><circle cx="1747.6" cy="372.0" r="4.4"/><circle cx="1817.8" cy="495.8" r="4.4"/><circle cx="1881.6" cy="494.0" r="4.4"/><circle cx="1828.8" cy="497.0" r="4.4"/><circle cx="1883.8" cy="500.3" r="4.4"/><circle cx="1792.0" cy="488.7" r="4.4"/><circle cx="1823.9" cy="404.5" r="4.4"/><circle cx="1850.5" cy="486.3" r="4.4"/><circle cx="1814.6" cy="450.8" r="4.4"/><circle cx="1944.2" cy="516.4" r="4.4"/><circle cx="1702.2" cy="344.0" r="4.4"/><circle cx="1789.4" cy="497.0" r="4.4"/><circle cx="1813.5" cy="474.7" r="4.4"/><circle cx="1768.1" cy="332.7" r="4.4"/><circle cx="1751.0" cy="465.9" r="4.4"/><circle cx="1670.5" cy="390.4" r="4.4"/><circle cx="1800.0" cy="438.8" r="4.4"/><circle cx="1950.1" cy="515.8" r="4.4"/><circle cx="1740.0" cy="423.6" r="4.4"/><circle cx="1791.8" cy="427.6" r="4.4"/><circle cx="1660.6" cy="370.3" r="4.4"/><circle cx="1858.8" cy="462.5" r="4.4"/><circle cx="1823.5" cy="479.5" r="4.4"/><circle cx="1773.2" cy="439.0" r="4.4"/><circle cx="1729.8" cy="429.4" r="4.4"/><circle cx="1764.7" cy="389.3" r="4.4"/><circle cx="1691.1" cy="355.9" r="4.4"/><circle cx="2033.3" cy="512.2" r="4.4"/><circle cx="1888.3" cy="514.7" r="4.4"/><circle cx="1944.4" cy="505.0" r="4.4"/><circle cx="1888.5" cy="477.6" r="4.4"/><circle cx="1908.9" cy="519.8" r="4.4"/><circle cx="1930.2" cy="519.5" r="4.4"/><circle cx="1757.2" cy="471.5" r="4.4"/><circle cx="1701.9" cy="363.7" r="4.4"/><circle cx="1676.5" cy="432.9" r="4.4"/><circle cx="1741.6" cy="450.5" r="4.4"/><circle cx="1704.4" cy="403.7" r="4.4"/><circle cx="1736.0" cy="358.0" r="4.4"/><circle cx="1677.6" cy="385.7" r="4.4"/><circle cx="1715.0" cy="410.2" r="4.4"/><circle cx="1649.3" cy="397.9" r="4.4"/><circle cx="1951.3" cy="483.7" r="4.4"/><circle cx="2017.9" cy="502.0" r="4.4"/><circle cx="1678.7" cy="386.9" r="4.4"/><circle cx="1758.3" cy="458.4" r="4.4"/><circle cx="1835.3" cy="490.6" r="4.4"/><circle cx="2007.0" cy="508.6" r="4.4"/><circle cx="1705.8" cy="436.9" r="4.4"/><circle cx="1821.2" cy="472.4" r="4.4"/><circle cx="1728.2" cy="417.8" r="4.4"/><circle cx="1630.6" cy="335.8" r="4.4"/><circle cx="1821.0" cy="449.5" r="4.4"/><circle cx="1722.3" cy="401.6" r="4.4"/><circle cx="1682.9" cy="421.6" r="4.4"/><circle cx="1675.1" cy="394.8" r="4.4"/><circle cx="1902.4" cy="457.9" r="4.4"/><circle cx="1821.4" cy="480.8" r="4.4"/><circle cx="1672.5" cy="396.4" r="4.4"/><circle cx="1958.9" cy="496.1" r="4.4"/><circle cx="1764.4" cy="454.9" r="4.4"/><circle cx="1766.4" cy="455.3" r="4.4"/><circle cx="1986.0" cy="520.0" r="4.4"/><circle cx="1768.6" cy="430.0" r="4.4"/><circle cx="1766.2" cy="405.2" r="4.4"/><circle cx="1934.6" cy="492.4" r="4.4"/><circle cx="1996.6" cy="505.3" r="4.4"/><circle cx="1758.6" cy="393.5" r="4.4"/><circle cx="1967.8" cy="507.5" r="4.4"/><circle cx="1847.8" cy="473.1" r="4.4"/><circle cx="1725.0" cy="449.9" r="4.4"/><circle cx="1774.8" cy="444.3" r="4.4"/><circle cx="1860.2" cy="464.5" r="4.4"/><circle cx="1633.0" cy="279.0" r="4.4"/><circle cx="1753.6" cy="444.0" r="4.4"/><circle cx="1684.3" cy="318.3" r="4.4"/><circle cx="1988.8" cy="519.4" r="4.4"/><circle cx="1798.1" cy="473.0" r="4.4"/><circle cx="1786.0" cy="453.1" r="4.4"/><circle cx="1968.2" cy="518.3" r="4.4"/><circle cx="1836.9" cy="477.7" r="4.4"/><circle cx="1768.8" cy="433.0" r="4.4"/><circle cx="2004.8" cy="509.0" r="4.4"/><circle cx="1617.0" cy="299.5" r="4.4"/><circle cx="1874.9" cy="495.9" r="4.4"/><circle cx="1772.7" cy="444.1" r="4.4"/><circle cx="1826.2" cy="489.2" r="4.4"/><circle cx="1694.7" cy="394.1" r="4.4"/><circle cx="1906.6" cy="527.9" r="4.4"/><circle cx="1856.5" cy="496.6" r="4.4"/><circle cx="1813.5" cy="474.2" r="4.4"/><circle cx="1737.6" cy="422.6" r="4.4"/><circle cx="1680.6" cy="452.2" r="4.4"/><circle cx="1886.6" cy="502.1" r="4.4"/><circle cx="1632.4" cy="370.0" r="4.4"/><circle cx="1864.7" cy="479.0" r="4.4"/><circle cx="1845.8" cy="472.4" r="4.4"/><circle cx="1934.5" cy="482.8" r="4.4"/><circle cx="1926.6" cy="491.7" r="4.4"/><circle cx="1975.9" cy="505.5" r="4.4"/><circle cx="1831.7" cy="463.3" r="4.4"/><circle cx="1801.1" cy="479.8" r="4.4"/><circle cx="1736.4" cy="471.5" r="4.4"/><circle cx="1796.9" cy="467.3" r="4.4"/><circle cx="1701.0" cy="396.0" r="4.4"/><circle cx="1722.4" cy="410.8" r="4.4"/><circle cx="1937.1" cy="497.7" r="4.4"/><circle cx="1678.8" cy="394.8" r="4.4"/><circle cx="1725.2" cy="395.1" r="4.4"/><circle cx="1674.9" cy="370.8" r="4.4"/><circle cx="1744.3" cy="417.9" r="4.4"/><circle cx="1908.3" cy="494.5" r="4.4"/><circle cx="1702.4" cy="426.4" r="4.4"/><circle cx="1749.5" cy="462.4" r="4.4"/><circle cx="1695.4" cy="379.8" r="4.4"/><circle cx="1683.2" cy="375.2" r="4.4"/><circle cx="1679.0" cy="401.3" r="4.4"/><circle cx="1808.7" cy="480.3" r="4.4"/><circle cx="1852.5" cy="430.6" r="4.4"/><circle cx="1761.9" cy="453.4" r="4.4"/><circle cx="1890.3" cy="498.4" r="4.4"/><circle cx="1772.6" cy="439.2" r="4.4"/><circle cx="1833.8" cy="494.4" r="4.4"/><circle cx="1777.2" cy="446.0" r="4.4"/><circle cx="1752.6" cy="352.1" r="4.4"/><circle cx="1730.5" cy="381.5" r="4.4"/><circle cx="1767.9" cy="429.0" r="4.4"/><circle cx="1594.3" cy="270.2" r="4.4"/><circle cx="1562.1" cy="292.1" r="4.4"/><circle cx="1846.7" cy="452.1" r="4.4"/><circle cx="1717.3" cy="435.9" r="4.4"/><circle cx="1866.5" cy="500.3" r="4.4"/><circle cx="1834.4" cy="466.1" r="4.4"/><circle cx="1831.7" cy="453.9" r="4.4"/><circle cx="1743.5" cy="424.0" r="4.4"/><circle cx="1694.6" cy="363.7" r="4.4"/><circle cx="2043.1" cy="527.9" r="4.4"/><circle cx="1699.4" cy="337.2" r="4.4"/><circle cx="1693.1" cy="314.7" r="4.4"/><circle cx="1774.6" cy="401.5" r="4.4"/><circle cx="1863.6" cy="495.1" r="4.4"/><circle cx="1977.6" cy="512.3" r="4.4"/><circle cx="1872.7" cy="478.2" r="4.4"/><circle cx="1895.2" cy="511.7" r="4.4"/><circle cx="1824.8" cy="442.5" r="4.4"/><circle cx="1816.6" cy="482.7" r="4.4"/><circle cx="2004.7" cy="522.0" r="4.4"/><circle cx="2050.3" cy="522.3" r="4.4"/><circle cx="1854.3" cy="495.9" r="4.4"/><circle cx="1814.7" cy="460.8" r="4.4"/><circle cx="1960.6" cy="518.3" r="4.4"/><circle cx="1746.7" cy="476.9" r="4.4"/><circle cx="1846.0" cy="497.3" r="4.4"/><circle cx="2058.2" cy="505.9" r="4.4"/><circle cx="1667.1" cy="317.0" r="4.4"/><circle cx="2051.3" cy="508.1" r="4.4"/><circle cx="1863.6" cy="467.1" r="4.4"/><circle cx="1749.3" cy="350.7" r="4.4"/><circle cx="1796.4" cy="436.0" r="4.4"/><circle cx="1742.4" cy="412.2" r="4.4"/><circle cx="1851.8" cy="483.6" r="4.4"/><circle cx="1704.1" cy="438.5" r="4.4"/><circle cx="1751.1" cy="417.8" r="4.4"/><circle cx="1558.6" cy="311.1" r="4.4"/><circle cx="1678.2" cy="348.5" r="4.4"/><circle cx="1956.3" cy="482.2" r="4.4"/><circle cx="1946.1" cy="496.5" r="4.4"/><circle cx="1690.8" cy="381.7" r="4.4"/><circle cx="1735.6" cy="341.0" r="4.4"/><circle cx="1688.3" cy="441.1" r="4.4"/><circle cx="1831.0" cy="492.1" r="4.4"/><circle cx="1713.8" cy="424.1" r="4.4"/><circle cx="1715.1" cy="434.8" r="4.4"/><circle cx="1830.9" cy="460.0" r="4.4"/><circle cx="1863.1" cy="484.0" r="4.4"/><circle cx="1710.8" cy="311.3" r="4.4"/><circle cx="1694.9" cy="304.2" r="4.4"/><circle cx="1823.0" cy="458.6" r="4.4"/><circle cx="1733.8" cy="438.7" r="4.4"/><circle cx="1927.7" cy="493.9" r="4.4"/><circle cx="1866.6" cy="478.0" r="4.4"/><circle cx="1794.6" cy="483.8" r="4.4"/><circle cx="1736.9" cy="418.0" r="4.4"/><circle cx="1769.7" cy="416.4" r="4.4"/><circle cx="1697.3" cy="398.2" r="4.4"/><circle cx="1976.8" cy="494.4" r="4.4"/><circle cx="1934.8" cy="480.3" r="4.4"/><circle cx="1719.5" cy="443.6" r="4.4"/><circle cx="1718.0" cy="422.8" r="4.4"/><circle cx="1858.7" cy="494.9" r="4.4"/><circle cx="1883.0" cy="475.8" r="4.4"/><circle cx="1729.1" cy="453.7" r="4.4"/><circle cx="1916.9" cy="481.7" r="4.4"/><circle cx="1817.9" cy="454.8" r="4.4"/><circle cx="1953.5" cy="496.1" r="4.4"/><circle cx="1824.8" cy="476.1" r="4.4"/><circle cx="1854.2" cy="505.3" r="4.4"/><circle cx="1868.1" cy="451.7" r="4.4"/><circle cx="1842.8" cy="481.0" r="4.4"/><circle cx="1773.2" cy="391.3" r="4.4"/><circle cx="1855.8" cy="472.3" r="4.4"/><circle cx="1899.5" cy="489.6" r="4.4"/><circle cx="1795.3" cy="391.6" r="4.4"/><circle cx="1820.4" cy="458.9" r="4.4"/><circle cx="1976.6" cy="511.0" r="4.4"/><circle cx="1795.2" cy="493.1" r="4.4"/><circle cx="1800.3" cy="441.0" r="4.4"/><circle cx="1909.2" cy="503.0" r="4.4"/><circle cx="1758.7" cy="446.1" r="4.4"/><circle cx="1695.8" cy="403.7" r="4.4"/><circle cx="1731.7" cy="416.9" r="4.4"/><circle cx="1708.2" cy="308.3" r="4.4"/><circle cx="1731.6" cy="473.6" r="4.4"/><circle cx="1745.8" cy="443.0" r="4.4"/><circle cx="1760.9" cy="461.0" r="4.4"/><circle cx="1668.7" cy="315.6" r="4.4"/><circle cx="1836.3" cy="471.2" r="4.4"/><circle cx="1795.6" cy="449.0" r="4.4"/><circle cx="1774.4" cy="461.7" r="4.4"/><circle cx="1720.9" cy="387.4" r="4.4"/><circle cx="1734.2" cy="382.0" r="4.4"/><circle cx="1880.2" cy="496.5" r="4.4"/><circle cx="1883.0" cy="480.1" r="4.4"/><circle cx="1655.7" cy="434.6" r="4.4"/><circle cx="1889.7" cy="483.7" r="4.4"/><circle cx="1903.4" cy="478.0" r="4.4"/><circle cx="1647.4" cy="404.1" r="4.4"/><circle cx="1787.7" cy="405.6" r="4.4"/><circle cx="1989.8" cy="516.4" r="4.4"/><circle cx="1733.1" cy="469.1" r="4.4"/><circle cx="1853.4" cy="506.8" r="4.4"/><circle cx="1680.1" cy="407.8" r="4.4"/><circle cx="1905.9" cy="494.9" r="4.4"/><circle cx="1926.3" cy="507.4" r="4.4"/><circle cx="2051.9" cy="498.5" r="4.4"/><circle cx="1717.9" cy="378.6" r="4.4"/><circle cx="1983.5" cy="516.4" r="4.4"/><circle cx="1716.6" cy="455.7" r="4.4"/><circle cx="1816.8" cy="483.5" r="4.4"/><circle cx="1693.7" cy="302.3" r="4.4"/><circle cx="1781.8" cy="491.9" r="4.4"/><circle cx="1833.6" cy="469.4" r="4.4"/><circle cx="1771.7" cy="379.2" r="4.4"/><circle cx="1733.4" cy="414.7" r="4.4"/><circle cx="1899.3" cy="508.3" r="4.4"/><circle cx="1738.3" cy="435.1" r="4.4"/><circle cx="1685.7" cy="345.9" r="4.4"/><circle cx="1716.6" cy="343.2" r="4.4"/><circle cx="1814.8" cy="479.6" r="4.4"/><circle cx="1683.2" cy="358.5" r="4.4"/><circle cx="1955.3" cy="508.4" r="4.4"/><circle cx="1992.1" cy="497.3" r="4.4"/><circle cx="1960.2" cy="499.6" r="4.4"/><circle cx="1867.7" cy="492.6" r="4.4"/><circle cx="1754.6" cy="472.7" r="4.4"/><circle cx="1890.6" cy="501.6" r="4.4"/><circle cx="1900.1" cy="461.8" r="4.4"/><circle cx="1892.2" cy="482.3" r="4.4"/><circle cx="1816.4" cy="458.3" r="4.4"/><circle cx="1714.5" cy="263.1" r="4.4"/><circle cx="1741.0" cy="466.5" r="4.4"/><circle cx="1720.5" cy="379.4" r="4.4"/><circle cx="1709.9" cy="431.4" r="4.4"/><circle cx="1834.3" cy="473.5" r="4.4"/><circle cx="1747.6" cy="429.7" r="4.4"/><circle cx="1929.8" cy="472.2" r="4.4"/><circle cx="1715.0" cy="438.0" r="4.4"/><circle cx="1884.2" cy="503.8" r="4.4"/><circle cx="2005.4" cy="525.2" r="4.4"/><circle cx="1731.8" cy="392.4" r="4.4"/><circle cx="1705.5" cy="429.1" r="4.4"/><circle cx="1739.8" cy="403.1" r="4.4"/><circle cx="1910.8" cy="497.5" r="4.4"/><circle cx="1909.0" cy="506.4" r="4.4"/><circle cx="1948.8" cy="499.1" r="4.4"/><circle cx="1714.9" cy="420.8" r="4.4"/><circle cx="1831.1" cy="465.9" r="4.4"/><circle cx="1850.0" cy="477.8" r="4.4"/><circle cx="1770.8" cy="459.0" r="4.4"/><circle cx="1739.6" cy="466.1" r="4.4"/><circle cx="1844.1" cy="460.4" r="4.4"/><circle cx="1796.1" cy="455.6" r="4.4"/><circle cx="2085.3" cy="508.5" r="4.4"/><circle cx="1774.9" cy="499.8" r="4.4"/><circle cx="1758.8" cy="469.4" r="4.4"/><circle cx="1696.2" cy="487.3" r="4.4"/><circle cx="1742.2" cy="462.0" r="4.4"/><circle cx="1665.5" cy="309.9" r="4.4"/><circle cx="1641.2" cy="335.6" r="4.4"/><circle cx="1730.1" cy="420.6" r="4.4"/><circle cx="1724.6" cy="406.2" r="4.4"/><circle cx="1872.3" cy="481.8" r="4.4"/><circle cx="1878.1" cy="492.8" r="4.4"/><circle cx="1721.0" cy="409.1" r="4.4"/><circle cx="1736.6" cy="418.6" r="4.4"/><circle cx="1743.7" cy="484.2" r="4.4"/><circle cx="1996.3" cy="513.6" r="4.4"/><circle cx="1912.2" cy="471.3" r="4.4"/><circle cx="1678.4" cy="405.5" r="4.4"/><circle cx="1880.0" cy="483.2" r="4.4"/><circle cx="1803.3" cy="470.6" r="4.4"/><circle cx="1955.1" cy="520.1" r="4.4"/><circle cx="1713.3" cy="353.8" r="4.4"/><circle cx="1691.0" cy="407.5" r="4.4"/><circle cx="1719.6" cy="462.1" r="4.4"/><circle cx="1723.9" cy="484.1" r="4.4"/><circle cx="1973.3" cy="513.7" r="4.4"/><circle cx="1874.7" cy="506.9" r="4.4"/><circle cx="1629.5" cy="444.8" r="4.4"/><circle cx="1697.6" cy="361.1" r="4.4"/><circle cx="1688.7" cy="357.0" r="4.4"/><circle cx="1684.9" cy="464.2" r="4.4"/><circle cx="1696.3" cy="356.4" r="4.4"/><circle cx="1697.1" cy="395.4" r="4.4"/><circle cx="1753.5" cy="450.0" r="4.4"/><circle cx="1694.6" cy="370.6" r="4.4"/><circle cx="1755.8" cy="494.2" r="4.4"/><circle cx="1758.4" cy="478.1" r="4.4"/><circle cx="1702.5" cy="462.1" r="4.4"/><circle cx="1745.1" cy="460.4" r="4.4"/><circle cx="1795.6" cy="438.5" r="4.4"/><circle cx="1754.5" cy="470.5" r="4.4"/><circle cx="1707.1" cy="457.0" r="4.4"/><circle cx="1849.9" cy="479.2" r="4.4"/><circle cx="1693.4" cy="387.3" r="4.4"/><circle cx="1770.5" cy="441.7" r="4.4"/><circle cx="1940.0" cy="504.2" r="4.4"/><circle cx="1698.2" cy="427.4" r="4.4"/><circle cx="1729.5" cy="469.5" r="4.4"/><circle cx="1793.4" cy="465.2" r="4.4"/><circle cx="1714.1" cy="407.6" r="4.4"/><circle cx="1747.9" cy="472.5" r="4.4"/><circle cx="1910.4" cy="504.2" r="4.4"/><circle cx="1650.7" cy="296.6" r="4.4"/><circle cx="1713.4" cy="446.3" r="4.4"/><circle cx="1917.3" cy="505.7" r="4.4"/><circle cx="1718.9" cy="353.9" r="4.4"/><circle cx="1713.1" cy="448.1" r="4.4"/><circle cx="1558.3" cy="355.2" r="4.4"/><circle cx="1738.8" cy="457.9" r="4.4"/><circle cx="1770.2" cy="442.9" r="4.4"/><circle cx="1859.5" cy="479.4" r="4.4"/><circle cx="1837.8" cy="479.4" r="4.4"/><circle cx="1748.9" cy="435.3" r="4.4"/><circle cx="1808.4" cy="432.0" r="4.4"/><circle cx="1859.7" cy="462.5" r="4.4"/><circle cx="1767.8" cy="472.5" r="4.4"/><circle cx="1691.7" cy="396.0" r="4.4"/><circle cx="1882.3" cy="492.0" r="4.4"/><circle cx="1735.3" cy="383.3" r="4.4"/><circle cx="1840.2" cy="469.3" r="4.4"/><circle cx="1634.8" cy="397.9" r="4.4"/><circle cx="1923.1" cy="507.4" r="4.4"/><circle cx="1793.2" cy="483.2" r="4.4"/><circle cx="1894.4" cy="501.4" r="4.4"/><circle cx="1637.0" cy="391.3" r="4.4"/><circle cx="1727.6" cy="403.6" r="4.4"/><circle cx="1911.9" cy="514.0" r="4.4"/><circle cx="1677.3" cy="412.9" r="4.4"/><circle cx="1773.5" cy="483.7" r="4.4"/><circle cx="1850.3" cy="500.7" r="4.4"/><circle cx="1613.8" cy="304.8" r="4.4"/><circle cx="1720.4" cy="420.0" r="4.4"/><circle cx="1710.9" cy="382.6" r="4.4"/><circle cx="1664.2" cy="422.3" r="4.4"/><circle cx="2093.8" cy="509.1" r="4.4"/><circle cx="1795.5" cy="484.1" r="4.4"/><circle cx="1743.0" cy="438.8" r="4.4"/><circle cx="1812.0" cy="469.9" r="4.4"/><circle cx="1779.3" cy="427.0" r="4.4"/><circle cx="1852.9" cy="486.1" r="4.4"/><circle cx="1776.3" cy="452.0" r="4.4"/><circle cx="1668.0" cy="338.4" r="4.4"/><circle cx="1655.1" cy="373.6" r="4.4"/><circle cx="1676.4" cy="369.8" r="4.4"/><circle cx="1718.9" cy="380.4" r="4.4"/><circle cx="1722.9" cy="416.2" r="4.4"/><circle cx="1856.8" cy="498.4" r="4.4"/><circle cx="2000.9" cy="499.4" r="4.4"/><circle cx="1873.4" cy="484.7" r="4.4"/><circle cx="1906.1" cy="496.9" r="4.4"/><circle cx="1670.2" cy="320.6" r="4.4"/><circle cx="1706.8" cy="369.3" r="4.4"/><circle cx="1718.7" cy="425.9" r="4.4"/><circle cx="1682.9" cy="447.9" r="4.4"/><circle cx="1784.4" cy="463.8" r="4.4"/><circle cx="1690.1" cy="403.9" r="4.4"/><circle cx="1738.0" cy="396.3" r="4.4"/><circle cx="1853.3" cy="488.0" r="4.4"/><circle cx="1765.8" cy="443.0" r="4.4"/><circle cx="1690.7" cy="360.0" r="4.4"/><circle cx="1939.9" cy="504.2" r="4.4"/><circle cx="1938.4" cy="503.6" r="4.4"/><circle cx="1760.3" cy="363.0" r="4.4"/><circle cx="2007.2" cy="502.4" r="4.4"/><circle cx="1798.3" cy="449.5" r="4.4"/><circle cx="1715.2" cy="406.9" r="4.4"/><circle cx="1819.4" cy="488.1" r="4.4"/><circle cx="1755.0" cy="410.5" r="4.4"/><circle cx="1788.4" cy="443.2" r="4.4"/><circle cx="1906.9" cy="493.5" r="4.4"/><circle cx="1773.9" cy="468.3" r="4.4"/><circle cx="1745.1" cy="439.7" r="4.4"/><circle cx="1862.7" cy="490.3" r="4.4"/><circle cx="1798.6" cy="443.0" r="4.4"/><circle cx="1879.5" cy="463.8" r="4.4"/><circle cx="1808.0" cy="456.7" r="4.4"/><circle cx="1746.5" cy="482.8" r="4.4"/><circle cx="1742.8" cy="455.0" r="4.4"/><circle cx="1623.7" cy="427.3" r="4.4"/><circle cx="1724.7" cy="449.3" r="4.4"/><circle cx="1893.9" cy="487.4" r="4.4"/><circle cx="1764.8" cy="419.6" r="4.4"/><circle cx="1774.9" cy="466.4" r="4.4"/><circle cx="1755.4" cy="418.7" r="4.4"/><circle cx="1852.0" cy="484.9" r="4.4"/><circle cx="1887.6" cy="507.7" r="4.4"/><circle cx="1938.5" cy="508.9" r="4.4"/><circle cx="1769.8" cy="470.0" r="4.4"/><circle cx="1701.8" cy="333.7" r="4.4"/><circle cx="1743.0" cy="471.7" r="4.4"/><circle cx="1624.0" cy="260.2" r="4.4"/><circle cx="1905.3" cy="476.2" r="4.4"/><circle cx="1706.7" cy="418.8" r="4.4"/><circle cx="1780.6" cy="450.0" r="4.4"/><circle cx="1649.8" cy="397.8" r="4.4"/><circle cx="1772.0" cy="471.4" r="4.4"/><circle cx="1727.2" cy="393.6" r="4.4"/><circle cx="1748.9" cy="448.8" r="4.4"/><circle cx="1694.0" cy="347.9" r="4.4"/><circle cx="1708.8" cy="357.1" r="4.4"/><circle cx="1893.4" cy="490.4" r="4.4"/><circle cx="1698.6" cy="381.3" r="4.4"/><circle cx="1704.6" cy="425.0" r="4.4"/><circle cx="2073.5" cy="510.4" r="4.4"/></g>
<polygon points="1549.7,469.0 1556.7,469.2 1563.7,469.4 1570.7,469.6 1577.7,469.8 1584.7,470.0 1591.7,470.2 1598.8,470.3 1605.8,470.5 1612.8,470.7 1619.8,470.8 1626.8,470.9 1633.8,471.1 1640.8,471.2 1647.8,471.3 1654.9,471.5 1661.9,471.6 1668.9,471.7 1675.9,471.8 1682.9,471.9 1689.9,472.0 1696.9,472.1 1703.9,472.2 1710.9,472.2 1718.0,472.3 1725.0,472.4 1732.0,472.5 1739.0,472.5 1746.0,472.6 1753.0,472.7 1760.0,472.7 1767.0,472.8 1774.0,472.9 1781.1,472.9 1788.1,473.0 1795.1,473.1 1802.1,473.1 1809.1,473.2 1816.1,473.2 1823.1,473.3 1830.1,473.3 1837.2,473.4 1844.2,473.5 1851.2,473.5 1858.2,473.6 1865.2,473.6 1872.2,473.7 1879.2,473.7 1886.2,473.8 1893.2,473.8 1900.3,473.8 1907.3,473.9 1914.3,473.9 1921.3,473.9 1928.3,474.0 1935.3,474.0 1942.3,474.0 1949.3,474.0 1956.4,474.0 1963.4,474.0 1970.4,474.0 1977.4,474.0 1984.4,474.0 1991.4,474.0 1998.4,474.0 2005.4,473.9 2012.4,473.9 2019.5,473.8 2026.5,473.8 2033.5,473.7 2040.5,473.7 2047.5,473.6 2054.5,473.5 2061.5,473.4 2068.5,473.3 2075.6,473.2 2082.6,473.0 2089.6,472.9 2096.6,472.8 2103.6,472.6 2103.6,488.6 2096.6,488.3 2089.6,488.1 2082.6,487.8 2075.6,487.6 2068.5,487.4 2061.5,487.1 2054.5,486.9 2047.5,486.7 2040.5,486.5 2033.5,486.3 2026.5,486.2 2019.5,486.0 2012.4,485.8 2005.4,485.7 1998.4,485.5 1991.4,485.4 1984.4,485.2 1977.4,485.1 1970.4,485.0 1963.4,484.9 1956.4,484.8 1949.3,484.6 1942.3,484.5 1935.3,484.4 1928.3,484.3 1921.3,484.3 1914.3,484.2 1907.3,484.1 1900.3,484.0 1893.2,483.9 1886.2,483.9 1879.2,483.8 1872.2,483.7 1865.2,483.7 1858.2,483.6 1851.2,483.5 1844.2,483.5 1837.2,483.4 1830.1,483.3 1823.1,483.3 1816.1,483.2 1809.1,483.2 1802.1,483.1 1795.1,483.1 1788.1,483.0 1781.1,482.9 1774.0,482.9 1767.0,482.8 1760.0,482.8 1753.0,482.7 1746.0,482.7 1739.0,482.6 1732.0,482.6 1725.0,482.5 1718.0,482.5 1710.9,482.5 1703.9,482.4 1696.9,482.4 1689.9,482.4 1682.9,482.4 1675.9,482.3 1668.9,482.3 1661.9,482.3 1654.9,482.3 1647.8,482.3 1640.8,482.3 1633.8,482.3 1626.8,482.4 1619.8,482.4 1612.8,482.4 1605.8,482.5 1598.8,482.5 1591.7,482.5 1584.7,482.6 1577.7,482.7 1570.7,482.7 1563.7,482.8 1556.7,482.9 1549.7,483.0" fill="#9ed89e" fill-opacity="0.5"/>
<polyline points="1549.7,476.0 1556.7,476.1 1563.7,476.1 1570.7,476.2 1577.7,476.2 1584.7,476.3 1591.7,476.4 1598.8,476.4 1605.8,476.5 1612.8,476.5 1619.8,476.6 1626.8,476.7 1633.8,476.7 1640.8,476.8 1647.8,476.8 1654.9,476.9 1661.9,476.9 1668.9,477.0 1675.9,477.1 1682.9,477.1 1689.9,477.2 1696.9,477.2 1703.9,477.3 1710.9,477.4 1718.0,477.4 1725.0,477.5 1732.0,477.5 1739.0,477.6 1746.0,477.6 1753.0,477.7 1760.0,477.8 1767.0,477.8 1774.0,477.9 1781.1,477.9 1788.1,478.0 1795.1,478.1 1802.1,478.1 1809.1,478.2 1816.1,478.2 1823.1,478.3 1830.1,478.3 1837.2,478.4 1844.2,478.5 1851.2,478.5 1858.2,478.6 1865.2,478.6 1872.2,478.7 1879.2,478.8 1886.2,478.8 1893.2,478.9 1900.3,478.9 1907.3,479.0 1914.3,479.0 1921.3,479.1 1928.3,479.2 1935.3,479.2 1942.3,479.3 1949.3,479.3 1956.4,479.4 1963.4,479.5 1970.4,479.5 1977.4,479.6 1984.4,479.6 1991.4,479.7 1998.4,479.7 2005.4,479.8 2012.4,479.9 2019.5,479.9 2026.5,480.0 2033.5,480.0 2040.5,480.1 2047.5,480.2 2054.5,480.2 2061.5,480.3 2068.5,480.3 2075.6,480.4 2082.6,480.4 2089.6,480.5 2096.6,480.6 2103.6,480.6" fill="none" stroke="#33a833" stroke-width="10" stroke-linecap="butt"/>
<polygon points="1549.7,265.2 1556.7,272.9 1563.7,280.5 1570.7,287.9 1577.7,295.2 1584.7,302.3 1591.7,309.3 1598.8,316.1 1605.8,322.7 1612.8,329.3 1619.8,335.6 1626.8,341.9 1633.8,348.0 1640.8,353.9 1647.8,359.7 1654.9,365.4 1661.9,371.0 1668.9,376.4 1675.9,381.7 1682.9,386.8 1689.9,391.9 1696.9,396.8 1703.9,401.5 1710.9,406.2 1718.0,410.8 1725.0,415.2 1732.0,419.5 1739.0,423.7 1746.0,427.8 1753.0,431.7 1760.0,435.6 1767.0,439.3 1774.0,443.0 1781.1,446.5 1788.1,449.9 1795.1,453.3 1802.1,456.5 1809.1,459.7 1816.1,462.7 1823.1,465.6 1830.1,468.5 1837.2,471.2 1844.2,473.9 1851.2,476.5 1858.2,478.9 1865.2,481.3 1872.2,483.6 1879.2,485.7 1886.2,487.8 1893.2,489.8 1900.3,491.6 1907.3,493.4 1914.3,495.1 1921.3,496.6 1928.3,498.1 1935.3,499.5 1942.3,500.7 1949.3,501.9 1956.4,503.0 1963.4,503.9 1970.4,504.8 1977.4,505.5 1984.4,506.1 1991.4,506.7 1998.4,507.1 2005.4,507.4 2012.4,507.6 2019.5,507.7 2026.5,507.7 2033.5,507.6 2040.5,507.4 2047.5,507.1 2054.5,506.6 2061.5,506.1 2068.5,505.4 2075.6,504.7 2082.6,503.8 2089.6,502.8 2096.6,501.7 2103.6,500.5 2103.6,520.5 2096.6,521.0 2089.6,521.4 2082.6,521.8 2075.6,522.0 2068.5,522.2 2061.5,522.3 2054.5,522.4 2047.5,522.3 2040.5,522.2 2033.5,522.0 2026.5,521.7 2019.5,521.3 2012.4,520.9 2005.4,520.3 1998.4,519.7 1991.4,519.0 1984.4,518.2 1977.4,517.3 1970.4,516.3 1963.4,515.3 1956.4,514.2 1949.3,512.9 1942.3,511.6 1935.3,510.2 1928.3,508.7 1921.3,507.2 1914.3,505.5 1907.3,503.8 1900.3,501.9 1893.2,500.0 1886.2,498.0 1879.2,495.9 1872.2,493.7 1865.2,491.4 1858.2,489.0 1851.2,486.5 1844.2,483.9 1837.2,481.3 1830.1,478.5 1823.1,475.6 1816.1,472.7 1809.1,469.7 1802.1,466.5 1795.1,463.3 1788.1,460.0 1781.1,456.6 1774.0,453.1 1767.0,449.5 1760.0,445.8 1753.0,442.1 1746.0,438.2 1739.0,434.3 1732.0,430.3 1725.0,426.3 1718.0,422.1 1710.9,417.9 1703.9,413.7 1696.9,409.3 1689.9,404.9 1682.9,400.4 1675.9,395.9 1668.9,391.3 1661.9,386.6 1654.9,381.9 1647.8,377.1 1640.8,372.3 1633.8,367.4 1626.8,362.4 1619.8,357.5 1612.8,352.4 1605.8,347.3 1598.8,342.2 1591.7,337.0 1584.7,331.8 1577.7,326.6 1570.7,321.3 1563.7,316.0 1556.7,310.6 1549.7,305.2" fill="#a8b0e6" fill-opacity="0.5"/>
<polyline points="1549.7,285.2 1556.7,291.8 1563.7,298.2 1570.7,304.6 1577.7,310.9 1584.7,317.1 1591.7,323.1 1598.8,329.1 1605.8,335.0 1612.8,340.8 1619.8,346.5 1626.8,352.2 1633.8,357.7 1640.8,363.1 1647.8,368.4 1654.9,373.7 1661.9,378.8 1668.9,383.8 1675.9,388.8 1682.9,393.6 1689.9,398.4 1696.9,403.0 1703.9,407.6 1710.9,412.1 1718.0,416.4 1725.0,420.7 1732.0,424.9 1739.0,429.0 1746.0,433.0 1753.0,436.9 1760.0,440.7 1767.0,444.4 1774.0,448.0 1781.1,451.5 1788.1,455.0 1795.1,458.3 1802.1,461.5 1809.1,464.7 1816.1,467.7 1823.1,470.6 1830.1,473.5 1837.2,476.3 1844.2,478.9 1851.2,481.5 1858.2,484.0 1865.2,486.3 1872.2,488.6 1879.2,490.8 1886.2,492.9 1893.2,494.9 1900.3,496.8 1907.3,498.6 1914.3,500.3 1921.3,501.9 1928.3,503.4 1935.3,504.9 1942.3,506.2 1949.3,507.4 1956.4,508.6 1963.4,509.6 1970.4,510.5 1977.4,511.4 1984.4,512.2 1991.4,512.8 1998.4,513.4 2005.4,513.9 2012.4,514.2 2019.5,514.5 2026.5,514.7 2033.5,514.8 2040.5,514.8 2047.5,514.7 2054.5,514.5 2061.5,514.2 2068.5,513.8 2075.6,513.4 2082.6,512.8 2089.6,512.1 2096.6,511.3 2103.6,510.5" fill="none" stroke="#4ea6ef" stroke-width="10" stroke-linecap="butt"/>
<polygon points="1549.7,480.9 1556.7,483.7 1563.7,486.3 1570.7,488.7 1577.7,490.8 1584.7,492.8 1591.7,494.5 1598.8,496.1 1605.8,497.4 1612.8,498.6 1619.8,499.5 1626.8,500.3 1633.8,500.8 1640.8,501.1 1647.8,501.3 1654.9,501.3 1661.9,501.0 1668.9,500.6 1675.9,500.0 1682.9,499.2 1689.9,498.2 1696.9,497.0 1703.9,495.6 1710.9,494.1 1718.0,492.3 1725.0,490.4 1732.0,488.3 1739.0,486.0 1746.0,483.6 1753.0,480.9 1760.0,478.1 1767.0,475.1 1774.0,472.0 1781.1,468.6 1788.1,465.1 1795.1,461.4 1802.1,457.5 1809.1,453.5 1816.1,449.3 1823.1,444.9 1830.1,440.3 1837.2,435.5 1844.2,430.6 1851.2,425.4 1858.2,420.1 1865.2,414.6 1872.2,408.8 1879.2,402.9 1886.2,396.8 1893.2,390.5 1900.3,384.0 1907.3,377.3 1914.3,370.4 1921.3,363.2 1928.3,355.9 1935.3,348.4 1942.3,340.6 1949.3,332.6 1956.4,324.5 1963.4,316.1 1970.4,307.4 1977.4,298.6 1984.4,289.5 1991.4,280.2 1998.4,270.7 2005.4,261.0 2012.4,251.0 2019.5,240.8 2026.5,230.4 2033.5,219.7 2040.5,208.8 2047.5,197.7 2054.5,186.3 2061.5,174.7 2068.5,162.8 2075.6,150.7 2082.6,138.4 2089.6,125.8 2096.6,112.9 2103.6,99.8 2103.6,167.8 2096.6,177.2 2089.6,186.5 2082.6,195.8 2075.6,204.9 2068.5,213.9 2061.5,222.9 2054.5,231.7 2047.5,240.4 2040.5,249.1 2033.5,257.6 2026.5,266.0 2019.5,274.3 2012.4,282.5 2005.4,290.6 1998.4,298.5 1991.4,306.4 1984.4,314.1 1977.4,321.7 1970.4,329.2 1963.4,336.6 1956.4,343.8 1949.3,350.9 1942.3,357.9 1935.3,364.7 1928.3,371.5 1921.3,378.0 1914.3,384.5 1907.3,390.8 1900.3,397.0 1893.2,403.0 1886.2,408.9 1879.2,414.6 1872.2,420.2 1865.2,425.6 1858.2,430.9 1851.2,436.0 1844.2,441.0 1837.2,445.8 1830.1,450.5 1823.1,455.0 1816.1,459.4 1809.1,463.5 1802.1,467.6 1795.1,471.4 1788.1,475.1 1781.1,478.6 1774.0,482.0 1767.0,485.1 1760.0,488.1 1753.0,491.0 1746.0,493.6 1739.0,496.1 1732.0,498.4 1725.0,500.6 1718.0,502.6 1710.9,504.5 1703.9,506.1 1696.9,507.7 1689.9,509.0 1682.9,510.2 1675.9,511.3 1668.9,512.2 1661.9,512.9 1654.9,513.5 1647.8,514.0 1640.8,514.2 1633.8,514.4 1626.8,514.4 1619.8,514.2 1612.8,513.9 1605.8,513.5 1598.8,512.9 1591.7,512.2 1584.7,511.3 1577.7,510.3 1570.7,509.2 1563.7,507.9 1556.7,506.5 1549.7,504.9" fill="#f2a2ae" fill-opacity="0.55"/>
<polyline points="1549.7,492.9 1556.7,495.1 1563.7,497.1 1570.7,498.9 1577.7,500.6 1584.7,502.0 1591.7,503.4 1598.8,504.5 1605.8,505.5 1612.8,506.2 1619.8,506.9 1626.8,507.3 1633.8,507.6 1640.8,507.7 1647.8,507.6 1654.9,507.4 1661.9,507.0 1668.9,506.4 1675.9,505.6 1682.9,504.7 1689.9,503.6 1696.9,502.3 1703.9,500.9 1710.9,499.3 1718.0,497.5 1725.0,495.5 1732.0,493.4 1739.0,491.1 1746.0,488.6 1753.0,485.9 1760.0,483.1 1767.0,480.1 1774.0,477.0 1781.1,473.6 1788.1,470.1 1795.1,466.4 1802.1,462.6 1809.1,458.5 1816.1,454.3 1823.1,450.0 1830.1,445.4 1837.2,440.7 1844.2,435.8 1851.2,430.7 1858.2,425.5 1865.2,420.1 1872.2,414.5 1879.2,408.8 1886.2,402.8 1893.2,396.7 1900.3,390.5 1907.3,384.0 1914.3,377.4 1921.3,370.6 1928.3,363.7 1935.3,356.6 1942.3,349.3 1949.3,341.8 1956.4,334.1 1963.4,326.3 1970.4,318.3 1977.4,310.2 1984.4,301.8 1991.4,293.3 1998.4,284.6 2005.4,275.8 2012.4,266.8 2019.5,257.6 2026.5,248.2 2033.5,238.7 2040.5,228.9 2047.5,219.1 2054.5,209.0 2061.5,198.8 2068.5,188.4 2075.6,177.8 2082.6,167.1 2089.6,156.1 2096.6,145.0 2103.6,133.8" fill="none" stroke="#f0305a" stroke-width="10" stroke-linecap="butt"/>
<path d="M1550.2,23.8 V555.0 H2106.5" stroke="#111" stroke-width="2.6" fill="none"/>
<line x1="1542.5" y1="529.4" x2="1550.2" y2="529.4" stroke="#111" stroke-width="2.2"/>
<text x="1512.8" y="534.8" textLength="16.5" lengthAdjust="spacingAndGlyphs">0</text>
<line x1="1542.5" y1="470.0" x2="1550.2" y2="470.0" stroke="#111" stroke-width="2.2"/>
<text x="1455.1" y="475.4" textLength="74.2" lengthAdjust="spacingAndGlyphs">1,000</text>
<line x1="1542.5" y1="410.6" x2="1550.2" y2="410.6" stroke="#111" stroke-width="2.2"/>
<text x="1455.1" y="416.0" textLength="74.2" lengthAdjust="spacingAndGlyphs">2,000</text>
<line x1="1542.5" y1="351.2" x2="1550.2" y2="351.2" stroke="#111" stroke-width="2.2"/>
<text x="1455.1" y="356.6" textLength="74.2" lengthAdjust="spacingAndGlyphs">3,000</text>
<line x1="1542.5" y1="291.8" x2="1550.2" y2="291.8" stroke="#111" stroke-width="2.2"/>
<text x="1455.1" y="297.2" textLength="74.2" lengthAdjust="spacingAndGlyphs">4,000</text>
<line x1="1542.5" y1="232.4" x2="1550.2" y2="232.4" stroke="#111" stroke-width="2.2"/>
<text x="1455.1" y="237.8" textLength="74.2" lengthAdjust="spacingAndGlyphs">5,000</text>
<line x1="1542.5" y1="173.0" x2="1550.2" y2="173.0" stroke="#111" stroke-width="2.2"/>
<text x="1455.1" y="178.4" textLength="74.2" lengthAdjust="spacingAndGlyphs">6,000</text>
<line x1="1542.5" y1="113.6" x2="1550.2" y2="113.6" stroke="#111" stroke-width="2.2"/>
<text x="1455.1" y="119.0" textLength="74.2" lengthAdjust="spacingAndGlyphs">7,000</text>
<line x1="1542.5" y1="54.2" x2="1550.2" y2="54.2" stroke="#111" stroke-width="2.2"/>
<text x="1455.1" y="59.6" textLength="74.2" lengthAdjust="spacingAndGlyphs">8,000</text>
<line x1="1555.6" y1="555.0" x2="1555.6" y2="562.5" stroke="#111" stroke-width="2.2"/>
<text x="1516.0" y="589.0" textLength="55.5" lengthAdjust="spacingAndGlyphs">−0.8</text>
<line x1="1619.9" y1="555.0" x2="1619.9" y2="562.5" stroke="#111" stroke-width="2.2"/>
<text x="1582.2" y="589.0" textLength="55.5" lengthAdjust="spacingAndGlyphs">−0.6</text>
<line x1="1684.2" y1="555.0" x2="1684.2" y2="562.5" stroke="#111" stroke-width="2.2"/>
<text x="1648.0" y="589.0" textLength="55.5" lengthAdjust="spacingAndGlyphs">−0.4</text>
<line x1="1748.8" y1="555.0" x2="1748.8" y2="562.5" stroke="#111" stroke-width="2.2"/>
<text x="1717.8" y="589.0" textLength="55.5" lengthAdjust="spacingAndGlyphs">−0.2</text>
<line x1="1813.0" y1="555.0" x2="1813.0" y2="562.5" stroke="#111" stroke-width="2.2"/>
<text x="1797.2" y="589.0" textLength="40.0" lengthAdjust="spacingAndGlyphs">0.0</text>
<line x1="1877.3" y1="555.0" x2="1877.3" y2="562.5" stroke="#111" stroke-width="2.2"/>
<text x="1863.0" y="589.0" textLength="40.0" lengthAdjust="spacingAndGlyphs">0.2</text>
<line x1="1941.9" y1="555.0" x2="1941.9" y2="562.5" stroke="#111" stroke-width="2.2"/>
<text x="1928.9" y="589.0" textLength="40.0" lengthAdjust="spacingAndGlyphs">0.4</text>
<line x1="2006.2" y1="555.0" x2="2006.2" y2="562.5" stroke="#111" stroke-width="2.2"/>
<text x="1994.8" y="589.0" textLength="40.0" lengthAdjust="spacingAndGlyphs">0.6</text>
<line x1="2071.1" y1="555.0" x2="2071.1" y2="562.5" stroke="#111" stroke-width="2.2"/>
<text x="2061.1" y="589.0" textLength="40.0" lengthAdjust="spacingAndGlyphs">0.8</text>
<text x="1699.1" y="622.6" textLength="303.0" lengthAdjust="spacingAndGlyphs">Predicted patient’s risk</text>
<text transform="translate(1437.0,563.8) rotate(-90)" x="-0.0" y="0" textLength="544.8" lengthAdjust="spacingAndGlyphs">Number of superpatch belonging to IG group</text>
<rect x="1563.8" y="19.6" width="23.6" height="23" fill="#42a5f5" stroke="#1c1c28" stroke-width="1.8"/>
<rect x="1563.8" y="51.3" width="23.6" height="23" fill="#22a31a" stroke="#1c1c28" stroke-width="1.8"/>
<rect x="1563.8" y="83.3" width="23.6" height="23" fill="#fb0a4c" stroke="#1c1c28" stroke-width="1.8"/>
<text x="1603.8" y="38.8" textLength="173.7" lengthAdjust="spacingAndGlyphs">Low IG group</text>
<text x="1605.5" y="70.6" textLength="172.0" lengthAdjust="spacingAndGlyphs">Mid IG group</text>
<text x="1597.5" y="102.2" textLength="180.0" lengthAdjust="spacingAndGlyphs">High IG group</text>
<text x="10.5" y="656.0" font-size="35" font-weight="bold">d</text>
<clipPath id="c3"><rect x="135.8" y="640" width="564.2" height="578.9"/></clipPath>
<g clip-path="url(#c3)" fill="#56a6ea" fill-opacity="0.27" stroke="#56a6ea" stroke-opacity="0.36" stroke-width="1"><circle cx="385.7" cy="1063.2" r="4.4"/><circle cx="624.3" cy="1161.6" r="4.4"/><circle cx="598.7" cy="1174.5" r="4.4"/><circle cx="384.8" cy="1103.9" r="4.4"/><circle cx="302.4" cy="1068.2" r="4.4"/><circle cx="463.6" cy="1158.1" r="4.4"/><circle cx="312.6" cy="1104.0" r="4.4"/><circle cx="528.7" cy="1143.2" r="4.4"/><circle cx="554.7" cy="1187.3" r="4.4"/><circle cx="389.9" cy="1032.6" r="4.4"/><circle cx="341.5" cy="1023.1" r="4.4"/><circle cx="365.5" cy="1093.1" r="4.4"/><circle cx="272.8" cy="916.4" r="4.4"/><circle cx="368.2" cy="1067.3" r="4.4"/><circle cx="412.9" cy="1048.8" r="4.4"/><circle cx="641.7" cy="1156.9" r="4.4"/><circle cx="502.4" cy="1144.7" r="4.4"/><circle cx="415.4" cy="1084.0" r="4.4"/><circle cx="526.9" cy="1159.2" r="4.4"/><circle cx="537.4" cy="1146.9" r="4.4"/><circle cx="320.7" cy="937.2" r="4.4"/><circle cx="348.4" cy="900.6" r="4.4"/><circle cx="493.8" cy="1127.0" r="4.4"/><circle cx="304.9" cy="1001.4" r="4.4"/><circle cx="341.0" cy="1118.9" r="4.4"/><circle cx="405.0" cy="1079.2" r="4.4"/><circle cx="331.9" cy="1031.3" r="4.4"/><circle cx="433.4" cy="1173.9" r="4.4"/><circle cx="379.5" cy="1049.0" r="4.4"/><circle cx="435.6" cy="1100.4" r="4.4"/><circle cx="368.6" cy="1085.1" r="4.4"/><circle cx="279.3" cy="995.5" r="4.4"/><circle cx="314.4" cy="1038.6" r="4.4"/><circle cx="358.3" cy="987.0" r="4.4"/><circle cx="520.0" cy="1182.1" r="4.4"/><circle cx="335.0" cy="1039.1" r="4.4"/><circle cx="274.7" cy="713.7" r="4.4"/><circle cx="381.1" cy="1061.0" r="4.4"/><circle cx="500.3" cy="1125.7" r="4.4"/><circle cx="424.1" cy="1100.1" r="4.4"/><circle cx="315.5" cy="1093.4" r="4.4"/><circle cx="636.1" cy="1176.0" r="4.4"/><circle cx="537.1" cy="1144.0" r="4.4"/><circle cx="382.4" cy="1102.2" r="4.4"/><circle cx="297.6" cy="934.0" r="4.4"/><circle cx="544.5" cy="1154.6" r="4.4"/><circle cx="377.2" cy="988.8" r="4.4"/><circle cx="441.3" cy="1157.4" r="4.4"/><circle cx="356.6" cy="1085.5" r="4.4"/><circle cx="575.4" cy="1175.5" r="4.4"/><circle cx="293.5" cy="858.3" r="4.4"/><circle cx="437.0" cy="1092.8" r="4.4"/><circle cx="361.8" cy="1000.1" r="4.4"/><circle cx="327.8" cy="1078.4" r="4.4"/><circle cx="349.8" cy="1109.8" r="4.4"/><circle cx="300.8" cy="968.6" r="4.4"/><circle cx="382.3" cy="1060.9" r="4.4"/><circle cx="369.7" cy="1113.8" r="4.4"/><circle cx="327.5" cy="1013.4" r="4.4"/><circle cx="345.9" cy="986.9" r="4.4"/><circle cx="608.0" cy="1147.8" r="4.4"/><circle cx="398.3" cy="1102.2" r="4.4"/><circle cx="484.2" cy="1158.5" r="4.4"/><circle cx="291.9" cy="1015.5" r="4.4"/><circle cx="317.0" cy="989.6" r="4.4"/><circle cx="383.7" cy="1071.8" r="4.4"/><circle cx="258.9" cy="963.2" r="4.4"/><circle cx="383.9" cy="1090.1" r="4.4"/><circle cx="653.8" cy="1164.7" r="4.4"/><circle cx="272.8" cy="929.2" r="4.4"/><circle cx="436.9" cy="1083.6" r="4.4"/><circle cx="321.4" cy="1063.7" r="4.4"/><circle cx="250.8" cy="988.4" r="4.4"/><circle cx="473.5" cy="1098.3" r="4.4"/><circle cx="371.2" cy="1106.2" r="4.4"/><circle cx="493.0" cy="1145.4" r="4.4"/><circle cx="616.9" cy="1148.9" r="4.4"/><circle cx="453.8" cy="1087.5" r="4.4"/><circle cx="373.4" cy="1043.3" r="4.4"/><circle cx="294.9" cy="825.1" r="4.4"/><circle cx="343.3" cy="1029.4" r="4.4"/><circle cx="487.6" cy="1139.4" r="4.4"/><circle cx="416.3" cy="1108.6" r="4.4"/><circle cx="302.3" cy="1016.2" r="4.4"/><circle cx="396.5" cy="995.0" r="4.4"/><circle cx="389.2" cy="1040.1" r="4.4"/><circle cx="509.0" cy="1135.0" r="4.4"/><circle cx="305.5" cy="931.3" r="4.4"/><circle cx="380.1" cy="1033.8" r="4.4"/><circle cx="336.5" cy="1044.9" r="4.4"/><circle cx="369.0" cy="1053.3" r="4.4"/><circle cx="515.7" cy="1135.7" r="4.4"/><circle cx="354.6" cy="1025.2" r="4.4"/><circle cx="510.6" cy="1165.9" r="4.4"/><circle cx="286.1" cy="937.1" r="4.4"/><circle cx="414.6" cy="1127.9" r="4.4"/><circle cx="310.7" cy="1019.1" r="4.4"/><circle cx="416.0" cy="1128.1" r="4.4"/><circle cx="408.5" cy="1051.1" r="4.4"/><circle cx="231.4" cy="1069.4" r="4.4"/><circle cx="459.6" cy="1125.6" r="4.4"/><circle cx="547.3" cy="1076.2" r="4.4"/><circle cx="364.4" cy="1056.4" r="4.4"/><circle cx="586.0" cy="1168.8" r="4.4"/><circle cx="301.7" cy="1004.6" r="4.4"/><circle cx="348.2" cy="935.8" r="4.4"/><circle cx="544.1" cy="1177.5" r="4.4"/><circle cx="489.0" cy="1112.6" r="4.4"/><circle cx="375.9" cy="1057.4" r="4.4"/><circle cx="465.9" cy="1134.3" r="4.4"/><circle cx="557.7" cy="1089.2" r="4.4"/><circle cx="589.6" cy="1176.1" r="4.4"/><circle cx="372.6" cy="1101.8" r="4.4"/><circle cx="154.2" cy="833.9" r="4.4"/><circle cx="283.0" cy="944.3" r="4.4"/><circle cx="483.1" cy="1140.5" r="4.4"/><circle cx="482.5" cy="1118.1" r="4.4"/><circle cx="281.9" cy="956.3" r="4.4"/><circle cx="250.2" cy="1027.9" r="4.4"/><circle cx="599.6" cy="1150.7" r="4.4"/><circle cx="350.2" cy="1049.1" r="4.4"/><circle cx="541.4" cy="1160.0" r="4.4"/><circle cx="458.0" cy="1152.9" r="4.4"/><circle cx="445.9" cy="1117.9" r="4.4"/><circle cx="622.5" cy="1195.2" r="4.4"/><circle cx="321.6" cy="1003.1" r="4.4"/><circle cx="353.9" cy="1116.5" r="4.4"/><circle cx="377.4" cy="1074.7" r="4.4"/><circle cx="309.6" cy="982.6" r="4.4"/><circle cx="314.3" cy="1069.4" r="4.4"/><circle cx="290.7" cy="1008.4" r="4.4"/><circle cx="537.5" cy="1153.8" r="4.4"/><circle cx="282.5" cy="898.9" r="4.4"/><circle cx="375.9" cy="1143.7" r="4.4"/><circle cx="386.9" cy="1058.0" r="4.4"/><circle cx="348.5" cy="1096.3" r="4.4"/><circle cx="493.4" cy="1129.2" r="4.4"/><circle cx="511.8" cy="1128.8" r="4.4"/><circle cx="488.5" cy="1169.2" r="4.4"/><circle cx="626.6" cy="1185.1" r="4.4"/><circle cx="463.5" cy="1134.3" r="4.4"/><circle cx="444.6" cy="1012.7" r="4.4"/><circle cx="412.2" cy="1056.9" r="4.4"/><circle cx="359.9" cy="971.1" r="4.4"/><circle cx="294.0" cy="1056.0" r="4.4"/><circle cx="488.6" cy="1181.1" r="4.4"/><circle cx="347.2" cy="957.9" r="4.4"/><circle cx="329.1" cy="1004.5" r="4.4"/><circle cx="485.6" cy="1112.6" r="4.4"/><circle cx="265.5" cy="906.9" r="4.4"/><circle cx="238.5" cy="985.8" r="4.4"/><circle cx="424.6" cy="1073.8" r="4.4"/><circle cx="528.0" cy="1164.8" r="4.4"/><circle cx="446.3" cy="1127.5" r="4.4"/><circle cx="460.2" cy="1125.9" r="4.4"/><circle cx="426.8" cy="1085.4" r="4.4"/><circle cx="315.5" cy="1012.4" r="4.4"/><circle cx="339.3" cy="948.3" r="4.4"/><circle cx="256.7" cy="788.4" r="4.4"/><circle cx="241.4" cy="817.0" r="4.4"/><circle cx="274.5" cy="879.3" r="4.4"/><circle cx="483.2" cy="1123.5" r="4.4"/><circle cx="395.6" cy="1154.7" r="4.4"/><circle cx="403.2" cy="1071.3" r="4.4"/><circle cx="460.9" cy="1117.5" r="4.4"/><circle cx="357.7" cy="1023.9" r="4.4"/><circle cx="455.8" cy="1135.4" r="4.4"/><circle cx="417.7" cy="1133.9" r="4.4"/><circle cx="310.6" cy="1024.3" r="4.4"/><circle cx="390.0" cy="1024.9" r="4.4"/><circle cx="353.7" cy="930.7" r="4.4"/><circle cx="460.8" cy="1114.9" r="4.4"/><circle cx="634.8" cy="1182.2" r="4.4"/><circle cx="332.1" cy="900.0" r="4.4"/><circle cx="279.0" cy="1028.1" r="4.4"/><circle cx="354.4" cy="896.3" r="4.4"/><circle cx="488.7" cy="1147.4" r="4.4"/><circle cx="574.3" cy="1162.0" r="4.4"/><circle cx="463.5" cy="1089.0" r="4.4"/><circle cx="410.5" cy="1006.4" r="4.4"/><circle cx="317.1" cy="1075.8" r="4.4"/><circle cx="518.8" cy="1141.8" r="4.4"/><circle cx="582.4" cy="1174.8" r="4.4"/><circle cx="605.9" cy="1143.9" r="4.4"/><circle cx="169.5" cy="840.0" r="4.4"/><circle cx="313.2" cy="1094.3" r="4.4"/><circle cx="259.3" cy="865.2" r="4.4"/><circle cx="331.9" cy="919.4" r="4.4"/><circle cx="444.4" cy="1020.8" r="4.4"/><circle cx="381.6" cy="939.1" r="4.4"/><circle cx="272.4" cy="896.7" r="4.4"/><circle cx="475.6" cy="1162.7" r="4.4"/><circle cx="306.5" cy="1016.3" r="4.4"/><circle cx="438.0" cy="1116.7" r="4.4"/><circle cx="286.3" cy="1022.6" r="4.4"/><circle cx="435.1" cy="1122.7" r="4.4"/><circle cx="369.0" cy="1144.4" r="4.4"/><circle cx="368.0" cy="1031.6" r="4.4"/><circle cx="170.2" cy="780.4" r="4.4"/><circle cx="315.3" cy="697.4" r="4.4"/><circle cx="456.0" cy="1116.9" r="4.4"/><circle cx="432.6" cy="1102.4" r="4.4"/><circle cx="503.2" cy="1124.1" r="4.4"/><circle cx="362.4" cy="1092.0" r="4.4"/><circle cx="453.6" cy="1131.5" r="4.4"/><circle cx="349.4" cy="1083.8" r="4.4"/><circle cx="519.0" cy="1117.6" r="4.4"/><circle cx="644.9" cy="1157.2" r="4.4"/><circle cx="302.9" cy="1083.1" r="4.4"/><circle cx="368.2" cy="1063.3" r="4.4"/><circle cx="382.2" cy="1019.6" r="4.4"/><circle cx="289.9" cy="924.7" r="4.4"/><circle cx="279.9" cy="916.5" r="4.4"/><circle cx="487.3" cy="1163.4" r="4.4"/><circle cx="453.1" cy="1111.3" r="4.4"/><circle cx="397.4" cy="1087.8" r="4.4"/><circle cx="170.3" cy="830.4" r="4.4"/><circle cx="380.3" cy="1095.1" r="4.4"/><circle cx="313.0" cy="1080.0" r="4.4"/><circle cx="584.9" cy="1145.3" r="4.4"/><circle cx="515.8" cy="1155.2" r="4.4"/><circle cx="339.3" cy="945.4" r="4.4"/><circle cx="373.5" cy="1018.8" r="4.4"/><circle cx="415.6" cy="1051.2" r="4.4"/><circle cx="426.4" cy="1010.1" r="4.4"/><circle cx="326.1" cy="970.1" r="4.4"/><circle cx="467.4" cy="1125.4" r="4.4"/><circle cx="365.8" cy="1100.3" r="4.4"/><circle cx="371.2" cy="1091.2" r="4.4"/><circle cx="536.0" cy="1152.1" r="4.4"/><circle cx="295.1" cy="800.2" r="4.4"/><circle cx="459.5" cy="1103.5" r="4.4"/><circle cx="170.2" cy="766.0" r="4.4"/><circle cx="189.8" cy="811.3" r="4.4"/><circle cx="424.9" cy="1073.6" r="4.4"/><circle cx="438.0" cy="1076.1" r="4.4"/><circle cx="401.0" cy="1086.8" r="4.4"/><circle cx="340.7" cy="1044.2" r="4.4"/><circle cx="515.4" cy="1152.9" r="4.4"/><circle cx="596.4" cy="1162.9" r="4.4"/><circle cx="336.8" cy="1075.3" r="4.4"/><circle cx="316.0" cy="986.1" r="4.4"/><circle cx="299.9" cy="1052.4" r="4.4"/><circle cx="606.8" cy="1151.9" r="4.4"/><circle cx="299.4" cy="1040.6" r="4.4"/><circle cx="362.2" cy="976.3" r="4.4"/><circle cx="306.8" cy="1082.9" r="4.4"/><circle cx="365.7" cy="1074.0" r="4.4"/><circle cx="484.3" cy="1092.5" r="4.4"/><circle cx="323.7" cy="1050.1" r="4.4"/><circle cx="282.8" cy="957.8" r="4.4"/><circle cx="472.6" cy="1139.6" r="4.4"/><circle cx="376.6" cy="1145.0" r="4.4"/><circle cx="343.8" cy="999.3" r="4.4"/><circle cx="350.6" cy="995.5" r="4.4"/><circle cx="343.4" cy="1084.2" r="4.4"/><circle cx="329.0" cy="945.7" r="4.4"/><circle cx="436.7" cy="1150.5" r="4.4"/><circle cx="491.5" cy="1160.2" r="4.4"/><circle cx="362.9" cy="1024.1" r="4.4"/><circle cx="273.6" cy="1008.8" r="4.4"/><circle cx="526.1" cy="1117.0" r="4.4"/><circle cx="327.8" cy="1073.4" r="4.4"/><circle cx="289.8" cy="891.7" r="4.4"/><circle cx="302.4" cy="907.9" r="4.4"/><circle cx="293.3" cy="1077.7" r="4.4"/><circle cx="166.0" cy="994.5" r="4.4"/><circle cx="291.3" cy="937.5" r="4.4"/><circle cx="381.4" cy="1087.7" r="4.4"/><circle cx="520.6" cy="1150.9" r="4.4"/><circle cx="435.8" cy="1074.5" r="4.4"/><circle cx="290.7" cy="1003.5" r="4.4"/><circle cx="228.8" cy="1000.8" r="4.4"/><circle cx="547.1" cy="1183.4" r="4.4"/><circle cx="377.4" cy="1050.5" r="4.4"/><circle cx="483.3" cy="1143.0" r="4.4"/><circle cx="261.3" cy="907.4" r="4.4"/><circle cx="383.9" cy="1072.7" r="4.4"/><circle cx="540.7" cy="1191.8" r="4.4"/><circle cx="597.8" cy="1148.5" r="4.4"/><circle cx="488.0" cy="1087.4" r="4.4"/><circle cx="377.3" cy="999.9" r="4.4"/><circle cx="444.9" cy="1151.1" r="4.4"/><circle cx="450.3" cy="1114.7" r="4.4"/><circle cx="465.1" cy="1153.7" r="4.4"/><circle cx="343.3" cy="1038.3" r="4.4"/><circle cx="356.0" cy="1098.4" r="4.4"/><circle cx="537.9" cy="1140.2" r="4.4"/><circle cx="567.5" cy="1154.0" r="4.4"/><circle cx="632.3" cy="1171.1" r="4.4"/><circle cx="280.2" cy="993.0" r="4.4"/><circle cx="323.1" cy="908.0" r="4.4"/><circle cx="414.3" cy="1084.5" r="4.4"/><circle cx="281.2" cy="1094.5" r="4.4"/><circle cx="527.7" cy="1108.4" r="4.4"/><circle cx="629.1" cy="1162.4" r="4.4"/><circle cx="242.8" cy="786.5" r="4.4"/><circle cx="628.8" cy="1187.7" r="4.4"/><circle cx="475.8" cy="1122.6" r="4.4"/><circle cx="302.3" cy="1051.5" r="4.4"/><circle cx="472.8" cy="1121.3" r="4.4"/><circle cx="246.6" cy="951.1" r="4.4"/><circle cx="406.0" cy="1123.0" r="4.4"/><circle cx="495.0" cy="1133.6" r="4.4"/><circle cx="422.0" cy="1059.6" r="4.4"/><circle cx="276.9" cy="1003.5" r="4.4"/><circle cx="308.0" cy="1092.1" r="4.4"/><circle cx="327.6" cy="982.6" r="4.4"/><circle cx="350.5" cy="1090.6" r="4.4"/><circle cx="506.0" cy="1132.4" r="4.4"/><circle cx="502.5" cy="1127.8" r="4.4"/><circle cx="238.0" cy="735.9" r="4.4"/><circle cx="463.5" cy="1086.5" r="4.4"/><circle cx="608.8" cy="1183.5" r="4.4"/><circle cx="220.1" cy="890.1" r="4.4"/><circle cx="445.2" cy="1164.4" r="4.4"/><circle cx="384.3" cy="957.2" r="4.4"/><circle cx="308.0" cy="934.5" r="4.4"/><circle cx="287.0" cy="795.6" r="4.4"/><circle cx="577.5" cy="1176.7" r="4.4"/><circle cx="536.7" cy="1183.2" r="4.4"/><circle cx="322.1" cy="845.7" r="4.4"/><circle cx="437.2" cy="1080.4" r="4.4"/><circle cx="407.7" cy="1100.5" r="4.4"/><circle cx="648.2" cy="1175.6" r="4.4"/><circle cx="299.6" cy="920.3" r="4.4"/><circle cx="337.1" cy="968.1" r="4.4"/><circle cx="665.2" cy="1192.9" r="4.4"/><circle cx="369.6" cy="975.5" r="4.4"/><circle cx="302.1" cy="1024.7" r="4.4"/><circle cx="386.6" cy="1057.0" r="4.4"/><circle cx="383.0" cy="945.0" r="4.4"/><circle cx="610.1" cy="1161.8" r="4.4"/><circle cx="393.4" cy="1093.2" r="4.4"/><circle cx="349.5" cy="1100.3" r="4.4"/><circle cx="317.7" cy="980.1" r="4.4"/><circle cx="436.8" cy="1102.2" r="4.4"/><circle cx="259.9" cy="935.9" r="4.4"/><circle cx="336.3" cy="1103.1" r="4.4"/><circle cx="300.4" cy="1045.3" r="4.4"/><circle cx="308.2" cy="1083.5" r="4.4"/><circle cx="241.7" cy="901.0" r="4.4"/><circle cx="546.5" cy="1156.0" r="4.4"/><circle cx="325.1" cy="937.7" r="4.4"/><circle cx="369.2" cy="1079.8" r="4.4"/><circle cx="424.6" cy="1079.2" r="4.4"/><circle cx="385.4" cy="1041.9" r="4.4"/><circle cx="400.4" cy="1115.1" r="4.4"/><circle cx="285.9" cy="965.5" r="4.4"/><circle cx="345.6" cy="864.6" r="4.4"/><circle cx="314.1" cy="1007.5" r="4.4"/><circle cx="355.5" cy="971.2" r="4.4"/><circle cx="411.0" cy="1095.7" r="4.4"/><circle cx="613.5" cy="1157.5" r="4.4"/><circle cx="253.6" cy="1052.7" r="4.4"/><circle cx="284.4" cy="981.3" r="4.4"/><circle cx="572.7" cy="1155.7" r="4.4"/><circle cx="268.1" cy="784.8" r="4.4"/><circle cx="389.4" cy="1012.6" r="4.4"/><circle cx="545.6" cy="1158.2" r="4.4"/><circle cx="252.5" cy="934.7" r="4.4"/><circle cx="442.0" cy="1143.4" r="4.4"/><circle cx="387.2" cy="1065.1" r="4.4"/><circle cx="467.2" cy="1102.2" r="4.4"/><circle cx="394.0" cy="1120.9" r="4.4"/><circle cx="559.1" cy="1163.7" r="4.4"/><circle cx="339.9" cy="1084.1" r="4.4"/><circle cx="555.8" cy="1172.2" r="4.4"/><circle cx="685.6" cy="1190.8" r="4.4"/><circle cx="384.9" cy="1128.7" r="4.4"/><circle cx="383.5" cy="1146.5" r="4.4"/><circle cx="392.1" cy="1027.2" r="4.4"/><circle cx="378.2" cy="1065.3" r="4.4"/><circle cx="147.7" cy="713.6" r="4.4"/><circle cx="319.8" cy="917.8" r="4.4"/><circle cx="468.6" cy="1096.2" r="4.4"/><circle cx="307.5" cy="1013.7" r="4.4"/><circle cx="483.2" cy="1100.9" r="4.4"/><circle cx="308.7" cy="967.3" r="4.4"/><circle cx="687.4" cy="1157.5" r="4.4"/><circle cx="396.1" cy="1053.0" r="4.4"/><circle cx="358.4" cy="1090.6" r="4.4"/><circle cx="555.0" cy="1160.6" r="4.4"/><circle cx="371.0" cy="1068.1" r="4.4"/><circle cx="377.6" cy="1028.6" r="4.4"/><circle cx="342.6" cy="1049.7" r="4.4"/><circle cx="521.7" cy="1172.1" r="4.4"/><circle cx="547.7" cy="1157.4" r="4.4"/><circle cx="658.0" cy="1137.1" r="4.4"/><circle cx="424.8" cy="1088.3" r="4.4"/><circle cx="470.8" cy="1074.1" r="4.4"/><circle cx="445.5" cy="1120.8" r="4.4"/><circle cx="492.2" cy="1147.3" r="4.4"/><circle cx="515.0" cy="1136.0" r="4.4"/><circle cx="424.4" cy="1102.4" r="4.4"/><circle cx="304.2" cy="1005.1" r="4.4"/><circle cx="586.8" cy="1149.5" r="4.4"/><circle cx="337.6" cy="1037.7" r="4.4"/><circle cx="411.5" cy="1124.4" r="4.4"/><circle cx="554.8" cy="1130.0" r="4.4"/><circle cx="364.4" cy="895.7" r="4.4"/><circle cx="448.9" cy="1125.0" r="4.4"/><circle cx="281.4" cy="829.1" r="4.4"/><circle cx="429.2" cy="1125.4" r="4.4"/><circle cx="363.5" cy="1072.1" r="4.4"/><circle cx="540.9" cy="1164.3" r="4.4"/><circle cx="364.9" cy="1025.9" r="4.4"/><circle cx="501.2" cy="1116.1" r="4.4"/><circle cx="463.0" cy="1135.4" r="4.4"/><circle cx="508.3" cy="1098.8" r="4.4"/><circle cx="501.1" cy="1169.6" r="4.4"/><circle cx="582.7" cy="1172.4" r="4.4"/><circle cx="489.0" cy="1122.9" r="4.4"/><circle cx="361.1" cy="1005.9" r="4.4"/><circle cx="369.4" cy="1024.3" r="4.4"/><circle cx="604.0" cy="1195.2" r="4.4"/><circle cx="317.7" cy="955.9" r="4.4"/><circle cx="297.0" cy="1050.5" r="4.4"/><circle cx="444.8" cy="961.3" r="4.4"/><circle cx="350.8" cy="1042.1" r="4.4"/><circle cx="389.8" cy="1045.9" r="4.4"/><circle cx="320.1" cy="1062.0" r="4.4"/><circle cx="346.4" cy="1043.1" r="4.4"/><circle cx="411.7" cy="1128.9" r="4.4"/><circle cx="399.6" cy="1040.1" r="4.4"/><circle cx="380.3" cy="1066.3" r="4.4"/><circle cx="254.1" cy="852.2" r="4.4"/><circle cx="269.0" cy="970.6" r="4.4"/><circle cx="445.8" cy="1154.0" r="4.4"/><circle cx="410.0" cy="1024.9" r="4.4"/><circle cx="404.0" cy="1102.8" r="4.4"/><circle cx="385.8" cy="1146.9" r="4.4"/><circle cx="422.8" cy="1084.3" r="4.4"/><circle cx="465.5" cy="1121.4" r="4.4"/><circle cx="624.5" cy="1156.2" r="4.4"/><circle cx="321.2" cy="941.2" r="4.4"/><circle cx="316.4" cy="1031.2" r="4.4"/><circle cx="395.8" cy="1014.9" r="4.4"/><circle cx="477.4" cy="1135.8" r="4.4"/><circle cx="300.4" cy="821.9" r="4.4"/><circle cx="513.5" cy="1114.8" r="4.4"/><circle cx="404.1" cy="1112.6" r="4.4"/><circle cx="243.6" cy="937.5" r="4.4"/><circle cx="683.5" cy="1164.0" r="4.4"/><circle cx="282.2" cy="939.6" r="4.4"/><circle cx="335.2" cy="903.3" r="4.4"/><circle cx="405.7" cy="1135.0" r="4.4"/><circle cx="469.9" cy="1131.8" r="4.4"/><circle cx="416.8" cy="1137.3" r="4.4"/><circle cx="472.1" cy="1143.5" r="4.4"/><circle cx="379.7" cy="1121.9" r="4.4"/><circle cx="411.9" cy="964.1" r="4.4"/><circle cx="438.6" cy="1117.3" r="4.4"/><circle cx="402.5" cy="1050.9" r="4.4"/><circle cx="532.8" cy="1173.7" r="4.4"/><circle cx="289.5" cy="850.9" r="4.4"/><circle cx="377.2" cy="1137.4" r="4.4"/><circle cx="401.4" cy="1095.6" r="4.4"/><circle cx="355.8" cy="829.7" r="4.4"/><circle cx="338.6" cy="1079.2" r="4.4"/><circle cx="257.7" cy="937.7" r="4.4"/><circle cx="387.8" cy="1028.4" r="4.4"/><circle cx="538.8" cy="1172.6" r="4.4"/><circle cx="327.5" cy="999.9" r="4.4"/><circle cx="379.6" cy="1007.4" r="4.4"/><circle cx="247.7" cy="900.1" r="4.4"/><circle cx="446.9" cy="1072.7" r="4.4"/><circle cx="411.5" cy="1104.5" r="4.4"/><circle cx="360.9" cy="1028.8" r="4.4"/><circle cx="317.2" cy="1010.7" r="4.4"/><circle cx="352.4" cy="935.8" r="4.4"/><circle cx="278.4" cy="873.3" r="4.4"/><circle cx="622.4" cy="1165.7" r="4.4"/><circle cx="476.6" cy="1170.4" r="4.4"/><circle cx="533.0" cy="1152.3" r="4.4"/><circle cx="476.8" cy="1101.0" r="4.4"/><circle cx="497.4" cy="1180.1" r="4.4"/><circle cx="518.7" cy="1179.5" r="4.4"/><circle cx="344.9" cy="1089.7" r="4.4"/><circle cx="289.2" cy="887.9" r="4.4"/><circle cx="263.6" cy="1017.3" r="4.4"/><circle cx="329.1" cy="1050.2" r="4.4"/><circle cx="291.7" cy="962.7" r="4.4"/><circle cx="323.5" cy="877.1" r="4.4"/><circle cx="264.8" cy="929.0" r="4.4"/><circle cx="302.4" cy="974.9" r="4.4"/><circle cx="236.4" cy="951.9" r="4.4"/><circle cx="540.0" cy="1112.4" r="4.4"/><circle cx="606.9" cy="1146.7" r="4.4"/><circle cx="265.9" cy="931.2" r="4.4"/><circle cx="345.9" cy="1065.0" r="4.4"/><circle cx="423.4" cy="1125.3" r="4.4"/><circle cx="596.0" cy="1159.1" r="4.4"/><circle cx="293.2" cy="1024.8" r="4.4"/><circle cx="409.2" cy="1091.4" r="4.4"/><circle cx="315.6" cy="989.1" r="4.4"/><circle cx="217.6" cy="835.5" r="4.4"/><circle cx="408.9" cy="1048.4" r="4.4"/><circle cx="309.7" cy="958.7" r="4.4"/><circle cx="270.1" cy="996.1" r="4.4"/><circle cx="262.3" cy="946.0" r="4.4"/><circle cx="490.8" cy="1064.2" r="4.4"/><circle cx="409.4" cy="1107.0" r="4.4"/><circle cx="259.7" cy="949.0" r="4.4"/><circle cx="547.5" cy="1135.7" r="4.4"/><circle cx="352.0" cy="1058.4" r="4.4"/><circle cx="354.1" cy="1059.2" r="4.4"/><circle cx="574.8" cy="1180.4" r="4.4"/><circle cx="356.3" cy="1011.9" r="4.4"/><circle cx="353.8" cy="965.5" r="4.4"/><circle cx="523.1" cy="1128.7" r="4.4"/><circle cx="585.5" cy="1152.9" r="4.4"/><circle cx="346.2" cy="943.7" r="4.4"/><circle cx="556.6" cy="1157.0" r="4.4"/><circle cx="435.9" cy="1092.5" r="4.4"/><circle cx="312.4" cy="1049.2" r="4.4"/><circle cx="362.5" cy="1038.7" r="4.4"/><circle cx="448.4" cy="1076.6" r="4.4"/><circle cx="220.0" cy="729.2" r="4.4"/><circle cx="341.2" cy="1038.2" r="4.4"/><circle cx="271.5" cy="802.9" r="4.4"/><circle cx="577.6" cy="1179.3" r="4.4"/><circle cx="385.9" cy="1092.4" r="4.4"/><circle cx="373.7" cy="1055.2" r="4.4"/><circle cx="556.9" cy="1177.2" r="4.4"/><circle cx="424.9" cy="1101.2" r="4.4"/><circle cx="356.5" cy="1017.6" r="4.4"/><circle cx="593.8" cy="1159.7" r="4.4"/><circle cx="203.9" cy="767.5" r="4.4"/><circle cx="463.2" cy="1135.3" r="4.4"/><circle cx="360.4" cy="1038.4" r="4.4"/><circle cx="414.2" cy="1122.7" r="4.4"/><circle cx="281.9" cy="944.7" r="4.4"/><circle cx="495.0" cy="1195.2" r="4.4"/><circle cx="444.6" cy="1136.6" r="4.4"/><circle cx="401.4" cy="1094.7" r="4.4"/><circle cx="325.1" cy="998.1" r="4.4"/><circle cx="267.9" cy="1053.5" r="4.4"/><circle cx="474.9" cy="1146.9" r="4.4"/><circle cx="219.4" cy="899.6" r="4.4"/><circle cx="452.9" cy="1103.7" r="4.4"/><circle cx="433.8" cy="1091.4" r="4.4"/><circle cx="523.1" cy="1110.8" r="4.4"/><circle cx="515.1" cy="1127.4" r="4.4"/><circle cx="564.7" cy="1153.3" r="4.4"/><circle cx="419.7" cy="1074.3" r="4.4"/><circle cx="389.0" cy="1105.2" r="4.4"/><circle cx="323.9" cy="1089.6" r="4.4"/><circle cx="384.7" cy="1081.8" r="4.4"/><circle cx="288.3" cy="948.2" r="4.4"/><circle cx="309.8" cy="976.0" r="4.4"/><circle cx="525.7" cy="1138.6" r="4.4"/><circle cx="266.0" cy="946.1" r="4.4"/><circle cx="312.6" cy="946.5" r="4.4"/><circle cx="262.1" cy="901.0" r="4.4"/><circle cx="331.8" cy="989.2" r="4.4"/><circle cx="496.8" cy="1132.7" r="4.4"/><circle cx="289.7" cy="1005.1" r="4.4"/><circle cx="337.1" cy="1072.6" r="4.4"/><circle cx="282.6" cy="917.9" r="4.4"/><circle cx="270.4" cy="909.3" r="4.4"/><circle cx="266.2" cy="958.2" r="4.4"/><circle cx="396.6" cy="1106.1" r="4.4"/><circle cx="440.6" cy="1013.0" r="4.4"/><circle cx="349.5" cy="1055.7" r="4.4"/><circle cx="478.6" cy="1140.0" r="4.4"/><circle cx="360.3" cy="1029.1" r="4.4"/><circle cx="421.9" cy="1132.5" r="4.4"/><circle cx="364.9" cy="1041.9" r="4.4"/><circle cx="340.2" cy="866.1" r="4.4"/><circle cx="318.0" cy="921.1" r="4.4"/><circle cx="355.5" cy="1010.0" r="4.4"/><circle cx="181.1" cy="712.8" r="4.4"/><circle cx="148.6" cy="753.8" r="4.4"/><circle cx="434.8" cy="1053.2" r="4.4"/><circle cx="304.7" cy="1023.0" r="4.4"/><circle cx="454.7" cy="1143.6" r="4.4"/><circle cx="422.4" cy="1079.5" r="4.4"/><circle cx="419.7" cy="1056.6" r="4.4"/><circle cx="331.0" cy="1000.7" r="4.4"/><circle cx="281.9" cy="887.8" r="4.4"/><circle cx="632.2" cy="1195.2" r="4.4"/><circle cx="286.7" cy="838.2" r="4.4"/><circle cx="280.4" cy="796.0" r="4.4"/><circle cx="362.3" cy="958.5" r="4.4"/><circle cx="451.8" cy="1133.9" r="4.4"/><circle cx="566.4" cy="1166.0" r="4.4"/><circle cx="460.9" cy="1102.2" r="4.4"/><circle cx="483.6" cy="1164.8" r="4.4"/><circle cx="412.8" cy="1035.4" r="4.4"/><circle cx="404.5" cy="1110.6" r="4.4"/><circle cx="593.6" cy="1184.2" r="4.4"/><circle cx="639.5" cy="1184.6" r="4.4"/><circle cx="442.4" cy="1135.3" r="4.4"/><circle cx="402.6" cy="1069.5" r="4.4"/><circle cx="549.3" cy="1177.2" r="4.4"/><circle cx="334.3" cy="1099.8" r="4.4"/><circle cx="434.0" cy="1137.9" r="4.4"/><circle cx="647.4" cy="1153.9" r="4.4"/><circle cx="254.2" cy="800.3" r="4.4"/><circle cx="640.5" cy="1158.1" r="4.4"/><circle cx="451.7" cy="1081.5" r="4.4"/><circle cx="336.9" cy="863.4" r="4.4"/><circle cx="384.2" cy="1023.1" r="4.4"/><circle cx="330.0" cy="978.6" r="4.4"/><circle cx="439.9" cy="1112.3" r="4.4"/><circle cx="291.4" cy="1027.9" r="4.4"/><circle cx="338.7" cy="989.2" r="4.4"/><circle cx="145.1" cy="789.3" r="4.4"/><circle cx="265.4" cy="859.4" r="4.4"/><circle cx="545.0" cy="1109.6" r="4.4"/><circle cx="534.7" cy="1136.4" r="4.4"/><circle cx="278.1" cy="921.5" r="4.4"/><circle cx="323.1" cy="845.4" r="4.4"/><circle cx="275.5" cy="1032.8" r="4.4"/><circle cx="419.0" cy="1128.3" r="4.4"/><circle cx="301.2" cy="1000.9" r="4.4"/><circle cx="302.5" cy="1020.8" r="4.4"/><circle cx="418.9" cy="1068.0" r="4.4"/><circle cx="451.3" cy="1113.0" r="4.4"/><circle cx="298.1" cy="789.7" r="4.4"/><circle cx="282.2" cy="776.5" r="4.4"/><circle cx="410.9" cy="1065.4" r="4.4"/><circle cx="321.3" cy="1028.1" r="4.4"/><circle cx="516.2" cy="1131.5" r="4.4"/><circle cx="454.8" cy="1101.7" r="4.4"/><circle cx="382.5" cy="1112.6" r="4.4"/><circle cx="324.4" cy="989.5" r="4.4"/><circle cx="357.4" cy="986.4" r="4.4"/><circle cx="284.6" cy="952.4" r="4.4"/><circle cx="565.5" cy="1132.5" r="4.4"/><circle cx="523.3" cy="1106.1" r="4.4"/><circle cx="307.0" cy="1037.5" r="4.4"/><circle cx="305.4" cy="998.4" r="4.4"/><circle cx="446.8" cy="1133.5" r="4.4"/><circle cx="471.3" cy="1097.6" r="4.4"/><circle cx="316.5" cy="1056.2" r="4.4"/><circle cx="505.3" cy="1108.7" r="4.4"/><circle cx="405.8" cy="1058.4" r="4.4"/><circle cx="542.2" cy="1135.8" r="4.4"/><circle cx="412.8" cy="1098.2" r="4.4"/><circle cx="442.3" cy="1152.8" r="4.4"/><circle cx="456.3" cy="1052.5" r="4.4"/><circle cx="430.8" cy="1107.3" r="4.4"/><circle cx="360.9" cy="939.4" r="4.4"/><circle cx="444.0" cy="1091.1" r="4.4"/><circle cx="487.9" cy="1123.6" r="4.4"/><circle cx="383.1" cy="940.1" r="4.4"/><circle cx="408.4" cy="1066.0" r="4.4"/><circle cx="565.3" cy="1163.5" r="4.4"/><circle cx="383.0" cy="1130.1" r="4.4"/><circle cx="388.1" cy="1032.5" r="4.4"/><circle cx="497.6" cy="1148.5" r="4.4"/><circle cx="346.3" cy="1042.0" r="4.4"/><circle cx="283.1" cy="962.6" r="4.4"/><circle cx="319.1" cy="987.5" r="4.4"/><circle cx="295.5" cy="784.0" r="4.4"/><circle cx="319.0" cy="1093.5" r="4.4"/><circle cx="333.4" cy="1036.2" r="4.4"/><circle cx="348.5" cy="1070.0" r="4.4"/><circle cx="255.8" cy="797.8" r="4.4"/><circle cx="424.3" cy="1089.1" r="4.4"/><circle cx="383.5" cy="1047.5" r="4.4"/><circle cx="362.1" cy="1071.3" r="4.4"/><circle cx="308.4" cy="932.1" r="4.4"/><circle cx="321.7" cy="922.1" r="4.4"/><circle cx="468.5" cy="1136.4" r="4.4"/><circle cx="471.3" cy="1105.7" r="4.4"/><circle cx="242.7" cy="1020.6" r="4.4"/><circle cx="478.0" cy="1112.4" r="4.4"/><circle cx="491.7" cy="1101.7" r="4.4"/><circle cx="234.4" cy="963.5" r="4.4"/><circle cx="375.5" cy="966.2" r="4.4"/><circle cx="578.6" cy="1173.7" r="4.4"/><circle cx="320.6" cy="1085.2" r="4.4"/><circle cx="441.6" cy="1155.8" r="4.4"/><circle cx="267.3" cy="970.4" r="4.4"/><circle cx="494.3" cy="1133.5" r="4.4"/><circle cx="514.8" cy="1156.9" r="4.4"/><circle cx="641.0" cy="1140.2" r="4.4"/><circle cx="305.3" cy="915.8" r="4.4"/><circle cx="572.3" cy="1173.6" r="4.4"/><circle cx="304.0" cy="1060.0" r="4.4"/><circle cx="404.7" cy="1112.1" r="4.4"/><circle cx="281.0" cy="772.8" r="4.4"/><circle cx="369.6" cy="1127.8" r="4.4"/><circle cx="421.6" cy="1085.7" r="4.4"/><circle cx="359.4" cy="916.9" r="4.4"/><circle cx="320.9" cy="983.3" r="4.4"/><circle cx="487.7" cy="1158.6" r="4.4"/><circle cx="325.8" cy="1021.4" r="4.4"/><circle cx="273.0" cy="854.5" r="4.4"/><circle cx="304.0" cy="849.4" r="4.4"/><circle cx="402.7" cy="1104.7" r="4.4"/><circle cx="270.5" cy="878.1" r="4.4"/><circle cx="544.0" cy="1158.6" r="4.4"/><circle cx="581.0" cy="1138.0" r="4.4"/><circle cx="548.9" cy="1142.3" r="4.4"/><circle cx="455.9" cy="1129.1" r="4.4"/><circle cx="342.2" cy="1091.9" r="4.4"/><circle cx="478.9" cy="1145.9" r="4.4"/><circle cx="488.4" cy="1071.4" r="4.4"/><circle cx="480.5" cy="1109.8" r="4.4"/><circle cx="404.3" cy="1064.9" r="4.4"/><circle cx="301.9" cy="699.5" r="4.4"/><circle cx="328.5" cy="1080.2" r="4.4"/><circle cx="307.9" cy="917.1" r="4.4"/><circle cx="297.3" cy="1014.6" r="4.4"/><circle cx="422.3" cy="1093.4" r="4.4"/><circle cx="335.1" cy="1011.3" r="4.4"/><circle cx="518.3" cy="1091.0" r="4.4"/><circle cx="302.3" cy="1026.9" r="4.4"/><circle cx="472.4" cy="1150.0" r="4.4"/><circle cx="594.3" cy="1190.1" r="4.4"/><circle cx="319.3" cy="941.5" r="4.4"/><circle cx="292.8" cy="1010.2" r="4.4"/><circle cx="327.3" cy="961.5" r="4.4"/><circle cx="499.2" cy="1138.3" r="4.4"/><circle cx="497.4" cy="1155.0" r="4.4"/><circle cx="537.4" cy="1141.3" r="4.4"/><circle cx="302.2" cy="994.7" r="4.4"/><circle cx="419.1" cy="1079.0" r="4.4"/><circle cx="438.1" cy="1101.3" r="4.4"/><circle cx="358.5" cy="1066.2" r="4.4"/><circle cx="327.1" cy="1079.5" r="4.4"/><circle cx="432.1" cy="1068.8" r="4.4"/><circle cx="383.9" cy="1059.9" r="4.4"/><circle cx="674.6" cy="1159.0" r="4.4"/><circle cx="362.6" cy="1142.5" r="4.4"/><circle cx="346.4" cy="1085.7" r="4.4"/><circle cx="283.5" cy="1119.2" r="4.4"/><circle cx="329.7" cy="1071.9" r="4.4"/><circle cx="252.6" cy="787.2" r="4.4"/><circle cx="228.2" cy="835.3" r="4.4"/><circle cx="317.5" cy="994.3" r="4.4"/><circle cx="312.0" cy="967.3" r="4.4"/><circle cx="460.5" cy="1108.8" r="4.4"/><circle cx="466.3" cy="1129.5" r="4.4"/><circle cx="308.4" cy="972.8" r="4.4"/><circle cx="324.1" cy="990.6" r="4.4"/><circle cx="331.2" cy="1113.3" r="4.4"/><circle cx="585.2" cy="1168.5" r="4.4"/><circle cx="500.7" cy="1089.2" r="4.4"/><circle cx="265.6" cy="966.0" r="4.4"/><circle cx="468.2" cy="1111.5" r="4.4"/><circle cx="391.1" cy="1087.9" r="4.4"/><circle cx="543.7" cy="1180.7" r="4.4"/><circle cx="300.7" cy="869.2" r="4.4"/><circle cx="278.3" cy="969.8" r="4.4"/><circle cx="307.0" cy="1072.0" r="4.4"/><circle cx="311.3" cy="1113.2" r="4.4"/><circle cx="562.1" cy="1168.7" r="4.4"/><circle cx="462.9" cy="1155.9" r="4.4"/><circle cx="216.4" cy="1039.7" r="4.4"/><circle cx="284.9" cy="882.9" r="4.4"/><circle cx="276.0" cy="875.3" r="4.4"/><circle cx="272.1" cy="1075.9" r="4.4"/><circle cx="283.6" cy="874.2" r="4.4"/><circle cx="284.4" cy="947.2" r="4.4"/><circle cx="341.1" cy="1049.3" r="4.4"/><circle cx="281.9" cy="900.8" r="4.4"/><circle cx="343.4" cy="1132.0" r="4.4"/><circle cx="346.0" cy="1101.9" r="4.4"/><circle cx="289.9" cy="1072.1" r="4.4"/><circle cx="332.6" cy="1068.9" r="4.4"/><circle cx="383.4" cy="1027.9" r="4.4"/><circle cx="342.1" cy="1087.8" r="4.4"/><circle cx="294.5" cy="1062.4" r="4.4"/><circle cx="438.0" cy="1104.0" r="4.4"/><circle cx="280.7" cy="932.0" r="4.4"/><circle cx="358.2" cy="1033.8" r="4.4"/><circle cx="528.6" cy="1150.9" r="4.4"/><circle cx="285.5" cy="1007.0" r="4.4"/><circle cx="317.0" cy="1085.9" r="4.4"/><circle cx="381.2" cy="1077.8" r="4.4"/><circle cx="301.5" cy="970.1" r="4.4"/><circle cx="335.4" cy="1091.5" r="4.4"/><circle cx="498.8" cy="1150.9" r="4.4"/><circle cx="237.8" cy="762.1" r="4.4"/><circle cx="300.7" cy="1042.4" r="4.4"/><circle cx="505.8" cy="1153.7" r="4.4"/><circle cx="306.3" cy="869.4" r="4.4"/><circle cx="300.4" cy="1045.7" r="4.4"/><circle cx="144.8" cy="871.9" r="4.4"/><circle cx="326.4" cy="1064.2" r="4.4"/><circle cx="357.9" cy="1036.1" r="4.4"/><circle cx="447.6" cy="1104.4" r="4.4"/><circle cx="425.8" cy="1104.3" r="4.4"/><circle cx="336.5" cy="1021.8" r="4.4"/><circle cx="396.2" cy="1015.6" r="4.4"/><circle cx="447.9" cy="1072.8" r="4.4"/><circle cx="355.5" cy="1091.5" r="4.4"/><circle cx="279.0" cy="948.4" r="4.4"/><circle cx="470.6" cy="1127.9" r="4.4"/><circle cx="322.8" cy="924.5" r="4.4"/><circle cx="428.3" cy="1085.6" r="4.4"/><circle cx="221.8" cy="951.7" r="4.4"/><circle cx="511.6" cy="1156.8" r="4.4"/><circle cx="381.0" cy="1111.6" r="4.4"/><circle cx="482.7" cy="1145.7" r="4.4"/><circle cx="224.0" cy="939.5" r="4.4"/><circle cx="315.1" cy="962.5" r="4.4"/><circle cx="500.3" cy="1169.2" r="4.4"/><circle cx="264.5" cy="979.9" r="4.4"/><circle cx="361.1" cy="1112.5" r="4.4"/><circle cx="438.4" cy="1144.3" r="4.4"/><circle cx="200.6" cy="777.6" r="4.4"/><circle cx="307.9" cy="993.1" r="4.4"/><circle cx="298.3" cy="923.2" r="4.4"/><circle cx="251.3" cy="997.5" r="4.4"/><circle cx="683.2" cy="1159.9" r="4.4"/><circle cx="383.3" cy="1113.2" r="4.4"/><circle cx="330.6" cy="1028.4" r="4.4"/><circle cx="399.9" cy="1086.5" r="4.4"/><circle cx="367.0" cy="1006.3" r="4.4"/><circle cx="441.0" cy="1116.9" r="4.4"/><circle cx="364.0" cy="1053.2" r="4.4"/><circle cx="255.1" cy="840.3" r="4.4"/><circle cx="242.2" cy="906.4" r="4.4"/><circle cx="263.6" cy="899.3" r="4.4"/><circle cx="306.3" cy="919.1" r="4.4"/><circle cx="310.3" cy="986.0" r="4.4"/><circle cx="444.9" cy="1140.0" r="4.4"/><circle cx="589.8" cy="1141.8" r="4.4"/><circle cx="461.6" cy="1114.2" r="4.4"/><circle cx="494.5" cy="1137.1" r="4.4"/><circle cx="257.3" cy="807.2" r="4.4"/><circle cx="294.1" cy="898.3" r="4.4"/><circle cx="306.1" cy="1004.2" r="4.4"/><circle cx="270.1" cy="1045.5" r="4.4"/><circle cx="372.2" cy="1075.1" r="4.4"/><circle cx="277.4" cy="963.0" r="4.4"/><circle cx="325.5" cy="948.8" r="4.4"/><circle cx="441.4" cy="1120.4" r="4.4"/><circle cx="353.4" cy="1036.2" r="4.4"/><circle cx="277.9" cy="880.9" r="4.4"/><circle cx="528.4" cy="1150.9" r="4.4"/><circle cx="526.9" cy="1149.8" r="4.4"/><circle cx="347.9" cy="886.4" r="4.4"/><circle cx="596.1" cy="1147.5" r="4.4"/><circle cx="386.1" cy="1048.4" r="4.4"/><circle cx="302.6" cy="968.6" r="4.4"/><circle cx="407.3" cy="1120.6" r="4.4"/><circle cx="342.6" cy="975.5" r="4.4"/><circle cx="376.1" cy="1036.7" r="4.4"/><circle cx="495.3" cy="1130.8" r="4.4"/><circle cx="361.6" cy="1083.6" r="4.4"/><circle cx="332.6" cy="1030.1" r="4.4"/><circle cx="450.8" cy="1124.8" r="4.4"/><circle cx="386.4" cy="1036.2" r="4.4"/><circle cx="467.8" cy="1075.1" r="4.4"/><circle cx="395.8" cy="1062.0" r="4.4"/><circle cx="334.1" cy="1110.7" r="4.4"/><circle cx="330.3" cy="1058.7" r="4.4"/><circle cx="210.6" cy="1006.9" r="4.4"/><circle cx="312.1" cy="1048.0" r="4.4"/><circle cx="482.3" cy="1119.4" r="4.4"/><circle cx="352.4" cy="992.4" r="4.4"/><circle cx="362.6" cy="1080.0" r="4.4"/><circle cx="343.0" cy="990.8" r="4.4"/><circle cx="440.1" cy="1114.6" r="4.4"/><circle cx="475.9" cy="1157.4" r="4.4"/><circle cx="527.0" cy="1159.6" r="4.4"/><circle cx="357.5" cy="1086.8" r="4.4"/><circle cx="289.1" cy="831.6" r="4.4"/><circle cx="330.5" cy="1090.0" r="4.4"/><circle cx="210.9" cy="694.0" r="4.4"/><circle cx="493.7" cy="1098.4" r="4.4"/><circle cx="294.0" cy="991.0" r="4.4"/><circle cx="368.3" cy="1049.3" r="4.4"/><circle cx="236.8" cy="951.6" r="4.4"/><circle cx="359.7" cy="1089.4" r="4.4"/><circle cx="314.6" cy="943.8" r="4.4"/><circle cx="336.4" cy="1047.2" r="4.4"/><circle cx="281.3" cy="858.3" r="4.4"/><circle cx="296.1" cy="875.5" r="4.4"/><circle cx="481.7" cy="1124.9" r="4.4"/><circle cx="285.9" cy="920.8" r="4.4"/><circle cx="291.9" cy="1002.6" r="4.4"/><circle cx="662.8" cy="1162.4" r="4.4"/></g>
<polygon points="135.5,697.7 142.6,712.9 149.7,727.8 156.8,742.3 163.8,756.5 170.9,770.4 178.0,784.0 185.1,797.2 192.1,810.2 199.2,822.9 206.3,835.2 213.3,847.3 220.4,859.1 227.5,870.5 234.6,881.8 241.6,892.7 248.7,903.3 255.8,913.7 262.9,923.9 269.9,933.7 277.0,943.3 284.1,952.7 291.2,961.8 298.2,970.7 305.3,979.3 312.4,987.7 319.4,995.8 326.5,1003.8 333.6,1011.5 340.7,1019.0 347.7,1026.2 354.8,1033.3 361.9,1040.2 369.0,1046.8 376.0,1053.3 383.1,1059.5 390.2,1065.6 397.3,1071.5 404.3,1077.2 411.4,1082.7 418.5,1088.1 425.5,1093.3 432.6,1098.2 439.7,1103.0 446.8,1107.6 453.8,1112.1 460.9,1116.3 468.0,1120.3 475.1,1124.2 482.1,1127.9 489.2,1131.3 496.3,1134.6 503.4,1137.7 510.4,1140.5 517.5,1143.2 524.6,1145.7 531.6,1148.0 538.7,1150.1 545.8,1151.9 552.9,1153.6 559.9,1155.1 567.0,1156.3 574.1,1157.4 581.2,1158.2 588.2,1158.9 595.3,1159.3 602.4,1159.5 609.5,1159.5 616.5,1159.3 623.6,1158.8 630.7,1158.2 637.7,1157.3 644.8,1156.2 651.9,1154.9 659.0,1153.4 666.0,1151.6 673.1,1149.6 680.2,1147.4 687.3,1145.0 694.3,1142.3 694.3,1182.3 687.3,1182.9 680.2,1183.4 673.1,1183.8 666.0,1184.0 659.0,1184.1 651.9,1184.1 644.8,1183.9 637.7,1183.6 630.7,1183.1 623.6,1182.5 616.5,1181.8 609.5,1180.9 602.4,1179.9 595.3,1178.7 588.2,1177.4 581.2,1176.0 574.1,1174.4 567.0,1172.6 559.9,1170.7 552.9,1168.7 545.8,1166.5 538.7,1164.1 531.6,1161.6 524.6,1158.9 517.5,1156.1 510.4,1153.1 503.4,1149.9 496.3,1146.6 489.2,1143.1 482.1,1139.5 475.1,1135.7 468.0,1131.7 460.9,1127.5 453.8,1123.2 446.8,1118.8 439.7,1114.1 432.6,1109.3 425.5,1104.3 418.5,1099.1 411.4,1093.7 404.3,1088.2 397.3,1082.5 390.2,1076.6 383.1,1070.6 376.0,1064.3 369.0,1057.9 361.9,1051.4 354.8,1044.7 347.7,1037.8 340.7,1030.8 333.6,1023.7 326.5,1016.4 319.4,1008.9 312.4,1001.4 305.3,993.7 298.2,985.9 291.2,977.9 284.1,969.9 277.0,961.7 269.9,953.5 262.9,945.1 255.8,936.6 248.7,928.1 241.6,919.4 234.6,910.7 227.5,901.9 220.4,893.0 213.3,884.0 206.3,875.0 199.2,865.9 192.1,856.7 185.1,847.5 178.0,838.2 170.9,828.9 163.8,819.5 156.8,810.1 149.7,800.7 142.6,791.2 135.5,781.7" fill="#a4a8e2" fill-opacity="0.55"/>
<polyline points="135.5,739.7 142.6,752.1 149.7,764.2 156.8,776.2 163.8,788.0 170.9,799.6 178.0,811.1 185.1,822.4 192.1,833.4 199.2,844.4 206.3,855.1 213.3,865.6 220.4,876.0 227.5,886.2 234.6,896.2 241.6,906.1 248.7,915.7 255.8,925.2 262.9,934.5 269.9,943.6 277.0,952.5 284.1,961.3 291.2,969.9 298.2,978.3 305.3,986.5 312.4,994.5 319.4,1002.4 326.5,1010.1 333.6,1017.6 340.7,1024.9 347.7,1032.0 354.8,1039.0 361.9,1045.8 369.0,1052.4 376.0,1058.8 383.1,1065.1 390.2,1071.1 397.3,1077.0 404.3,1082.7 411.4,1088.2 418.5,1093.6 425.5,1098.8 432.6,1103.8 439.7,1108.6 446.8,1113.2 453.8,1117.6 460.9,1121.9 468.0,1126.0 475.1,1129.9 482.1,1133.7 489.2,1137.2 496.3,1140.6 503.4,1143.8 510.4,1146.8 517.5,1149.6 524.6,1152.3 531.6,1154.8 538.7,1157.1 545.8,1159.2 552.9,1161.1 559.9,1162.9 567.0,1164.5 574.1,1165.9 581.2,1167.1 588.2,1168.2 595.3,1169.0 602.4,1169.7 609.5,1170.2 616.5,1170.5 623.6,1170.7 630.7,1170.7 637.7,1170.4 644.8,1170.0 651.9,1169.5 659.0,1168.7 666.0,1167.8 673.1,1166.7 680.2,1165.4 687.3,1163.9 694.3,1162.3" fill="none" stroke="#48a2f2" stroke-width="9.5" stroke-linecap="butt"/>
<path d="M135.8,664.8 V1218.9 H694.7" stroke="#111" stroke-width="2.6" fill="none"/>
<line x1="126.0" y1="1198.0" x2="135.8" y2="1198.0" stroke="#111" stroke-width="2.2"/>
<text x="105.4" y="1204.7">0</text>
<line x1="126.0" y1="1086.8" x2="135.8" y2="1086.8" stroke="#111" stroke-width="2.2"/>
<text x="49.9" y="1093.5">1,000</text>
<line x1="126.0" y1="975.6" x2="135.8" y2="975.6" stroke="#111" stroke-width="2.2"/>
<text x="49.9" y="982.3">2,000</text>
<line x1="126.0" y1="864.4" x2="135.8" y2="864.4" stroke="#111" stroke-width="2.2"/>
<text x="49.9" y="871.1">3,000</text>
<line x1="126.0" y1="753.2" x2="135.8" y2="753.2" stroke="#111" stroke-width="2.2"/>
<text x="49.9" y="759.9">4,000</text>
<line x1="141.6" y1="1218.9" x2="141.6" y2="1226.5" stroke="#111" stroke-width="2.2"/>
<text x="112.7" y="1256.8" textLength="52.3" lengthAdjust="spacingAndGlyphs">−0.8</text>
<line x1="206.6" y1="1218.9" x2="206.6" y2="1226.5" stroke="#111" stroke-width="2.2"/>
<text x="175.8" y="1256.8" textLength="52.3" lengthAdjust="spacingAndGlyphs">−0.6</text>
<line x1="270.8" y1="1218.9" x2="270.8" y2="1226.5" stroke="#111" stroke-width="2.2"/>
<text x="239.2" y="1256.8" textLength="52.3" lengthAdjust="spacingAndGlyphs">−0.4</text>
<line x1="335.8" y1="1218.9" x2="335.8" y2="1226.5" stroke="#111" stroke-width="2.2"/>
<text x="305.9" y="1256.8" textLength="52.3" lengthAdjust="spacingAndGlyphs">−0.2</text>
<line x1="400.4" y1="1218.9" x2="400.4" y2="1226.5" stroke="#111" stroke-width="2.2"/>
<text x="385.6" y="1256.8" textLength="37.5" lengthAdjust="spacingAndGlyphs">0.0</text>
<line x1="465.3" y1="1218.9" x2="465.3" y2="1226.5" stroke="#111" stroke-width="2.2"/>
<text x="448.4" y="1256.8" textLength="37.5" lengthAdjust="spacingAndGlyphs">0.2</text>
<line x1="529.6" y1="1218.9" x2="529.6" y2="1226.5" stroke="#111" stroke-width="2.2"/>
<text x="511.4" y="1256.8" textLength="37.5" lengthAdjust="spacingAndGlyphs">0.4</text>
<line x1="594.5" y1="1218.9" x2="594.5" y2="1226.5" stroke="#111" stroke-width="2.2"/>
<text x="578.0" y="1256.8" textLength="37.5" lengthAdjust="spacingAndGlyphs">0.6</text>
<line x1="658.8" y1="1218.9" x2="658.8" y2="1226.5" stroke="#111" stroke-width="2.2"/>
<text x="641.5" y="1256.8" textLength="37.5" lengthAdjust="spacingAndGlyphs">0.8</text>
<text x="284.8" y="1295.6" textLength="289.6" lengthAdjust="spacingAndGlyphs">Predicted patient’s risk</text>
<text transform="translate(36.7,1106.0) rotate(-90)" x="-0.0" y="0" textLength="372.4" lengthAdjust="spacingAndGlyphs">Number of low IG superpatch</text>
<text x="717.0" y="656.0" font-size="35" font-weight="bold">e</text>
<clipPath id="c4"><rect x="830.9" y="640" width="544.1" height="577.7"/></clipPath>
<g clip-path="url(#c4)" fill="#4cb04c" fill-opacity="0.32" stroke="#4cb04c" stroke-opacity="0.42" stroke-width="1"><circle cx="1072.5" cy="1109.8" r="4.4"/><circle cx="1303.5" cy="1165.7" r="4.4"/><circle cx="1278.7" cy="1147.8" r="4.4"/><circle cx="1071.6" cy="1146.5" r="4.4"/><circle cx="991.8" cy="1122.1" r="4.4"/><circle cx="1147.8" cy="1148.3" r="4.4"/><circle cx="1001.7" cy="1006.6" r="4.4"/><circle cx="1210.9" cy="1140.4" r="4.4"/><circle cx="1236.0" cy="1117.9" r="4.4"/><circle cx="1076.5" cy="1124.4" r="4.4"/><circle cx="1029.6" cy="1009.2" r="4.4"/><circle cx="1052.9" cy="1062.0" r="4.4"/><circle cx="963.1" cy="1129.0" r="4.4"/><circle cx="1055.5" cy="970.4" r="4.4"/><circle cx="1098.8" cy="1101.3" r="4.4"/><circle cx="1320.3" cy="959.6" r="4.4"/><circle cx="1185.4" cy="1105.8" r="4.4"/><circle cx="1101.2" cy="1076.1" r="4.4"/><circle cx="1209.1" cy="1115.2" r="4.4"/><circle cx="1219.4" cy="1042.0" r="4.4"/><circle cx="1009.6" cy="1067.8" r="4.4"/><circle cx="1036.4" cy="1109.4" r="4.4"/><circle cx="1177.1" cy="1164.3" r="4.4"/><circle cx="994.3" cy="900.7" r="4.4"/><circle cx="1029.2" cy="940.0" r="4.4"/><circle cx="1091.2" cy="916.8" r="4.4"/><circle cx="1020.4" cy="1085.8" r="4.4"/><circle cx="1118.7" cy="1153.4" r="4.4"/><circle cx="1066.5" cy="1054.8" r="4.4"/><circle cx="1120.7" cy="1145.5" r="4.4"/><circle cx="1055.9" cy="1113.0" r="4.4"/><circle cx="969.4" cy="986.7" r="4.4"/><circle cx="1003.5" cy="1120.8" r="4.4"/><circle cx="1046.0" cy="1151.8" r="4.4"/><circle cx="1202.5" cy="1118.2" r="4.4"/><circle cx="1023.3" cy="1169.6" r="4.4"/><circle cx="965.1" cy="1060.3" r="4.4"/><circle cx="1068.0" cy="1140.3" r="4.4"/><circle cx="1183.5" cy="1020.4" r="4.4"/><circle cx="1109.6" cy="1162.6" r="4.4"/><circle cx="1004.5" cy="1154.8" r="4.4"/><circle cx="1314.9" cy="1150.9" r="4.4"/><circle cx="1219.0" cy="1170.7" r="4.4"/><circle cx="1069.3" cy="1092.2" r="4.4"/><circle cx="987.2" cy="1050.6" r="4.4"/><circle cx="1226.2" cy="1138.5" r="4.4"/><circle cx="1064.3" cy="1039.2" r="4.4"/><circle cx="1126.3" cy="1086.2" r="4.4"/><circle cx="1044.3" cy="1082.5" r="4.4"/><circle cx="1256.1" cy="1164.3" r="4.4"/><circle cx="983.2" cy="1113.3" r="4.4"/><circle cx="1122.2" cy="1014.0" r="4.4"/><circle cx="1049.3" cy="989.9" r="4.4"/><circle cx="1016.5" cy="1031.3" r="4.4"/><circle cx="1037.7" cy="1133.9" r="4.4"/><circle cx="990.3" cy="971.2" r="4.4"/><circle cx="1069.2" cy="1129.4" r="4.4"/><circle cx="1057.0" cy="1077.5" r="4.4"/><circle cx="1016.1" cy="889.6" r="4.4"/><circle cx="1033.9" cy="1174.3" r="4.4"/><circle cx="1287.7" cy="1131.8" r="4.4"/><circle cx="1084.7" cy="1011.4" r="4.4"/><circle cx="1167.8" cy="1131.5" r="4.4"/><circle cx="981.6" cy="1175.2" r="4.4"/><circle cx="1005.9" cy="1003.8" r="4.4"/><circle cx="1070.6" cy="953.6" r="4.4"/><circle cx="949.7" cy="970.9" r="4.4"/><circle cx="1070.7" cy="1146.9" r="4.4"/><circle cx="1332.0" cy="1179.3" r="4.4"/><circle cx="963.1" cy="1081.7" r="4.4"/><circle cx="1122.1" cy="882.4" r="4.4"/><circle cx="1010.2" cy="1101.7" r="4.4"/><circle cx="941.9" cy="1032.9" r="4.4"/><circle cx="1157.5" cy="1140.9" r="4.4"/><circle cx="1058.5" cy="1025.6" r="4.4"/><circle cx="1176.4" cy="1066.0" r="4.4"/><circle cx="1296.3" cy="1148.5" r="4.4"/><circle cx="1138.4" cy="931.0" r="4.4"/><circle cx="1060.6" cy="1089.7" r="4.4"/><circle cx="984.5" cy="892.2" r="4.4"/><circle cx="1031.4" cy="1125.6" r="4.4"/><circle cx="1171.1" cy="1165.8" r="4.4"/><circle cx="1102.1" cy="1175.3" r="4.4"/><circle cx="991.7" cy="988.2" r="4.4"/><circle cx="1082.9" cy="1064.1" r="4.4"/><circle cx="1075.9" cy="1110.5" r="4.4"/><circle cx="1191.9" cy="1152.3" r="4.4"/><circle cx="994.8" cy="1121.9" r="4.4"/><circle cx="1067.0" cy="936.2" r="4.4"/><circle cx="1024.8" cy="1029.1" r="4.4"/><circle cx="1056.3" cy="1183.5" r="4.4"/><circle cx="1198.4" cy="1172.2" r="4.4"/><circle cx="1042.4" cy="1165.8" r="4.4"/><circle cx="1193.4" cy="1103.2" r="4.4"/><circle cx="976.1" cy="1087.9" r="4.4"/><circle cx="1100.4" cy="1004.2" r="4.4"/><circle cx="999.9" cy="1119.1" r="4.4"/><circle cx="1101.8" cy="1114.5" r="4.4"/><circle cx="1094.5" cy="1128.2" r="4.4"/><circle cx="923.1" cy="1069.2" r="4.4"/><circle cx="1144.0" cy="1160.9" r="4.4"/><circle cx="1228.9" cy="1152.4" r="4.4"/><circle cx="1051.8" cy="1176.7" r="4.4"/><circle cx="1266.3" cy="1091.1" r="4.4"/><circle cx="991.1" cy="1163.4" r="4.4"/><circle cx="1036.1" cy="1118.1" r="4.4"/><circle cx="1225.8" cy="1131.3" r="4.4"/><circle cx="1172.5" cy="1137.0" r="4.4"/><circle cx="1063.0" cy="1184.5" r="4.4"/><circle cx="1150.1" cy="1071.8" r="4.4"/><circle cx="1239.0" cy="1087.9" r="4.4"/><circle cx="1269.9" cy="1127.2" r="4.4"/><circle cx="1059.7" cy="1111.7" r="4.4"/><circle cx="848.4" cy="1134.9" r="4.4"/><circle cx="973.1" cy="855.4" r="4.4"/><circle cx="1166.7" cy="1152.2" r="4.4"/><circle cx="1166.2" cy="1157.5" r="4.4"/><circle cx="972.0" cy="1028.1" r="4.4"/><circle cx="941.3" cy="946.5" r="4.4"/><circle cx="1279.5" cy="1071.3" r="4.4"/><circle cx="1038.1" cy="1078.8" r="4.4"/><circle cx="1223.2" cy="997.5" r="4.4"/><circle cx="1142.5" cy="1134.4" r="4.4"/><circle cx="1130.7" cy="1053.9" r="4.4"/><circle cx="1301.8" cy="1182.9" r="4.4"/><circle cx="1010.4" cy="1000.8" r="4.4"/><circle cx="1041.7" cy="1081.9" r="4.4"/><circle cx="1064.4" cy="932.9" r="4.4"/><circle cx="998.8" cy="1189.3" r="4.4"/><circle cx="1003.3" cy="1053.0" r="4.4"/><circle cx="980.5" cy="1098.6" r="4.4"/><circle cx="1219.4" cy="1136.3" r="4.4"/><circle cx="972.5" cy="1079.1" r="4.4"/><circle cx="1063.0" cy="1102.9" r="4.4"/><circle cx="1073.6" cy="1005.1" r="4.4"/><circle cx="1036.5" cy="1152.8" r="4.4"/><circle cx="1176.7" cy="1086.0" r="4.4"/><circle cx="1194.5" cy="1042.1" r="4.4"/><circle cx="1171.9" cy="1159.1" r="4.4"/><circle cx="1305.7" cy="996.3" r="4.4"/><circle cx="1147.8" cy="1109.3" r="4.4"/><circle cx="1129.5" cy="1137.9" r="4.4"/><circle cx="1098.1" cy="1038.3" r="4.4"/><circle cx="1047.5" cy="1030.1" r="4.4"/><circle cx="983.7" cy="1067.1" r="4.4"/><circle cx="1172.1" cy="1177.6" r="4.4"/><circle cx="1035.2" cy="995.6" r="4.4"/><circle cx="1017.6" cy="1003.0" r="4.4"/><circle cx="1169.2" cy="1151.3" r="4.4"/><circle cx="956.1" cy="933.6" r="4.4"/><circle cx="930.0" cy="1119.1" r="4.4"/><circle cx="1110.1" cy="1061.7" r="4.4"/><circle cx="1210.2" cy="1176.0" r="4.4"/><circle cx="1131.1" cy="1061.5" r="4.4"/><circle cx="1144.5" cy="1159.6" r="4.4"/><circle cx="1112.2" cy="1167.6" r="4.4"/><circle cx="1004.5" cy="1074.7" r="4.4"/><circle cx="1027.6" cy="930.8" r="4.4"/><circle cx="947.6" cy="1141.8" r="4.4"/><circle cx="932.8" cy="1158.6" r="4.4"/><circle cx="964.8" cy="995.4" r="4.4"/><circle cx="1166.9" cy="1038.7" r="4.4"/><circle cx="1082.1" cy="1083.7" r="4.4"/><circle cx="1089.4" cy="1056.0" r="4.4"/><circle cx="1145.3" cy="1153.9" r="4.4"/><circle cx="1045.3" cy="1153.7" r="4.4"/><circle cx="1140.3" cy="1165.6" r="4.4"/><circle cx="1103.4" cy="1111.0" r="4.4"/><circle cx="999.8" cy="1013.8" r="4.4"/><circle cx="1076.6" cy="1104.1" r="4.4"/><circle cx="1041.5" cy="1075.7" r="4.4"/><circle cx="1145.2" cy="1051.9" r="4.4"/><circle cx="1313.7" cy="1186.9" r="4.4"/><circle cx="1020.6" cy="985.6" r="4.4"/><circle cx="969.1" cy="1073.0" r="4.4"/><circle cx="1042.1" cy="1143.6" r="4.4"/><circle cx="1172.2" cy="1126.6" r="4.4"/><circle cx="1255.1" cy="1177.2" r="4.4"/><circle cx="1147.8" cy="1063.7" r="4.4"/><circle cx="1096.4" cy="1084.7" r="4.4"/><circle cx="1006.0" cy="1100.7" r="4.4"/><circle cx="1201.3" cy="1169.4" r="4.4"/><circle cx="1262.9" cy="1110.4" r="4.4"/><circle cx="1285.6" cy="1107.7" r="4.4"/><circle cx="863.2" cy="1094.4" r="4.4"/><circle cx="1002.3" cy="1166.4" r="4.4"/><circle cx="950.1" cy="1125.2" r="4.4"/><circle cx="1020.4" cy="1114.3" r="4.4"/><circle cx="1129.2" cy="1026.1" r="4.4"/><circle cx="1068.5" cy="1005.4" r="4.4"/><circle cx="962.8" cy="1067.0" r="4.4"/><circle cx="1159.5" cy="1045.0" r="4.4"/><circle cx="995.8" cy="1083.6" r="4.4"/><circle cx="1123.1" cy="810.1" r="4.4"/><circle cx="976.2" cy="1111.5" r="4.4"/><circle cx="1120.3" cy="1097.3" r="4.4"/><circle cx="1056.3" cy="1149.6" r="4.4"/><circle cx="1055.3" cy="1052.2" r="4.4"/><circle cx="863.8" cy="1115.4" r="4.4"/><circle cx="1004.3" cy="968.7" r="4.4"/><circle cx="1140.5" cy="1076.5" r="4.4"/><circle cx="1117.9" cy="1157.3" r="4.4"/><circle cx="1186.2" cy="1116.6" r="4.4"/><circle cx="1049.9" cy="1072.0" r="4.4"/><circle cx="1138.3" cy="1052.3" r="4.4"/><circle cx="1037.4" cy="1070.3" r="4.4"/><circle cx="1201.5" cy="1144.1" r="4.4"/><circle cx="1323.4" cy="1127.4" r="4.4"/><circle cx="992.3" cy="1076.9" r="4.4"/><circle cx="1055.6" cy="1142.6" r="4.4"/><circle cx="1069.1" cy="1132.2" r="4.4"/><circle cx="979.8" cy="1086.3" r="4.4"/><circle cx="970.1" cy="1008.1" r="4.4"/><circle cx="1170.9" cy="1103.3" r="4.4"/><circle cx="1137.7" cy="1103.2" r="4.4"/><circle cx="1083.8" cy="1041.2" r="4.4"/><circle cx="863.9" cy="1125.3" r="4.4"/><circle cx="1067.3" cy="1164.1" r="4.4"/><circle cx="1002.1" cy="1120.4" r="4.4"/><circle cx="1265.4" cy="1060.7" r="4.4"/><circle cx="1198.4" cy="1115.0" r="4.4"/><circle cx="1027.5" cy="1146.4" r="4.4"/><circle cx="1060.6" cy="1065.7" r="4.4"/><circle cx="1101.4" cy="1096.5" r="4.4"/><circle cx="1111.9" cy="837.5" r="4.4"/><circle cx="1014.8" cy="1138.7" r="4.4"/><circle cx="1151.6" cy="1062.7" r="4.4"/><circle cx="1053.2" cy="948.4" r="4.4"/><circle cx="1058.4" cy="1016.7" r="4.4"/><circle cx="1218.0" cy="1165.4" r="4.4"/><circle cx="984.7" cy="1080.2" r="4.4"/><circle cx="1143.9" cy="1145.3" r="4.4"/><circle cx="863.8" cy="1144.6" r="4.4"/><circle cx="882.8" cy="1087.7" r="4.4"/><circle cx="1110.5" cy="1168.3" r="4.4"/><circle cx="1123.1" cy="1013.7" r="4.4"/><circle cx="1087.3" cy="899.6" r="4.4"/><circle cx="1028.9" cy="1003.6" r="4.4"/><circle cx="1198.0" cy="1136.0" r="4.4"/><circle cx="1276.4" cy="1016.8" r="4.4"/><circle cx="1025.1" cy="1046.2" r="4.4"/><circle cx="1005.0" cy="1170.5" r="4.4"/><circle cx="989.4" cy="1143.5" r="4.4"/><circle cx="1286.5" cy="1116.5" r="4.4"/><circle cx="988.9" cy="1078.9" r="4.4"/><circle cx="1049.7" cy="1026.1" r="4.4"/><circle cx="996.1" cy="1046.9" r="4.4"/><circle cx="1053.1" cy="1129.0" r="4.4"/><circle cx="1168.0" cy="1133.5" r="4.4"/><circle cx="1012.5" cy="1053.2" r="4.4"/><circle cx="972.8" cy="895.8" r="4.4"/><circle cx="1156.6" cy="1029.8" r="4.4"/><circle cx="1063.6" cy="930.0" r="4.4"/><circle cx="1031.9" cy="1012.4" r="4.4"/><circle cx="1038.5" cy="1089.2" r="4.4"/><circle cx="1031.5" cy="1116.4" r="4.4"/><circle cx="1017.6" cy="1155.3" r="4.4"/><circle cx="1121.8" cy="1097.1" r="4.4"/><circle cx="1174.9" cy="1094.5" r="4.4"/><circle cx="1050.4" cy="1121.1" r="4.4"/><circle cx="963.9" cy="1172.9" r="4.4"/><circle cx="1208.4" cy="1184.1" r="4.4"/><circle cx="1016.4" cy="1174.8" r="4.4"/><circle cx="979.7" cy="946.3" r="4.4"/><circle cx="991.8" cy="913.7" r="4.4"/><circle cx="983.0" cy="1007.5" r="4.4"/><circle cx="859.8" cy="1095.0" r="4.4"/><circle cx="981.1" cy="1050.9" r="4.4"/><circle cx="1068.4" cy="1157.1" r="4.4"/><circle cx="1203.1" cy="926.2" r="4.4"/><circle cx="1120.9" cy="1096.5" r="4.4"/><circle cx="980.5" cy="1083.1" r="4.4"/><circle cx="920.6" cy="1136.8" r="4.4"/><circle cx="1228.7" cy="1175.2" r="4.4"/><circle cx="1064.5" cy="1052.3" r="4.4"/><circle cx="1166.9" cy="1032.8" r="4.4"/><circle cx="952.0" cy="1069.1" r="4.4"/><circle cx="1070.7" cy="1157.6" r="4.4"/><circle cx="1222.5" cy="1011.0" r="4.4"/><circle cx="1277.8" cy="1064.8" r="4.4"/><circle cx="1171.5" cy="1170.0" r="4.4"/><circle cx="1064.3" cy="1107.7" r="4.4"/><circle cx="1129.8" cy="885.6" r="4.4"/><circle cx="1135.0" cy="1121.6" r="4.4"/><circle cx="1149.3" cy="1125.4" r="4.4"/><circle cx="1031.4" cy="1069.7" r="4.4"/><circle cx="1043.7" cy="1040.9" r="4.4"/><circle cx="1219.8" cy="1130.6" r="4.4"/><circle cx="1248.5" cy="1075.9" r="4.4"/><circle cx="1311.2" cy="1143.3" r="4.4"/><circle cx="970.4" cy="1131.6" r="4.4"/><circle cx="1011.9" cy="1172.7" r="4.4"/><circle cx="1100.1" cy="1064.3" r="4.4"/><circle cx="971.3" cy="861.8" r="4.4"/><circle cx="1209.9" cy="1090.9" r="4.4"/><circle cx="1308.1" cy="1061.5" r="4.4"/><circle cx="934.2" cy="1089.5" r="4.4"/><circle cx="1307.8" cy="1117.9" r="4.4"/><circle cx="1159.7" cy="1183.7" r="4.4"/><circle cx="991.8" cy="1124.6" r="4.4"/><circle cx="1156.8" cy="1124.6" r="4.4"/><circle cx="937.8" cy="1055.5" r="4.4"/><circle cx="1092.1" cy="1099.7" r="4.4"/><circle cx="1178.2" cy="1177.2" r="4.4"/><circle cx="1107.6" cy="1175.8" r="4.4"/><circle cx="967.2" cy="1117.3" r="4.4"/><circle cx="997.3" cy="1081.0" r="4.4"/><circle cx="1016.3" cy="802.4" r="4.4"/><circle cx="1038.4" cy="1152.2" r="4.4"/><circle cx="1188.9" cy="1148.5" r="4.4"/><circle cx="1185.6" cy="1145.7" r="4.4"/><circle cx="929.5" cy="970.8" r="4.4"/><circle cx="1147.8" cy="1123.7" r="4.4"/><circle cx="1288.5" cy="1140.2" r="4.4"/><circle cx="912.1" cy="1087.3" r="4.4"/><circle cx="1130.1" cy="1193.4" r="4.4"/><circle cx="1071.1" cy="965.3" r="4.4"/><circle cx="997.2" cy="1083.0" r="4.4"/><circle cx="976.9" cy="1044.1" r="4.4"/><circle cx="1258.2" cy="1182.5" r="4.4"/><circle cx="1218.6" cy="1057.2" r="4.4"/><circle cx="1010.9" cy="1012.2" r="4.4"/><circle cx="1122.3" cy="782.4" r="4.4"/><circle cx="1093.8" cy="1088.8" r="4.4"/><circle cx="1326.6" cy="1051.7" r="4.4"/><circle cx="989.1" cy="1005.6" r="4.4"/><circle cx="1025.4" cy="1083.0" r="4.4"/><circle cx="1343.1" cy="1184.3" r="4.4"/><circle cx="1056.8" cy="980.2" r="4.4"/><circle cx="991.5" cy="1087.9" r="4.4"/><circle cx="1073.4" cy="892.3" r="4.4"/><circle cx="1069.8" cy="1073.0" r="4.4"/><circle cx="1289.7" cy="1177.7" r="4.4"/><circle cx="1080.0" cy="1072.5" r="4.4"/><circle cx="1037.4" cy="1068.8" r="4.4"/><circle cx="1006.6" cy="1042.9" r="4.4"/><circle cx="1121.9" cy="1037.0" r="4.4"/><circle cx="950.7" cy="1104.8" r="4.4"/><circle cx="1024.6" cy="1170.4" r="4.4"/><circle cx="989.9" cy="1158.6" r="4.4"/><circle cx="997.5" cy="1083.2" r="4.4"/><circle cx="933.1" cy="1107.2" r="4.4"/><circle cx="1228.2" cy="1057.9" r="4.4"/><circle cx="1013.8" cy="1069.1" r="4.4"/><circle cx="1056.5" cy="967.6" r="4.4"/><circle cx="1110.1" cy="1068.8" r="4.4"/><circle cx="1072.2" cy="1107.0" r="4.4"/><circle cx="1086.7" cy="862.7" r="4.4"/><circle cx="975.8" cy="1098.6" r="4.4"/><circle cx="1033.7" cy="1084.1" r="4.4"/><circle cx="1003.2" cy="1068.8" r="4.4"/><circle cx="1043.2" cy="972.6" r="4.4"/><circle cx="1096.9" cy="1103.3" r="4.4"/><circle cx="1293.0" cy="1119.7" r="4.4"/><circle cx="944.5" cy="1139.6" r="4.4"/><circle cx="974.4" cy="1058.9" r="4.4"/><circle cx="1253.5" cy="1187.8" r="4.4"/><circle cx="958.6" cy="1138.5" r="4.4"/><circle cx="1076.0" cy="1116.8" r="4.4"/><circle cx="1227.3" cy="1135.1" r="4.4"/><circle cx="943.5" cy="1130.9" r="4.4"/><circle cx="1127.0" cy="1008.3" r="4.4"/><circle cx="1073.9" cy="1007.4" r="4.4"/><circle cx="1151.4" cy="1154.1" r="4.4"/><circle cx="1080.5" cy="1059.4" r="4.4"/><circle cx="1240.3" cy="1032.0" r="4.4"/><circle cx="1028.1" cy="1120.3" r="4.4"/><circle cx="1237.1" cy="1141.5" r="4.4"/><circle cx="1362.8" cy="1104.7" r="4.4"/><circle cx="1071.7" cy="1159.3" r="4.4"/><circle cx="1070.4" cy="1084.5" r="4.4"/><circle cx="1078.7" cy="937.5" r="4.4"/><circle cx="1065.2" cy="854.9" r="4.4"/><circle cx="842.1" cy="1163.3" r="4.4"/><circle cx="1008.6" cy="954.2" r="4.4"/><circle cx="1152.7" cy="1160.9" r="4.4"/><circle cx="996.8" cy="842.2" r="4.4"/><circle cx="1166.8" cy="1070.7" r="4.4"/><circle cx="997.9" cy="1091.7" r="4.4"/><circle cx="1364.5" cy="1143.8" r="4.4"/><circle cx="1082.5" cy="1020.4" r="4.4"/><circle cx="1046.0" cy="883.9" r="4.4"/><circle cx="1236.4" cy="1087.7" r="4.4"/><circle cx="1058.2" cy="938.5" r="4.4"/><circle cx="1064.6" cy="959.2" r="4.4"/><circle cx="1030.8" cy="970.7" r="4.4"/><circle cx="1204.1" cy="938.8" r="4.4"/><circle cx="1229.3" cy="1046.8" r="4.4"/><circle cx="1336.0" cy="1121.5" r="4.4"/><circle cx="1110.3" cy="1047.7" r="4.4"/><circle cx="1154.8" cy="1166.4" r="4.4"/><circle cx="1130.4" cy="1169.0" r="4.4"/><circle cx="1175.6" cy="1126.5" r="4.4"/><circle cx="1197.6" cy="1113.7" r="4.4"/><circle cx="1109.9" cy="1105.5" r="4.4"/><circle cx="993.6" cy="1093.0" r="4.4"/><circle cx="1267.2" cy="1059.1" r="4.4"/><circle cx="1025.9" cy="1040.5" r="4.4"/><circle cx="1097.4" cy="1169.5" r="4.4"/><circle cx="1236.2" cy="1075.1" r="4.4"/><circle cx="1051.9" cy="988.4" r="4.4"/><circle cx="1133.7" cy="1088.1" r="4.4"/><circle cx="971.5" cy="1068.2" r="4.4"/><circle cx="1114.5" cy="1119.0" r="4.4"/><circle cx="1050.9" cy="1020.3" r="4.4"/><circle cx="1222.7" cy="1143.0" r="4.4"/><circle cx="1052.3" cy="1075.2" r="4.4"/><circle cx="1184.3" cy="1044.9" r="4.4"/><circle cx="1147.3" cy="1089.2" r="4.4"/><circle cx="1191.1" cy="1109.7" r="4.4"/><circle cx="1184.2" cy="990.3" r="4.4"/><circle cx="1263.2" cy="1135.6" r="4.4"/><circle cx="1172.5" cy="1023.4" r="4.4"/><circle cx="1048.6" cy="1039.4" r="4.4"/><circle cx="1056.7" cy="1106.6" r="4.4"/><circle cx="1283.8" cy="1144.1" r="4.4"/><circle cx="1006.7" cy="1017.3" r="4.4"/><circle cx="986.6" cy="885.1" r="4.4"/><circle cx="1129.7" cy="1140.6" r="4.4"/><circle cx="1038.7" cy="1144.4" r="4.4"/><circle cx="1076.5" cy="900.3" r="4.4"/><circle cx="1009.0" cy="984.7" r="4.4"/><circle cx="1034.4" cy="1044.4" r="4.4"/><circle cx="1097.7" cy="1160.5" r="4.4"/><circle cx="1085.9" cy="951.1" r="4.4"/><circle cx="1067.3" cy="1159.3" r="4.4"/><circle cx="945.1" cy="1025.1" r="4.4"/><circle cx="959.5" cy="1108.1" r="4.4"/><circle cx="1130.6" cy="1085.0" r="4.4"/><circle cx="1096.0" cy="1104.2" r="4.4"/><circle cx="1090.2" cy="1131.2" r="4.4"/><circle cx="1072.6" cy="1100.6" r="4.4"/><circle cx="1108.4" cy="1026.7" r="4.4"/><circle cx="1149.7" cy="1180.7" r="4.4"/><circle cx="1303.7" cy="1174.1" r="4.4"/><circle cx="1010.0" cy="1000.8" r="4.4"/><circle cx="1005.4" cy="1048.2" r="4.4"/><circle cx="1082.2" cy="832.0" r="4.4"/><circle cx="1161.2" cy="1161.3" r="4.4"/><circle cx="989.9" cy="1141.2" r="4.4"/><circle cx="1196.1" cy="1117.8" r="4.4"/><circle cx="1090.3" cy="1064.8" r="4.4"/><circle cx="934.9" cy="1085.8" r="4.4"/><circle cx="1360.8" cy="1115.9" r="4.4"/><circle cx="972.2" cy="1025.0" r="4.4"/><circle cx="1023.6" cy="1171.1" r="4.4"/><circle cx="1091.8" cy="1055.5" r="4.4"/><circle cx="1153.9" cy="1131.2" r="4.4"/><circle cx="1102.6" cy="1122.2" r="4.4"/><circle cx="1156.1" cy="941.8" r="4.4"/><circle cx="1066.7" cy="1095.0" r="4.4"/><circle cx="1097.8" cy="944.3" r="4.4"/><circle cx="1123.7" cy="749.5" r="4.4"/><circle cx="1088.7" cy="1099.5" r="4.4"/><circle cx="1214.9" cy="1118.5" r="4.4"/><circle cx="979.3" cy="1090.8" r="4.4"/><circle cx="1064.2" cy="1055.5" r="4.4"/><circle cx="1087.7" cy="902.3" r="4.4"/><circle cx="1043.5" cy="971.1" r="4.4"/><circle cx="1026.9" cy="1056.8" r="4.4"/><circle cx="948.5" cy="1094.6" r="4.4"/><circle cx="1074.5" cy="1130.7" r="4.4"/><circle cx="1220.7" cy="1099.4" r="4.4"/><circle cx="1016.1" cy="1150.4" r="4.4"/><circle cx="1066.5" cy="1125.0" r="4.4"/><circle cx="938.8" cy="1095.8" r="4.4"/><circle cx="1131.8" cy="1135.3" r="4.4"/><circle cx="1097.4" cy="1160.4" r="4.4"/><circle cx="1048.4" cy="1079.5" r="4.4"/><circle cx="1006.2" cy="1142.1" r="4.4"/><circle cx="1040.2" cy="1014.1" r="4.4"/><circle cx="968.6" cy="1075.6" r="4.4"/><circle cx="1301.6" cy="1172.5" r="4.4"/><circle cx="1160.5" cy="1077.1" r="4.4"/><circle cx="1215.1" cy="1077.5" r="4.4"/><circle cx="1160.7" cy="1091.3" r="4.4"/><circle cx="1180.6" cy="1122.5" r="4.4"/><circle cx="1201.2" cy="1138.3" r="4.4"/><circle cx="1032.9" cy="820.9" r="4.4"/><circle cx="979.1" cy="1073.7" r="4.4"/><circle cx="954.3" cy="1093.0" r="4.4"/><circle cx="1017.7" cy="1095.8" r="4.4"/><circle cx="981.5" cy="1152.8" r="4.4"/><circle cx="1012.3" cy="1112.2" r="4.4"/><circle cx="955.4" cy="1051.1" r="4.4"/><circle cx="991.8" cy="1052.7" r="4.4"/><circle cx="927.9" cy="1086.4" r="4.4"/><circle cx="1221.8" cy="1114.1" r="4.4"/><circle cx="1286.6" cy="1161.0" r="4.4"/><circle cx="956.5" cy="1091.7" r="4.4"/><circle cx="1033.9" cy="965.8" r="4.4"/><circle cx="1108.9" cy="1084.5" r="4.4"/><circle cx="1276.0" cy="1188.5" r="4.4"/><circle cx="982.9" cy="1134.6" r="4.4"/><circle cx="1095.2" cy="1174.3" r="4.4"/><circle cx="1004.6" cy="1137.6" r="4.4"/><circle cx="909.7" cy="914.3" r="4.4"/><circle cx="1094.9" cy="1109.8" r="4.4"/><circle cx="998.9" cy="1136.6" r="4.4"/><circle cx="960.5" cy="1171.7" r="4.4"/><circle cx="953.0" cy="1114.5" r="4.4"/><circle cx="1174.2" cy="1007.2" r="4.4"/><circle cx="1095.4" cy="1134.8" r="4.4"/><circle cx="950.4" cy="1067.1" r="4.4"/><circle cx="1229.2" cy="1111.4" r="4.4"/><circle cx="1039.9" cy="1115.6" r="4.4"/><circle cx="1041.9" cy="995.8" r="4.4"/><circle cx="1255.6" cy="1144.4" r="4.4"/><circle cx="1044.0" cy="1126.2" r="4.4"/><circle cx="1041.6" cy="1121.0" r="4.4"/><circle cx="1205.5" cy="1104.7" r="4.4"/><circle cx="1265.9" cy="988.2" r="4.4"/><circle cx="1034.3" cy="967.5" r="4.4"/><circle cx="1237.9" cy="1154.3" r="4.4"/><circle cx="1121.1" cy="1085.1" r="4.4"/><circle cx="1001.5" cy="1135.5" r="4.4"/><circle cx="1050.1" cy="1135.4" r="4.4"/><circle cx="1133.2" cy="1176.7" r="4.4"/><circle cx="912.0" cy="1091.4" r="4.4"/><circle cx="1029.4" cy="1115.9" r="4.4"/><circle cx="961.9" cy="1109.2" r="4.4"/><circle cx="1258.2" cy="1107.6" r="4.4"/><circle cx="1072.7" cy="1159.0" r="4.4"/><circle cx="1060.9" cy="1149.0" r="4.4"/><circle cx="1238.2" cy="1099.7" r="4.4"/><circle cx="1110.5" cy="1148.4" r="4.4"/><circle cx="1044.2" cy="1139.4" r="4.4"/><circle cx="1273.9" cy="1073.2" r="4.4"/><circle cx="896.5" cy="1122.5" r="4.4"/><circle cx="1147.5" cy="990.5" r="4.4"/><circle cx="1048.0" cy="852.9" r="4.4"/><circle cx="1100.1" cy="924.6" r="4.4"/><circle cx="972.0" cy="1165.4" r="4.4"/><circle cx="1178.2" cy="1099.8" r="4.4"/><circle cx="1129.5" cy="1011.6" r="4.4"/><circle cx="1087.7" cy="1045.5" r="4.4"/><circle cx="1013.8" cy="1107.1" r="4.4"/><circle cx="958.4" cy="1154.5" r="4.4"/><circle cx="1158.8" cy="1056.4" r="4.4"/><circle cx="911.5" cy="1172.3" r="4.4"/><circle cx="1137.5" cy="1173.0" r="4.4"/><circle cx="1119.1" cy="1144.3" r="4.4"/><circle cx="1205.5" cy="1120.0" r="4.4"/><circle cx="1197.8" cy="1023.5" r="4.4"/><circle cx="1245.8" cy="1140.4" r="4.4"/><circle cx="1105.3" cy="996.4" r="4.4"/><circle cx="1075.6" cy="1140.7" r="4.4"/><circle cx="1012.7" cy="1113.6" r="4.4"/><circle cx="1071.5" cy="1106.3" r="4.4"/><circle cx="978.2" cy="1134.9" r="4.4"/><circle cx="999.0" cy="967.0" r="4.4"/><circle cx="1208.0" cy="1174.7" r="4.4"/><circle cx="956.5" cy="1003.7" r="4.4"/><circle cx="1001.7" cy="1059.9" r="4.4"/><circle cx="952.8" cy="1050.1" r="4.4"/><circle cx="1020.3" cy="1132.0" r="4.4"/><circle cx="1180.0" cy="1072.1" r="4.4"/><circle cx="979.5" cy="1174.1" r="4.4"/><circle cx="1025.4" cy="1088.8" r="4.4"/><circle cx="972.7" cy="1070.1" r="4.4"/><circle cx="960.9" cy="1141.1" r="4.4"/><circle cx="956.8" cy="1167.4" r="4.4"/><circle cx="1083.0" cy="1138.4" r="4.4"/><circle cx="1125.6" cy="1117.9" r="4.4"/><circle cx="1037.4" cy="1111.8" r="4.4"/><circle cx="1162.4" cy="1183.3" r="4.4"/><circle cx="1047.8" cy="1014.3" r="4.4"/><circle cx="1107.5" cy="1160.6" r="4.4"/><circle cx="1052.4" cy="1053.5" r="4.4"/><circle cx="1028.4" cy="1130.1" r="4.4"/><circle cx="1006.9" cy="1170.6" r="4.4"/><circle cx="1043.3" cy="993.7" r="4.4"/><circle cx="874.4" cy="1137.2" r="4.4"/><circle cx="843.0" cy="1110.6" r="4.4"/><circle cx="1120.0" cy="1060.8" r="4.4"/><circle cx="994.1" cy="1064.7" r="4.4"/><circle cx="1139.3" cy="1144.3" r="4.4"/><circle cx="1108.0" cy="1052.8" r="4.4"/><circle cx="1105.4" cy="1005.1" r="4.4"/><circle cx="1019.5" cy="1129.2" r="4.4"/><circle cx="972.0" cy="1154.9" r="4.4"/><circle cx="1311.1" cy="1156.3" r="4.4"/><circle cx="976.6" cy="1000.0" r="4.4"/><circle cx="970.5" cy="1104.6" r="4.4"/><circle cx="1049.8" cy="914.4" r="4.4"/><circle cx="1136.5" cy="1126.8" r="4.4"/><circle cx="1247.4" cy="1129.1" r="4.4"/><circle cx="1145.2" cy="972.1" r="4.4"/><circle cx="1167.2" cy="970.6" r="4.4"/><circle cx="1098.7" cy="1021.3" r="4.4"/><circle cx="1090.7" cy="1151.8" r="4.4"/><circle cx="1273.8" cy="1130.6" r="4.4"/><circle cx="1318.2" cy="1135.4" r="4.4"/><circle cx="1127.4" cy="1153.8" r="4.4"/><circle cx="1088.8" cy="954.3" r="4.4"/><circle cx="1230.9" cy="1106.5" r="4.4"/><circle cx="1022.7" cy="1138.4" r="4.4"/><circle cx="1119.3" cy="1156.8" r="4.4"/><circle cx="1325.8" cy="1122.9" r="4.4"/><circle cx="945.2" cy="1176.4" r="4.4"/><circle cx="1319.1" cy="1080.7" r="4.4"/><circle cx="1136.4" cy="1129.0" r="4.4"/><circle cx="1025.2" cy="1156.0" r="4.4"/><circle cx="1071.0" cy="1028.6" r="4.4"/><circle cx="1018.5" cy="1138.3" r="4.4"/><circle cx="1125.0" cy="1106.1" r="4.4"/><circle cx="981.2" cy="1081.2" r="4.4"/><circle cx="1026.9" cy="1142.3" r="4.4"/><circle cx="839.6" cy="1110.3" r="4.4"/><circle cx="956.0" cy="989.0" r="4.4"/><circle cx="1226.6" cy="1063.0" r="4.4"/><circle cx="1216.7" cy="1129.0" r="4.4"/><circle cx="968.3" cy="1033.8" r="4.4"/><circle cx="1011.9" cy="1149.4" r="4.4"/><circle cx="965.8" cy="1111.1" r="4.4"/><circle cx="1104.7" cy="982.0" r="4.4"/><circle cx="990.7" cy="1150.4" r="4.4"/><circle cx="991.9" cy="1074.6" r="4.4"/><circle cx="1104.6" cy="1013.8" r="4.4"/><circle cx="1136.0" cy="1092.2" r="4.4"/><circle cx="987.7" cy="899.0" r="4.4"/><circle cx="972.2" cy="1121.8" r="4.4"/><circle cx="1096.9" cy="1122.6" r="4.4"/><circle cx="1010.1" cy="1162.3" r="4.4"/><circle cx="1198.8" cy="1108.9" r="4.4"/><circle cx="1139.3" cy="1093.3" r="4.4"/><circle cx="1069.3" cy="1134.4" r="4.4"/><circle cx="1013.1" cy="1048.4" r="4.4"/><circle cx="1045.0" cy="890.5" r="4.4"/><circle cx="974.6" cy="1128.1" r="4.4"/><circle cx="1246.6" cy="1045.8" r="4.4"/><circle cx="1205.7" cy="1079.2" r="4.4"/><circle cx="996.2" cy="1100.5" r="4.4"/><circle cx="994.7" cy="1182.4" r="4.4"/><circle cx="1131.6" cy="1108.0" r="4.4"/><circle cx="1155.3" cy="1148.7" r="4.4"/><circle cx="1005.5" cy="1057.9" r="4.4"/><circle cx="1188.3" cy="1144.7" r="4.4"/><circle cx="1091.9" cy="1100.7" r="4.4"/><circle cx="1224.0" cy="1156.7" r="4.4"/><circle cx="1098.7" cy="1125.3" r="4.4"/><circle cx="1127.2" cy="1066.3" r="4.4"/><circle cx="1140.8" cy="1177.7" r="4.4"/><circle cx="1116.2" cy="983.6" r="4.4"/><circle cx="1048.4" cy="1021.3" r="4.4"/><circle cx="1128.9" cy="1178.6" r="4.4"/><circle cx="1171.4" cy="1096.2" r="4.4"/><circle cx="1070.0" cy="1109.3" r="4.4"/><circle cx="1094.4" cy="1126.8" r="4.4"/><circle cx="1246.4" cy="1139.8" r="4.4"/><circle cx="1069.8" cy="1093.2" r="4.4"/><circle cx="1074.8" cy="1137.2" r="4.4"/><circle cx="1180.8" cy="1142.1" r="4.4"/><circle cx="1034.4" cy="968.0" r="4.4"/><circle cx="973.1" cy="1170.5" r="4.4"/><circle cx="1008.0" cy="999.7" r="4.4"/><circle cx="985.2" cy="1141.5" r="4.4"/><circle cx="1007.9" cy="1042.8" r="4.4"/><circle cx="1021.8" cy="1160.4" r="4.4"/><circle cx="1036.5" cy="1135.5" r="4.4"/><circle cx="946.7" cy="1123.1" r="4.4"/><circle cx="1109.8" cy="1182.0" r="4.4"/><circle cx="1070.3" cy="1159.0" r="4.4"/><circle cx="1049.7" cy="900.9" r="4.4"/><circle cx="997.6" cy="1016.3" r="4.4"/><circle cx="1010.5" cy="992.7" r="4.4"/><circle cx="1152.6" cy="1065.7" r="4.4"/><circle cx="1155.3" cy="1140.6" r="4.4"/><circle cx="934.1" cy="960.5" r="4.4"/><circle cx="1161.8" cy="896.3" r="4.4"/><circle cx="1175.1" cy="1165.1" r="4.4"/><circle cx="926.0" cy="1117.1" r="4.4"/><circle cx="1062.6" cy="1091.4" r="4.4"/><circle cx="1259.2" cy="1134.6" r="4.4"/><circle cx="1009.4" cy="995.3" r="4.4"/><circle cx="1126.5" cy="1098.3" r="4.4"/><circle cx="957.9" cy="1095.5" r="4.4"/><circle cx="1177.6" cy="1116.8" r="4.4"/><circle cx="1197.5" cy="1171.2" r="4.4"/><circle cx="1319.7" cy="1021.9" r="4.4"/><circle cx="994.6" cy="1164.0" r="4.4"/><circle cx="1253.2" cy="1144.9" r="4.4"/><circle cx="993.4" cy="1105.7" r="4.4"/><circle cx="1090.9" cy="1053.4" r="4.4"/><circle cx="971.1" cy="1049.7" r="4.4"/><circle cx="1056.8" cy="1177.6" r="4.4"/><circle cx="1107.2" cy="1077.3" r="4.4"/><circle cx="1047.0" cy="1144.9" r="4.4"/><circle cx="1009.7" cy="1044.4" r="4.4"/><circle cx="1171.2" cy="1182.5" r="4.4"/><circle cx="1014.5" cy="1062.8" r="4.4"/><circle cx="963.3" cy="1186.2" r="4.4"/><circle cx="993.4" cy="1161.2" r="4.4"/><circle cx="1089.0" cy="1092.9" r="4.4"/><circle cx="960.9" cy="1053.8" r="4.4"/><circle cx="1225.7" cy="1080.2" r="4.4"/><circle cx="1261.5" cy="1112.0" r="4.4"/><circle cx="1230.5" cy="1153.9" r="4.4"/><circle cx="1140.4" cy="1085.1" r="4.4"/><circle cx="1030.4" cy="1087.0" r="4.4"/><circle cx="1162.7" cy="1140.4" r="4.4"/><circle cx="1171.9" cy="1038.5" r="4.4"/><circle cx="1164.3" cy="1105.0" r="4.4"/><circle cx="1090.5" cy="1077.1" r="4.4"/><circle cx="991.4" cy="1018.8" r="4.4"/><circle cx="1017.1" cy="1119.9" r="4.4"/><circle cx="997.2" cy="1095.7" r="4.4"/><circle cx="986.9" cy="1158.6" r="4.4"/><circle cx="1107.9" cy="1145.1" r="4.4"/><circle cx="1023.5" cy="1162.2" r="4.4"/><circle cx="1200.9" cy="1167.9" r="4.4"/><circle cx="991.8" cy="1150.3" r="4.4"/><circle cx="1156.4" cy="1118.8" r="4.4"/><circle cx="1274.4" cy="1106.6" r="4.4"/><circle cx="1008.2" cy="1125.3" r="4.4"/><circle cx="982.5" cy="1087.9" r="4.4"/><circle cx="1015.9" cy="804.6" r="4.4"/><circle cx="1182.3" cy="1149.7" r="4.4"/><circle cx="1180.6" cy="1133.7" r="4.4"/><circle cx="1219.4" cy="1146.0" r="4.4"/><circle cx="991.7" cy="912.1" r="4.4"/><circle cx="1104.8" cy="1073.7" r="4.4"/><circle cx="1123.2" cy="1168.8" r="4.4"/><circle cx="1046.1" cy="1049.5" r="4.4"/><circle cx="1015.8" cy="1141.6" r="4.4"/><circle cx="1117.4" cy="1103.2" r="4.4"/><circle cx="1070.8" cy="1015.5" r="4.4"/><circle cx="1352.2" cy="1126.3" r="4.4"/><circle cx="1050.1" cy="1146.2" r="4.4"/><circle cx="1034.4" cy="1167.4" r="4.4"/><circle cx="973.5" cy="1136.6" r="4.4"/><circle cx="1018.3" cy="1059.9" r="4.4"/><circle cx="943.6" cy="1144.3" r="4.4"/><circle cx="920.0" cy="1149.0" r="4.4"/><circle cx="1006.5" cy="1087.9" r="4.4"/><circle cx="1001.1" cy="998.0" r="4.4"/><circle cx="1144.9" cy="1188.8" r="4.4"/><circle cx="1150.5" cy="1159.6" r="4.4"/><circle cx="997.7" cy="1162.6" r="4.4"/><circle cx="1012.9" cy="1119.5" r="4.4"/><circle cx="1019.7" cy="1002.1" r="4.4"/><circle cx="1265.6" cy="1107.1" r="4.4"/><circle cx="1183.8" cy="1113.1" r="4.4"/><circle cx="956.2" cy="1059.2" r="4.4"/><circle cx="1152.4" cy="1116.9" r="4.4"/><circle cx="1077.7" cy="1076.2" r="4.4"/><circle cx="1225.4" cy="1008.5" r="4.4"/><circle cx="990.2" cy="1026.3" r="4.4"/><circle cx="968.5" cy="991.8" r="4.4"/><circle cx="996.3" cy="850.1" r="4.4"/><circle cx="1000.5" cy="1157.6" r="4.4"/><circle cx="1243.2" cy="961.5" r="4.4"/><circle cx="1147.2" cy="1164.1" r="4.4"/><circle cx="908.6" cy="1026.2" r="4.4"/><circle cx="974.9" cy="1110.2" r="4.4"/><circle cx="966.2" cy="869.4" r="4.4"/><circle cx="962.5" cy="986.8" r="4.4"/><circle cx="973.6" cy="1144.2" r="4.4"/><circle cx="974.4" cy="1048.8" r="4.4"/><circle cx="1029.3" cy="1022.6" r="4.4"/><circle cx="972.0" cy="1135.5" r="4.4"/><circle cx="1031.5" cy="1059.0" r="4.4"/><circle cx="1034.1" cy="1122.9" r="4.4"/><circle cx="979.7" cy="1114.5" r="4.4"/><circle cx="1021.1" cy="1087.3" r="4.4"/><circle cx="1070.2" cy="1076.6" r="4.4"/><circle cx="1030.3" cy="1146.9" r="4.4"/><circle cx="984.2" cy="882.8" r="4.4"/><circle cx="1123.1" cy="1165.4" r="4.4"/><circle cx="970.8" cy="1084.4" r="4.4"/><circle cx="1045.8" cy="1123.1" r="4.4"/><circle cx="1210.8" cy="1033.1" r="4.4"/><circle cx="975.5" cy="1124.2" r="4.4"/><circle cx="1006.0" cy="1116.7" r="4.4"/><circle cx="1068.1" cy="856.0" r="4.4"/><circle cx="990.9" cy="1122.9" r="4.4"/><circle cx="1023.8" cy="1083.7" r="4.4"/><circle cx="1182.0" cy="1153.3" r="4.4"/><circle cx="929.2" cy="1079.8" r="4.4"/><circle cx="990.2" cy="1073.6" r="4.4"/><circle cx="1188.7" cy="1163.6" r="4.4"/><circle cx="995.6" cy="1065.7" r="4.4"/><circle cx="989.9" cy="1125.4" r="4.4"/><circle cx="839.3" cy="1109.6" r="4.4"/><circle cx="1015.0" cy="1151.4" r="4.4"/><circle cx="1045.5" cy="990.9" r="4.4"/><circle cx="1132.4" cy="1012.7" r="4.4"/><circle cx="1111.3" cy="1144.4" r="4.4"/><circle cx="1024.8" cy="1086.7" r="4.4"/><circle cx="1082.7" cy="1024.5" r="4.4"/><circle cx="1132.6" cy="1165.9" r="4.4"/><circle cx="1043.2" cy="1071.9" r="4.4"/><circle cx="969.2" cy="1076.5" r="4.4"/><circle cx="1154.6" cy="1164.4" r="4.4"/><circle cx="1011.5" cy="1138.2" r="4.4"/><circle cx="1113.7" cy="965.5" r="4.4"/><circle cx="913.8" cy="1096.5" r="4.4"/><circle cx="1194.4" cy="1136.7" r="4.4"/><circle cx="1067.9" cy="1147.5" r="4.4"/><circle cx="1166.4" cy="1070.6" r="4.4"/><circle cx="915.9" cy="1146.2" r="4.4"/><circle cx="1004.1" cy="798.3" r="4.4"/><circle cx="1183.4" cy="1098.9" r="4.4"/><circle cx="955.2" cy="1014.0" r="4.4"/><circle cx="1048.7" cy="1060.4" r="4.4"/><circle cx="1123.5" cy="941.4" r="4.4"/><circle cx="893.3" cy="1103.8" r="4.4"/><circle cx="997.1" cy="1144.5" r="4.4"/><circle cx="987.9" cy="1072.5" r="4.4"/><circle cx="942.4" cy="1127.0" r="4.4"/><circle cx="1360.5" cy="1124.6" r="4.4"/><circle cx="1070.2" cy="1097.8" r="4.4"/><circle cx="1019.1" cy="1085.4" r="4.4"/><circle cx="1086.2" cy="1123.6" r="4.4"/><circle cx="1054.4" cy="1107.8" r="4.4"/><circle cx="1126.0" cy="1081.0" r="4.4"/><circle cx="1051.5" cy="1098.6" r="4.4"/><circle cx="946.0" cy="1024.5" r="4.4"/><circle cx="933.6" cy="1053.6" r="4.4"/><circle cx="954.3" cy="1127.4" r="4.4"/><circle cx="995.6" cy="1155.7" r="4.4"/><circle cx="999.5" cy="950.5" r="4.4"/><circle cx="1129.8" cy="1124.0" r="4.4"/><circle cx="1270.1" cy="1172.4" r="4.4"/><circle cx="1146.0" cy="1145.4" r="4.4"/><circle cx="1177.8" cy="1131.3" r="4.4"/><circle cx="948.2" cy="989.4" r="4.4"/><circle cx="983.8" cy="1019.1" r="4.4"/><circle cx="995.4" cy="1079.9" r="4.4"/><circle cx="960.5" cy="1164.9" r="4.4"/><circle cx="1059.4" cy="1105.5" r="4.4"/><circle cx="967.6" cy="1134.9" r="4.4"/><circle cx="1014.2" cy="915.2" r="4.4"/><circle cx="1126.4" cy="1108.6" r="4.4"/><circle cx="1041.2" cy="731.6" r="4.4"/><circle cx="968.1" cy="1058.9" r="4.4"/><circle cx="1210.7" cy="1155.3" r="4.4"/><circle cx="1209.2" cy="1115.1" r="4.4"/><circle cx="1035.9" cy="1137.4" r="4.4"/><circle cx="1276.1" cy="1107.9" r="4.4"/><circle cx="1072.9" cy="1180.8" r="4.4"/><circle cx="992.0" cy="969.3" r="4.4"/><circle cx="1093.4" cy="1068.7" r="4.4"/><circle cx="1030.7" cy="1002.2" r="4.4"/><circle cx="1063.2" cy="1155.3" r="4.4"/><circle cx="1178.6" cy="904.9" r="4.4"/><circle cx="1049.2" cy="1155.4" r="4.4"/><circle cx="1021.1" cy="1064.9" r="4.4"/><circle cx="1135.5" cy="1163.3" r="4.4"/><circle cx="1073.2" cy="1106.2" r="4.4"/><circle cx="1151.9" cy="1085.7" r="4.4"/><circle cx="1082.3" cy="1165.0" r="4.4"/><circle cx="1022.5" cy="1093.6" r="4.4"/><circle cx="1018.9" cy="1042.8" r="4.4"/><circle cx="902.9" cy="1163.4" r="4.4"/><circle cx="1001.2" cy="1000.9" r="4.4"/><circle cx="1166.0" cy="1123.9" r="4.4"/><circle cx="1040.3" cy="1153.3" r="4.4"/><circle cx="1050.1" cy="1127.2" r="4.4"/><circle cx="1031.1" cy="1138.5" r="4.4"/><circle cx="1125.1" cy="1102.5" r="4.4"/><circle cx="1159.8" cy="1067.1" r="4.4"/><circle cx="1209.3" cy="1125.9" r="4.4"/><circle cx="1045.2" cy="1053.6" r="4.4"/><circle cx="979.0" cy="1098.0" r="4.4"/><circle cx="1019.0" cy="1033.1" r="4.4"/><circle cx="903.2" cy="1046.5" r="4.4"/><circle cx="1177.0" cy="1176.1" r="4.4"/><circle cx="983.7" cy="1083.7" r="4.4"/><circle cx="1055.6" cy="1095.0" r="4.4"/><circle cx="928.3" cy="996.1" r="4.4"/><circle cx="1047.2" cy="971.9" r="4.4"/><circle cx="1003.7" cy="1160.3" r="4.4"/><circle cx="1024.8" cy="1121.5" r="4.4"/><circle cx="971.4" cy="1177.8" r="4.4"/><circle cx="985.8" cy="1061.7" r="4.4"/><circle cx="1165.4" cy="1097.3" r="4.4"/><circle cx="975.9" cy="1118.2" r="4.4"/><circle cx="981.7" cy="1169.4" r="4.4"/><circle cx="1340.7" cy="1113.6" r="4.4"/></g>
<polygon points="830.6,1057.9 837.4,1058.6 844.2,1059.4 851.1,1060.0 857.9,1060.7 864.7,1061.3 871.5,1061.9 878.3,1062.5 885.2,1063.1 892.0,1063.6 898.8,1064.1 905.6,1064.5 912.4,1065.0 919.3,1065.4 926.1,1065.8 932.9,1066.2 939.7,1066.5 946.5,1066.9 953.4,1067.2 960.2,1067.5 967.0,1067.8 973.8,1068.0 980.6,1068.3 987.5,1068.5 994.3,1068.7 1001.1,1068.9 1007.9,1069.1 1014.7,1069.3 1021.6,1069.5 1028.4,1069.7 1035.2,1069.9 1042.0,1070.0 1048.8,1070.2 1055.7,1070.3 1062.5,1070.4 1069.3,1070.6 1076.1,1070.7 1082.9,1070.9 1089.8,1071.0 1096.6,1071.1 1103.4,1071.3 1110.2,1071.4 1117.0,1071.5 1123.9,1071.6 1130.7,1071.8 1137.5,1071.9 1144.3,1072.0 1151.1,1072.1 1158.0,1072.2 1164.8,1072.3 1171.6,1072.4 1178.4,1072.4 1185.2,1072.5 1192.1,1072.5 1198.9,1072.6 1205.7,1072.6 1212.5,1072.6 1219.3,1072.6 1226.2,1072.6 1233.0,1072.6 1239.8,1072.5 1246.6,1072.5 1253.4,1072.4 1260.3,1072.3 1267.1,1072.2 1273.9,1072.0 1280.7,1071.9 1287.5,1071.7 1294.4,1071.5 1301.2,1071.2 1308.0,1071.0 1314.8,1070.7 1321.6,1070.4 1328.5,1070.1 1335.3,1069.7 1342.1,1069.3 1348.9,1068.9 1355.7,1068.5 1362.6,1068.0 1369.4,1067.5 1369.4,1097.5 1362.6,1096.7 1355.7,1096.0 1348.9,1095.3 1342.1,1094.6 1335.3,1094.0 1328.5,1093.3 1321.6,1092.7 1314.8,1092.2 1308.0,1091.6 1301.2,1091.1 1294.4,1090.6 1287.5,1090.1 1280.7,1089.7 1273.9,1089.2 1267.1,1088.8 1260.3,1088.4 1253.4,1088.1 1246.6,1087.7 1239.8,1087.4 1233.0,1087.1 1226.2,1086.8 1219.3,1086.5 1212.5,1086.2 1205.7,1086.0 1198.9,1085.7 1192.1,1085.5 1185.2,1085.3 1178.4,1085.1 1171.6,1084.9 1164.8,1084.7 1158.0,1084.5 1151.1,1084.3 1144.3,1084.1 1137.5,1084.0 1130.7,1083.8 1123.9,1083.7 1117.0,1083.5 1110.2,1083.4 1103.4,1083.3 1096.6,1083.1 1089.8,1083.0 1082.9,1082.9 1076.1,1082.7 1069.3,1082.6 1062.5,1082.5 1055.7,1082.3 1048.8,1082.2 1042.0,1082.1 1035.2,1082.0 1028.4,1081.9 1021.6,1081.8 1014.7,1081.7 1007.9,1081.6 1001.1,1081.5 994.3,1081.5 987.5,1081.4 980.6,1081.4 973.8,1081.4 967.0,1081.4 960.2,1081.4 953.4,1081.4 946.5,1081.5 939.7,1081.5 932.9,1081.6 926.1,1081.7 919.3,1081.9 912.4,1082.0 905.6,1082.2 898.8,1082.4 892.0,1082.6 885.2,1082.9 878.3,1083.1 871.5,1083.4 864.7,1083.8 857.9,1084.1 851.1,1084.5 844.2,1084.9 837.4,1085.4 830.6,1085.9" fill="#a6daa6" fill-opacity="0.6"/>
<polyline points="830.6,1071.9 837.4,1072.0 844.2,1072.1 851.1,1072.3 857.9,1072.4 864.7,1072.6 871.5,1072.7 878.3,1072.8 885.2,1073.0 892.0,1073.1 898.8,1073.2 905.6,1073.4 912.4,1073.5 919.3,1073.6 926.1,1073.8 932.9,1073.9 939.7,1074.0 946.5,1074.2 953.4,1074.3 960.2,1074.4 967.0,1074.6 973.8,1074.7 980.6,1074.8 987.5,1075.0 994.3,1075.1 1001.1,1075.2 1007.9,1075.4 1014.7,1075.5 1021.6,1075.6 1028.4,1075.8 1035.2,1075.9 1042.0,1076.1 1048.8,1076.2 1055.7,1076.3 1062.5,1076.5 1069.3,1076.6 1076.1,1076.7 1082.9,1076.9 1089.8,1077.0 1096.6,1077.1 1103.4,1077.3 1110.2,1077.4 1117.0,1077.5 1123.9,1077.7 1130.7,1077.8 1137.5,1077.9 1144.3,1078.1 1151.1,1078.2 1158.0,1078.3 1164.8,1078.5 1171.6,1078.6 1178.4,1078.7 1185.2,1078.9 1192.1,1079.0 1198.9,1079.1 1205.7,1079.3 1212.5,1079.4 1219.3,1079.6 1226.2,1079.7 1233.0,1079.8 1239.8,1080.0 1246.6,1080.1 1253.4,1080.2 1260.3,1080.4 1267.1,1080.5 1273.9,1080.6 1280.7,1080.8 1287.5,1080.9 1294.4,1081.0 1301.2,1081.2 1308.0,1081.3 1314.8,1081.4 1321.6,1081.6 1328.5,1081.7 1335.3,1081.8 1342.1,1082.0 1348.9,1082.1 1355.7,1082.2 1362.6,1082.4 1369.4,1082.5" fill="none" stroke="#36a836" stroke-width="9.5" stroke-linecap="butt"/>
<path d="M830.9,664.8 V1217.7 H1370.6" stroke="#111" stroke-width="2.6" fill="none"/>
<line x1="821.0" y1="1195.2" x2="830.9" y2="1195.2" stroke="#111" stroke-width="2.2"/>
<text x="800.0" y="1201.2" textLength="15.2" lengthAdjust="spacingAndGlyphs">0</text>
<line x1="821.0" y1="1126.6" x2="830.9" y2="1126.6" stroke="#111" stroke-width="2.2"/>
<text x="769.6" y="1132.6" textLength="45.5" lengthAdjust="spacingAndGlyphs">500</text>
<line x1="821.0" y1="1058.0" x2="830.9" y2="1058.0" stroke="#111" stroke-width="2.2"/>
<text x="746.8" y="1064.0" textLength="68.3" lengthAdjust="spacingAndGlyphs">1,000</text>
<line x1="821.0" y1="989.4" x2="830.9" y2="989.4" stroke="#111" stroke-width="2.2"/>
<text x="746.8" y="995.4" textLength="68.3" lengthAdjust="spacingAndGlyphs">1,500</text>
<line x1="821.0" y1="920.8" x2="830.9" y2="920.8" stroke="#111" stroke-width="2.2"/>
<text x="746.8" y="926.8" textLength="68.3" lengthAdjust="spacingAndGlyphs">2,000</text>
<line x1="821.0" y1="852.2" x2="830.9" y2="852.2" stroke="#111" stroke-width="2.2"/>
<text x="746.8" y="858.2" textLength="68.3" lengthAdjust="spacingAndGlyphs">2,500</text>
<line x1="821.0" y1="783.6" x2="830.9" y2="783.6" stroke="#111" stroke-width="2.2"/>
<text x="746.8" y="789.6" textLength="68.3" lengthAdjust="spacingAndGlyphs">3,000</text>
<line x1="821.0" y1="715.0" x2="830.9" y2="715.0" stroke="#111" stroke-width="2.2"/>
<text x="746.8" y="721.0" textLength="68.3" lengthAdjust="spacingAndGlyphs">3,500</text>
<line x1="836.6" y1="1217.7" x2="836.6" y2="1225.5" stroke="#111" stroke-width="2.2"/>
<text x="799.2" y="1254.8" textLength="52.3" lengthAdjust="spacingAndGlyphs">−0.8</text>
<line x1="899.2" y1="1217.7" x2="899.2" y2="1225.5" stroke="#111" stroke-width="2.2"/>
<text x="862.2" y="1254.8" textLength="52.3" lengthAdjust="spacingAndGlyphs">−0.6</text>
<line x1="961.5" y1="1217.7" x2="961.5" y2="1225.5" stroke="#111" stroke-width="2.2"/>
<text x="925.1" y="1254.8" textLength="52.3" lengthAdjust="spacingAndGlyphs">−0.4</text>
<line x1="1024.1" y1="1217.7" x2="1024.1" y2="1225.5" stroke="#111" stroke-width="2.2"/>
<text x="992.5" y="1254.8" textLength="52.3" lengthAdjust="spacingAndGlyphs">−0.2</text>
<line x1="1086.4" y1="1217.7" x2="1086.4" y2="1225.5" stroke="#111" stroke-width="2.2"/>
<text x="1072.2" y="1254.8" textLength="37.5" lengthAdjust="spacingAndGlyphs">0.0</text>
<line x1="1149.0" y1="1217.7" x2="1149.0" y2="1225.5" stroke="#111" stroke-width="2.2"/>
<text x="1134.8" y="1254.8" textLength="37.5" lengthAdjust="spacingAndGlyphs">0.2</text>
<line x1="1211.2" y1="1217.7" x2="1211.2" y2="1225.5" stroke="#111" stroke-width="2.2"/>
<text x="1198.0" y="1254.8" textLength="37.5" lengthAdjust="spacingAndGlyphs">0.4</text>
<line x1="1273.5" y1="1217.7" x2="1273.5" y2="1225.5" stroke="#111" stroke-width="2.2"/>
<text x="1264.2" y="1254.8" textLength="37.5" lengthAdjust="spacingAndGlyphs">0.6</text>
<line x1="1336.1" y1="1217.7" x2="1336.1" y2="1225.5" stroke="#111" stroke-width="2.2"/>
<text x="1327.3" y="1254.8" textLength="37.5" lengthAdjust="spacingAndGlyphs">0.8</text>
<text x="986.5" y="1295.3" textLength="281.9" lengthAdjust="spacingAndGlyphs">Predicted patient’s risk</text>
<text transform="translate(733.5,1117.6) rotate(-90)" x="-0.0" y="0" textLength="345.8" lengthAdjust="spacingAndGlyphs">Number of mid IG superpatch</text>
<text x="1407.5" y="656.0" font-size="35" font-weight="bold">f</text>
<clipPath id="c5"><rect x="1547.5" y="640" width="567.5" height="577.0"/></clipPath>
<g clip-path="url(#c5)" fill="#e4506e" fill-opacity="0.27" stroke="#e4506e" stroke-opacity="0.36" stroke-width="1"><circle cx="1798.9" cy="1139.7" r="4.4"/><circle cx="2040.5" cy="898.8" r="4.4"/><circle cx="2014.6" cy="862.4" r="4.4"/><circle cx="1798.0" cy="1066.1" r="4.4"/><circle cx="1714.6" cy="1152.9" r="4.4"/><circle cx="1877.7" cy="1042.7" r="4.4"/><circle cx="1724.9" cy="1126.9" r="4.4"/><circle cx="1943.7" cy="1009.3" r="4.4"/><circle cx="1970.0" cy="824.8" r="4.4"/><circle cx="1803.2" cy="1163.7" r="4.4"/><circle cx="1754.1" cy="1113.6" r="4.4"/><circle cx="1778.5" cy="1126.4" r="4.4"/><circle cx="1684.6" cy="1170.1" r="4.4"/><circle cx="1781.2" cy="1125.1" r="4.4"/><circle cx="1826.5" cy="1065.3" r="4.4"/><circle cx="2058.1" cy="688.1" r="4.4"/><circle cx="1917.0" cy="951.9" r="4.4"/><circle cx="1828.9" cy="1099.4" r="4.4"/><circle cx="1941.8" cy="1053.8" r="4.4"/><circle cx="1952.5" cy="1025.4" r="4.4"/><circle cx="1733.1" cy="1159.5" r="4.4"/><circle cx="1761.2" cy="1130.9" r="4.4"/><circle cx="1908.3" cy="1070.1" r="4.4"/><circle cx="1717.1" cy="1155.9" r="4.4"/><circle cx="1753.7" cy="1140.7" r="4.4"/><circle cx="1818.5" cy="1105.6" r="4.4"/><circle cx="1744.5" cy="1105.3" r="4.4"/><circle cx="1847.2" cy="990.6" r="4.4"/><circle cx="1792.7" cy="1148.1" r="4.4"/><circle cx="1849.4" cy="1111.2" r="4.4"/><circle cx="1781.6" cy="1157.1" r="4.4"/><circle cx="1691.2" cy="1191.3" r="4.4"/><circle cx="1726.8" cy="1140.6" r="4.4"/><circle cx="1771.2" cy="1159.8" r="4.4"/><circle cx="1934.9" cy="1070.1" r="4.4"/><circle cx="1747.5" cy="1160.2" r="4.4"/><circle cx="1686.6" cy="1150.0" r="4.4"/><circle cx="1794.2" cy="1142.6" r="4.4"/><circle cx="1915.0" cy="1049.5" r="4.4"/><circle cx="1837.8" cy="1058.1" r="4.4"/><circle cx="1727.8" cy="1136.8" r="4.4"/><circle cx="2052.5" cy="805.3" r="4.4"/><circle cx="1952.2" cy="919.3" r="4.4"/><circle cx="1795.6" cy="1155.9" r="4.4"/><circle cx="1709.7" cy="1148.7" r="4.4"/><circle cx="1959.7" cy="1018.1" r="4.4"/><circle cx="1790.4" cy="1097.5" r="4.4"/><circle cx="1855.2" cy="1048.6" r="4.4"/><circle cx="1769.5" cy="1155.3" r="4.4"/><circle cx="1990.9" cy="819.9" r="4.4"/><circle cx="1705.6" cy="1163.5" r="4.4"/><circle cx="1850.9" cy="1032.2" r="4.4"/><circle cx="1774.7" cy="1142.5" r="4.4"/><circle cx="1740.3" cy="1155.1" r="4.4"/><circle cx="1762.5" cy="1156.9" r="4.4"/><circle cx="1713.0" cy="1156.6" r="4.4"/><circle cx="1795.5" cy="1125.5" r="4.4"/><circle cx="1782.7" cy="1137.4" r="4.4"/><circle cx="1740.0" cy="1135.6" r="4.4"/><circle cx="1758.6" cy="1155.8" r="4.4"/><circle cx="2024.0" cy="920.5" r="4.4"/><circle cx="1811.7" cy="1111.1" r="4.4"/><circle cx="1898.6" cy="1116.8" r="4.4"/><circle cx="1703.9" cy="1168.8" r="4.4"/><circle cx="1729.3" cy="1162.9" r="4.4"/><circle cx="1796.9" cy="1175.2" r="4.4"/><circle cx="1670.6" cy="1165.7" r="4.4"/><circle cx="1797.0" cy="1117.4" r="4.4"/><circle cx="2070.3" cy="721.6" r="4.4"/><circle cx="1684.6" cy="1163.0" r="4.4"/><circle cx="1850.8" cy="1022.8" r="4.4"/><circle cx="1733.8" cy="1125.4" r="4.4"/><circle cx="1662.4" cy="1169.7" r="4.4"/><circle cx="1887.8" cy="982.7" r="4.4"/><circle cx="1784.3" cy="1124.6" r="4.4"/><circle cx="1907.6" cy="1062.5" r="4.4"/><circle cx="2033.0" cy="824.2" r="4.4"/><circle cx="1867.8" cy="1025.0" r="4.4"/><circle cx="1786.5" cy="1124.7" r="4.4"/><circle cx="1707.0" cy="1159.0" r="4.4"/><circle cx="1756.0" cy="1154.1" r="4.4"/><circle cx="1902.0" cy="1010.0" r="4.4"/><circle cx="1829.9" cy="1087.1" r="4.4"/><circle cx="1714.5" cy="1169.9" r="4.4"/><circle cx="1809.8" cy="1112.1" r="4.4"/><circle cx="1802.5" cy="1108.3" r="4.4"/><circle cx="1923.8" cy="1026.8" r="4.4"/><circle cx="1717.7" cy="1139.3" r="4.4"/><circle cx="1793.2" cy="1110.5" r="4.4"/><circle cx="1749.1" cy="1159.6" r="4.4"/><circle cx="1782.0" cy="1136.4" r="4.4"/><circle cx="1930.6" cy="998.7" r="4.4"/><circle cx="1767.5" cy="1119.7" r="4.4"/><circle cx="1925.4" cy="913.7" r="4.4"/><circle cx="1698.1" cy="1181.6" r="4.4"/><circle cx="1828.2" cy="1123.4" r="4.4"/><circle cx="1723.0" cy="1146.6" r="4.4"/><circle cx="1829.6" cy="1067.4" r="4.4"/><circle cx="1822.0" cy="1033.8" r="4.4"/><circle cx="1642.7" cy="1176.4" r="4.4"/><circle cx="1873.8" cy="1087.1" r="4.4"/><circle cx="1962.5" cy="1052.2" r="4.4"/><circle cx="1777.3" cy="1116.7" r="4.4"/><circle cx="2001.7" cy="1033.9" r="4.4"/><circle cx="1713.8" cy="1151.7" r="4.4"/><circle cx="1760.9" cy="1126.5" r="4.4"/><circle cx="1959.3" cy="959.4" r="4.4"/><circle cx="1903.5" cy="1111.7" r="4.4"/><circle cx="1789.0" cy="1152.6" r="4.4"/><circle cx="1880.1" cy="1032.5" r="4.4"/><circle cx="1973.0" cy="1061.9" r="4.4"/><circle cx="2005.4" cy="964.4" r="4.4"/><circle cx="1785.6" cy="1121.0" r="4.4"/><circle cx="1564.6" cy="1165.4" r="4.4"/><circle cx="1695.0" cy="1150.1" r="4.4"/><circle cx="1897.5" cy="1050.1" r="4.4"/><circle cx="1896.9" cy="1071.3" r="4.4"/><circle cx="1693.8" cy="1146.6" r="4.4"/><circle cx="1661.7" cy="1187.2" r="4.4"/><circle cx="2015.4" cy="855.5" r="4.4"/><circle cx="1763.0" cy="1135.5" r="4.4"/><circle cx="1956.5" cy="907.7" r="4.4"/><circle cx="1872.1" cy="1130.2" r="4.4"/><circle cx="1859.8" cy="1030.6" r="4.4"/><circle cx="2038.7" cy="912.8" r="4.4"/><circle cx="1734.0" cy="1135.6" r="4.4"/><circle cx="1766.7" cy="1128.0" r="4.4"/><circle cx="1790.5" cy="1111.9" r="4.4"/><circle cx="1721.8" cy="1134.4" r="4.4"/><circle cx="1726.6" cy="1153.1" r="4.4"/><circle cx="1702.7" cy="1146.2" r="4.4"/><circle cx="1952.6" cy="1012.3" r="4.4"/><circle cx="1694.4" cy="1160.3" r="4.4"/><circle cx="1789.0" cy="1161.1" r="4.4"/><circle cx="1800.1" cy="1133.5" r="4.4"/><circle cx="1761.3" cy="1151.0" r="4.4"/><circle cx="1907.9" cy="1082.5" r="4.4"/><circle cx="1926.6" cy="1048.9" r="4.4"/><circle cx="1902.9" cy="1122.1" r="4.4"/><circle cx="2042.8" cy="702.2" r="4.4"/><circle cx="1877.7" cy="1048.8" r="4.4"/><circle cx="1858.5" cy="980.7" r="4.4"/><circle cx="1825.7" cy="1134.4" r="4.4"/><circle cx="1772.8" cy="1157.5" r="4.4"/><circle cx="1706.1" cy="1153.9" r="4.4"/><circle cx="1903.1" cy="1103.7" r="4.4"/><circle cx="1760.0" cy="1141.5" r="4.4"/><circle cx="1741.6" cy="1160.7" r="4.4"/><circle cx="1900.1" cy="1050.2" r="4.4"/><circle cx="1677.2" cy="1167.9" r="4.4"/><circle cx="1649.9" cy="1173.4" r="4.4"/><circle cx="1838.3" cy="1032.9" r="4.4"/><circle cx="1942.9" cy="960.1" r="4.4"/><circle cx="1860.3" cy="1124.4" r="4.4"/><circle cx="1874.3" cy="1010.6" r="4.4"/><circle cx="1840.5" cy="1135.5" r="4.4"/><circle cx="1727.8" cy="1148.7" r="4.4"/><circle cx="1752.0" cy="1155.7" r="4.4"/><circle cx="1668.4" cy="1161.2" r="4.4"/><circle cx="1652.8" cy="1167.4" r="4.4"/><circle cx="1686.3" cy="1158.2" r="4.4"/><circle cx="1897.7" cy="1079.6" r="4.4"/><circle cx="1809.0" cy="1132.8" r="4.4"/><circle cx="1816.6" cy="1125.0" r="4.4"/><circle cx="1875.1" cy="1000.1" r="4.4"/><circle cx="1770.5" cy="1159.9" r="4.4"/><circle cx="1869.9" cy="1134.6" r="4.4"/><circle cx="1831.3" cy="1082.3" r="4.4"/><circle cx="1722.9" cy="1171.8" r="4.4"/><circle cx="1803.3" cy="1138.5" r="4.4"/><circle cx="1766.5" cy="1118.6" r="4.4"/><circle cx="1875.0" cy="1053.8" r="4.4"/><circle cx="2051.1" cy="915.9" r="4.4"/><circle cx="1744.7" cy="1162.6" r="4.4"/><circle cx="1690.8" cy="1159.0" r="4.4"/><circle cx="1767.2" cy="1157.0" r="4.4"/><circle cx="1903.2" cy="1042.0" r="4.4"/><circle cx="1989.9" cy="834.1" r="4.4"/><circle cx="1877.7" cy="1025.0" r="4.4"/><circle cx="1824.0" cy="1118.6" r="4.4"/><circle cx="1729.4" cy="1159.3" r="4.4"/><circle cx="1933.7" cy="977.5" r="4.4"/><circle cx="1998.0" cy="1058.4" r="4.4"/><circle cx="2021.8" cy="950.4" r="4.4"/><circle cx="1580.0" cy="1170.0" r="4.4"/><circle cx="1725.5" cy="1168.5" r="4.4"/><circle cx="1670.9" cy="1181.1" r="4.4"/><circle cx="1744.4" cy="1151.5" r="4.4"/><circle cx="1858.3" cy="1131.2" r="4.4"/><circle cx="1794.8" cy="1153.2" r="4.4"/><circle cx="1684.2" cy="1168.4" r="4.4"/><circle cx="1890.0" cy="1057.9" r="4.4"/><circle cx="1718.7" cy="1178.9" r="4.4"/><circle cx="1851.8" cy="1051.3" r="4.4"/><circle cx="1698.3" cy="1170.8" r="4.4"/><circle cx="1848.9" cy="1102.9" r="4.4"/><circle cx="1782.0" cy="1140.4" r="4.4"/><circle cx="1781.0" cy="1148.5" r="4.4"/><circle cx="1580.7" cy="1179.0" r="4.4"/><circle cx="1727.7" cy="1128.3" r="4.4"/><circle cx="1870.1" cy="1061.8" r="4.4"/><circle cx="1846.4" cy="1098.0" r="4.4"/><circle cx="1917.8" cy="964.4" r="4.4"/><circle cx="1775.4" cy="1147.0" r="4.4"/><circle cx="1867.7" cy="1054.5" r="4.4"/><circle cx="1762.2" cy="1143.0" r="4.4"/><circle cx="1933.9" cy="1042.4" r="4.4"/><circle cx="2061.3" cy="754.3" r="4.4"/><circle cx="1715.1" cy="1164.8" r="4.4"/><circle cx="1781.2" cy="1124.4" r="4.4"/><circle cx="1795.4" cy="1139.8" r="4.4"/><circle cx="1702.0" cy="1141.3" r="4.4"/><circle cx="1691.8" cy="1146.2" r="4.4"/><circle cx="1901.8" cy="1011.8" r="4.4"/><circle cx="1867.1" cy="1090.6" r="4.4"/><circle cx="1810.7" cy="1114.8" r="4.4"/><circle cx="1580.8" cy="1155.0" r="4.4"/><circle cx="1793.5" cy="1147.9" r="4.4"/><circle cx="1725.4" cy="1164.5" r="4.4"/><circle cx="2000.6" cy="944.3" r="4.4"/><circle cx="1930.6" cy="968.2" r="4.4"/><circle cx="1751.9" cy="1165.8" r="4.4"/><circle cx="1786.5" cy="1133.4" r="4.4"/><circle cx="1829.2" cy="1081.1" r="4.4"/><circle cx="1840.1" cy="1100.8" r="4.4"/><circle cx="1738.6" cy="1164.7" r="4.4"/><circle cx="1881.6" cy="1023.2" r="4.4"/><circle cx="1778.7" cy="1155.3" r="4.4"/><circle cx="1784.2" cy="1123.0" r="4.4"/><circle cx="1951.1" cy="862.0" r="4.4"/><circle cx="1707.2" cy="1178.5" r="4.4"/><circle cx="1873.6" cy="1069.5" r="4.4"/><circle cx="1580.8" cy="1163.6" r="4.4"/><circle cx="1600.6" cy="1166.7" r="4.4"/><circle cx="1838.6" cy="1126.4" r="4.4"/><circle cx="1851.9" cy="1094.8" r="4.4"/><circle cx="1814.4" cy="1140.2" r="4.4"/><circle cx="1753.4" cy="1144.9" r="4.4"/><circle cx="1930.2" cy="1000.1" r="4.4"/><circle cx="2012.2" cy="977.9" r="4.4"/><circle cx="1749.4" cy="1171.2" r="4.4"/><circle cx="1728.4" cy="1160.6" r="4.4"/><circle cx="1712.0" cy="1161.1" r="4.4"/><circle cx="2022.8" cy="914.9" r="4.4"/><circle cx="1711.6" cy="1169.2" r="4.4"/><circle cx="1775.1" cy="1143.0" r="4.4"/><circle cx="1719.1" cy="1155.1" r="4.4"/><circle cx="1778.6" cy="1172.5" r="4.4"/><circle cx="1898.8" cy="1024.1" r="4.4"/><circle cx="1736.2" cy="1123.5" r="4.4"/><circle cx="1694.7" cy="1172.3" r="4.4"/><circle cx="1886.9" cy="1081.8" r="4.4"/><circle cx="1789.7" cy="1134.8" r="4.4"/><circle cx="1756.5" cy="1138.3" r="4.4"/><circle cx="1763.3" cy="1106.0" r="4.4"/><circle cx="1756.1" cy="1123.2" r="4.4"/><circle cx="1741.5" cy="1155.6" r="4.4"/><circle cx="1850.5" cy="1077.6" r="4.4"/><circle cx="1906.0" cy="1018.5" r="4.4"/><circle cx="1775.8" cy="1155.2" r="4.4"/><circle cx="1685.4" cy="1152.0" r="4.4"/><circle cx="1941.0" cy="972.1" r="4.4"/><circle cx="1740.3" cy="1132.4" r="4.4"/><circle cx="1701.9" cy="1166.0" r="4.4"/><circle cx="1714.6" cy="1152.0" r="4.4"/><circle cx="1705.4" cy="1178.7" r="4.4"/><circle cx="1576.5" cy="1178.7" r="4.4"/><circle cx="1703.4" cy="1172.8" r="4.4"/><circle cx="1794.6" cy="1158.8" r="4.4"/><circle cx="1935.5" cy="974.0" r="4.4"/><circle cx="1849.6" cy="1095.0" r="4.4"/><circle cx="1702.7" cy="1165.3" r="4.4"/><circle cx="1640.1" cy="1175.0" r="4.4"/><circle cx="1962.3" cy="855.8" r="4.4"/><circle cx="1790.5" cy="1112.2" r="4.4"/><circle cx="1897.7" cy="1056.4" r="4.4"/><circle cx="1673.0" cy="1169.1" r="4.4"/><circle cx="1797.1" cy="1109.6" r="4.4"/><circle cx="1955.9" cy="882.3" r="4.4"/><circle cx="2013.6" cy="919.7" r="4.4"/><circle cx="1902.5" cy="1108.6" r="4.4"/><circle cx="1790.4" cy="1132.1" r="4.4"/><circle cx="1858.9" cy="1040.1" r="4.4"/><circle cx="1864.3" cy="1054.3" r="4.4"/><circle cx="1879.3" cy="1081.2" r="4.4"/><circle cx="1756.0" cy="1120.3" r="4.4"/><circle cx="1768.9" cy="1144.8" r="4.4"/><circle cx="1953.0" cy="952.4" r="4.4"/><circle cx="1983.0" cy="1072.6" r="4.4"/><circle cx="2048.5" cy="965.1" r="4.4"/><circle cx="1692.1" cy="1158.3" r="4.4"/><circle cx="1735.6" cy="1154.2" r="4.4"/><circle cx="1827.8" cy="1099.5" r="4.4"/><circle cx="1693.1" cy="1141.5" r="4.4"/><circle cx="1942.7" cy="1034.5" r="4.4"/><circle cx="2045.3" cy="863.8" r="4.4"/><circle cx="1654.3" cy="1171.6" r="4.4"/><circle cx="2045.1" cy="939.4" r="4.4"/><circle cx="1890.1" cy="1060.3" r="4.4"/><circle cx="1714.5" cy="1165.3" r="4.4"/><circle cx="1887.1" cy="1119.8" r="4.4"/><circle cx="1658.1" cy="1171.1" r="4.4"/><circle cx="1819.4" cy="1121.5" r="4.4"/><circle cx="1909.5" cy="978.9" r="4.4"/><circle cx="1835.7" cy="1105.5" r="4.4"/><circle cx="1688.8" cy="1156.9" r="4.4"/><circle cx="1720.3" cy="1145.1" r="4.4"/><circle cx="1740.1" cy="1143.3" r="4.4"/><circle cx="1763.3" cy="1159.3" r="4.4"/><circle cx="1920.7" cy="945.7" r="4.4"/><circle cx="1917.2" cy="1083.0" r="4.4"/><circle cx="1649.4" cy="1171.3" r="4.4"/><circle cx="1877.7" cy="904.8" r="4.4"/><circle cx="2024.8" cy="902.8" r="4.4"/><circle cx="1631.3" cy="1142.8" r="4.4"/><circle cx="1859.2" cy="1095.9" r="4.4"/><circle cx="1797.5" cy="1106.9" r="4.4"/><circle cx="1720.2" cy="1163.1" r="4.4"/><circle cx="1698.9" cy="1167.7" r="4.4"/><circle cx="1993.1" cy="1013.5" r="4.4"/><circle cx="1951.8" cy="1073.0" r="4.4"/><circle cx="1734.6" cy="1147.4" r="4.4"/><circle cx="1851.0" cy="1126.0" r="4.4"/><circle cx="1821.2" cy="1132.3" r="4.4"/><circle cx="2064.6" cy="780.3" r="4.4"/><circle cx="1711.7" cy="1158.9" r="4.4"/><circle cx="1749.7" cy="1161.0" r="4.4"/><circle cx="2081.9" cy="935.5" r="4.4"/><circle cx="1782.6" cy="1115.2" r="4.4"/><circle cx="1714.2" cy="1158.9" r="4.4"/><circle cx="1799.9" cy="1115.5" r="4.4"/><circle cx="1796.2" cy="1128.3" r="4.4"/><circle cx="2026.1" cy="726.6" r="4.4"/><circle cx="1806.8" cy="1129.6" r="4.4"/><circle cx="1762.3" cy="1167.1" r="4.4"/><circle cx="1730.0" cy="1146.5" r="4.4"/><circle cx="1850.6" cy="1106.1" r="4.4"/><circle cx="1671.6" cy="1169.6" r="4.4"/><circle cx="1748.9" cy="1162.5" r="4.4"/><circle cx="1712.6" cy="1153.7" r="4.4"/><circle cx="1720.5" cy="1160.5" r="4.4"/><circle cx="1653.2" cy="1176.0" r="4.4"/><circle cx="1961.7" cy="1070.0" r="4.4"/><circle cx="1737.6" cy="1140.7" r="4.4"/><circle cx="1782.2" cy="1125.3" r="4.4"/><circle cx="1838.3" cy="1047.3" r="4.4"/><circle cx="1798.6" cy="1141.0" r="4.4"/><circle cx="1813.8" cy="1141.3" r="4.4"/><circle cx="1697.8" cy="1159.1" r="4.4"/><circle cx="1758.3" cy="1147.4" r="4.4"/><circle cx="1726.4" cy="1169.1" r="4.4"/><circle cx="1768.3" cy="1154.4" r="4.4"/><circle cx="1824.5" cy="1129.2" r="4.4"/><circle cx="2029.5" cy="922.6" r="4.4"/><circle cx="1665.1" cy="1166.2" r="4.4"/><circle cx="1696.4" cy="1165.5" r="4.4"/><circle cx="1988.2" cy="1008.1" r="4.4"/><circle cx="1679.9" cy="1165.3" r="4.4"/><circle cx="1802.6" cy="1141.6" r="4.4"/><circle cx="1960.8" cy="979.0" r="4.4"/><circle cx="1664.0" cy="1162.2" r="4.4"/><circle cx="1856.0" cy="1144.6" r="4.4"/><circle cx="1800.4" cy="1127.0" r="4.4"/><circle cx="1881.5" cy="1007.1" r="4.4"/><circle cx="1807.3" cy="1105.4" r="4.4"/><circle cx="1974.4" cy="933.3" r="4.4"/><circle cx="1752.5" cy="1147.2" r="4.4"/><circle cx="1971.1" cy="1014.4" r="4.4"/><circle cx="2102.6" cy="946.4" r="4.4"/><circle cx="1798.1" cy="1109.1" r="4.4"/><circle cx="1796.7" cy="1091.0" r="4.4"/><circle cx="1805.4" cy="1102.6" r="4.4"/><circle cx="1791.4" cy="1110.3" r="4.4"/><circle cx="1558.0" cy="1142.6" r="4.4"/><circle cx="1732.2" cy="1163.1" r="4.4"/><circle cx="1882.8" cy="1052.8" r="4.4"/><circle cx="1719.8" cy="1147.6" r="4.4"/><circle cx="1897.6" cy="1022.0" r="4.4"/><circle cx="1720.9" cy="1179.2" r="4.4"/><circle cx="2104.3" cy="882.0" r="4.4"/><circle cx="1809.4" cy="1102.2" r="4.4"/><circle cx="1771.3" cy="1148.7" r="4.4"/><circle cx="1970.4" cy="1105.0" r="4.4"/><circle cx="1784.0" cy="1129.1" r="4.4"/><circle cx="1790.7" cy="1169.8" r="4.4"/><circle cx="1755.3" cy="1125.6" r="4.4"/><circle cx="1936.6" cy="971.6" r="4.4"/><circle cx="1962.9" cy="938.6" r="4.4"/><circle cx="2074.5" cy="906.5" r="4.4"/><circle cx="1838.5" cy="1122.8" r="4.4"/><circle cx="1885.1" cy="1073.4" r="4.4"/><circle cx="1859.5" cy="1088.1" r="4.4"/><circle cx="1906.7" cy="1084.8" r="4.4"/><circle cx="1929.8" cy="1028.7" r="4.4"/><circle cx="1838.1" cy="1083.0" r="4.4"/><circle cx="1716.4" cy="1145.6" r="4.4"/><circle cx="2002.5" cy="1009.5" r="4.4"/><circle cx="1750.2" cy="1155.4" r="4.4"/><circle cx="1825.0" cy="1112.2" r="4.4"/><circle cx="1970.1" cy="1036.2" r="4.4"/><circle cx="1777.4" cy="1122.6" r="4.4"/><circle cx="1862.9" cy="999.0" r="4.4"/><circle cx="1693.3" cy="1155.4" r="4.4"/><circle cx="1842.9" cy="1102.3" r="4.4"/><circle cx="1776.4" cy="1113.1" r="4.4"/><circle cx="1956.1" cy="852.3" r="4.4"/><circle cx="1777.8" cy="1145.4" r="4.4"/><circle cx="1915.8" cy="1026.5" r="4.4"/><circle cx="1877.1" cy="1040.3" r="4.4"/><circle cx="1923.0" cy="1042.3" r="4.4"/><circle cx="1915.8" cy="1071.7" r="4.4"/><circle cx="1998.4" cy="999.3" r="4.4"/><circle cx="1903.5" cy="1052.2" r="4.4"/><circle cx="1774.0" cy="1154.3" r="4.4"/><circle cx="1782.4" cy="1138.4" r="4.4"/><circle cx="2019.9" cy="933.7" r="4.4"/><circle cx="1730.1" cy="1141.4" r="4.4"/><circle cx="1709.1" cy="1148.4" r="4.4"/><circle cx="1858.7" cy="1131.1" r="4.4"/><circle cx="1763.6" cy="1120.3" r="4.4"/><circle cx="1803.1" cy="1144.3" r="4.4"/><circle cx="1732.5" cy="1133.8" r="4.4"/><circle cx="1759.1" cy="1138.6" r="4.4"/><circle cx="1825.3" cy="1104.6" r="4.4"/><circle cx="1813.0" cy="1108.6" r="4.4"/><circle cx="1793.5" cy="1144.9" r="4.4"/><circle cx="1665.7" cy="1168.5" r="4.4"/><circle cx="1680.7" cy="1147.9" r="4.4"/><circle cx="1859.7" cy="1102.6" r="4.4"/><circle cx="1823.5" cy="1098.5" r="4.4"/><circle cx="1817.4" cy="1142.0" r="4.4"/><circle cx="1799.0" cy="1110.6" r="4.4"/><circle cx="1836.5" cy="1127.1" r="4.4"/><circle cx="1879.7" cy="1041.4" r="4.4"/><circle cx="2040.7" cy="837.6" r="4.4"/><circle cx="1733.6" cy="1143.2" r="4.4"/><circle cx="1728.8" cy="1167.2" r="4.4"/><circle cx="1809.1" cy="1000.7" r="4.4"/><circle cx="1891.7" cy="1081.9" r="4.4"/><circle cx="1712.6" cy="1162.4" r="4.4"/><circle cx="1928.3" cy="1067.3" r="4.4"/><circle cx="1817.5" cy="1071.4" r="4.4"/><circle cx="1655.1" cy="1167.5" r="4.4"/><circle cx="2100.4" cy="697.8" r="4.4"/><circle cx="1694.1" cy="1168.9" r="4.4"/><circle cx="1747.8" cy="1136.9" r="4.4"/><circle cx="1819.2" cy="1141.6" r="4.4"/><circle cx="1884.1" cy="1017.7" r="4.4"/><circle cx="1830.4" cy="1114.6" r="4.4"/><circle cx="1886.4" cy="1096.0" r="4.4"/><circle cx="1792.9" cy="1129.5" r="4.4"/><circle cx="1825.4" cy="1132.2" r="4.4"/><circle cx="1852.4" cy="1109.2" r="4.4"/><circle cx="1815.9" cy="1086.2" r="4.4"/><circle cx="1947.8" cy="1090.2" r="4.4"/><circle cx="1701.5" cy="1150.6" r="4.4"/><circle cx="1790.3" cy="1131.0" r="4.4"/><circle cx="1814.8" cy="1121.8" r="4.4"/><circle cx="1768.7" cy="1127.4" r="4.4"/><circle cx="1751.2" cy="1137.4" r="4.4"/><circle cx="1669.3" cy="1172.2" r="4.4"/><circle cx="1801.1" cy="1127.1" r="4.4"/><circle cx="1953.9" cy="937.1" r="4.4"/><circle cx="1740.0" cy="1145.5" r="4.4"/><circle cx="1792.7" cy="1124.2" r="4.4"/><circle cx="1659.2" cy="1180.2" r="4.4"/><circle cx="1860.9" cy="1119.0" r="4.4"/><circle cx="1825.0" cy="1121.6" r="4.4"/><circle cx="1773.8" cy="1129.9" r="4.4"/><circle cx="1729.6" cy="1150.5" r="4.4"/><circle cx="1765.2" cy="1153.6" r="4.4"/><circle cx="1690.3" cy="1144.3" r="4.4"/><circle cx="2038.6" cy="917.5" r="4.4"/><circle cx="1890.9" cy="1075.3" r="4.4"/><circle cx="1948.1" cy="1021.0" r="4.4"/><circle cx="1891.2" cy="943.0" r="4.4"/><circle cx="1912.0" cy="1119.1" r="4.4"/><circle cx="1933.6" cy="984.9" r="4.4"/><circle cx="1757.6" cy="1142.0" r="4.4"/><circle cx="1701.2" cy="1155.4" r="4.4"/><circle cx="1675.3" cy="1125.9" r="4.4"/><circle cx="1741.6" cy="1138.0" r="4.4"/><circle cx="1703.8" cy="1153.9" r="4.4"/><circle cx="1736.0" cy="1170.0" r="4.4"/><circle cx="1676.5" cy="1155.3" r="4.4"/><circle cx="1714.5" cy="1166.6" r="4.4"/><circle cx="1647.7" cy="1178.4" r="4.4"/><circle cx="1955.1" cy="970.4" r="4.4"/><circle cx="2022.9" cy="943.3" r="4.4"/><circle cx="1677.7" cy="1168.9" r="4.4"/><circle cx="1758.6" cy="1103.1" r="4.4"/><circle cx="1837.0" cy="1063.4" r="4.4"/><circle cx="2011.8" cy="884.0" r="4.4"/><circle cx="1705.3" cy="1163.2" r="4.4"/><circle cx="1822.7" cy="1080.8" r="4.4"/><circle cx="1728.0" cy="1143.4" r="4.4"/><circle cx="1628.7" cy="1178.2" r="4.4"/><circle cx="1822.4" cy="1121.5" r="4.4"/><circle cx="1722.0" cy="1149.6" r="4.4"/><circle cx="1681.9" cy="1167.2" r="4.4"/><circle cx="1674.0" cy="1160.2" r="4.4"/><circle cx="1905.3" cy="1099.5" r="4.4"/><circle cx="1822.9" cy="1137.9" r="4.4"/><circle cx="1671.3" cy="1157.2" r="4.4"/><circle cx="1962.8" cy="1053.1" r="4.4"/><circle cx="1764.8" cy="1143.5" r="4.4"/><circle cx="1766.9" cy="1132.8" r="4.4"/><circle cx="1990.4" cy="1035.5" r="4.4"/><circle cx="1769.1" cy="1122.0" r="4.4"/><circle cx="1766.6" cy="1163.0" r="4.4"/><circle cx="1938.0" cy="969.8" r="4.4"/><circle cx="2001.2" cy="924.3" r="4.4"/><circle cx="1759.0" cy="1150.2" r="4.4"/><circle cx="1971.9" cy="1026.9" r="4.4"/><circle cx="1849.8" cy="1132.3" r="4.4"/><circle cx="1724.7" cy="1153.9" r="4.4"/><circle cx="1775.5" cy="1166.9" r="4.4"/><circle cx="1862.4" cy="993.0" r="4.4"/><circle cx="1631.1" cy="1157.4" r="4.4"/><circle cx="1753.8" cy="1168.9" r="4.4"/><circle cx="1683.3" cy="1171.4" r="4.4"/><circle cx="1993.2" cy="920.0" r="4.4"/><circle cx="1799.1" cy="1130.5" r="4.4"/><circle cx="1786.8" cy="1117.1" r="4.4"/><circle cx="1972.3" cy="911.5" r="4.4"/><circle cx="1838.6" cy="1121.2" r="4.4"/><circle cx="1769.3" cy="1137.8" r="4.4"/><circle cx="2009.6" cy="918.8" r="4.4"/><circle cx="1614.9" cy="1168.4" r="4.4"/><circle cx="1877.3" cy="1074.8" r="4.4"/><circle cx="1773.3" cy="1146.8" r="4.4"/><circle cx="1827.8" cy="1135.0" r="4.4"/><circle cx="1693.9" cy="1161.2" r="4.4"/><circle cx="1909.5" cy="1038.1" r="4.4"/><circle cx="1858.5" cy="1058.5" r="4.4"/><circle cx="1814.8" cy="1101.5" r="4.4"/><circle cx="1737.5" cy="1160.7" r="4.4"/><circle cx="1679.6" cy="1143.1" r="4.4"/><circle cx="1889.2" cy="1037.0" r="4.4"/><circle cx="1630.5" cy="1160.3" r="4.4"/><circle cx="1866.9" cy="1020.8" r="4.4"/><circle cx="1847.7" cy="1132.1" r="4.4"/><circle cx="1938.0" cy="1025.8" r="4.4"/><circle cx="1929.9" cy="1052.1" r="4.4"/><circle cx="1980.1" cy="1020.2" r="4.4"/><circle cx="1833.3" cy="1033.6" r="4.4"/><circle cx="1802.2" cy="1105.7" r="4.4"/><circle cx="1736.4" cy="1177.0" r="4.4"/><circle cx="1797.9" cy="1107.2" r="4.4"/><circle cx="1700.3" cy="1164.9" r="4.4"/><circle cx="1722.1" cy="1145.1" r="4.4"/><circle cx="1940.6" cy="1005.3" r="4.4"/><circle cx="1677.7" cy="1166.6" r="4.4"/><circle cx="1724.9" cy="1160.9" r="4.4"/><circle cx="1673.8" cy="1166.8" r="4.4"/><circle cx="1744.4" cy="1163.5" r="4.4"/><circle cx="1911.3" cy="1043.3" r="4.4"/><circle cx="1701.7" cy="1156.9" r="4.4"/><circle cx="1749.7" cy="1137.7" r="4.4"/><circle cx="1694.6" cy="1169.5" r="4.4"/><circle cx="1682.2" cy="1164.0" r="4.4"/><circle cx="1678.0" cy="1152.4" r="4.4"/><circle cx="1809.9" cy="1127.3" r="4.4"/><circle cx="1854.5" cy="1070.1" r="4.4"/><circle cx="1762.3" cy="1168.1" r="4.4"/><circle cx="1892.9" cy="1064.9" r="4.4"/><circle cx="1773.2" cy="1142.9" r="4.4"/><circle cx="1835.5" cy="1078.2" r="4.4"/><circle cx="1777.9" cy="1137.2" r="4.4"/><circle cx="1752.9" cy="1145.0" r="4.4"/><circle cx="1730.4" cy="1162.1" r="4.4"/><circle cx="1768.4" cy="1166.9" r="4.4"/><circle cx="1591.8" cy="1175.9" r="4.4"/><circle cx="1558.9" cy="1168.7" r="4.4"/><circle cx="1848.6" cy="1110.5" r="4.4"/><circle cx="1716.9" cy="1159.8" r="4.4"/><circle cx="1868.8" cy="1043.4" r="4.4"/><circle cx="1836.1" cy="1092.1" r="4.4"/><circle cx="1833.4" cy="1029.5" r="4.4"/><circle cx="1743.6" cy="1142.4" r="4.4"/><circle cx="1693.8" cy="1179.7" r="4.4"/><circle cx="2048.5" cy="917.4" r="4.4"/><circle cx="1698.7" cy="1151.5" r="4.4"/><circle cx="1692.3" cy="1148.9" r="4.4"/><circle cx="1775.2" cy="1124.2" r="4.4"/><circle cx="1865.8" cy="1096.3" r="4.4"/><circle cx="1981.8" cy="931.1" r="4.4"/><circle cx="1875.0" cy="1059.2" r="4.4"/><circle cx="1898.0" cy="1050.5" r="4.4"/><circle cx="1826.3" cy="1121.7" r="4.4"/><circle cx="1818.0" cy="1151.3" r="4.4"/><circle cx="2009.4" cy="965.5" r="4.4"/><circle cx="2055.9" cy="731.6" r="4.4"/><circle cx="1856.4" cy="1084.9" r="4.4"/><circle cx="1816.0" cy="1157.0" r="4.4"/><circle cx="1964.6" cy="985.4" r="4.4"/><circle cx="1746.9" cy="1167.3" r="4.4"/><circle cx="1847.9" cy="1002.8" r="4.4"/><circle cx="2063.9" cy="827.3" r="4.4"/><circle cx="1665.8" cy="1176.6" r="4.4"/><circle cx="2056.9" cy="760.9" r="4.4"/><circle cx="1865.8" cy="1091.5" r="4.4"/><circle cx="1749.5" cy="1130.4" r="4.4"/><circle cx="1797.4" cy="1129.7" r="4.4"/><circle cx="1742.5" cy="1161.0" r="4.4"/><circle cx="1853.8" cy="1066.0" r="4.4"/><circle cx="1703.5" cy="1174.1" r="4.4"/><circle cx="1751.3" cy="1125.8" r="4.4"/><circle cx="1555.4" cy="1161.6" r="4.4"/><circle cx="1677.1" cy="1185.5" r="4.4"/><circle cx="1960.1" cy="1096.3" r="4.4"/><circle cx="1949.7" cy="865.8" r="4.4"/><circle cx="1690.0" cy="1140.2" r="4.4"/><circle cx="1735.6" cy="1173.8" r="4.4"/><circle cx="1687.4" cy="1143.6" r="4.4"/><circle cx="1832.7" cy="1101.7" r="4.4"/><circle cx="1713.4" cy="1160.5" r="4.4"/><circle cx="1714.7" cy="1167.4" r="4.4"/><circle cx="1832.5" cy="1112.8" r="4.4"/><circle cx="1865.3" cy="1014.4" r="4.4"/><circle cx="1710.3" cy="1178.5" r="4.4"/><circle cx="1694.1" cy="1175.7" r="4.4"/><circle cx="1824.4" cy="1030.9" r="4.4"/><circle cx="1733.7" cy="1161.4" r="4.4"/><circle cx="1931.1" cy="1064.3" r="4.4"/><circle cx="1868.8" cy="1089.0" r="4.4"/><circle cx="1795.6" cy="1141.7" r="4.4"/><circle cx="1736.9" cy="1149.9" r="4.4"/><circle cx="1770.2" cy="1135.9" r="4.4"/><circle cx="1696.6" cy="1170.7" r="4.4"/><circle cx="1981.0" cy="1005.3" r="4.4"/><circle cx="1938.2" cy="1055.0" r="4.4"/><circle cx="1719.2" cy="1130.8" r="4.4"/><circle cx="1717.6" cy="1145.9" r="4.4"/><circle cx="1860.8" cy="971.4" r="4.4"/><circle cx="1885.5" cy="1095.0" r="4.4"/><circle cx="1728.9" cy="1142.9" r="4.4"/><circle cx="1920.0" cy="1022.6" r="4.4"/><circle cx="1819.3" cy="1135.3" r="4.4"/><circle cx="1957.3" cy="887.5" r="4.4"/><circle cx="1826.3" cy="1089.2" r="4.4"/><circle cx="1856.2" cy="1104.4" r="4.4"/><circle cx="1870.4" cy="1098.7" r="4.4"/><circle cx="1844.6" cy="1071.7" r="4.4"/><circle cx="1773.8" cy="1162.4" r="4.4"/><circle cx="1857.9" cy="1023.9" r="4.4"/><circle cx="1902.3" cy="1006.9" r="4.4"/><circle cx="1796.3" cy="1134.8" r="4.4"/><circle cx="1821.9" cy="1079.3" r="4.4"/><circle cx="1980.8" cy="788.6" r="4.4"/><circle cx="1796.2" cy="1107.7" r="4.4"/><circle cx="1801.4" cy="1119.6" r="4.4"/><circle cx="1912.2" cy="917.0" r="4.4"/><circle cx="1759.1" cy="1110.8" r="4.4"/><circle cx="1695.0" cy="1172.5" r="4.4"/><circle cx="1731.5" cy="1166.5" r="4.4"/><circle cx="1707.6" cy="1163.3" r="4.4"/><circle cx="1731.4" cy="1170.2" r="4.4"/><circle cx="1745.9" cy="1158.8" r="4.4"/><circle cx="1761.3" cy="1123.7" r="4.4"/><circle cx="1667.4" cy="1176.1" r="4.4"/><circle cx="1838.0" cy="1095.3" r="4.4"/><circle cx="1796.6" cy="1078.4" r="4.4"/><circle cx="1775.1" cy="1163.7" r="4.4"/><circle cx="1720.6" cy="1160.3" r="4.4"/><circle cx="1734.1" cy="1137.7" r="4.4"/><circle cx="1882.7" cy="1093.5" r="4.4"/><circle cx="1885.5" cy="1068.0" r="4.4"/><circle cx="1654.2" cy="1174.8" r="4.4"/><circle cx="1892.4" cy="1057.0" r="4.4"/><circle cx="1906.3" cy="982.9" r="4.4"/><circle cx="1645.7" cy="1188.0" r="4.4"/><circle cx="1788.6" cy="1130.7" r="4.4"/><circle cx="1994.2" cy="1034.9" r="4.4"/><circle cx="1733.0" cy="1153.1" r="4.4"/><circle cx="1855.5" cy="1104.9" r="4.4"/><circle cx="1679.1" cy="1144.3" r="4.4"/><circle cx="1908.8" cy="994.2" r="4.4"/><circle cx="1929.6" cy="983.4" r="4.4"/><circle cx="2057.4" cy="725.5" r="4.4"/><circle cx="1717.5" cy="1140.9" r="4.4"/><circle cx="1987.9" cy="866.0" r="4.4"/><circle cx="1716.2" cy="1148.3" r="4.4"/><circle cx="1818.2" cy="1136.3" r="4.4"/><circle cx="1692.9" cy="1159.6" r="4.4"/><circle cx="1782.6" cy="1132.3" r="4.4"/><circle cx="1835.3" cy="1122.2" r="4.4"/><circle cx="1772.3" cy="1128.0" r="4.4"/><circle cx="1733.3" cy="1173.5" r="4.4"/><circle cx="1902.2" cy="958.3" r="4.4"/><circle cx="1738.3" cy="1147.8" r="4.4"/><circle cx="1684.8" cy="1188.5" r="4.4"/><circle cx="1716.2" cy="1150.2" r="4.4"/><circle cx="1816.2" cy="1160.4" r="4.4"/><circle cx="1682.3" cy="1163.3" r="4.4"/><circle cx="1959.2" cy="916.3" r="4.4"/><circle cx="1996.6" cy="969.1" r="4.4"/><circle cx="1964.2" cy="1042.2" r="4.4"/><circle cx="1870.0" cy="1098.2" r="4.4"/><circle cx="1754.9" cy="1168.3" r="4.4"/><circle cx="1893.3" cy="987.4" r="4.4"/><circle cx="1902.9" cy="1046.9" r="4.4"/><circle cx="1894.9" cy="1094.2" r="4.4"/><circle cx="1817.8" cy="1128.4" r="4.4"/><circle cx="1714.1" cy="1164.2" r="4.4"/><circle cx="1741.0" cy="1120.7" r="4.4"/><circle cx="1720.2" cy="1173.6" r="4.4"/><circle cx="1709.4" cy="1169.4" r="4.4"/><circle cx="1836.0" cy="1131.5" r="4.4"/><circle cx="1747.7" cy="1137.9" r="4.4"/><circle cx="1933.2" cy="1022.3" r="4.4"/><circle cx="1714.5" cy="1121.1" r="4.4"/><circle cx="1886.7" cy="1089.6" r="4.4"/><circle cx="2010.1" cy="957.7" r="4.4"/><circle cx="1731.7" cy="1166.2" r="4.4"/><circle cx="1704.9" cy="1164.3" r="4.4"/><circle cx="1739.8" cy="1168.4" r="4.4"/><circle cx="1913.8" cy="995.4" r="4.4"/><circle cx="1912.0" cy="1008.5" r="4.4"/><circle cx="1952.5" cy="1028.4" r="4.4"/><circle cx="1714.4" cy="1152.9" r="4.4"/><circle cx="1832.7" cy="1056.3" r="4.4"/><circle cx="1852.0" cy="1009.6" r="4.4"/><circle cx="1771.4" cy="1153.1" r="4.4"/><circle cx="1739.6" cy="1134.2" r="4.4"/><circle cx="1845.9" cy="1020.8" r="4.4"/><circle cx="1797.1" cy="1136.8" r="4.4"/><circle cx="2091.4" cy="837.4" r="4.4"/><circle cx="1775.5" cy="1165.3" r="4.4"/><circle cx="1759.2" cy="1150.0" r="4.4"/><circle cx="1695.4" cy="1173.2" r="4.4"/><circle cx="1742.3" cy="1169.1" r="4.4"/><circle cx="1664.2" cy="1176.7" r="4.4"/><circle cx="1639.4" cy="1165.0" r="4.4"/><circle cx="1729.9" cy="1155.8" r="4.4"/><circle cx="1724.3" cy="1167.7" r="4.4"/><circle cx="1874.6" cy="1042.5" r="4.4"/><circle cx="1880.5" cy="1081.6" r="4.4"/><circle cx="1720.7" cy="1155.9" r="4.4"/><circle cx="1736.6" cy="1141.5" r="4.4"/><circle cx="1743.7" cy="1146.4" r="4.4"/><circle cx="2000.9" cy="995.5" r="4.4"/><circle cx="1915.3" cy="1054.3" r="4.4"/><circle cx="1677.3" cy="1140.5" r="4.4"/><circle cx="1882.5" cy="1053.8" r="4.4"/><circle cx="1804.4" cy="1155.4" r="4.4"/><circle cx="1958.9" cy="964.8" r="4.4"/><circle cx="1712.8" cy="1161.6" r="4.4"/><circle cx="1690.2" cy="1152.7" r="4.4"/><circle cx="1719.2" cy="1157.3" r="4.4"/><circle cx="1723.6" cy="1145.4" r="4.4"/><circle cx="1977.5" cy="942.8" r="4.4"/><circle cx="1877.1" cy="1119.9" r="4.4"/><circle cx="1627.5" cy="1160.9" r="4.4"/><circle cx="1696.8" cy="1164.0" r="4.4"/><circle cx="1687.8" cy="1173.2" r="4.4"/><circle cx="1683.9" cy="1153.3" r="4.4"/><circle cx="1695.5" cy="1176.4" r="4.4"/><circle cx="1696.3" cy="1183.9" r="4.4"/><circle cx="1753.8" cy="1154.6" r="4.4"/><circle cx="1693.9" cy="1160.7" r="4.4"/><circle cx="1756.1" cy="1131.4" r="4.4"/><circle cx="1758.8" cy="1135.4" r="4.4"/><circle cx="1701.9" cy="1148.2" r="4.4"/><circle cx="1745.2" cy="1151.4" r="4.4"/><circle cx="1796.6" cy="1071.9" r="4.4"/><circle cx="1754.8" cy="1073.7" r="4.4"/><circle cx="1706.6" cy="1155.3" r="4.4"/><circle cx="1851.9" cy="1143.5" r="4.4"/><circle cx="1692.6" cy="1157.2" r="4.4"/><circle cx="1771.0" cy="1147.1" r="4.4"/><circle cx="1943.5" cy="993.8" r="4.4"/><circle cx="1697.5" cy="1157.1" r="4.4"/><circle cx="1729.4" cy="1175.2" r="4.4"/><circle cx="1794.4" cy="1153.0" r="4.4"/><circle cx="1713.6" cy="1164.0" r="4.4"/><circle cx="1748.0" cy="1151.2" r="4.4"/><circle cx="1913.4" cy="1126.0" r="4.4"/><circle cx="1649.1" cy="1158.9" r="4.4"/><circle cx="1712.9" cy="1160.1" r="4.4"/><circle cx="1920.5" cy="1033.2" r="4.4"/><circle cx="1718.5" cy="1168.9" r="4.4"/><circle cx="1712.6" cy="1163.2" r="4.4"/><circle cx="1555.1" cy="1153.2" r="4.4"/><circle cx="1738.8" cy="1143.4" r="4.4"/><circle cx="1770.8" cy="1112.7" r="4.4"/><circle cx="1861.6" cy="1060.7" r="4.4"/><circle cx="1839.5" cy="1106.5" r="4.4"/><circle cx="1749.1" cy="1174.3" r="4.4"/><circle cx="1809.6" cy="1088.0" r="4.4"/><circle cx="1861.9" cy="1065.9" r="4.4"/><circle cx="1768.3" cy="1134.3" r="4.4"/><circle cx="1690.9" cy="1186.7" r="4.4"/><circle cx="1884.8" cy="1098.1" r="4.4"/><circle cx="1735.2" cy="1181.5" r="4.4"/><circle cx="1842.0" cy="1052.2" r="4.4"/><circle cx="1633.0" cy="1165.9" r="4.4"/><circle cx="1926.4" cy="1077.2" r="4.4"/><circle cx="1794.1" cy="1156.5" r="4.4"/><circle cx="1897.1" cy="853.8" r="4.4"/><circle cx="1635.2" cy="1158.5" r="4.4"/><circle cx="1727.4" cy="1174.6" r="4.4"/><circle cx="1914.9" cy="1033.5" r="4.4"/><circle cx="1676.2" cy="1168.4" r="4.4"/><circle cx="1774.1" cy="1179.1" r="4.4"/><circle cx="1852.2" cy="1084.6" r="4.4"/><circle cx="1611.5" cy="1129.7" r="4.4"/><circle cx="1720.1" cy="1140.7" r="4.4"/><circle cx="1710.4" cy="1163.4" r="4.4"/><circle cx="1662.9" cy="1164.3" r="4.4"/><circle cx="2100.1" cy="765.2" r="4.4"/><circle cx="1796.5" cy="1108.5" r="4.4"/><circle cx="1743.1" cy="1172.9" r="4.4"/><circle cx="1813.3" cy="1162.8" r="4.4"/><circle cx="1780.0" cy="1079.8" r="4.4"/><circle cx="1854.9" cy="1091.1" r="4.4"/><circle cx="1777.0" cy="1088.2" r="4.4"/><circle cx="1666.7" cy="1180.4" r="4.4"/><circle cx="1653.7" cy="1154.6" r="4.4"/><circle cx="1675.3" cy="1184.6" r="4.4"/><circle cx="1718.5" cy="1155.6" r="4.4"/><circle cx="1722.6" cy="1125.6" r="4.4"/><circle cx="1858.9" cy="1030.8" r="4.4"/><circle cx="2005.6" cy="957.5" r="4.4"/><circle cx="1875.8" cy="1028.4" r="4.4"/><circle cx="1909.1" cy="1070.1" r="4.4"/><circle cx="1669.0" cy="1176.1" r="4.4"/><circle cx="1706.2" cy="1151.4" r="4.4"/><circle cx="1718.3" cy="1142.1" r="4.4"/><circle cx="1681.9" cy="1149.4" r="4.4"/><circle cx="1785.2" cy="1150.7" r="4.4"/><circle cx="1689.2" cy="1147.2" r="4.4"/><circle cx="1738.0" cy="1138.8" r="4.4"/><circle cx="1855.3" cy="1096.7" r="4.4"/><circle cx="1766.3" cy="1176.8" r="4.4"/><circle cx="1689.8" cy="1158.0" r="4.4"/><circle cx="1943.4" cy="950.4" r="4.4"/><circle cx="1941.9" cy="975.3" r="4.4"/><circle cx="1760.7" cy="1167.2" r="4.4"/><circle cx="2011.9" cy="1022.4" r="4.4"/><circle cx="1799.3" cy="1107.1" r="4.4"/><circle cx="1714.8" cy="1123.5" r="4.4"/><circle cx="1820.8" cy="1097.8" r="4.4"/><circle cx="1755.2" cy="1139.8" r="4.4"/><circle cx="1789.2" cy="1112.8" r="4.4"/><circle cx="1909.9" cy="1085.9" r="4.4"/><circle cx="1774.6" cy="1145.4" r="4.4"/><circle cx="1745.2" cy="1149.2" r="4.4"/><circle cx="1864.8" cy="1089.1" r="4.4"/><circle cx="1799.7" cy="1127.3" r="4.4"/><circle cx="1882.0" cy="1024.1" r="4.4"/><circle cx="1809.2" cy="1102.2" r="4.4"/><circle cx="1746.7" cy="1158.4" r="4.4"/><circle cx="1742.9" cy="1130.4" r="4.4"/><circle cx="1621.6" cy="1175.5" r="4.4"/><circle cx="1724.4" cy="1156.8" r="4.4"/><circle cx="1896.7" cy="995.8" r="4.4"/><circle cx="1765.3" cy="1108.6" r="4.4"/><circle cx="1775.5" cy="1138.0" r="4.4"/><circle cx="1755.7" cy="1124.4" r="4.4"/><circle cx="1854.0" cy="1029.9" r="4.4"/><circle cx="1890.3" cy="973.4" r="4.4"/><circle cx="1942.0" cy="1111.4" r="4.4"/><circle cx="1770.4" cy="1148.6" r="4.4"/><circle cx="1701.2" cy="1152.1" r="4.4"/><circle cx="1743.0" cy="1155.5" r="4.4"/><circle cx="1621.9" cy="1148.8" r="4.4"/><circle cx="1908.2" cy="1074.4" r="4.4"/><circle cx="1706.1" cy="1125.8" r="4.4"/><circle cx="1781.3" cy="1135.5" r="4.4"/><circle cx="1648.2" cy="1174.3" r="4.4"/><circle cx="1772.5" cy="1149.9" r="4.4"/><circle cx="1727.0" cy="1159.9" r="4.4"/><circle cx="1749.0" cy="1156.6" r="4.4"/><circle cx="1693.2" cy="1163.2" r="4.4"/><circle cx="1708.3" cy="1165.7" r="4.4"/><circle cx="1896.1" cy="1001.0" r="4.4"/><circle cx="1697.9" cy="1186.2" r="4.4"/><circle cx="1704.0" cy="1191.2" r="4.4"/><circle cx="2079.4" cy="859.6" r="4.4"/></g>
<polygon points="1547.9,1138.9 1555.0,1142.1 1562.1,1145.0 1569.2,1147.7 1576.3,1150.2 1583.3,1152.4 1590.4,1154.4 1597.5,1156.2 1604.6,1157.7 1611.7,1159.1 1618.7,1160.2 1625.8,1161.1 1632.9,1161.7 1640.0,1162.2 1647.0,1162.4 1654.1,1162.5 1661.2,1162.3 1668.3,1161.9 1675.4,1161.3 1682.4,1160.5 1689.5,1159.5 1696.6,1158.2 1703.7,1156.8 1710.7,1155.2 1717.8,1153.4 1724.9,1151.4 1732.0,1149.2 1739.1,1146.8 1746.1,1144.2 1753.2,1141.5 1760.3,1138.5 1767.4,1135.4 1774.4,1132.1 1781.5,1128.6 1788.6,1124.9 1795.7,1121.0 1802.8,1117.0 1809.8,1112.7 1816.9,1108.3 1824.0,1103.7 1831.1,1098.9 1838.2,1094.0 1845.2,1088.8 1852.3,1083.4 1859.4,1077.8 1866.5,1072.1 1873.5,1066.1 1880.6,1060.0 1887.7,1053.6 1894.8,1047.0 1901.9,1040.3 1908.9,1033.3 1916.0,1026.1 1923.1,1018.7 1930.2,1011.1 1937.2,1003.3 1944.3,995.3 1951.4,987.1 1958.5,978.6 1965.6,969.9 1972.6,961.0 1979.7,951.9 1986.8,942.6 1993.9,933.0 2000.9,923.2 2008.0,913.2 2015.1,902.9 2022.2,892.4 2029.3,881.7 2036.3,870.8 2043.4,859.6 2050.5,848.1 2057.6,836.5 2064.7,824.6 2071.7,812.4 2078.8,800.0 2085.9,787.4 2093.0,774.5 2100.0,761.4 2107.1,748.0 2107.1,810.0 2100.0,820.1 2093.0,830.2 2085.9,840.1 2078.8,849.9 2071.7,859.6 2064.7,869.1 2057.6,878.6 2050.5,887.9 2043.4,897.1 2036.3,906.2 2029.3,915.2 2022.2,924.0 2015.1,932.8 2008.0,941.4 2000.9,949.8 1993.9,958.2 1986.8,966.4 1979.7,974.4 1972.6,982.4 1965.6,990.2 1958.5,997.8 1951.4,1005.3 1944.3,1012.7 1937.2,1019.9 1930.2,1027.0 1923.1,1034.0 1916.0,1040.7 1908.9,1047.4 1901.9,1053.9 1894.8,1060.2 1887.7,1066.4 1880.6,1072.4 1873.5,1078.3 1866.5,1084.0 1859.4,1089.6 1852.3,1094.9 1845.2,1100.2 1838.2,1105.2 1831.1,1110.1 1824.0,1114.8 1816.9,1119.4 1809.8,1123.8 1802.8,1128.0 1795.7,1132.0 1788.6,1135.9 1781.5,1139.6 1774.4,1143.1 1767.4,1146.4 1760.3,1149.5 1753.2,1152.5 1746.1,1155.3 1739.1,1157.9 1732.0,1160.4 1724.9,1162.7 1717.8,1164.8 1710.7,1166.8 1703.7,1168.6 1696.6,1170.2 1689.5,1171.7 1682.4,1173.1 1675.4,1174.2 1668.3,1175.3 1661.2,1176.1 1654.1,1176.8 1647.0,1177.4 1640.0,1177.8 1632.9,1178.1 1625.8,1178.3 1618.7,1178.3 1611.7,1178.1 1604.6,1177.8 1597.5,1177.4 1590.4,1176.9 1583.3,1176.2 1576.3,1175.4 1569.2,1174.5 1562.1,1173.4 1555.0,1172.2 1547.9,1170.9" fill="#f2a8b2" fill-opacity="0.6"/>
<polyline points="1547.9,1154.9 1555.0,1157.1 1562.1,1159.2 1569.2,1161.1 1576.3,1162.8 1583.3,1164.3 1590.4,1165.6 1597.5,1166.8 1604.6,1167.8 1611.7,1168.6 1618.7,1169.2 1625.8,1169.7 1632.9,1169.9 1640.0,1170.0 1647.0,1169.9 1654.1,1169.7 1661.2,1169.2 1668.3,1168.6 1675.4,1167.8 1682.4,1166.8 1689.5,1165.6 1696.6,1164.2 1703.7,1162.7 1710.7,1161.0 1717.8,1159.1 1724.9,1157.1 1732.0,1154.8 1739.1,1152.4 1746.1,1149.8 1753.2,1147.0 1760.3,1144.0 1767.4,1140.9 1774.4,1137.6 1781.5,1134.1 1788.6,1130.4 1795.7,1126.5 1802.8,1122.5 1809.8,1118.3 1816.9,1113.9 1824.0,1109.3 1831.1,1104.5 1838.2,1099.6 1845.2,1094.5 1852.3,1089.2 1859.4,1083.7 1866.5,1078.0 1873.5,1072.2 1880.6,1066.2 1887.7,1060.0 1894.8,1053.6 1901.9,1047.1 1908.9,1040.3 1916.0,1033.4 1923.1,1026.3 1930.2,1019.1 1937.2,1011.6 1944.3,1004.0 1951.4,996.2 1958.5,988.2 1965.6,980.0 1972.6,971.7 1979.7,963.2 1986.8,954.5 1993.9,945.6 2000.9,936.5 2008.0,927.3 2015.1,917.8 2022.2,908.2 2029.3,898.5 2036.3,888.5 2043.4,878.4 2050.5,868.0 2057.6,857.5 2064.7,846.9 2071.7,836.0 2078.8,825.0 2085.9,813.7 2093.0,802.3 2100.0,790.8 2107.1,779.0" fill="none" stroke="#f0305a" stroke-width="10" stroke-linecap="butt"/>
<path d="M1547.5,656.5 V1217.0 H2111.3" stroke="#111" stroke-width="2.6" fill="none"/>
<line x1="1538.6" y1="1193.0" x2="1547.5" y2="1193.0" stroke="#111" stroke-width="2.2"/>
<text x="1518.0" y="1202.8">0</text>
<line x1="1538.6" y1="1130.1" x2="1547.5" y2="1130.1" stroke="#111" stroke-width="2.2"/>
<text x="1462.5" y="1139.9">1,000</text>
<line x1="1538.6" y1="1067.2" x2="1547.5" y2="1067.2" stroke="#111" stroke-width="2.2"/>
<text x="1462.5" y="1077.0">2,000</text>
<line x1="1538.6" y1="1004.3" x2="1547.5" y2="1004.3" stroke="#111" stroke-width="2.2"/>
<text x="1462.5" y="1014.1">3,000</text>
<line x1="1538.6" y1="941.4" x2="1547.5" y2="941.4" stroke="#111" stroke-width="2.2"/>
<text x="1462.5" y="951.2">4,000</text>
<line x1="1538.6" y1="878.5" x2="1547.5" y2="878.5" stroke="#111" stroke-width="2.2"/>
<text x="1462.5" y="888.3">5,000</text>
<line x1="1538.6" y1="815.6" x2="1547.5" y2="815.6" stroke="#111" stroke-width="2.2"/>
<text x="1462.5" y="825.4">6,000</text>
<line x1="1538.6" y1="752.7" x2="1547.5" y2="752.7" stroke="#111" stroke-width="2.2"/>
<text x="1462.5" y="762.5">7,000</text>
<line x1="1538.6" y1="689.8" x2="1547.5" y2="689.8" stroke="#111" stroke-width="2.2"/>
<text x="1462.5" y="699.6">8,000</text>
<line x1="1552.6" y1="1217.0" x2="1552.6" y2="1225.0" stroke="#111" stroke-width="2.2"/>
<text x="1525.1" y="1251.4" textLength="52.3" lengthAdjust="spacingAndGlyphs">−0.8</text>
<line x1="1618.2" y1="1217.0" x2="1618.2" y2="1225.0" stroke="#111" stroke-width="2.2"/>
<text x="1587.9" y="1251.4" textLength="52.3" lengthAdjust="spacingAndGlyphs">−0.6</text>
<line x1="1683.2" y1="1217.0" x2="1683.2" y2="1225.0" stroke="#111" stroke-width="2.2"/>
<text x="1651.5" y="1251.4" textLength="52.3" lengthAdjust="spacingAndGlyphs">−0.4</text>
<line x1="1748.8" y1="1217.0" x2="1748.8" y2="1225.0" stroke="#111" stroke-width="2.2"/>
<text x="1717.4" y="1251.4" textLength="52.3" lengthAdjust="spacingAndGlyphs">−0.2</text>
<line x1="1814.0" y1="1217.0" x2="1814.0" y2="1225.0" stroke="#111" stroke-width="2.2"/>
<text x="1798.0" y="1251.4" textLength="37.8" lengthAdjust="spacingAndGlyphs">0.0</text>
<line x1="1879.6" y1="1217.0" x2="1879.6" y2="1225.0" stroke="#111" stroke-width="2.2"/>
<text x="1861.2" y="1251.4" textLength="37.8" lengthAdjust="spacingAndGlyphs">0.2</text>
<line x1="1944.6" y1="1217.0" x2="1944.6" y2="1225.0" stroke="#111" stroke-width="2.2"/>
<text x="1927.5" y="1251.4" textLength="37.8" lengthAdjust="spacingAndGlyphs">0.4</text>
<line x1="2010.2" y1="1217.0" x2="2010.2" y2="1225.0" stroke="#111" stroke-width="2.2"/>
<text x="1993.8" y="1251.4" textLength="37.8" lengthAdjust="spacingAndGlyphs">0.6</text>
<line x1="2075.4" y1="1217.0" x2="2075.4" y2="1225.0" stroke="#111" stroke-width="2.2"/>
<text x="2060.7" y="1251.4" textLength="37.8" lengthAdjust="spacingAndGlyphs">0.8</text>
<text x="1704.8" y="1295.0" textLength="290.6" lengthAdjust="spacingAndGlyphs">Predicted patient’s risk</text>
<text transform="translate(1444.0,1107.7) rotate(-90)" x="-0.0" y="0" textLength="383.2" lengthAdjust="spacingAndGlyphs">Number of high IG superpatch</text>
<text x="9.5" y="1317.0" font-size="35" font-weight="bold">g</text>
<line x1="64.3" y1="1335.3" x2="120.7" y2="1335.3" stroke="#2a7de1" stroke-width="9"/>
<line x1="281.3" y1="1335.3" x2="338.7" y2="1335.3" stroke="#f26a21" stroke-width="9"/>
<text x="125.5" y="1341.4">High count</text>
<text x="344.8" y="1341.4">Low count</text>
<text transform="translate(26.0,1690.0) rotate(-90)" x="-0.0" y="0" textLength="190.0" lengthAdjust="spacingAndGlyphs">Patient survival</text>
<text transform="translate(26.0,2149.0) rotate(-90)" x="-0.0" y="0" textLength="190.0" lengthAdjust="spacingAndGlyphs">Patient survival</text>
<path d="M95.0,1425.8 V1792.5 H448.8" stroke="#111" stroke-width="2.6" fill="none"/>
<line x1="88.0" y1="1441.3" x2="95.0" y2="1441.3" stroke="#111" stroke-width="2.2"/>
<text x="43.5" y="1447.8" textLength="36.0" lengthAdjust="spacingAndGlyphs">1.0</text>
<line x1="88.0" y1="1504.7" x2="95.0" y2="1504.7" stroke="#111" stroke-width="2.2"/>
<text x="43.5" y="1511.2" textLength="36.0" lengthAdjust="spacingAndGlyphs">0.9</text>
<line x1="88.0" y1="1568.1" x2="95.0" y2="1568.1" stroke="#111" stroke-width="2.2"/>
<text x="43.5" y="1574.6" textLength="36.0" lengthAdjust="spacingAndGlyphs">0.8</text>
<line x1="88.0" y1="1631.5" x2="95.0" y2="1631.5" stroke="#111" stroke-width="2.2"/>
<text x="43.5" y="1638.0" textLength="36.0" lengthAdjust="spacingAndGlyphs">0.7</text>
<line x1="88.0" y1="1694.9" x2="95.0" y2="1694.9" stroke="#111" stroke-width="2.2"/>
<text x="43.5" y="1701.4" textLength="36.0" lengthAdjust="spacingAndGlyphs">0.6</text>
<line x1="88.0" y1="1758.3" x2="95.0" y2="1758.3" stroke="#111" stroke-width="2.2"/>
<text x="43.5" y="1764.8" textLength="36.0" lengthAdjust="spacingAndGlyphs">0.5</text>
<line x1="110.8" y1="1792.5" x2="110.8" y2="1800.0" stroke="#111" stroke-width="2.2"/>
<text x="105.7" y="1821.7" font-size="25.5">0</text>
<line x1="166.8" y1="1792.5" x2="166.8" y2="1800.0" stroke="#111" stroke-width="2.2"/>
<text x="149.4" y="1821.7" font-size="25.5">50</text>
<line x1="222.8" y1="1792.5" x2="222.8" y2="1800.0" stroke="#111" stroke-width="2.2"/>
<text x="196.2" y="1821.7" font-size="25.5">100</text>
<line x1="278.8" y1="1792.5" x2="278.8" y2="1800.0" stroke="#111" stroke-width="2.2"/>
<text x="252.5" y="1821.7" font-size="25.5">150</text>
<line x1="334.8" y1="1792.5" x2="334.8" y2="1800.0" stroke="#111" stroke-width="2.2"/>
<text x="308.5" y="1821.7" font-size="25.5">200</text>
<line x1="390.8" y1="1792.5" x2="390.8" y2="1800.0" stroke="#111" stroke-width="2.2"/>
<text x="364.3" y="1821.7" font-size="25.5">250</text>
<line x1="446.8" y1="1792.5" x2="446.8" y2="1800.0" stroke="#111" stroke-width="2.2"/>
<text x="420.0" y="1821.7" font-size="25.5">300</text>
<text x="181.0" y="1387.6" textLength="182.0" lengthAdjust="spacingAndGlyphs">IG value group</text>
<text x="225.8" y="1425.8" textLength="91.2" lengthAdjust="spacingAndGlyphs">0 - 10%</text>
<text x="111.8" y="1763.8" textLength="220.0" lengthAdjust="spacingAndGlyphs">p-value: 6.14e-28</text>
<path d="M110.8,1441.3H114.2H114.9V1445.3H115.7V1449.3H116.4V1453.3H117.1V1457.4H117.9V1461.4H118.6V1465.4H119.2V1469.1H119.8V1472.9H120.3V1476.6H120.9V1480.4H121.4V1484.1H122.0V1487.8H122.6V1491.6H123.1V1495.3H123.7V1499.1H124.2V1502.8H124.8V1506.5H125.4V1510.2H125.9V1513.9H126.5V1517.6H127.0V1521.3H127.6V1525.0H128.8V1528.9H130.1V1532.7H131.3V1536.6H132.6V1540.5H133.8V1544.4H135.1V1548.2H136.3V1552.1H137.6V1556.0H138.8V1559.9H140.7V1563.6H142.6V1567.3H144.5V1571.1H146.4V1574.8H148.3V1578.6H150.2V1582.3H152.1V1586.0H154.0V1589.8H155.9V1593.5H157.8V1597.3H161.4V1601.2H164.9V1605.2H168.4V1609.2H171.9V1613.2H175.4V1617.2H179.0V1621.2H182.5V1625.2H188.5V1629.1H194.6V1633.0H200.6V1637.0H206.7V1640.9H212.7V1644.8H234.0V1647.3H237.4V1649.9H265.4H266.9V1653.3H268.3V1656.6H269.8V1660.0H277.7H278.8V1663.8H279.9V1667.6H281.0V1671.4H282.2V1675.2H283.3V1679.0H341.5V1707.6H421.0" stroke="#f26a21" stroke-width="5.2" fill="none" stroke-linejoin="miter"/>
<path d="M110.8,1441.3H122.0V1444.5H133.2V1449.5H135.8V1452.7H138.4V1455.9H141.0V1459.1H150.0V1463.5H161.2V1466.0H268.7V1471.1H435.6" stroke="#2a7de1" stroke-width="5.2" fill="none" stroke-linejoin="miter"/>
<path d="M495.5,1423.3 V1792.0 H853.8" stroke="#111" stroke-width="2.6" fill="none"/>
<line x1="488.5" y1="1438.8" x2="495.5" y2="1438.8" stroke="#111" stroke-width="2.2"/>
<text x="448.8" y="1445.3" textLength="38.7" lengthAdjust="spacingAndGlyphs">1.0</text>
<line x1="488.5" y1="1502.5" x2="495.5" y2="1502.5" stroke="#111" stroke-width="2.2"/>
<text x="448.8" y="1509.0" textLength="38.7" lengthAdjust="spacingAndGlyphs">0.9</text>
<line x1="488.5" y1="1566.3" x2="495.5" y2="1566.3" stroke="#111" stroke-width="2.2"/>
<text x="448.8" y="1572.8" textLength="38.7" lengthAdjust="spacingAndGlyphs">0.8</text>
<line x1="488.5" y1="1630.0" x2="495.5" y2="1630.0" stroke="#111" stroke-width="2.2"/>
<text x="448.8" y="1636.5" textLength="38.7" lengthAdjust="spacingAndGlyphs">0.7</text>
<line x1="488.5" y1="1693.8" x2="495.5" y2="1693.8" stroke="#111" stroke-width="2.2"/>
<text x="448.8" y="1700.3" textLength="38.7" lengthAdjust="spacingAndGlyphs">0.6</text>
<line x1="488.5" y1="1757.5" x2="495.5" y2="1757.5" stroke="#111" stroke-width="2.2"/>
<text x="448.8" y="1764.0" textLength="38.7" lengthAdjust="spacingAndGlyphs">0.5</text>
<line x1="510.0" y1="1792.0" x2="510.0" y2="1799.5" stroke="#111" stroke-width="2.2"/>
<text x="504.9" y="1821.2" font-size="25.5">0</text>
<line x1="566.0" y1="1792.0" x2="566.0" y2="1799.5" stroke="#111" stroke-width="2.2"/>
<text x="548.6" y="1821.2" font-size="25.5">50</text>
<line x1="622.0" y1="1792.0" x2="622.0" y2="1799.5" stroke="#111" stroke-width="2.2"/>
<text x="595.4" y="1821.2" font-size="25.5">100</text>
<line x1="678.0" y1="1792.0" x2="678.0" y2="1799.5" stroke="#111" stroke-width="2.2"/>
<text x="651.7" y="1821.2" font-size="25.5">150</text>
<line x1="734.0" y1="1792.0" x2="734.0" y2="1799.5" stroke="#111" stroke-width="2.2"/>
<text x="707.7" y="1821.2" font-size="25.5">200</text>
<line x1="790.0" y1="1792.0" x2="790.0" y2="1799.5" stroke="#111" stroke-width="2.2"/>
<text x="763.5" y="1821.2" font-size="25.5">250</text>
<line x1="846.0" y1="1792.0" x2="846.0" y2="1799.5" stroke="#111" stroke-width="2.2"/>
<text x="819.2" y="1821.2" font-size="25.5">300</text>
<text x="597.5" y="1390.0" textLength="182.5" lengthAdjust="spacingAndGlyphs">IG value group</text>
<text x="635.5" y="1426.3" textLength="107.0" lengthAdjust="spacingAndGlyphs">10 - 20%</text>
<text x="522.5" y="1761.3" textLength="220.0" lengthAdjust="spacingAndGlyphs">p-value: 3.42e-28</text>
<path d="M510.0,1438.8H512.2H513.1V1442.7H513.9V1446.6H514.8V1450.4H515.6V1454.3H516.4V1458.2H517.3V1462.1H518.1V1465.9H519.0V1469.8H519.8V1473.7H520.6V1477.6H521.5V1481.5H522.3V1485.3H523.0V1489.0H523.6V1492.8H524.3V1496.5H524.9V1500.2H525.6V1503.9H526.2V1507.6H526.9V1511.4H527.5V1515.1H528.2V1518.8H528.9V1522.5H529.5V1526.2H530.2V1529.9H531.5V1533.8H532.9V1537.7H534.3V1541.6H535.6V1545.5H537.0V1549.4H538.4V1553.3H539.7V1557.2H541.1V1561.1H542.5V1565.0H544.3V1568.7H546.1V1572.5H547.9V1576.2H549.8V1580.0H551.6V1583.7H553.4V1587.5H555.2V1591.2H557.0V1595.0H559.5V1598.5H562.0V1602.1H564.4V1605.7H566.9V1609.2H569.4V1612.8H573.0V1616.5H576.6V1620.1H580.3V1623.8H583.9V1627.5H599.6V1630.0H604.8V1634.3H610.1V1638.5H615.3V1642.8H639.9V1645.3H644.4V1647.9H667.9V1650.4H681.4V1655.5H683.2V1659.6H685.1V1663.6H687.0V1667.6H838.2" stroke="#f26a21" stroke-width="5.2" fill="none" stroke-linejoin="miter"/>
<path d="M510.0,1438.8H534.6H537.3V1443.0H539.9V1447.3H542.5V1451.5H551.4V1454.7H560.4V1457.9H577.2V1459.8H615.3V1462.4H665.7V1466.2V1468.8H669.6V1471.9H673.5V1475.1H747.4V1500.0H842.6" stroke="#2a7de1" stroke-width="5.2" fill="none" stroke-linejoin="miter"/>
<path d="M916.8,1421.5 V1791.3 H1273.8" stroke="#111" stroke-width="2.6" fill="none"/>
<line x1="909.8" y1="1437.0" x2="916.8" y2="1437.0" stroke="#111" stroke-width="2.2"/>
<text x="870.0" y="1443.5" textLength="38.8" lengthAdjust="spacingAndGlyphs">1.0</text>
<line x1="909.8" y1="1500.9" x2="916.8" y2="1500.9" stroke="#111" stroke-width="2.2"/>
<text x="870.0" y="1507.4" textLength="38.8" lengthAdjust="spacingAndGlyphs">0.9</text>
<line x1="909.8" y1="1564.7" x2="916.8" y2="1564.7" stroke="#111" stroke-width="2.2"/>
<text x="870.0" y="1571.2" textLength="38.8" lengthAdjust="spacingAndGlyphs">0.8</text>
<line x1="909.8" y1="1628.6" x2="916.8" y2="1628.6" stroke="#111" stroke-width="2.2"/>
<text x="870.0" y="1635.1" textLength="38.8" lengthAdjust="spacingAndGlyphs">0.7</text>
<line x1="909.8" y1="1692.4" x2="916.8" y2="1692.4" stroke="#111" stroke-width="2.2"/>
<text x="870.0" y="1698.9" textLength="38.8" lengthAdjust="spacingAndGlyphs">0.6</text>
<line x1="909.8" y1="1756.3" x2="916.8" y2="1756.3" stroke="#111" stroke-width="2.2"/>
<text x="870.0" y="1762.8" textLength="38.8" lengthAdjust="spacingAndGlyphs">0.5</text>
<line x1="930.5" y1="1791.3" x2="930.5" y2="1798.8" stroke="#111" stroke-width="2.2"/>
<text x="925.4" y="1820.5" font-size="25.5">0</text>
<line x1="986.5" y1="1791.3" x2="986.5" y2="1798.8" stroke="#111" stroke-width="2.2"/>
<text x="969.1" y="1820.5" font-size="25.5">50</text>
<line x1="1042.5" y1="1791.3" x2="1042.5" y2="1798.8" stroke="#111" stroke-width="2.2"/>
<text x="1015.9" y="1820.5" font-size="25.5">100</text>
<line x1="1098.5" y1="1791.3" x2="1098.5" y2="1798.8" stroke="#111" stroke-width="2.2"/>
<text x="1072.2" y="1820.5" font-size="25.5">150</text>
<line x1="1154.5" y1="1791.3" x2="1154.5" y2="1798.8" stroke="#111" stroke-width="2.2"/>
<text x="1128.2" y="1820.5" font-size="25.5">200</text>
<line x1="1210.5" y1="1791.3" x2="1210.5" y2="1798.8" stroke="#111" stroke-width="2.2"/>
<text x="1184.0" y="1820.5" font-size="25.5">250</text>
<line x1="1266.5" y1="1791.3" x2="1266.5" y2="1798.8" stroke="#111" stroke-width="2.2"/>
<text x="1239.7" y="1820.5" font-size="25.5">300</text>
<text x="1011.3" y="1389.5" textLength="181.2" lengthAdjust="spacingAndGlyphs">IG value group</text>
<text x="1048.0" y="1426.3" textLength="107.0" lengthAdjust="spacingAndGlyphs">20 - 30%</text>
<text x="932.5" y="1761.3" textLength="220.0" lengthAdjust="spacingAndGlyphs">p-value: 1.67e-19</text>
<path d="M930.5,1437.0H932.7H933.4V1440.7H934.0V1444.4H934.6V1448.1H935.2V1451.8H935.9V1455.4H936.5V1459.1H937.1V1462.8H937.7V1466.5H938.3V1470.2H938.8V1474.0H939.2V1477.9H939.7V1481.7H940.1V1485.5H940.6V1489.4H941.0V1493.2H941.5V1497.0H941.9V1500.9H942.4V1504.7H942.8V1508.5H943.3V1512.4H943.7V1516.2H944.2V1520.0H944.6V1523.8H945.1V1527.7H946.4V1531.7H947.7V1535.7H949.1V1539.8H950.4V1543.8H951.8V1547.8H953.1V1551.8H954.5V1555.8H955.8V1559.9H957.2V1563.9H958.5V1567.9H960.5V1571.9H962.4V1575.9H964.4V1579.9H966.3V1583.9H968.3V1587.9H970.3V1591.9H972.2V1595.9H974.2V1599.8H979.0V1604.1H983.9V1608.4H988.7V1612.6H996.0V1616.1H1003.3V1619.6H1019.0V1620.9H1022.1V1624.4H1025.1V1627.9H1028.2V1631.5H1031.3V1635.0H1091.8H1096.3V1639.4H1101.9V1642.6H1103.5V1647.1H1105.2V1651.6H1257.5" stroke="#f26a21" stroke-width="5.2" fill="none" stroke-linejoin="miter"/>
<path d="M930.5,1437.0H933.9H939.5V1438.9H950.7V1443.4H954.6V1447.9H958.5V1452.3H973.1V1457.4H980.9V1460.6H988.7V1463.8H992.8V1467.2H997.0V1470.6H1001.1V1474.0H1013.4V1477.2H1033.5V1479.8H1060.4V1484.9H1082.8H1084.3V1489.2H1085.8V1493.4H1087.3V1497.7H1104.1H1105.8V1501.5H1107.5V1505.3H1165.7V1529.0H1260.9" stroke="#2a7de1" stroke-width="5.2" fill="none" stroke-linejoin="miter"/>
<path d="M1328.0,1421.5 V1790.0 H1686.3" stroke="#111" stroke-width="2.6" fill="none"/>
<line x1="1321.0" y1="1437.0" x2="1328.0" y2="1437.0" stroke="#111" stroke-width="2.2"/>
<text x="1281.3" y="1443.5" textLength="37.5" lengthAdjust="spacingAndGlyphs">1.0</text>
<line x1="1321.0" y1="1501.1" x2="1328.0" y2="1501.1" stroke="#111" stroke-width="2.2"/>
<text x="1281.3" y="1507.6" textLength="37.5" lengthAdjust="spacingAndGlyphs">0.9</text>
<line x1="1321.0" y1="1565.2" x2="1328.0" y2="1565.2" stroke="#111" stroke-width="2.2"/>
<text x="1281.3" y="1571.7" textLength="37.5" lengthAdjust="spacingAndGlyphs">0.8</text>
<line x1="1321.0" y1="1629.3" x2="1328.0" y2="1629.3" stroke="#111" stroke-width="2.2"/>
<text x="1281.3" y="1635.8" textLength="37.5" lengthAdjust="spacingAndGlyphs">0.7</text>
<line x1="1321.0" y1="1693.4" x2="1328.0" y2="1693.4" stroke="#111" stroke-width="2.2"/>
<text x="1281.3" y="1699.9" textLength="37.5" lengthAdjust="spacingAndGlyphs">0.6</text>
<line x1="1321.0" y1="1757.5" x2="1328.0" y2="1757.5" stroke="#111" stroke-width="2.2"/>
<text x="1281.3" y="1764.0" textLength="37.5" lengthAdjust="spacingAndGlyphs">0.5</text>
<line x1="1341.8" y1="1790.0" x2="1341.8" y2="1797.5" stroke="#111" stroke-width="2.2"/>
<text x="1336.7" y="1819.2" font-size="25.5">0</text>
<line x1="1397.8" y1="1790.0" x2="1397.8" y2="1797.5" stroke="#111" stroke-width="2.2"/>
<text x="1380.4" y="1819.2" font-size="25.5">50</text>
<line x1="1453.8" y1="1790.0" x2="1453.8" y2="1797.5" stroke="#111" stroke-width="2.2"/>
<text x="1427.2" y="1819.2" font-size="25.5">100</text>
<line x1="1509.8" y1="1790.0" x2="1509.8" y2="1797.5" stroke="#111" stroke-width="2.2"/>
<text x="1483.5" y="1819.2" font-size="25.5">150</text>
<line x1="1565.8" y1="1790.0" x2="1565.8" y2="1797.5" stroke="#111" stroke-width="2.2"/>
<text x="1539.5" y="1819.2" font-size="25.5">200</text>
<line x1="1621.8" y1="1790.0" x2="1621.8" y2="1797.5" stroke="#111" stroke-width="2.2"/>
<text x="1595.3" y="1819.2" font-size="25.5">250</text>
<line x1="1677.8" y1="1790.0" x2="1677.8" y2="1797.5" stroke="#111" stroke-width="2.2"/>
<text x="1651.0" y="1819.2" font-size="25.5">300</text>
<text x="1418.8" y="1389.5" textLength="181.2" lengthAdjust="spacingAndGlyphs">IG value group</text>
<text x="1455.0" y="1426.3" textLength="107.5" lengthAdjust="spacingAndGlyphs">30 - 40%</text>
<text x="1346.3" y="1761.3" textLength="202.5" lengthAdjust="spacingAndGlyphs">p-value: 2.3e-11</text>
<path d="M1341.8,1437.0H1344.0H1344.8V1440.8H1345.5V1444.7H1346.3V1448.5H1347.0V1452.4H1347.8V1456.2H1348.5V1460.1H1349.1V1463.8H1349.8V1467.6H1350.4V1471.4H1351.0V1475.1H1351.7V1478.9H1352.3V1482.7H1352.9V1486.4H1353.6V1490.2H1354.2V1494.2H1354.8V1498.2H1355.5V1502.2H1356.1V1506.2H1356.7V1510.2H1357.3V1514.2H1358.0V1518.2H1358.6V1522.3H1359.9V1526.0H1361.1V1529.8H1362.4V1533.6H1363.6V1537.3H1364.9V1541.1H1366.2V1544.8H1367.4V1548.6H1368.7V1552.4H1371.8V1556.7H1374.8V1561.0H1377.9V1565.4H1381.0V1569.7H1382.6V1573.3H1384.1V1576.9H1385.7V1580.5H1387.3V1584.0H1388.8V1587.6H1392.2V1590.8H1395.6V1594.0H1398.9V1597.2H1406.2V1600.5H1413.5V1603.7H1431.4V1604.9H1435.5V1608.8H1439.6V1612.6H1443.7V1616.5H1504.2H1509.8V1621.6H1511.5V1625.2H1513.2V1628.9H1514.8V1632.5H1578.1V1652.4H1672.2" stroke="#f26a21" stroke-width="5.2" fill="none" stroke-linejoin="miter"/>
<path d="M1341.8,1437.0H1345.2H1349.1V1440.8H1353.0V1444.7H1359.7V1447.3H1361.1V1451.1H1362.5V1454.9H1363.9V1458.8H1365.3V1462.6H1371.5V1466.8H1377.6V1471.0H1387.7V1474.8H1392.9V1478.7H1398.2V1482.5H1403.4V1486.4H1407.9V1489.6H1412.4V1492.8H1428.0V1497.9H1443.7V1501.1H1465.0H1468.4V1505.6H1489.6H1490.5V1509.3H1491.3V1513.0H1492.2V1516.6H1493.0V1520.3H1512.0H1513.2V1523.9H1514.3V1527.4H1654.3" stroke="#2a7de1" stroke-width="5.2" fill="none" stroke-linejoin="miter"/>
<path d="M1750.0,1421.5 V1789.5 H2106.5" stroke="#111" stroke-width="2.6" fill="none"/>
<line x1="1743.0" y1="1437.0" x2="1750.0" y2="1437.0" stroke="#111" stroke-width="2.2"/>
<text x="1702.0" y="1443.5" textLength="38.8" lengthAdjust="spacingAndGlyphs">1.0</text>
<line x1="1743.0" y1="1500.9" x2="1750.0" y2="1500.9" stroke="#111" stroke-width="2.2"/>
<text x="1702.0" y="1507.4" textLength="38.8" lengthAdjust="spacingAndGlyphs">0.9</text>
<line x1="1743.0" y1="1564.7" x2="1750.0" y2="1564.7" stroke="#111" stroke-width="2.2"/>
<text x="1702.0" y="1571.2" textLength="38.8" lengthAdjust="spacingAndGlyphs">0.8</text>
<line x1="1743.0" y1="1628.6" x2="1750.0" y2="1628.6" stroke="#111" stroke-width="2.2"/>
<text x="1702.0" y="1635.1" textLength="38.8" lengthAdjust="spacingAndGlyphs">0.7</text>
<line x1="1743.0" y1="1692.4" x2="1750.0" y2="1692.4" stroke="#111" stroke-width="2.2"/>
<text x="1702.0" y="1698.9" textLength="38.8" lengthAdjust="spacingAndGlyphs">0.6</text>
<line x1="1743.0" y1="1756.3" x2="1750.0" y2="1756.3" stroke="#111" stroke-width="2.2"/>
<text x="1702.0" y="1762.8" textLength="38.8" lengthAdjust="spacingAndGlyphs">0.5</text>
<line x1="1763.3" y1="1789.5" x2="1763.3" y2="1797.0" stroke="#111" stroke-width="2.2"/>
<text x="1758.2" y="1818.7" font-size="25.5">0</text>
<line x1="1819.3" y1="1789.5" x2="1819.3" y2="1797.0" stroke="#111" stroke-width="2.2"/>
<text x="1801.9" y="1818.7" font-size="25.5">50</text>
<line x1="1875.3" y1="1789.5" x2="1875.3" y2="1797.0" stroke="#111" stroke-width="2.2"/>
<text x="1848.7" y="1818.7" font-size="25.5">100</text>
<line x1="1931.3" y1="1789.5" x2="1931.3" y2="1797.0" stroke="#111" stroke-width="2.2"/>
<text x="1905.0" y="1818.7" font-size="25.5">150</text>
<line x1="1987.3" y1="1789.5" x2="1987.3" y2="1797.0" stroke="#111" stroke-width="2.2"/>
<text x="1961.0" y="1818.7" font-size="25.5">200</text>
<line x1="2043.3" y1="1789.5" x2="2043.3" y2="1797.0" stroke="#111" stroke-width="2.2"/>
<text x="2016.8" y="1818.7" font-size="25.5">250</text>
<line x1="2099.3" y1="1789.5" x2="2099.3" y2="1797.0" stroke="#111" stroke-width="2.2"/>
<text x="2072.5" y="1818.7" font-size="25.5">300</text>
<text x="1842.5" y="1389.5" textLength="181.5" lengthAdjust="spacingAndGlyphs">IG value group</text>
<text x="1878.3" y="1426.3" textLength="108.7" lengthAdjust="spacingAndGlyphs">40 - 50%</text>
<text x="1769.5" y="1761.3" textLength="178.8" lengthAdjust="spacingAndGlyphs">p-value: 0.001</text>
<path d="M1763.3,1437.0H1766.7H1768.3V1440.5H1770.0V1444.0H1770.6V1447.9H1771.1V1451.8H1771.7V1455.8H1772.3V1459.7H1772.8V1463.6H1773.4V1467.5H1773.9V1471.4H1774.5V1475.3H1775.3V1479.0H1776.1V1482.7H1776.9V1486.4H1777.6V1490.1H1778.4V1493.8H1779.2V1497.5H1780.0V1501.2H1780.8V1504.9H1781.6V1508.7H1782.3V1512.4H1784.1V1515.9H1785.9V1519.5H1787.6V1523.0H1789.4V1526.6H1791.1V1530.1H1792.9V1533.7H1794.7V1537.3H1797.6V1540.8H1800.5V1544.4H1803.4V1548.0H1806.3V1551.6H1809.2V1555.1H1812.0V1559.9H1814.8V1564.7H1819.9V1569.2H1824.9V1573.7H1839.5V1578.1H1855.1V1580.7H1861.3V1583.6H1867.5V1586.4H1927.9H1929.6V1589.6H1931.3V1592.8H1936.9V1597.3H2099.3" stroke="#f26a21" stroke-width="5.2" fill="none" stroke-linejoin="miter"/>
<path d="M1763.3,1437.0H1766.7H1769.5V1441.5H1772.3V1445.9H1776.2V1449.1H1780.1V1452.3H1784.0V1455.5H1787.9V1458.7H1789.6V1462.9H1791.3V1467.0H1793.0V1471.2H1794.7V1475.3H1804.7V1480.4H1808.1V1483.6H1811.5V1486.8H1814.8V1490.0H1827.1V1495.1H1831.2V1498.7H1835.4V1502.4H1839.5V1506.0H1855.1V1509.8H1860.2V1513.2H1865.2V1516.6H1870.3V1520.0H1895.5H1897.7V1524.5H1920.1H1921.2V1528.3H1922.3V1532.2H1923.5V1536.0H1940.3H1941.1V1539.5H1941.9V1543.0H1942.8V1546.5H1943.6V1550.0H2003.0V1578.8H2074.7" stroke="#2a7de1" stroke-width="5.2" fill="none" stroke-linejoin="miter"/>
<path d="M87.5,1879.8 V2245.3 H443.8" stroke="#111" stroke-width="2.6" fill="none"/>
<line x1="80.5" y1="1895.3" x2="87.5" y2="1895.3" stroke="#111" stroke-width="2.2"/>
<text x="36.0" y="1901.8" textLength="39.0" lengthAdjust="spacingAndGlyphs">1.0</text>
<line x1="80.5" y1="1959.3" x2="87.5" y2="1959.3" stroke="#111" stroke-width="2.2"/>
<text x="36.0" y="1965.8" textLength="39.0" lengthAdjust="spacingAndGlyphs">0.9</text>
<line x1="80.5" y1="2023.3" x2="87.5" y2="2023.3" stroke="#111" stroke-width="2.2"/>
<text x="36.0" y="2029.8" textLength="39.0" lengthAdjust="spacingAndGlyphs">0.8</text>
<line x1="80.5" y1="2087.3" x2="87.5" y2="2087.3" stroke="#111" stroke-width="2.2"/>
<text x="36.0" y="2093.8" textLength="39.0" lengthAdjust="spacingAndGlyphs">0.7</text>
<line x1="80.5" y1="2151.3" x2="87.5" y2="2151.3" stroke="#111" stroke-width="2.2"/>
<text x="36.0" y="2157.8" textLength="39.0" lengthAdjust="spacingAndGlyphs">0.6</text>
<line x1="80.5" y1="2215.3" x2="87.5" y2="2215.3" stroke="#111" stroke-width="2.2"/>
<text x="36.0" y="2221.8" textLength="39.0" lengthAdjust="spacingAndGlyphs">0.5</text>
<line x1="104.5" y1="2245.3" x2="104.5" y2="2252.8" stroke="#111" stroke-width="2.2"/>
<text x="98.7" y="2279.9" font-size="28">0</text>
<line x1="160.5" y1="2245.3" x2="160.5" y2="2252.8" stroke="#111" stroke-width="2.2"/>
<text x="141.7" y="2279.9" font-size="28">50</text>
<line x1="216.5" y1="2245.3" x2="216.5" y2="2252.8" stroke="#111" stroke-width="2.2"/>
<text x="187.9" y="2279.9" font-size="28">100</text>
<line x1="272.5" y1="2245.3" x2="272.5" y2="2252.8" stroke="#111" stroke-width="2.2"/>
<text x="244.2" y="2279.9" font-size="28">150</text>
<line x1="328.5" y1="2245.3" x2="328.5" y2="2252.8" stroke="#111" stroke-width="2.2"/>
<text x="300.2" y="2279.9" font-size="28">200</text>
<line x1="384.5" y1="2245.3" x2="384.5" y2="2252.8" stroke="#111" stroke-width="2.2"/>
<text x="356.0" y="2279.9" font-size="28">250</text>
<line x1="440.5" y1="2245.3" x2="440.5" y2="2252.8" stroke="#111" stroke-width="2.2"/>
<text x="411.7" y="2279.9" font-size="28">300</text>
<text x="179.5" y="1862.8" textLength="181.8" lengthAdjust="spacingAndGlyphs">IG value group</text>
<text x="215.5" y="1901.5" textLength="109.0" lengthAdjust="spacingAndGlyphs">50 - 60%</text>
<text x="106.0" y="2215.0" textLength="163.0" lengthAdjust="spacingAndGlyphs">p-value: 0.19</text>
<text x="166.0" y="2315.8" textLength="236.8" lengthAdjust="spacingAndGlyphs">Timeline  (months)</text>
<path d="M104.5,1895.3H107.9H110.1V1898.5H110.8V1902.2H111.5V1905.8H112.3V1909.5H113.0V1913.1H113.7V1916.8H114.4V1920.4H115.1V1924.1H116.4V1927.8H117.7V1931.5H118.9V1935.1H120.2V1938.8H120.7V1942.4H121.1V1946.0H121.6V1949.5H122.1V1953.1H122.6V1956.6H123.1V1960.2H123.5V1963.8H125.3V1967.9H127.1V1972.0H128.9V1976.1H130.7V1980.2H132.5V1984.3H135.6V1987.9H138.7V1991.6H141.7V1995.3H144.8V1999.0H146.8V2002.8H148.7V2006.7H150.7V2010.5H152.7V2014.3H158.8V2017.9H165.0V2021.4H180.7V2025.2H198.0H205.3V2030.3H263.0H264.2V2033.2H265.4V2036.1H268.4V2039.0H271.4V2041.9H430.4" stroke="#f26a21" stroke-width="5.2" fill="none" stroke-linejoin="miter"/>
<path d="M104.5,1895.3H110.1H111.2V1898.5H112.3V1901.7H113.1V1904.9H113.8V1908.1H114.6V1911.3H122.4V1916.4H126.3V1920.3H130.3V1924.1H131.4V1928.4H132.5V1932.7H133.6V1937.1H134.7V1941.4H139.8V1945.2H144.8V1949.1H147.4V1952.5H150.0V1955.9H152.7V1959.3H157.7V1962.8H162.7V1966.3H166.8V1970.6H171.0V1974.9H175.1V1979.1H189.6V1981.7H194.1V1985.4H198.6V1989.1H203.1V1992.7H207.5V1996.4H234.4H236.7V2001.5H256.8H258.1V2005.8H259.4V2010.1H260.7V2014.3H274.7H276.2V2018.4H277.7V2022.4H279.2V2026.5H338.0V2055.3H408.0" stroke="#2a7de1" stroke-width="5.2" fill="none" stroke-linejoin="miter"/>
<path d="M494.3,1882.3 V2245.3 H852.5" stroke="#111" stroke-width="2.6" fill="none"/>
<line x1="487.3" y1="1897.8" x2="494.3" y2="1897.8" stroke="#111" stroke-width="2.2"/>
<text x="447.5" y="1904.3" textLength="38.8" lengthAdjust="spacingAndGlyphs">1.0</text>
<line x1="487.3" y1="1961.2" x2="494.3" y2="1961.2" stroke="#111" stroke-width="2.2"/>
<text x="447.5" y="1967.7" textLength="38.8" lengthAdjust="spacingAndGlyphs">0.9</text>
<line x1="487.3" y1="2024.6" x2="494.3" y2="2024.6" stroke="#111" stroke-width="2.2"/>
<text x="447.5" y="2031.1" textLength="38.8" lengthAdjust="spacingAndGlyphs">0.8</text>
<line x1="487.3" y1="2088.0" x2="494.3" y2="2088.0" stroke="#111" stroke-width="2.2"/>
<text x="447.5" y="2094.5" textLength="38.8" lengthAdjust="spacingAndGlyphs">0.7</text>
<line x1="487.3" y1="2151.4" x2="494.3" y2="2151.4" stroke="#111" stroke-width="2.2"/>
<text x="447.5" y="2157.9" textLength="38.8" lengthAdjust="spacingAndGlyphs">0.6</text>
<line x1="487.3" y1="2214.8" x2="494.3" y2="2214.8" stroke="#111" stroke-width="2.2"/>
<text x="447.5" y="2221.3" textLength="38.8" lengthAdjust="spacingAndGlyphs">0.5</text>
<line x1="513.3" y1="2245.3" x2="513.3" y2="2252.8" stroke="#111" stroke-width="2.2"/>
<text x="507.5" y="2279.9" font-size="28">0</text>
<line x1="569.3" y1="2245.3" x2="569.3" y2="2252.8" stroke="#111" stroke-width="2.2"/>
<text x="550.5" y="2279.9" font-size="28">50</text>
<line x1="625.3" y1="2245.3" x2="625.3" y2="2252.8" stroke="#111" stroke-width="2.2"/>
<text x="596.7" y="2279.9" font-size="28">100</text>
<line x1="681.3" y1="2245.3" x2="681.3" y2="2252.8" stroke="#111" stroke-width="2.2"/>
<text x="653.0" y="2279.9" font-size="28">150</text>
<line x1="737.3" y1="2245.3" x2="737.3" y2="2252.8" stroke="#111" stroke-width="2.2"/>
<text x="709.0" y="2279.9" font-size="28">200</text>
<line x1="793.3" y1="2245.3" x2="793.3" y2="2252.8" stroke="#111" stroke-width="2.2"/>
<text x="764.8" y="2279.9" font-size="28">250</text>
<line x1="849.3" y1="2245.3" x2="849.3" y2="2252.8" stroke="#111" stroke-width="2.2"/>
<text x="820.5" y="2279.9" font-size="28">300</text>
<text x="593.8" y="1862.8" textLength="182.5" lengthAdjust="spacingAndGlyphs">IG value group</text>
<text x="631.3" y="1901.5" textLength="107.5" lengthAdjust="spacingAndGlyphs">60 - 70%</text>
<text x="516.3" y="2215.0" textLength="162.5" lengthAdjust="spacingAndGlyphs">p-value: 0.54</text>
<text x="576.6" y="2321.8" textLength="237.9" lengthAdjust="spacingAndGlyphs">Timeline  (months)</text>
<path d="M513.3,1897.8H514.4H514.7V1901.0H515.0V1904.1H516.0V1908.1H517.0V1912.0H518.0V1915.9H519.0V1919.9H520.0V1923.8H520.8V1927.3H521.5V1930.9H522.3V1934.4H523.1V1938.0H523.8V1941.5H524.8V1945.2H525.7V1948.8H526.6V1952.5H527.5V1956.1H535.1V1961.2H536.1V1964.8H537.2V1968.3H538.2V1971.9H539.2V1975.4H540.2V1979.0H545.2V1982.8H550.3V1986.6H553.9V1990.4H557.5V1994.2H561.2V1997.7H564.8V2001.1H574.9V2005.6H585.0V2008.1H605.1H608.5V2011.0H611.9V2013.8H670.1H671.2V2017.3H672.3V2020.8H680.2V2025.2H682.0V2028.6H683.9V2032.0H685.8V2035.4H838.1" stroke="#f26a21" stroke-width="5.2" fill="none" stroke-linejoin="miter"/>
<path d="M513.3,1897.8H515.5H516.1V1901.0H516.7V1904.1H518.1V1908.1H519.6V1912.0H521.0V1915.9H522.5V1919.9H523.9V1923.8H525.2V1927.6H526.5V1931.4H527.7V1935.2H529.0V1939.0H531.4V1942.4H533.8V1945.8H536.3V1949.2H537.3V1952.6H538.3V1956.0H539.3V1959.4H540.3V1962.8H541.3V1966.3H543.9V1970.5H546.5V1974.7H549.1V1979.0H552.5V1983.2H555.9V1987.4H559.2V1991.6H562.6V1994.8H565.9V1998.0H569.3V2001.1H572.7V2004.5H576.0V2007.9H579.4V2011.3H594.5V2015.1H597.9V2018.9H601.2V2022.7H604.6V2026.5H608.2V2029.7H611.9V2032.8H639.9H642.1V2036.6H662.3H663.8V2040.9H665.2V2045.1H666.7V2049.3H681.3H682.4V2052.2H683.5V2055.0H744.6V2086.7H814.6" stroke="#2a7de1" stroke-width="5.2" fill="none" stroke-linejoin="miter"/>
<path d="M911.3,1882.3 V2245.3 H1271.3" stroke="#111" stroke-width="2.6" fill="none"/>
<line x1="904.3" y1="1897.8" x2="911.3" y2="1897.8" stroke="#111" stroke-width="2.2"/>
<text x="866.3" y="1904.3" textLength="37.5" lengthAdjust="spacingAndGlyphs">1.0</text>
<line x1="904.3" y1="1961.0" x2="911.3" y2="1961.0" stroke="#111" stroke-width="2.2"/>
<text x="866.3" y="1967.5" textLength="37.5" lengthAdjust="spacingAndGlyphs">0.9</text>
<line x1="904.3" y1="2024.3" x2="911.3" y2="2024.3" stroke="#111" stroke-width="2.2"/>
<text x="866.3" y="2030.8" textLength="37.5" lengthAdjust="spacingAndGlyphs">0.8</text>
<line x1="904.3" y1="2087.5" x2="911.3" y2="2087.5" stroke="#111" stroke-width="2.2"/>
<text x="866.3" y="2094.0" textLength="37.5" lengthAdjust="spacingAndGlyphs">0.7</text>
<line x1="904.3" y1="2150.8" x2="911.3" y2="2150.8" stroke="#111" stroke-width="2.2"/>
<text x="866.3" y="2157.3" textLength="37.5" lengthAdjust="spacingAndGlyphs">0.6</text>
<line x1="904.3" y1="2214.0" x2="911.3" y2="2214.0" stroke="#111" stroke-width="2.2"/>
<text x="866.3" y="2220.5" textLength="37.5" lengthAdjust="spacingAndGlyphs">0.5</text>
<line x1="927.5" y1="2245.3" x2="927.5" y2="2252.8" stroke="#111" stroke-width="2.2"/>
<text x="921.7" y="2279.9" font-size="28">0</text>
<line x1="983.5" y1="2245.3" x2="983.5" y2="2252.8" stroke="#111" stroke-width="2.2"/>
<text x="964.7" y="2279.9" font-size="28">50</text>
<line x1="1039.5" y1="2245.3" x2="1039.5" y2="2252.8" stroke="#111" stroke-width="2.2"/>
<text x="1010.9" y="2279.9" font-size="28">100</text>
<line x1="1095.5" y1="2245.3" x2="1095.5" y2="2252.8" stroke="#111" stroke-width="2.2"/>
<text x="1067.2" y="2279.9" font-size="28">150</text>
<line x1="1151.5" y1="2245.3" x2="1151.5" y2="2252.8" stroke="#111" stroke-width="2.2"/>
<text x="1123.2" y="2279.9" font-size="28">200</text>
<line x1="1207.5" y1="2245.3" x2="1207.5" y2="2252.8" stroke="#111" stroke-width="2.2"/>
<text x="1179.0" y="2279.9" font-size="28">250</text>
<line x1="1263.5" y1="2245.3" x2="1263.5" y2="2252.8" stroke="#111" stroke-width="2.2"/>
<text x="1234.7" y="2279.9" font-size="28">300</text>
<text x="1009.5" y="1862.8" textLength="181.8" lengthAdjust="spacingAndGlyphs">IG value group</text>
<text x="1046.3" y="1901.5" textLength="107.5" lengthAdjust="spacingAndGlyphs">70 - 80%</text>
<text x="927.5" y="2215.0" textLength="219.5" lengthAdjust="spacingAndGlyphs">p-value: 7.20e-08</text>
<text x="992.5" y="2321.8" textLength="237.5" lengthAdjust="spacingAndGlyphs">Timeline  (months)</text>
<path d="M927.5,1897.8H928.6H929.2V1901.0H929.7V1904.1H931.1V1907.9H932.4V1911.7H933.7V1915.5H935.0V1919.3H936.6V1922.7H938.2V1926.0H939.8V1929.4H944.9V1932.9H949.9V1936.4H951.5V1939.7H953.2V1943.1H954.8V1946.5H959.6V1950.3H964.5V1954.1H969.5V1957.9H974.5V1961.7H984.6V1965.5H1019.3V1966.7H1023.3V1970.2H1027.2V1973.7H1086.5V1980.0H1252.3" stroke="#f26a21" stroke-width="5.2" fill="none" stroke-linejoin="miter"/>
<path d="M927.5,1897.8H929.7H930.5V1901.6H931.2V1905.4H932.0V1909.2H932.7V1913.0H933.5V1916.8H934.3V1920.6H935.0V1924.4H936.2V1928.0H937.4V1931.6H938.6V1935.3H939.8V1938.9H940.3V1943.0H940.7V1947.0H941.2V1951.0H941.6V1955.1H942.1V1959.1H944.7V1962.5H947.3V1965.9H949.9V1969.3H950.6V1972.8H951.3V1976.3H952.0V1979.8H952.7V1983.4H953.4V1986.9H954.1V1990.4H954.8V1993.9H958.0V1997.3H961.2V2000.7H964.5V2004.0H966.3V2007.4H968.2V2010.8H970.1V2014.2H970.8V2018.4H971.6V2022.6H972.3V2026.8H982.4V2031.9H984.9V2035.2H987.4V2038.6H989.9V2042.0H994.9V2046.1H999.9V2050.2H1012.4V2051.5H1017.5V2055.3H1022.7V2059.1H1030.0V2064.1H1055.2H1057.4V2067.9H1077.6H1079.1V2071.3H1080.6V2074.7H1082.1V2078.0H1094.4H1096.1V2082.0H1097.7V2085.9H1099.4V2089.9H1101.1V2093.8H1159.3V2120.4H1238.9" stroke="#2a7de1" stroke-width="5.2" fill="none" stroke-linejoin="miter"/>
<path d="M1328.3,1877.3 V2241.0 H1687.0" stroke="#111" stroke-width="2.6" fill="none"/>
<line x1="1321.3" y1="1892.8" x2="1328.3" y2="1892.8" stroke="#111" stroke-width="2.2"/>
<text x="1281.3" y="1899.3" textLength="37.5" lengthAdjust="spacingAndGlyphs">1.0</text>
<line x1="1321.3" y1="1956.1" x2="1328.3" y2="1956.1" stroke="#111" stroke-width="2.2"/>
<text x="1281.3" y="1962.6" textLength="37.5" lengthAdjust="spacingAndGlyphs">0.9</text>
<line x1="1321.3" y1="2019.5" x2="1328.3" y2="2019.5" stroke="#111" stroke-width="2.2"/>
<text x="1281.3" y="2026.0" textLength="37.5" lengthAdjust="spacingAndGlyphs">0.8</text>
<line x1="1321.3" y1="2082.8" x2="1328.3" y2="2082.8" stroke="#111" stroke-width="2.2"/>
<text x="1281.3" y="2089.3" textLength="37.5" lengthAdjust="spacingAndGlyphs">0.7</text>
<line x1="1321.3" y1="2146.2" x2="1328.3" y2="2146.2" stroke="#111" stroke-width="2.2"/>
<text x="1281.3" y="2152.7" textLength="37.5" lengthAdjust="spacingAndGlyphs">0.6</text>
<line x1="1321.3" y1="2209.5" x2="1328.3" y2="2209.5" stroke="#111" stroke-width="2.2"/>
<text x="1281.3" y="2216.0" textLength="37.5" lengthAdjust="spacingAndGlyphs">0.5</text>
<line x1="1343.3" y1="2241.0" x2="1343.3" y2="2248.5" stroke="#111" stroke-width="2.2"/>
<text x="1337.5" y="2275.6" font-size="28">0</text>
<line x1="1399.3" y1="2241.0" x2="1399.3" y2="2248.5" stroke="#111" stroke-width="2.2"/>
<text x="1380.5" y="2275.6" font-size="28">50</text>
<line x1="1455.3" y1="2241.0" x2="1455.3" y2="2248.5" stroke="#111" stroke-width="2.2"/>
<text x="1426.7" y="2275.6" font-size="28">100</text>
<line x1="1511.3" y1="2241.0" x2="1511.3" y2="2248.5" stroke="#111" stroke-width="2.2"/>
<text x="1483.0" y="2275.6" font-size="28">150</text>
<line x1="1567.3" y1="2241.0" x2="1567.3" y2="2248.5" stroke="#111" stroke-width="2.2"/>
<text x="1539.0" y="2275.6" font-size="28">200</text>
<line x1="1623.3" y1="2241.0" x2="1623.3" y2="2248.5" stroke="#111" stroke-width="2.2"/>
<text x="1594.8" y="2275.6" font-size="28">250</text>
<line x1="1679.3" y1="2241.0" x2="1679.3" y2="2248.5" stroke="#111" stroke-width="2.2"/>
<text x="1650.5" y="2275.6" font-size="28">300</text>
<text x="1420.0" y="1862.8" textLength="182.5" lengthAdjust="spacingAndGlyphs">IG value group</text>
<text x="1456.3" y="1901.5" textLength="108.7" lengthAdjust="spacingAndGlyphs">80 - 90%</text>
<text x="1341.3" y="2215.0" textLength="218.7" lengthAdjust="spacingAndGlyphs">p-value: 1.54e-27</text>
<text x="1411.3" y="2321.8" textLength="237.5" lengthAdjust="spacingAndGlyphs">Timeline  (months)</text>
<path d="M1343.3,1892.8H1345.5H1350.8V1895.3H1353.4V1899.1H1367.9H1370.7V1903.6H1373.5V1908.0H1383.6V1911.8H1393.7V1915.6H1406.0V1918.8H1444.1H1446.3V1921.9H1473.2H1475.5V1927.0H1498.4H1500.1V1932.7H1670.3" stroke="#f26a21" stroke-width="5.2" fill="none" stroke-linejoin="miter"/>
<path d="M1343.3,1892.8H1345.5H1347.0V1897.2H1348.5V1901.7H1349.3V1905.4H1350.1V1909.1H1350.9V1912.8H1351.7V1916.4H1352.6V1920.1H1353.4V1923.8H1353.9V1927.6H1354.5V1931.4H1355.1V1935.2H1355.6V1939.0H1356.1V1942.7H1356.6V1946.3H1357.1V1949.9H1357.7V1953.5H1358.2V1957.2H1358.7V1960.8H1359.2V1964.4H1359.7V1968.1H1360.2V1971.7H1360.7V1975.3H1361.2V1978.9H1363.0V1982.7H1364.9V1986.5H1366.7V1990.3H1368.5V1994.1H1369.1V1997.9H1369.8V2001.6H1370.4V2005.3H1371.0V2009.0H1371.6V2012.8H1372.3V2016.5H1372.9V2020.2H1373.5V2023.9H1376.0V2027.3H1378.4V2030.7H1380.8V2034.0H1382.6V2037.8H1384.5V2041.6H1386.3V2045.4H1388.1V2049.2H1390.0V2052.6H1391.8V2056.0H1393.7V2059.4H1396.1V2062.6H1398.6V2065.7H1401.0V2068.9H1406.0V2073.3H1411.1V2077.8H1414.7V2080.9H1418.3V2084.1H1430.7H1434.0V2088.2H1437.4V2092.3H1440.7V2096.4H1444.1V2100.6H1494.5H1497.3V2103.7H1500.1V2106.9H1510.2V2111.3H1512.1V2115.1H1514.1V2118.9H1516.1V2122.7H1518.0V2126.5H1576.3V2148.1H1656.9" stroke="#2a7de1" stroke-width="5.2" fill="none" stroke-linejoin="miter"/>
<path d="M1748.3,1878.0 V2242.0 H2109.5" stroke="#111" stroke-width="2.6" fill="none"/>
<line x1="1741.3" y1="1893.5" x2="1748.3" y2="1893.5" stroke="#111" stroke-width="2.2"/>
<text x="1702.0" y="1900.0" textLength="38.8" lengthAdjust="spacingAndGlyphs">1.0</text>
<line x1="1741.3" y1="1957.0" x2="1748.3" y2="1957.0" stroke="#111" stroke-width="2.2"/>
<text x="1702.0" y="1963.5" textLength="38.8" lengthAdjust="spacingAndGlyphs">0.9</text>
<line x1="1741.3" y1="2020.4" x2="1748.3" y2="2020.4" stroke="#111" stroke-width="2.2"/>
<text x="1702.0" y="2026.9" textLength="38.8" lengthAdjust="spacingAndGlyphs">0.8</text>
<line x1="1741.3" y1="2083.9" x2="1748.3" y2="2083.9" stroke="#111" stroke-width="2.2"/>
<text x="1702.0" y="2090.4" textLength="38.8" lengthAdjust="spacingAndGlyphs">0.7</text>
<line x1="1741.3" y1="2147.3" x2="1748.3" y2="2147.3" stroke="#111" stroke-width="2.2"/>
<text x="1702.0" y="2153.8" textLength="38.8" lengthAdjust="spacingAndGlyphs">0.6</text>
<line x1="1741.3" y1="2210.8" x2="1748.3" y2="2210.8" stroke="#111" stroke-width="2.2"/>
<text x="1702.0" y="2217.3" textLength="38.8" lengthAdjust="spacingAndGlyphs">0.5</text>
<line x1="1766.5" y1="2242.0" x2="1766.5" y2="2249.5" stroke="#111" stroke-width="2.2"/>
<text x="1760.7" y="2276.6" font-size="28">0</text>
<line x1="1822.5" y1="2242.0" x2="1822.5" y2="2249.5" stroke="#111" stroke-width="2.2"/>
<text x="1803.7" y="2276.6" font-size="28">50</text>
<line x1="1878.5" y1="2242.0" x2="1878.5" y2="2249.5" stroke="#111" stroke-width="2.2"/>
<text x="1849.9" y="2276.6" font-size="28">100</text>
<line x1="1934.5" y1="2242.0" x2="1934.5" y2="2249.5" stroke="#111" stroke-width="2.2"/>
<text x="1906.2" y="2276.6" font-size="28">150</text>
<line x1="1990.5" y1="2242.0" x2="1990.5" y2="2249.5" stroke="#111" stroke-width="2.2"/>
<text x="1962.2" y="2276.6" font-size="28">200</text>
<line x1="2046.5" y1="2242.0" x2="2046.5" y2="2249.5" stroke="#111" stroke-width="2.2"/>
<text x="2018.0" y="2276.6" font-size="28">250</text>
<line x1="2102.5" y1="2242.0" x2="2102.5" y2="2249.5" stroke="#111" stroke-width="2.2"/>
<text x="2073.7" y="2276.6" font-size="28">300</text>
<text x="1847.5" y="1862.8" textLength="182.0" lengthAdjust="spacingAndGlyphs">IG value group</text>
<text x="1875.8" y="1901.5" textLength="123.7" lengthAdjust="spacingAndGlyphs">90 - 100%</text>
<text x="1759.5" y="2215.0" textLength="220.0" lengthAdjust="spacingAndGlyphs">p-value: 6.89e-29</text>
<text x="1837.0" y="2321.8" textLength="236.3" lengthAdjust="spacingAndGlyphs">Timeline  (months)</text>
<path d="M1766.5,1893.5H1767.6V1896.7H1790.8H1792.1V1900.5H1793.4V1904.3H1796.7V1907.5H1802.3V1911.3H1812.4V1913.8H1828.1V1914.4H1830.3V1917.6H1855.0H1857.8V1920.2H1870.3V1923.3H1896.4H1898.7V1928.4H1919.4H1922.2V1932.8H1923.3V1936.0H1924.4V1939.2H1926.1V1943.6H1927.8V1948.1H2096.9" stroke="#f26a21" stroke-width="5.2" fill="none" stroke-linejoin="miter"/>
<path d="M1766.5,1893.5H1767.6H1768.4V1897.3H1769.2V1901.1H1770.0V1904.9H1770.8V1908.7H1771.5V1912.4H1772.2V1916.0H1772.9V1919.6H1773.6V1923.2H1774.4V1926.9H1775.1V1930.5H1775.8V1934.1H1776.1V1937.7H1776.5V1941.2H1776.9V1944.7H1777.2V1948.3H1777.6V1951.8H1777.9V1955.3H1778.3V1958.9H1778.9V1962.7H1779.5V1966.5H1780.2V1970.3H1780.8V1974.1H1781.4V1977.9H1782.0V1981.7H1782.7V1985.5H1783.3V1989.3H1784.5V1993.0H1785.7V1996.6H1786.9V2000.3H1788.1V2003.9H1788.8V2007.5H1789.6V2011.2H1790.3V2014.8H1791.0V2018.4H1791.7V2022.1H1792.4V2025.7H1793.2V2029.3H1795.6V2033.0H1798.1V2036.6H1800.6V2040.3H1803.1V2043.9H1804.6V2047.5H1806.2V2051.0H1807.7V2054.6H1809.2V2058.1H1810.7V2061.7H1811.7V2065.7H1812.8V2069.8H1813.8V2073.9H1814.8V2077.9H1815.8V2082.0H1818.2V2085.1H1820.7V2088.3H1823.2V2091.5H1828.2V2095.3H1833.1V2099.1H1835.6V2102.9H1838.0V2106.7H1840.4V2110.5H1855.5V2113.1H1859.2V2116.2H1862.8V2119.4H1865.3V2122.6H1867.9V2125.8H1934.5H1936.2V2129.9H1937.9V2134.0H1939.6V2137.4H1941.3V2140.8H1943.0V2144.2H2002.3V2167.0H2082.3" stroke="#2a7de1" stroke-width="5.2" fill="none" stroke-linejoin="miter"/>
</svg>
</body></html>
